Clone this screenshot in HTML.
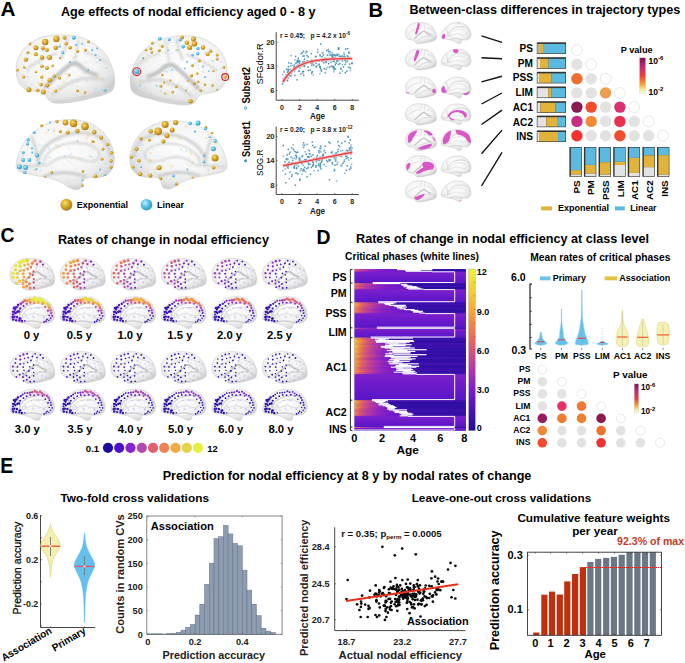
<!DOCTYPE html><html><head><meta charset="utf-8"><style>html,body{margin:0;padding:0;background:#fff;overflow:hidden}svg{display:block}text{font-family:"Liberation Sans",sans-serif}</style></head><body><svg width="685" height="663" viewBox="0 0 685 663" font-family="Liberation Sans, sans-serif"><defs><radialGradient id="bg" cx="0.45" cy="0.4" r="0.62"><stop offset="0" stop-color="#fefefe"/><stop offset="0.6" stop-color="#f4f4f4"/><stop offset="0.86" stop-color="#e4e4e4"/><stop offset="1" stop-color="#cdcdcd"/></radialGradient><radialGradient id="gold" cx="0.38" cy="0.35" r="0.65"><stop offset="0" stop-color="#f7de7a"/><stop offset="0.45" stop-color="#deae2c"/><stop offset="1" stop-color="#a87c12"/></radialGradient><radialGradient id="blue" cx="0.38" cy="0.35" r="0.65"><stop offset="0" stop-color="#c4f0fb"/><stop offset="0.45" stop-color="#62c6ea"/><stop offset="1" stop-color="#2f98c4"/></radialGradient><filter id="sb" x="-10%" y="-10%" width="120%" height="120%"><feGaussianBlur stdDeviation="0.9"/></filter><clipPath id="clat"><path d="M0.1,36.1 C0,32.5 0.4,28.8 1.5,25.3 C2.6,21.9 4.6,18.2 6.8,15.4 C9,12.6 11.9,10.3 14.8,8.2 C17.8,6.1 20.8,4.1 24.5,2.7 C28.2,1.3 33.1,0.5 36.9,0 C40.7,-0.5 44,-0.1 47.5,0 C51,0.1 54.7,0.3 58.2,0.9 C61.8,1.5 65.6,2.4 68.8,3.6 C72,4.8 74.8,6.4 77.6,8.2 C80.4,10 83.2,12.2 85.6,14.5 C88,16.8 90,19 91.8,21.7 C93.6,24.4 95,27.7 96.2,30.7 C97.4,33.7 98.3,36.7 98.9,39.7 C99.5,42.7 99.9,46 99.7,48.7 C99.5,51.4 99,54.1 98,55.9 C97,57.7 95.5,58.5 93.6,59.6 C91.7,60.7 89.5,61.4 86.5,62.3 C83.5,63.2 79.5,64.1 75.9,65 C72.4,65.9 68.8,67 65.2,67.7 C61.7,68.5 58.1,69 54.6,69.5 C51.1,70 47,70.4 44,70.4 C41,70.4 38.8,70.1 36.9,69.5 C35,68.9 33.6,68 32.5,66.8 C31.4,65.6 31.2,63.5 30.2,62.3 C29.2,61.1 28.1,60.3 26.3,59.6 C24.5,58.9 21.6,58.6 19.2,58.1 C16.8,57.6 14.4,57.6 12.2,56.8 C10,56 7.7,54.9 6,53.2 C4.3,51.6 2.9,49.8 1.9,46.9 C0.9,44 0.2,39.7 0.1,36.1Z"/></clipPath><clipPath id="cmed"><path d="M0.1,46.1 C0.2,43.9 0.9,40.1 2,36.7 C3.1,33.3 4.7,28.9 6.8,25.5 C8.9,22.1 11.6,18.9 14.5,16.1 C17.4,13.3 20.6,10.8 24.1,8.6 C27.6,6.4 31.5,4.3 35.6,3 C39.8,1.7 44.9,1.2 49,0.8 C53.1,0.4 56.7,0.4 60.5,0.8 C64.3,1.2 68.5,1.8 72,3 C75.5,4.2 78.7,5.8 81.6,7.7 C84.5,9.6 87.1,11.8 89.3,14.3 C91.5,16.8 93.5,19.8 95,22.7 C96.5,25.6 97.8,29 98.5,32 C99.2,35 99.5,37.9 99.4,40.5 C99.3,43.1 98.8,45.7 97.9,47.9 C97,50.1 95.6,52 94,53.5 C92.4,55 90.7,56.1 88.3,56.9 C85.9,57.7 82.4,58 79.7,58.2 C77,58.4 73.9,57.9 72,58.2 C70.1,58.5 69,59 68.2,60.1 C67.4,61.2 67.7,63.4 67.2,64.8 C66.7,66.2 66.4,67.6 65.3,68.5 C64.2,69.4 62.2,70 60.5,70 C58.8,70 56.7,69.4 54.8,68.5 C52.9,67.6 51.2,66 49,64.8 C46.8,63.5 44.2,62.1 41.3,61 C38.4,59.9 35,59 31.8,58.2 C28.6,57.4 25.4,57 22.2,56.4 C19,55.8 15.5,55.1 12.6,54.5 C9.7,53.9 6.8,53.4 4.9,52.6 C3,51.8 1.9,50.9 1.1,49.8 C0.3,48.7 -0,48.3 0.1,46.1Z"/></clipPath><linearGradient id="pv" x1="0" y1="0" x2="0" y2="1"><stop offset="0" stop-color="#7a1050"/><stop offset="0.25" stop-color="#c42a78"/><stop offset="0.5" stop-color="#f03a3a"/><stop offset="0.72" stop-color="#f59a30"/><stop offset="0.88" stop-color="#f6e79a"/><stop offset="1" stop-color="#fdfbe8"/></linearGradient><linearGradient id="gPS0"><stop offset="0" stop-color="#e36462"/><stop offset="0.03" stop-color="#d5537b"/><stop offset="0.06" stop-color="#c64590"/><stop offset="0.1" stop-color="#b539a4"/><stop offset="0.14" stop-color="#a52fb2"/><stop offset="0.19" stop-color="#9427be"/><stop offset="0.25" stop-color="#8420c6"/><stop offset="0.33" stop-color="#781bcb"/><stop offset="0.38" stop-color="#721ac9"/><stop offset="0.38" stop-color="#390fa9"/><stop offset="1" stop-color="#360fa7"/></linearGradient><linearGradient id="gPS1"><stop offset="0" stop-color="#e46462"/><stop offset="0.03" stop-color="#d3527e"/><stop offset="0.06" stop-color="#c34295"/><stop offset="0.1" stop-color="#af35a9"/><stop offset="0.14" stop-color="#9f2bb8"/><stop offset="0.19" stop-color="#8d24c1"/><stop offset="0.25" stop-color="#7e1dc9"/><stop offset="0.33" stop-color="#741ac9"/><stop offset="0.41" stop-color="#6d18c7"/><stop offset="0.45" stop-color="#6c18c6"/><stop offset="0.45" stop-color="#350ea6"/><stop offset="1" stop-color="#330ea5"/></linearGradient><linearGradient id="gPS2"><stop offset="0" stop-color="#da5873"/><stop offset="0.03" stop-color="#c8478e"/><stop offset="0.06" stop-color="#b73aa2"/><stop offset="0.1" stop-color="#a42eb3"/><stop offset="0.14" stop-color="#9527bd"/><stop offset="0.19" stop-color="#8520c6"/><stop offset="0.25" stop-color="#781bcb"/><stop offset="0.33" stop-color="#7019c8"/><stop offset="0.41" stop-color="#6b18c6"/><stop offset="0.46" stop-color="#6a18c6"/><stop offset="0.46" stop-color="#2d0ca0"/><stop offset="1" stop-color="#2c0c9f"/></linearGradient><linearGradient id="rPS" x1="0" y1="0" x2="0" y2="1"><stop offset="0" stop-color="#7e20cc"/><stop offset="0.5" stop-color="#6a1acb"/><stop offset="1" stop-color="#5816c6"/></linearGradient><linearGradient id="gPM0"><stop offset="0" stop-color="#ee7b4d"/><stop offset="0.03" stop-color="#e06069"/><stop offset="0.06" stop-color="#ce4d85"/><stop offset="0.1" stop-color="#ba3c9f"/><stop offset="0.14" stop-color="#a730b1"/><stop offset="0.16" stop-color="#9c2ab9"/><stop offset="0.16" stop-color="#4611b2"/><stop offset="1" stop-color="#4211af"/></linearGradient><linearGradient id="gPM1"><stop offset="0" stop-color="#f08646"/><stop offset="0.03" stop-color="#e86a5a"/><stop offset="0.06" stop-color="#da5873"/><stop offset="0.1" stop-color="#c8488d"/><stop offset="0.14" stop-color="#b83ba1"/><stop offset="0.19" stop-color="#a42eb3"/><stop offset="0.25" stop-color="#9025c0"/><stop offset="0.33" stop-color="#7f1ec8"/><stop offset="0.41" stop-color="#741aca"/><stop offset="0.42" stop-color="#741ac9"/><stop offset="0.42" stop-color="#350ea6"/><stop offset="1" stop-color="#330ea4"/></linearGradient><linearGradient id="gPM2"><stop offset="0" stop-color="#ea6e56"/><stop offset="0.03" stop-color="#dc5c6f"/><stop offset="0.06" stop-color="#ce4d85"/><stop offset="0.1" stop-color="#be3f9a"/><stop offset="0.14" stop-color="#ae35aa"/><stop offset="0.19" stop-color="#9c2ab9"/><stop offset="0.25" stop-color="#8a23c3"/><stop offset="0.33" stop-color="#7c1dca"/><stop offset="0.41" stop-color="#731ac9"/><stop offset="0.42" stop-color="#721ac9"/><stop offset="0.42" stop-color="#2a0c9e"/><stop offset="1" stop-color="#290b9d"/></linearGradient><linearGradient id="gPM3"><stop offset="0" stop-color="#ef8149"/><stop offset="0.03" stop-color="#e46561"/><stop offset="0.06" stop-color="#d5537b"/><stop offset="0.1" stop-color="#c24296"/><stop offset="0.14" stop-color="#b036a8"/><stop offset="0.19" stop-color="#9c2aba"/><stop offset="0.25" stop-color="#8822c4"/><stop offset="0.33" stop-color="#791bcb"/><stop offset="0.41" stop-color="#7119c8"/><stop offset="0.44" stop-color="#6f19c8"/><stop offset="0.44" stop-color="#2c0c9f"/><stop offset="1" stop-color="#2b0c9e"/></linearGradient><linearGradient id="gPM4"><stop offset="0" stop-color="#e36463"/><stop offset="0.03" stop-color="#d5547a"/><stop offset="0.06" stop-color="#c7468f"/><stop offset="0.1" stop-color="#b63aa2"/><stop offset="0.14" stop-color="#a730b0"/><stop offset="0.19" stop-color="#9628bc"/><stop offset="0.25" stop-color="#8621c5"/><stop offset="0.33" stop-color="#791bcb"/><stop offset="0.41" stop-color="#7119c8"/><stop offset="0.44" stop-color="#7019c8"/><stop offset="0.44" stop-color="#4511b1"/><stop offset="1" stop-color="#4110ae"/></linearGradient><linearGradient id="gPM5"><stop offset="0" stop-color="#ec7651"/><stop offset="0.03" stop-color="#e06069"/><stop offset="0.06" stop-color="#d15080"/><stop offset="0.1" stop-color="#c04098"/><stop offset="0.14" stop-color="#af35a9"/><stop offset="0.19" stop-color="#9d2ab9"/><stop offset="0.25" stop-color="#8a22c3"/><stop offset="0.33" stop-color="#7b1ccb"/><stop offset="0.41" stop-color="#721ac9"/><stop offset="0.47" stop-color="#6e19c7"/><stop offset="0.47" stop-color="#2a0c9e"/><stop offset="1" stop-color="#290b9d"/></linearGradient><linearGradient id="gPM6"><stop offset="0" stop-color="#e56660"/><stop offset="0.03" stop-color="#d75578"/><stop offset="0.06" stop-color="#c8478d"/><stop offset="0.1" stop-color="#b73aa1"/><stop offset="0.14" stop-color="#a831b0"/><stop offset="0.19" stop-color="#9728bc"/><stop offset="0.25" stop-color="#8621c5"/><stop offset="0.33" stop-color="#791bcb"/><stop offset="0.41" stop-color="#7119c8"/><stop offset="0.46" stop-color="#6e19c7"/><stop offset="0.46" stop-color="#320ea4"/><stop offset="1" stop-color="#300da3"/></linearGradient><linearGradient id="gPM7"><stop offset="0" stop-color="#e06069"/><stop offset="0.03" stop-color="#d04f82"/><stop offset="0.06" stop-color="#c14197"/><stop offset="0.1" stop-color="#af35a9"/><stop offset="0.14" stop-color="#a02cb7"/><stop offset="0.19" stop-color="#8e24c1"/><stop offset="0.25" stop-color="#7f1ec8"/><stop offset="0.33" stop-color="#751aca"/><stop offset="0.41" stop-color="#6e19c7"/><stop offset="0.48" stop-color="#6b18c6"/><stop offset="0.48" stop-color="#270b9c"/><stop offset="1" stop-color="#270b9b"/></linearGradient><linearGradient id="rPM" x1="0" y1="0" x2="0" y2="1"><stop offset="0" stop-color="#7e20cc"/><stop offset="0.5" stop-color="#6a1acb"/><stop offset="1" stop-color="#5816c6"/></linearGradient><linearGradient id="gPSS0"><stop offset="0" stop-color="#f5b336"/><stop offset="0.03" stop-color="#f28e42"/><stop offset="0.06" stop-color="#ea6f55"/><stop offset="0.1" stop-color="#da5874"/><stop offset="0.14" stop-color="#c7478e"/><stop offset="0.19" stop-color="#b136a7"/><stop offset="0.21" stop-color="#a730b1"/><stop offset="0.21" stop-color="#4611b2"/><stop offset="1" stop-color="#4211af"/></linearGradient><linearGradient id="gPSS1"><stop offset="0" stop-color="#f4b934"/><stop offset="0.03" stop-color="#f39241"/><stop offset="0.06" stop-color="#eb7054"/><stop offset="0.1" stop-color="#d95874"/><stop offset="0.14" stop-color="#c64690"/><stop offset="0.19" stop-color="#ae35aa"/><stop offset="0.25" stop-color="#9628bc"/><stop offset="0.27" stop-color="#9125bf"/><stop offset="0.27" stop-color="#380fa8"/><stop offset="1" stop-color="#360fa7"/></linearGradient><linearGradient id="gPSS2"><stop offset="0" stop-color="#f4b635"/><stop offset="0.03" stop-color="#f29041"/><stop offset="0.06" stop-color="#eb7054"/><stop offset="0.1" stop-color="#da5873"/><stop offset="0.14" stop-color="#c7478e"/><stop offset="0.19" stop-color="#b036a8"/><stop offset="0.25" stop-color="#9829bb"/><stop offset="0.28" stop-color="#9025c0"/><stop offset="0.28" stop-color="#4311b0"/><stop offset="1" stop-color="#3f10ad"/></linearGradient><linearGradient id="gPSS3"><stop offset="0" stop-color="#f5ac38"/><stop offset="0.03" stop-color="#f18745"/><stop offset="0.06" stop-color="#e8695b"/><stop offset="0.1" stop-color="#d6547a"/><stop offset="0.14" stop-color="#c34394"/><stop offset="0.19" stop-color="#ac33ac"/><stop offset="0.25" stop-color="#9527bd"/><stop offset="0.31" stop-color="#8520c5"/><stop offset="0.31" stop-color="#3e10ac"/><stop offset="1" stop-color="#3a10aa"/></linearGradient><linearGradient id="gPSS4"><stop offset="0" stop-color="#f5a839"/><stop offset="0.03" stop-color="#f08447"/><stop offset="0.06" stop-color="#e7685d"/><stop offset="0.1" stop-color="#d5537b"/><stop offset="0.14" stop-color="#c34394"/><stop offset="0.19" stop-color="#ac33ac"/><stop offset="0.25" stop-color="#9627bd"/><stop offset="0.33" stop-color="#821fc7"/><stop offset="0.35" stop-color="#7d1dca"/><stop offset="0.35" stop-color="#320ea4"/><stop offset="1" stop-color="#300da3"/></linearGradient><linearGradient id="gPSS5"><stop offset="0" stop-color="#f5b436"/><stop offset="0.03" stop-color="#f39141"/><stop offset="0.06" stop-color="#ec7352"/><stop offset="0.1" stop-color="#dd5c6f"/><stop offset="0.14" stop-color="#cc4b88"/><stop offset="0.19" stop-color="#b63aa2"/><stop offset="0.25" stop-color="#9f2bb8"/><stop offset="0.33" stop-color="#8922c3"/><stop offset="0.38" stop-color="#7f1ec9"/><stop offset="0.38" stop-color="#310da3"/><stop offset="1" stop-color="#300da2"/></linearGradient><linearGradient id="gPSS6"><stop offset="0" stop-color="#f49a3e"/><stop offset="0.03" stop-color="#ed7a4e"/><stop offset="0.06" stop-color="#e26364"/><stop offset="0.1" stop-color="#d15080"/><stop offset="0.14" stop-color="#c14197"/><stop offset="0.19" stop-color="#ab33ad"/><stop offset="0.25" stop-color="#9627bd"/><stop offset="0.33" stop-color="#831fc7"/><stop offset="0.38" stop-color="#791bcb"/><stop offset="0.38" stop-color="#3e10ac"/><stop offset="1" stop-color="#3a10aa"/></linearGradient><linearGradient id="gPSS7"><stop offset="0" stop-color="#f49c3d"/><stop offset="0.03" stop-color="#ee7b4d"/><stop offset="0.06" stop-color="#e36363"/><stop offset="0.1" stop-color="#d25080"/><stop offset="0.14" stop-color="#c14197"/><stop offset="0.19" stop-color="#ab33ad"/><stop offset="0.25" stop-color="#9527bd"/><stop offset="0.33" stop-color="#831fc7"/><stop offset="0.4" stop-color="#771bca"/><stop offset="0.4" stop-color="#320ea4"/><stop offset="1" stop-color="#310da3"/></linearGradient><linearGradient id="gPSS8"><stop offset="0" stop-color="#f28e42"/><stop offset="0.03" stop-color="#e86a59"/><stop offset="0.06" stop-color="#d75578"/><stop offset="0.1" stop-color="#c24295"/><stop offset="0.14" stop-color="#ae35aa"/><stop offset="0.19" stop-color="#9829bb"/><stop offset="0.25" stop-color="#8420c6"/><stop offset="0.33" stop-color="#761bca"/><stop offset="0.41" stop-color="#6f19c7"/><stop offset="0.45" stop-color="#6d18c7"/><stop offset="0.45" stop-color="#3d10ac"/><stop offset="1" stop-color="#390fa9"/></linearGradient><linearGradient id="gPSS9"><stop offset="0" stop-color="#f39241"/><stop offset="0.03" stop-color="#ea6f55"/><stop offset="0.06" stop-color="#db5972"/><stop offset="0.1" stop-color="#c64690"/><stop offset="0.14" stop-color="#b338a5"/><stop offset="0.19" stop-color="#9e2bb8"/><stop offset="0.25" stop-color="#8822c4"/><stop offset="0.33" stop-color="#791bcb"/><stop offset="0.41" stop-color="#7019c8"/><stop offset="0.5" stop-color="#6c18c6"/><stop offset="0.5" stop-color="#270b9c"/><stop offset="1" stop-color="#270b9b"/></linearGradient><linearGradient id="gPSS10"><stop offset="0" stop-color="#f08547"/><stop offset="0.03" stop-color="#e8695b"/><stop offset="0.06" stop-color="#d95874"/><stop offset="0.1" stop-color="#c8478e"/><stop offset="0.14" stop-color="#b73aa1"/><stop offset="0.19" stop-color="#a32eb4"/><stop offset="0.25" stop-color="#8f25c0"/><stop offset="0.33" stop-color="#7f1ec9"/><stop offset="0.41" stop-color="#741ac9"/><stop offset="0.52" stop-color="#6d18c7"/><stop offset="0.52" stop-color="#330ea4"/><stop offset="1" stop-color="#310da3"/></linearGradient><linearGradient id="gPSS11"><stop offset="0" stop-color="#f28b43"/><stop offset="0.03" stop-color="#ea6d56"/><stop offset="0.06" stop-color="#dc5b70"/><stop offset="0.1" stop-color="#cb4a8a"/><stop offset="0.14" stop-color="#ba3c9f"/><stop offset="0.19" stop-color="#a62fb2"/><stop offset="0.25" stop-color="#9125bf"/><stop offset="0.33" stop-color="#801ec8"/><stop offset="0.41" stop-color="#751aca"/><stop offset="0.53" stop-color="#6e19c7"/><stop offset="0.53" stop-color="#6d18c7"/><stop offset="0.53" stop-color="#3d10ac"/><stop offset="1" stop-color="#3a10aa"/></linearGradient><linearGradient id="gPSS12"><stop offset="0" stop-color="#ec7551"/><stop offset="0.03" stop-color="#df5f6a"/><stop offset="0.06" stop-color="#d04f82"/><stop offset="0.1" stop-color="#bf3f9a"/><stop offset="0.14" stop-color="#ae34aa"/><stop offset="0.19" stop-color="#9b2aba"/><stop offset="0.25" stop-color="#8922c4"/><stop offset="0.33" stop-color="#7a1ccb"/><stop offset="0.41" stop-color="#721ac9"/><stop offset="0.53" stop-color="#6c18c6"/><stop offset="0.59" stop-color="#6a18c6"/><stop offset="0.59" stop-color="#390fa9"/><stop offset="1" stop-color="#370fa7"/></linearGradient><linearGradient id="rPSS" x1="0" y1="0" x2="0" y2="1"><stop offset="0" stop-color="#7e20cc"/><stop offset="0.5" stop-color="#6a1acb"/><stop offset="1" stop-color="#5816c6"/></linearGradient><linearGradient id="gLIM0"><stop offset="0" stop-color="#e7685c"/><stop offset="0.03" stop-color="#d85677"/><stop offset="0.06" stop-color="#c8478d"/><stop offset="0.1" stop-color="#b63aa2"/><stop offset="0.14" stop-color="#a630b1"/><stop offset="0.19" stop-color="#9427bd"/><stop offset="0.2" stop-color="#9125bf"/><stop offset="0.2" stop-color="#2e0da1"/><stop offset="1" stop-color="#2c0ca0"/></linearGradient><linearGradient id="rLIM" x1="0" y1="0" x2="0" y2="1"><stop offset="0" stop-color="#7e20cc"/><stop offset="0.5" stop-color="#6a1acb"/><stop offset="1" stop-color="#5816c6"/></linearGradient><linearGradient id="gAC10"><stop offset="0" stop-color="#f0d930"/><stop offset="0.03" stop-color="#f5b436"/><stop offset="0.06" stop-color="#f39141"/><stop offset="0.1" stop-color="#ea6e56"/><stop offset="0.14" stop-color="#da5973"/><stop offset="0.14" stop-color="#d85677"/><stop offset="0.14" stop-color="#4311b0"/><stop offset="1" stop-color="#3f10ad"/></linearGradient><linearGradient id="gAC11"><stop offset="0" stop-color="#f1d130"/><stop offset="0.03" stop-color="#f5a43b"/><stop offset="0.06" stop-color="#ee7c4d"/><stop offset="0.1" stop-color="#dd5c6e"/><stop offset="0.14" stop-color="#c8478e"/><stop offset="0.18" stop-color="#af35a9"/><stop offset="0.18" stop-color="#390fa9"/><stop offset="1" stop-color="#370fa7"/></linearGradient><linearGradient id="gAC12"><stop offset="0" stop-color="#f1d030"/><stop offset="0.03" stop-color="#f5a73a"/><stop offset="0.06" stop-color="#f08348"/><stop offset="0.1" stop-color="#e26265"/><stop offset="0.14" stop-color="#d04e83"/><stop offset="0.19" stop-color="#b83ba1"/><stop offset="0.21" stop-color="#ac33ac"/><stop offset="0.21" stop-color="#310da3"/><stop offset="1" stop-color="#300da2"/></linearGradient><linearGradient id="gAC13"><stop offset="0" stop-color="#efdc30"/><stop offset="0.03" stop-color="#f5b436"/><stop offset="0.06" stop-color="#f28d42"/><stop offset="0.1" stop-color="#e7695c"/><stop offset="0.14" stop-color="#d5537b"/><stop offset="0.19" stop-color="#be3e9b"/><stop offset="0.19" stop-color="#3e10ad"/><stop offset="1" stop-color="#3b10aa"/></linearGradient><linearGradient id="gAC14"><stop offset="0" stop-color="#f2ca31"/><stop offset="0.03" stop-color="#f5a13c"/><stop offset="0.06" stop-color="#ee7d4c"/><stop offset="0.1" stop-color="#df5f6a"/><stop offset="0.14" stop-color="#cc4b88"/><stop offset="0.19" stop-color="#b438a5"/><stop offset="0.19" stop-color="#b237a6"/><stop offset="0.19" stop-color="#2e0da1"/><stop offset="1" stop-color="#2c0ca0"/></linearGradient><linearGradient id="gAC15"><stop offset="0" stop-color="#f0d930"/><stop offset="0.03" stop-color="#f5ae38"/><stop offset="0.06" stop-color="#f18646"/><stop offset="0.1" stop-color="#e36363"/><stop offset="0.14" stop-color="#cf4e83"/><stop offset="0.19" stop-color="#b639a3"/><stop offset="0.19" stop-color="#b338a5"/><stop offset="0.19" stop-color="#2f0da1"/><stop offset="1" stop-color="#2d0ca0"/></linearGradient><linearGradient id="gAC16"><stop offset="0" stop-color="#f1d330"/><stop offset="0.03" stop-color="#f5ab39"/><stop offset="0.06" stop-color="#f08646"/><stop offset="0.1" stop-color="#e46462"/><stop offset="0.14" stop-color="#d15080"/><stop offset="0.19" stop-color="#b93c9f"/><stop offset="0.25" stop-color="#9f2bb8"/><stop offset="0.3" stop-color="#8e24c0"/><stop offset="0.3" stop-color="#3c10ab"/><stop offset="1" stop-color="#390fa9"/></linearGradient><linearGradient id="gAC17"><stop offset="0" stop-color="#efdd30"/><stop offset="0.03" stop-color="#f5b237"/><stop offset="0.06" stop-color="#f18944"/><stop offset="0.1" stop-color="#e46561"/><stop offset="0.14" stop-color="#d04f81"/><stop offset="0.19" stop-color="#b73aa2"/><stop offset="0.25" stop-color="#9c2ab9"/><stop offset="0.27" stop-color="#9326be"/><stop offset="0.27" stop-color="#4511b2"/><stop offset="1" stop-color="#4110af"/></linearGradient><linearGradient id="gAC18"><stop offset="0" stop-color="#f2cd31"/><stop offset="0.03" stop-color="#f5a23b"/><stop offset="0.06" stop-color="#ee7c4c"/><stop offset="0.1" stop-color="#de5e6c"/><stop offset="0.14" stop-color="#ca4a8a"/><stop offset="0.19" stop-color="#b137a7"/><stop offset="0.25" stop-color="#9828bc"/><stop offset="0.31" stop-color="#8520c5"/><stop offset="0.31" stop-color="#3f10ad"/><stop offset="1" stop-color="#3b10ab"/></linearGradient><linearGradient id="gAC19"><stop offset="0" stop-color="#f1d530"/><stop offset="0.03" stop-color="#f5ac38"/><stop offset="0.06" stop-color="#f08546"/><stop offset="0.1" stop-color="#e36463"/><stop offset="0.14" stop-color="#d04f82"/><stop offset="0.19" stop-color="#b73aa1"/><stop offset="0.25" stop-color="#9d2bb9"/><stop offset="0.27" stop-color="#9427bd"/><stop offset="0.27" stop-color="#350ea6"/><stop offset="1" stop-color="#330ea5"/></linearGradient><linearGradient id="gAC110"><stop offset="0" stop-color="#f2cb31"/><stop offset="0.03" stop-color="#f5a13c"/><stop offset="0.06" stop-color="#ee7c4c"/><stop offset="0.1" stop-color="#df5e6b"/><stop offset="0.14" stop-color="#cb4a89"/><stop offset="0.19" stop-color="#b337a6"/><stop offset="0.23" stop-color="#a02cb7"/><stop offset="0.23" stop-color="#3f10ad"/><stop offset="1" stop-color="#3c10ab"/></linearGradient><linearGradient id="gAC111"><stop offset="0" stop-color="#f1d230"/><stop offset="0.03" stop-color="#f5a839"/><stop offset="0.06" stop-color="#f08348"/><stop offset="0.1" stop-color="#e26265"/><stop offset="0.14" stop-color="#cf4e84"/><stop offset="0.19" stop-color="#b63aa2"/><stop offset="0.24" stop-color="#a12cb6"/><stop offset="0.24" stop-color="#4511b1"/><stop offset="1" stop-color="#4110ae"/></linearGradient><linearGradient id="gAC112"><stop offset="0" stop-color="#f4c032"/><stop offset="0.03" stop-color="#f3983f"/><stop offset="0.06" stop-color="#ec7551"/><stop offset="0.1" stop-color="#dc5b70"/><stop offset="0.14" stop-color="#c9488d"/><stop offset="0.19" stop-color="#b136a8"/><stop offset="0.25" stop-color="#9828bb"/><stop offset="0.27" stop-color="#9125bf"/><stop offset="0.27" stop-color="#380fa9"/><stop offset="1" stop-color="#360fa7"/></linearGradient><linearGradient id="gAC113"><stop offset="0" stop-color="#f1d030"/><stop offset="0.03" stop-color="#f5a839"/><stop offset="0.06" stop-color="#f08447"/><stop offset="0.1" stop-color="#e46462"/><stop offset="0.14" stop-color="#d25080"/><stop offset="0.19" stop-color="#ba3c9e"/><stop offset="0.25" stop-color="#a12cb6"/><stop offset="0.32" stop-color="#8b23c2"/><stop offset="0.32" stop-color="#310da3"/><stop offset="1" stop-color="#300da2"/></linearGradient><linearGradient id="gAC114"><stop offset="0" stop-color="#f2cb31"/><stop offset="0.03" stop-color="#f5a53a"/><stop offset="0.06" stop-color="#f08348"/><stop offset="0.1" stop-color="#e36462"/><stop offset="0.14" stop-color="#d2517f"/><stop offset="0.19" stop-color="#bc3d9d"/><stop offset="0.25" stop-color="#a22db5"/><stop offset="0.33" stop-color="#8b23c2"/><stop offset="0.33" stop-color="#8922c3"/><stop offset="0.33" stop-color="#2f0da2"/><stop offset="1" stop-color="#2e0da1"/></linearGradient><linearGradient id="gAC115"><stop offset="0" stop-color="#f3c431"/><stop offset="0.03" stop-color="#f3973f"/><stop offset="0.06" stop-color="#eb7253"/><stop offset="0.1" stop-color="#d95775"/><stop offset="0.14" stop-color="#c44493"/><stop offset="0.19" stop-color="#aa32ae"/><stop offset="0.25" stop-color="#9125bf"/><stop offset="0.29" stop-color="#8521c5"/><stop offset="0.29" stop-color="#3c10ab"/><stop offset="1" stop-color="#390fa9"/></linearGradient><linearGradient id="gAC116"><stop offset="0" stop-color="#f3c431"/><stop offset="0.03" stop-color="#f3973f"/><stop offset="0.06" stop-color="#eb7253"/><stop offset="0.1" stop-color="#d85676"/><stop offset="0.14" stop-color="#c34394"/><stop offset="0.19" stop-color="#a932ae"/><stop offset="0.25" stop-color="#9025bf"/><stop offset="0.33" stop-color="#7d1dca"/><stop offset="0.34" stop-color="#7a1ccb"/><stop offset="0.34" stop-color="#390fa9"/><stop offset="1" stop-color="#360fa7"/></linearGradient><linearGradient id="gAC117"><stop offset="0" stop-color="#f3c831"/><stop offset="0.03" stop-color="#f49d3d"/><stop offset="0.06" stop-color="#ed784f"/><stop offset="0.1" stop-color="#dc5b70"/><stop offset="0.14" stop-color="#c8478e"/><stop offset="0.19" stop-color="#ae35aa"/><stop offset="0.25" stop-color="#9527bd"/><stop offset="0.33" stop-color="#801ec8"/><stop offset="0.34" stop-color="#7d1dca"/><stop offset="0.34" stop-color="#2b0c9e"/><stop offset="1" stop-color="#2a0c9e"/></linearGradient><linearGradient id="gAC118"><stop offset="0" stop-color="#f3c731"/><stop offset="0.03" stop-color="#f49b3e"/><stop offset="0.06" stop-color="#ec7551"/><stop offset="0.1" stop-color="#da5972"/><stop offset="0.14" stop-color="#c64590"/><stop offset="0.19" stop-color="#ac34ab"/><stop offset="0.25" stop-color="#9326be"/><stop offset="0.31" stop-color="#831fc7"/><stop offset="0.31" stop-color="#340ea5"/><stop offset="1" stop-color="#320ea4"/></linearGradient><linearGradient id="gAC119"><stop offset="0" stop-color="#f4bf33"/><stop offset="0.03" stop-color="#f3983f"/><stop offset="0.06" stop-color="#ec7650"/><stop offset="0.1" stop-color="#dd5c6e"/><stop offset="0.14" stop-color="#ca498a"/><stop offset="0.19" stop-color="#b338a5"/><stop offset="0.25" stop-color="#9b29ba"/><stop offset="0.27" stop-color="#9226be"/><stop offset="0.27" stop-color="#4511b1"/><stop offset="1" stop-color="#4010ae"/></linearGradient><linearGradient id="gAC120"><stop offset="0" stop-color="#f5b237"/><stop offset="0.03" stop-color="#f28e42"/><stop offset="0.06" stop-color="#eb7055"/><stop offset="0.1" stop-color="#da5973"/><stop offset="0.14" stop-color="#c9488d"/><stop offset="0.19" stop-color="#b237a6"/><stop offset="0.25" stop-color="#9b2aba"/><stop offset="0.33" stop-color="#8621c5"/><stop offset="0.35" stop-color="#811fc8"/><stop offset="0.35" stop-color="#270b9c"/><stop offset="1" stop-color="#270b9c"/></linearGradient><linearGradient id="gAC121"><stop offset="0" stop-color="#f4c032"/><stop offset="0.03" stop-color="#f49a3e"/><stop offset="0.06" stop-color="#ed794f"/><stop offset="0.1" stop-color="#de5e6c"/><stop offset="0.14" stop-color="#cc4b88"/><stop offset="0.19" stop-color="#b539a3"/><stop offset="0.25" stop-color="#9d2ab9"/><stop offset="0.28" stop-color="#9326be"/><stop offset="0.28" stop-color="#330ea5"/><stop offset="1" stop-color="#320ea4"/></linearGradient><linearGradient id="gAC122"><stop offset="0" stop-color="#f3c631"/><stop offset="0.03" stop-color="#f49c3d"/><stop offset="0.06" stop-color="#ed784f"/><stop offset="0.1" stop-color="#dc5c6f"/><stop offset="0.14" stop-color="#c9488c"/><stop offset="0.19" stop-color="#b036a8"/><stop offset="0.25" stop-color="#9728bc"/><stop offset="0.27" stop-color="#9025c0"/><stop offset="0.27" stop-color="#280b9c"/><stop offset="1" stop-color="#270b9c"/></linearGradient><linearGradient id="gAC123"><stop offset="0" stop-color="#f5b137"/><stop offset="0.03" stop-color="#f28a43"/><stop offset="0.06" stop-color="#e86a5a"/><stop offset="0.1" stop-color="#d5547b"/><stop offset="0.14" stop-color="#c24296"/><stop offset="0.19" stop-color="#aa32ae"/><stop offset="0.25" stop-color="#9326be"/><stop offset="0.32" stop-color="#801ec8"/><stop offset="0.32" stop-color="#4311b0"/><stop offset="1" stop-color="#3f10ad"/></linearGradient><linearGradient id="gAC124"><stop offset="0" stop-color="#f4c332"/><stop offset="0.03" stop-color="#f39540"/><stop offset="0.06" stop-color="#ea6f55"/><stop offset="0.1" stop-color="#d65579"/><stop offset="0.14" stop-color="#c14197"/><stop offset="0.19" stop-color="#a730b1"/><stop offset="0.25" stop-color="#8e24c1"/><stop offset="0.33" stop-color="#7b1ccb"/><stop offset="0.33" stop-color="#7b1ccb"/><stop offset="0.33" stop-color="#3d10ac"/><stop offset="1" stop-color="#3a10aa"/></linearGradient><linearGradient id="gAC125"><stop offset="0" stop-color="#f5ae38"/><stop offset="0.03" stop-color="#f08447"/><stop offset="0.06" stop-color="#e46462"/><stop offset="0.1" stop-color="#cf4d84"/><stop offset="0.14" stop-color="#ba3c9e"/><stop offset="0.19" stop-color="#a22db5"/><stop offset="0.25" stop-color="#8b23c2"/><stop offset="0.33" stop-color="#791bcb"/><stop offset="0.36" stop-color="#751aca"/><stop offset="0.36" stop-color="#3f10ad"/><stop offset="1" stop-color="#3b10aa"/></linearGradient><linearGradient id="gAC126"><stop offset="0" stop-color="#f5b137"/><stop offset="0.03" stop-color="#f18844"/><stop offset="0.06" stop-color="#e7685c"/><stop offset="0.1" stop-color="#d3517e"/><stop offset="0.14" stop-color="#c04099"/><stop offset="0.19" stop-color="#a730b0"/><stop offset="0.25" stop-color="#9025c0"/><stop offset="0.31" stop-color="#801ec8"/><stop offset="0.31" stop-color="#280b9d"/><stop offset="1" stop-color="#280b9c"/></linearGradient><linearGradient id="gAC127"><stop offset="0" stop-color="#f5a73a"/><stop offset="0.03" stop-color="#f08248"/><stop offset="0.06" stop-color="#e5665f"/><stop offset="0.1" stop-color="#d3517f"/><stop offset="0.14" stop-color="#c14098"/><stop offset="0.19" stop-color="#a931af"/><stop offset="0.25" stop-color="#9226be"/><stop offset="0.33" stop-color="#801ec8"/><stop offset="0.35" stop-color="#7b1ccb"/><stop offset="0.35" stop-color="#350ea6"/><stop offset="1" stop-color="#330ea4"/></linearGradient><linearGradient id="gAC128"><stop offset="0" stop-color="#f4b735"/><stop offset="0.03" stop-color="#f39141"/><stop offset="0.06" stop-color="#eb7154"/><stop offset="0.1" stop-color="#da5972"/><stop offset="0.14" stop-color="#c8478d"/><stop offset="0.19" stop-color="#b136a7"/><stop offset="0.25" stop-color="#9929bb"/><stop offset="0.3" stop-color="#8b23c2"/><stop offset="0.3" stop-color="#320ea4"/><stop offset="1" stop-color="#300da3"/></linearGradient><linearGradient id="gAC129"><stop offset="0" stop-color="#f4b635"/><stop offset="0.03" stop-color="#f29141"/><stop offset="0.06" stop-color="#eb7154"/><stop offset="0.1" stop-color="#db5972"/><stop offset="0.14" stop-color="#c9488c"/><stop offset="0.19" stop-color="#b237a6"/><stop offset="0.25" stop-color="#9a29ba"/><stop offset="0.33" stop-color="#8521c5"/><stop offset="0.34" stop-color="#821fc7"/><stop offset="0.34" stop-color="#300da3"/><stop offset="1" stop-color="#2f0da2"/></linearGradient><linearGradient id="gAC130"><stop offset="0" stop-color="#f5b037"/><stop offset="0.03" stop-color="#f28a43"/><stop offset="0.06" stop-color="#ea6c57"/><stop offset="0.1" stop-color="#d85677"/><stop offset="0.14" stop-color="#c54592"/><stop offset="0.19" stop-color="#ae35aa"/><stop offset="0.25" stop-color="#9728bc"/><stop offset="0.31" stop-color="#8721c4"/><stop offset="0.31" stop-color="#3f10ad"/><stop offset="1" stop-color="#3b10ab"/></linearGradient><linearGradient id="gAC131"><stop offset="0" stop-color="#f4b835"/><stop offset="0.03" stop-color="#f39340"/><stop offset="0.06" stop-color="#eb7353"/><stop offset="0.1" stop-color="#db5a71"/><stop offset="0.14" stop-color="#c9488c"/><stop offset="0.19" stop-color="#b237a6"/><stop offset="0.25" stop-color="#9a29ba"/><stop offset="0.31" stop-color="#8721c4"/><stop offset="0.31" stop-color="#4311b0"/><stop offset="1" stop-color="#3f10ad"/></linearGradient><linearGradient id="gAC132"><stop offset="0" stop-color="#f4b935"/><stop offset="0.03" stop-color="#f29041"/><stop offset="0.06" stop-color="#ea6e56"/><stop offset="0.1" stop-color="#d85676"/><stop offset="0.14" stop-color="#c54492"/><stop offset="0.19" stop-color="#ac33ac"/><stop offset="0.25" stop-color="#9427be"/><stop offset="0.33" stop-color="#801ec8"/><stop offset="0.4" stop-color="#751aca"/><stop offset="0.4" stop-color="#380fa8"/><stop offset="1" stop-color="#360fa7"/></linearGradient><linearGradient id="gAC133"><stop offset="0" stop-color="#f5ad38"/><stop offset="0.03" stop-color="#f18944"/><stop offset="0.06" stop-color="#e96b58"/><stop offset="0.1" stop-color="#d85677"/><stop offset="0.14" stop-color="#c64590"/><stop offset="0.19" stop-color="#af35a9"/><stop offset="0.25" stop-color="#9929bb"/><stop offset="0.33" stop-color="#8420c6"/><stop offset="0.37" stop-color="#7c1dca"/><stop offset="0.37" stop-color="#4211af"/><stop offset="1" stop-color="#3e10ac"/></linearGradient><linearGradient id="gAC134"><stop offset="0" stop-color="#f49f3c"/><stop offset="0.03" stop-color="#ef7f4a"/><stop offset="0.06" stop-color="#e5665f"/><stop offset="0.1" stop-color="#d5537b"/><stop offset="0.14" stop-color="#c44493"/><stop offset="0.19" stop-color="#af35a9"/><stop offset="0.25" stop-color="#9929bb"/><stop offset="0.33" stop-color="#8621c5"/><stop offset="0.36" stop-color="#7e1ec9"/><stop offset="0.36" stop-color="#310da3"/><stop offset="1" stop-color="#2f0da2"/></linearGradient><linearGradient id="gAC135"><stop offset="0" stop-color="#f49a3e"/><stop offset="0.03" stop-color="#ec7650"/><stop offset="0.06" stop-color="#df5f6a"/><stop offset="0.1" stop-color="#cc4b88"/><stop offset="0.14" stop-color="#b93c9f"/><stop offset="0.19" stop-color="#a32eb4"/><stop offset="0.25" stop-color="#8d24c1"/><stop offset="0.33" stop-color="#7c1dca"/><stop offset="0.33" stop-color="#7c1dca"/><stop offset="0.33" stop-color="#2a0c9e"/><stop offset="1" stop-color="#290b9d"/></linearGradient><linearGradient id="gAC136"><stop offset="0" stop-color="#f3973f"/><stop offset="0.03" stop-color="#ec7452"/><stop offset="0.06" stop-color="#de5d6c"/><stop offset="0.1" stop-color="#ca4a8a"/><stop offset="0.14" stop-color="#b83ba0"/><stop offset="0.19" stop-color="#a22db5"/><stop offset="0.25" stop-color="#8d24c1"/><stop offset="0.33" stop-color="#7c1cca"/><stop offset="0.38" stop-color="#751aca"/><stop offset="0.38" stop-color="#4411b0"/><stop offset="1" stop-color="#3f10ae"/></linearGradient><linearGradient id="gAC137"><stop offset="0" stop-color="#f5a43b"/><stop offset="0.03" stop-color="#f08248"/><stop offset="0.06" stop-color="#e6685d"/><stop offset="0.1" stop-color="#d6547a"/><stop offset="0.14" stop-color="#c54492"/><stop offset="0.19" stop-color="#af35a9"/><stop offset="0.25" stop-color="#9929bb"/><stop offset="0.33" stop-color="#8520c5"/><stop offset="0.37" stop-color="#7c1dca"/><stop offset="0.37" stop-color="#390fa9"/><stop offset="1" stop-color="#360fa7"/></linearGradient><linearGradient id="gAC138"><stop offset="0" stop-color="#f5a939"/><stop offset="0.03" stop-color="#f18646"/><stop offset="0.06" stop-color="#e8695b"/><stop offset="0.1" stop-color="#d65579"/><stop offset="0.14" stop-color="#c54492"/><stop offset="0.19" stop-color="#ae35aa"/><stop offset="0.25" stop-color="#9728bc"/><stop offset="0.33" stop-color="#8420c6"/><stop offset="0.39" stop-color="#791bcb"/><stop offset="0.39" stop-color="#340ea6"/><stop offset="1" stop-color="#330ea4"/></linearGradient><linearGradient id="gAC139"><stop offset="0" stop-color="#f3983f"/><stop offset="0.03" stop-color="#ec7650"/><stop offset="0.06" stop-color="#df5f6a"/><stop offset="0.1" stop-color="#cd4c87"/><stop offset="0.14" stop-color="#bb3d9e"/><stop offset="0.19" stop-color="#a52fb2"/><stop offset="0.25" stop-color="#8f25c0"/><stop offset="0.33" stop-color="#7e1dc9"/><stop offset="0.37" stop-color="#771bcb"/><stop offset="0.37" stop-color="#3f10ad"/><stop offset="1" stop-color="#3b10ab"/></linearGradient><linearGradient id="gAC140"><stop offset="0" stop-color="#f5a53a"/><stop offset="0.03" stop-color="#ef8249"/><stop offset="0.06" stop-color="#e6675e"/><stop offset="0.1" stop-color="#d4537c"/><stop offset="0.14" stop-color="#c34395"/><stop offset="0.19" stop-color="#ac33ac"/><stop offset="0.25" stop-color="#9627bd"/><stop offset="0.33" stop-color="#831fc7"/><stop offset="0.41" stop-color="#761bca"/><stop offset="0.44" stop-color="#741ac9"/><stop offset="0.44" stop-color="#370fa8"/><stop offset="1" stop-color="#350ea6"/></linearGradient><linearGradient id="gAC141"><stop offset="0" stop-color="#f49e3d"/><stop offset="0.03" stop-color="#ef7e4b"/><stop offset="0.06" stop-color="#e56660"/><stop offset="0.1" stop-color="#d5537c"/><stop offset="0.14" stop-color="#c44493"/><stop offset="0.19" stop-color="#af35a9"/><stop offset="0.25" stop-color="#9929bb"/><stop offset="0.33" stop-color="#8621c5"/><stop offset="0.35" stop-color="#801ec8"/><stop offset="0.35" stop-color="#340ea6"/><stop offset="1" stop-color="#320ea4"/></linearGradient><linearGradient id="gAC142"><stop offset="0" stop-color="#f28d42"/><stop offset="0.03" stop-color="#ea6c57"/><stop offset="0.06" stop-color="#da5874"/><stop offset="0.1" stop-color="#c64590"/><stop offset="0.14" stop-color="#b338a5"/><stop offset="0.19" stop-color="#9e2bb8"/><stop offset="0.25" stop-color="#8922c3"/><stop offset="0.33" stop-color="#7a1ccb"/><stop offset="0.41" stop-color="#7119c8"/><stop offset="0.43" stop-color="#7019c8"/><stop offset="0.43" stop-color="#380fa9"/><stop offset="1" stop-color="#360fa7"/></linearGradient><linearGradient id="gAC143"><stop offset="0" stop-color="#f49b3e"/><stop offset="0.03" stop-color="#ed7a4e"/><stop offset="0.06" stop-color="#e26265"/><stop offset="0.1" stop-color="#d04e82"/><stop offset="0.14" stop-color="#bf3f9a"/><stop offset="0.19" stop-color="#a831af"/><stop offset="0.25" stop-color="#9326be"/><stop offset="0.33" stop-color="#811ec8"/><stop offset="0.41" stop-color="#751aca"/><stop offset="0.43" stop-color="#731ac9"/><stop offset="0.43" stop-color="#3e10ad"/><stop offset="1" stop-color="#3b10aa"/></linearGradient><linearGradient id="rAC1" x1="0" y1="0" x2="0" y2="1"><stop offset="0" stop-color="#7e20cc"/><stop offset="0.5" stop-color="#6a1acb"/><stop offset="1" stop-color="#5816c6"/></linearGradient><linearGradient id="gAC20"><stop offset="0" stop-color="#f4c132"/><stop offset="0.03" stop-color="#f3963f"/><stop offset="0.06" stop-color="#eb7154"/><stop offset="0.1" stop-color="#d95776"/><stop offset="0.14" stop-color="#c44493"/><stop offset="0.16" stop-color="#ba3c9e"/><stop offset="0.16" stop-color="#4010ae"/><stop offset="1" stop-color="#3d10ac"/></linearGradient><linearGradient id="gAC21"><stop offset="0" stop-color="#f4be33"/><stop offset="0.03" stop-color="#f39141"/><stop offset="0.06" stop-color="#ea6d57"/><stop offset="0.1" stop-color="#d5547b"/><stop offset="0.14" stop-color="#c14198"/><stop offset="0.18" stop-color="#aa32ad"/><stop offset="0.18" stop-color="#4010ae"/><stop offset="1" stop-color="#3c10ab"/></linearGradient><linearGradient id="gAC22"><stop offset="0" stop-color="#f5aa39"/><stop offset="0.03" stop-color="#f08646"/><stop offset="0.06" stop-color="#e7695b"/><stop offset="0.1" stop-color="#d6547a"/><stop offset="0.14" stop-color="#c44393"/><stop offset="0.19" stop-color="#ad34ab"/><stop offset="0.19" stop-color="#ab33ad"/><stop offset="0.19" stop-color="#350ea6"/><stop offset="1" stop-color="#330ea4"/></linearGradient><linearGradient id="gAC23"><stop offset="0" stop-color="#f5b436"/><stop offset="0.03" stop-color="#f28a43"/><stop offset="0.06" stop-color="#e8695b"/><stop offset="0.1" stop-color="#d3527d"/><stop offset="0.14" stop-color="#c04099"/><stop offset="0.19" stop-color="#a730b1"/><stop offset="0.23" stop-color="#9828bc"/><stop offset="0.23" stop-color="#310da3"/><stop offset="1" stop-color="#2f0da2"/></linearGradient><linearGradient id="gAC24"><stop offset="0" stop-color="#f5a23b"/><stop offset="0.03" stop-color="#ee7b4d"/><stop offset="0.06" stop-color="#e06069"/><stop offset="0.1" stop-color="#cb4a89"/><stop offset="0.14" stop-color="#b73aa1"/><stop offset="0.19" stop-color="#a02cb7"/><stop offset="0.21" stop-color="#9828bc"/><stop offset="0.21" stop-color="#2a0c9e"/><stop offset="1" stop-color="#290b9d"/></linearGradient><linearGradient id="gAC25"><stop offset="0" stop-color="#f5b336"/><stop offset="0.03" stop-color="#f28e42"/><stop offset="0.06" stop-color="#ea6e56"/><stop offset="0.1" stop-color="#d95775"/><stop offset="0.14" stop-color="#c7468f"/><stop offset="0.19" stop-color="#b036a8"/><stop offset="0.22" stop-color="#a32eb4"/><stop offset="0.22" stop-color="#330ea5"/><stop offset="1" stop-color="#310da3"/></linearGradient><linearGradient id="gAC26"><stop offset="0" stop-color="#f5a63a"/><stop offset="0.03" stop-color="#f08447"/><stop offset="0.06" stop-color="#e8695b"/><stop offset="0.1" stop-color="#d75578"/><stop offset="0.14" stop-color="#c64690"/><stop offset="0.19" stop-color="#b036a8"/><stop offset="0.25" stop-color="#9a29ba"/><stop offset="0.25" stop-color="#9a29bb"/><stop offset="0.25" stop-color="#310da3"/><stop offset="1" stop-color="#2f0da2"/></linearGradient><linearGradient id="gAC27"><stop offset="0" stop-color="#f49e3d"/><stop offset="0.03" stop-color="#ee7d4c"/><stop offset="0.06" stop-color="#e36463"/><stop offset="0.1" stop-color="#d25080"/><stop offset="0.14" stop-color="#c14198"/><stop offset="0.19" stop-color="#aa32ad"/><stop offset="0.25" stop-color="#9527bd"/><stop offset="0.28" stop-color="#8c23c2"/><stop offset="0.28" stop-color="#2d0ca0"/><stop offset="1" stop-color="#2c0c9f"/></linearGradient><linearGradient id="gAC28"><stop offset="0" stop-color="#f5a839"/><stop offset="0.03" stop-color="#ef7f4b"/><stop offset="0.06" stop-color="#e16166"/><stop offset="0.1" stop-color="#cc4b88"/><stop offset="0.14" stop-color="#b73aa1"/><stop offset="0.19" stop-color="#a02cb7"/><stop offset="0.25" stop-color="#8922c4"/><stop offset="0.29" stop-color="#7e1dc9"/><stop offset="0.29" stop-color="#370fa8"/><stop offset="1" stop-color="#350ea6"/></linearGradient><linearGradient id="gAC29"><stop offset="0" stop-color="#f49f3c"/><stop offset="0.03" stop-color="#ed784f"/><stop offset="0.06" stop-color="#de5e6b"/><stop offset="0.1" stop-color="#c9498c"/><stop offset="0.14" stop-color="#b539a3"/><stop offset="0.19" stop-color="#9e2bb8"/><stop offset="0.25" stop-color="#8822c4"/><stop offset="0.3" stop-color="#7d1dca"/><stop offset="0.3" stop-color="#300da2"/><stop offset="1" stop-color="#2e0da1"/></linearGradient><linearGradient id="gAC210"><stop offset="0" stop-color="#f39540"/><stop offset="0.03" stop-color="#eb7154"/><stop offset="0.06" stop-color="#db5a70"/><stop offset="0.1" stop-color="#c7478f"/><stop offset="0.14" stop-color="#b438a5"/><stop offset="0.19" stop-color="#9e2bb8"/><stop offset="0.25" stop-color="#8922c4"/><stop offset="0.29" stop-color="#7f1ec9"/><stop offset="0.29" stop-color="#380fa9"/><stop offset="1" stop-color="#360fa7"/></linearGradient><linearGradient id="gAC211"><stop offset="0" stop-color="#f5a23b"/><stop offset="0.03" stop-color="#ee7b4d"/><stop offset="0.06" stop-color="#e06068"/><stop offset="0.1" stop-color="#cc4b87"/><stop offset="0.14" stop-color="#b93ba0"/><stop offset="0.19" stop-color="#a22db5"/><stop offset="0.25" stop-color="#8b23c2"/><stop offset="0.31" stop-color="#7d1dc9"/><stop offset="0.31" stop-color="#3d10ac"/><stop offset="1" stop-color="#3a10aa"/></linearGradient><linearGradient id="gAC212"><stop offset="0" stop-color="#f28c43"/><stop offset="0.03" stop-color="#ea6d57"/><stop offset="0.06" stop-color="#db5a71"/><stop offset="0.1" stop-color="#c9488c"/><stop offset="0.14" stop-color="#b83ba0"/><stop offset="0.19" stop-color="#a32eb4"/><stop offset="0.25" stop-color="#8f24c0"/><stop offset="0.33" stop-color="#7e1dc9"/><stop offset="0.34" stop-color="#7b1ccb"/><stop offset="0.34" stop-color="#380fa8"/><stop offset="1" stop-color="#350ea6"/></linearGradient><linearGradient id="gAC213"><stop offset="0" stop-color="#f08646"/><stop offset="0.03" stop-color="#e5665f"/><stop offset="0.06" stop-color="#d5537b"/><stop offset="0.1" stop-color="#c14197"/><stop offset="0.14" stop-color="#ad34ab"/><stop offset="0.19" stop-color="#9929bb"/><stop offset="0.25" stop-color="#8520c5"/><stop offset="0.33" stop-color="#771bcb"/><stop offset="0.36" stop-color="#731ac9"/><stop offset="0.36" stop-color="#390fa9"/><stop offset="1" stop-color="#370fa8"/></linearGradient><linearGradient id="gAC214"><stop offset="0" stop-color="#ef804a"/><stop offset="0.03" stop-color="#e36463"/><stop offset="0.06" stop-color="#d3517e"/><stop offset="0.1" stop-color="#c04099"/><stop offset="0.14" stop-color="#ad34ab"/><stop offset="0.19" stop-color="#9929bb"/><stop offset="0.25" stop-color="#8621c5"/><stop offset="0.33" stop-color="#781bcb"/><stop offset="0.36" stop-color="#741ac9"/><stop offset="0.36" stop-color="#3e10ad"/><stop offset="1" stop-color="#3a10aa"/></linearGradient><linearGradient id="gAC215"><stop offset="0" stop-color="#ee7e4b"/><stop offset="0.03" stop-color="#e36363"/><stop offset="0.06" stop-color="#d4527d"/><stop offset="0.1" stop-color="#c14197"/><stop offset="0.14" stop-color="#af35a9"/><stop offset="0.19" stop-color="#9b2aba"/><stop offset="0.25" stop-color="#8822c4"/><stop offset="0.33" stop-color="#791bcb"/><stop offset="0.4" stop-color="#721ac9"/><stop offset="0.4" stop-color="#2c0c9f"/><stop offset="1" stop-color="#2b0c9e"/></linearGradient><linearGradient id="gAC216"><stop offset="0" stop-color="#f3963f"/><stop offset="0.03" stop-color="#eb7054"/><stop offset="0.06" stop-color="#db5972"/><stop offset="0.1" stop-color="#c64591"/><stop offset="0.14" stop-color="#b137a7"/><stop offset="0.19" stop-color="#9b2aba"/><stop offset="0.25" stop-color="#8621c5"/><stop offset="0.33" stop-color="#771bcb"/><stop offset="0.41" stop-color="#6f19c8"/><stop offset="0.42" stop-color="#6f19c7"/><stop offset="0.42" stop-color="#360fa7"/><stop offset="1" stop-color="#340ea5"/></linearGradient><linearGradient id="gAC217"><stop offset="0" stop-color="#ee7c4c"/><stop offset="0.03" stop-color="#e16266"/><stop offset="0.06" stop-color="#d15080"/><stop offset="0.1" stop-color="#bf3f9a"/><stop offset="0.14" stop-color="#ac33ac"/><stop offset="0.19" stop-color="#9828bb"/><stop offset="0.25" stop-color="#8520c5"/><stop offset="0.33" stop-color="#781bcb"/><stop offset="0.41" stop-color="#7019c8"/><stop offset="0.42" stop-color="#6f19c8"/><stop offset="0.42" stop-color="#3f10ad"/><stop offset="1" stop-color="#3b10aa"/></linearGradient><linearGradient id="gAC218"><stop offset="0" stop-color="#ec7650"/><stop offset="0.03" stop-color="#de5e6b"/><stop offset="0.06" stop-color="#ce4c85"/><stop offset="0.1" stop-color="#bb3c9e"/><stop offset="0.14" stop-color="#a831af"/><stop offset="0.19" stop-color="#9527bd"/><stop offset="0.25" stop-color="#8320c6"/><stop offset="0.33" stop-color="#761bca"/><stop offset="0.4" stop-color="#6f19c8"/><stop offset="0.4" stop-color="#3d10ac"/><stop offset="1" stop-color="#390fa9"/></linearGradient><linearGradient id="rAC2" x1="0" y1="0" x2="0" y2="1"><stop offset="0" stop-color="#7e20cc"/><stop offset="0.5" stop-color="#6a1acb"/><stop offset="1" stop-color="#5816c6"/></linearGradient><linearGradient id="gINS0"><stop offset="0" stop-color="#ef7f4b"/><stop offset="0.03" stop-color="#e36364"/><stop offset="0.06" stop-color="#d2517f"/><stop offset="0.1" stop-color="#c04099"/><stop offset="0.14" stop-color="#ac34ab"/><stop offset="0.19" stop-color="#9828bb"/><stop offset="0.25" stop-color="#8520c5"/><stop offset="0.26" stop-color="#821fc7"/><stop offset="0.26" stop-color="#2a0c9e"/><stop offset="1" stop-color="#290b9d"/></linearGradient><linearGradient id="rINS" x1="0" y1="0" x2="0" y2="1"><stop offset="0" stop-color="#7e20cc"/><stop offset="0.5" stop-color="#6a1acb"/><stop offset="1" stop-color="#5816c6"/></linearGradient><linearGradient id="plas" x1="0" y1="1" x2="0" y2="0"><stop offset="0" stop-color="#0d0887"/><stop offset="0.1" stop-color="#41049d"/><stop offset="0.2" stop-color="#6a00a8"/><stop offset="0.3" stop-color="#8f0da4"/><stop offset="0.4" stop-color="#b12a90"/><stop offset="0.5" stop-color="#cc4778"/><stop offset="0.6" stop-color="#e16462"/><stop offset="0.7" stop-color="#f2844b"/><stop offset="0.8" stop-color="#fca636"/><stop offset="0.9" stop-color="#fcce25"/><stop offset="1" stop-color="#f0f921"/></linearGradient><linearGradient id="cbd" x1="0" y1="1" x2="0" y2="0"><stop offset="0" stop-color="#220a98"/><stop offset="0.08" stop-color="#3a10aa"/><stop offset="0.17" stop-color="#5a14c0"/><stop offset="0.25" stop-color="#7a1ccc"/><stop offset="0.33" stop-color="#a02cb8"/><stop offset="0.42" stop-color="#c0409a"/><stop offset="0.5" stop-color="#d85678"/><stop offset="0.58" stop-color="#ea6c58"/><stop offset="0.67" stop-color="#f28a44"/><stop offset="0.75" stop-color="#f6a83a"/><stop offset="0.83" stop-color="#f4c432"/><stop offset="0.92" stop-color="#f0dc30"/><stop offset="1" stop-color="#eef434"/></linearGradient></defs><rect width="685" height="663" fill="#fff"/><text x="0.5" y="15.6" font-size="20.5" font-weight="bold" textLength="15" lengthAdjust="spacingAndGlyphs">A</text><text x="61" y="15.8" font-size="12.6" font-weight="bold" textLength="254.6" lengthAdjust="spacingAndGlyphs">Age effects of nodal efficiency aged 0 - 8 y</text><g transform="translate(16,35) scale(0.99,0.97)"><path d="M0.1,36.1 C0,32.5 0.4,28.8 1.5,25.3 C2.6,21.9 4.6,18.2 6.8,15.4 C9,12.6 11.9,10.3 14.8,8.2 C17.8,6.1 20.8,4.1 24.5,2.7 C28.2,1.3 33.1,0.5 36.9,0 C40.7,-0.5 44,-0.1 47.5,0 C51,0.1 54.7,0.3 58.2,0.9 C61.8,1.5 65.6,2.4 68.8,3.6 C72,4.8 74.8,6.4 77.6,8.2 C80.4,10 83.2,12.2 85.6,14.5 C88,16.8 90,19 91.8,21.7 C93.6,24.4 95,27.7 96.2,30.7 C97.4,33.7 98.3,36.7 98.9,39.7 C99.5,42.7 99.9,46 99.7,48.7 C99.5,51.4 99,54.1 98,55.9 C97,57.7 95.5,58.5 93.6,59.6 C91.7,60.7 89.5,61.4 86.5,62.3 C83.5,63.2 79.5,64.1 75.9,65 C72.4,65.9 68.8,67 65.2,67.7 C61.7,68.5 58.1,69 54.6,69.5 C51.1,70 47,70.4 44,70.4 C41,70.4 38.8,70.1 36.9,69.5 C35,68.9 33.6,68 32.5,66.8 C31.4,65.6 31.2,63.5 30.2,62.3 C29.2,61.1 28.1,60.3 26.3,59.6 C24.5,58.9 21.6,58.6 19.2,58.1 C16.8,57.6 14.4,57.6 12.2,56.8 C10,56 7.7,54.9 6,53.2 C4.3,51.6 2.9,49.8 1.9,46.9 C0.9,44 0.2,39.7 0.1,36.1Z" fill="url(#bg)" stroke="#cfcfcf" stroke-width="0.6" vector-effect="non-scaling-stroke"/><g clip-path="url(#clat)"><g filter="url(#sb)"><path d="M30,53 C38,45 46,37 54,31 C58,28 62,29 66,33 C70,37 74,39 81,41" fill="none" stroke="#d2d2d2" stroke-width="5" stroke-linecap="round"/><path d="M30,53 C38,45 46,37 54,31 C58,28 62,29 66,33 C70,37 74,39 81,41" fill="none" stroke="#b8b8b8" stroke-width="1.6" stroke-linecap="round"/><path d="M37,61 C47,53 57,47 67,45 C75,44 83,45 91,47" fill="none" stroke="#d6d6d6" stroke-width="3" stroke-linecap="round"/><path d="M11,35 C19,29 29,23 41,19" fill="none" stroke="#d8d8d8" stroke-width="2.6" stroke-linecap="round"/><path d="M52,3 C51,10 49,17 46,24" fill="none" stroke="#d6d6d6" stroke-width="2.4" stroke-linecap="round"/><path d="M63,5 C62,12 61,18 60,25" fill="none" stroke="#dadada" stroke-width="2.2" stroke-linecap="round"/><path d="M70,18 C78,20 86,24 93,30" fill="none" stroke="#dadada" stroke-width="2.2" stroke-linecap="round"/><path d="M38,69 C55,68 75,64 94,57" fill="none" stroke="#d2d2d2" stroke-width="3" stroke-linecap="round"/></g></g></g><g transform="translate(227,36) scale(-0.97,0.98)"><path d="M0.1,36.1 C0,32.5 0.4,28.8 1.5,25.3 C2.6,21.9 4.6,18.2 6.8,15.4 C9,12.6 11.9,10.3 14.8,8.2 C17.8,6.1 20.8,4.1 24.5,2.7 C28.2,1.3 33.1,0.5 36.9,0 C40.7,-0.5 44,-0.1 47.5,0 C51,0.1 54.7,0.3 58.2,0.9 C61.8,1.5 65.6,2.4 68.8,3.6 C72,4.8 74.8,6.4 77.6,8.2 C80.4,10 83.2,12.2 85.6,14.5 C88,16.8 90,19 91.8,21.7 C93.6,24.4 95,27.7 96.2,30.7 C97.4,33.7 98.3,36.7 98.9,39.7 C99.5,42.7 99.9,46 99.7,48.7 C99.5,51.4 99,54.1 98,55.9 C97,57.7 95.5,58.5 93.6,59.6 C91.7,60.7 89.5,61.4 86.5,62.3 C83.5,63.2 79.5,64.1 75.9,65 C72.4,65.9 68.8,67 65.2,67.7 C61.7,68.5 58.1,69 54.6,69.5 C51.1,70 47,70.4 44,70.4 C41,70.4 38.8,70.1 36.9,69.5 C35,68.9 33.6,68 32.5,66.8 C31.4,65.6 31.2,63.5 30.2,62.3 C29.2,61.1 28.1,60.3 26.3,59.6 C24.5,58.9 21.6,58.6 19.2,58.1 C16.8,57.6 14.4,57.6 12.2,56.8 C10,56 7.7,54.9 6,53.2 C4.3,51.6 2.9,49.8 1.9,46.9 C0.9,44 0.2,39.7 0.1,36.1Z" fill="url(#bg)" stroke="#cfcfcf" stroke-width="0.6" vector-effect="non-scaling-stroke"/><g clip-path="url(#clat)"><g filter="url(#sb)"><path d="M30,53 C38,45 46,37 54,31 C58,28 62,29 66,33 C70,37 74,39 81,41" fill="none" stroke="#d2d2d2" stroke-width="5" stroke-linecap="round"/><path d="M30,53 C38,45 46,37 54,31 C58,28 62,29 66,33 C70,37 74,39 81,41" fill="none" stroke="#b8b8b8" stroke-width="1.6" stroke-linecap="round"/><path d="M37,61 C47,53 57,47 67,45 C75,44 83,45 91,47" fill="none" stroke="#d6d6d6" stroke-width="3" stroke-linecap="round"/><path d="M11,35 C19,29 29,23 41,19" fill="none" stroke="#d8d8d8" stroke-width="2.6" stroke-linecap="round"/><path d="M52,3 C51,10 49,17 46,24" fill="none" stroke="#d6d6d6" stroke-width="2.4" stroke-linecap="round"/><path d="M63,5 C62,12 61,18 60,25" fill="none" stroke="#dadada" stroke-width="2.2" stroke-linecap="round"/><path d="M70,18 C78,20 86,24 93,30" fill="none" stroke="#dadada" stroke-width="2.2" stroke-linecap="round"/><path d="M38,69 C55,68 75,64 94,57" fill="none" stroke="#d2d2d2" stroke-width="3" stroke-linecap="round"/></g></g></g><g transform="translate(16,119) scale(0.99,1.01)"><path d="M0.1,46.1 C0.2,43.9 0.9,40.1 2,36.7 C3.1,33.3 4.7,28.9 6.8,25.5 C8.9,22.1 11.6,18.9 14.5,16.1 C17.4,13.3 20.6,10.8 24.1,8.6 C27.6,6.4 31.5,4.3 35.6,3 C39.8,1.7 44.9,1.2 49,0.8 C53.1,0.4 56.7,0.4 60.5,0.8 C64.3,1.2 68.5,1.8 72,3 C75.5,4.2 78.7,5.8 81.6,7.7 C84.5,9.6 87.1,11.8 89.3,14.3 C91.5,16.8 93.5,19.8 95,22.7 C96.5,25.6 97.8,29 98.5,32 C99.2,35 99.5,37.9 99.4,40.5 C99.3,43.1 98.8,45.7 97.9,47.9 C97,50.1 95.6,52 94,53.5 C92.4,55 90.7,56.1 88.3,56.9 C85.9,57.7 82.4,58 79.7,58.2 C77,58.4 73.9,57.9 72,58.2 C70.1,58.5 69,59 68.2,60.1 C67.4,61.2 67.7,63.4 67.2,64.8 C66.7,66.2 66.4,67.6 65.3,68.5 C64.2,69.4 62.2,70 60.5,70 C58.8,70 56.7,69.4 54.8,68.5 C52.9,67.6 51.2,66 49,64.8 C46.8,63.5 44.2,62.1 41.3,61 C38.4,59.9 35,59 31.8,58.2 C28.6,57.4 25.4,57 22.2,56.4 C19,55.8 15.5,55.1 12.6,54.5 C9.7,53.9 6.8,53.4 4.9,52.6 C3,51.8 1.9,50.9 1.1,49.8 C0.3,48.7 -0,48.3 0.1,46.1Z" fill="url(#bg)" stroke="#cfcfcf" stroke-width="0.6" vector-effect="non-scaling-stroke"/><g clip-path="url(#cmed)"><g filter="url(#sb)"><path d="M22,42 C26,22 50,12 72,14 C87,16 95,26 95,37" fill="none" stroke="#d4d4d4" stroke-width="3.2" stroke-linecap="round"/><path d="M28,42 C32,28 50,22 68,24 C80,26 86,32 84,38 C80,44 70,42 62,39 C50,35 40,39 33,45 C29,47 27,46 28,42Z" fill="none" stroke="#cacaca" stroke-width="1.4" stroke-linecap="round"/><path d="M16,18 C20,27 22,36 22,46" fill="none" stroke="#d0d0d0" stroke-width="2.4" stroke-linecap="round"/><path d="M3,48 C11,46 19,46 26,46" fill="none" stroke="#d2d2d2" stroke-width="2.2" stroke-linecap="round"/><path d="M28,57 C40,52 56,52 70,57" fill="none" stroke="#cccccc" stroke-width="3" stroke-linecap="round"/></g></g></g><g transform="translate(227.2,120.4) scale(-0.98,0.98)"><path d="M0.1,46.1 C0.2,43.9 0.9,40.1 2,36.7 C3.1,33.3 4.7,28.9 6.8,25.5 C8.9,22.1 11.6,18.9 14.5,16.1 C17.4,13.3 20.6,10.8 24.1,8.6 C27.6,6.4 31.5,4.3 35.6,3 C39.8,1.7 44.9,1.2 49,0.8 C53.1,0.4 56.7,0.4 60.5,0.8 C64.3,1.2 68.5,1.8 72,3 C75.5,4.2 78.7,5.8 81.6,7.7 C84.5,9.6 87.1,11.8 89.3,14.3 C91.5,16.8 93.5,19.8 95,22.7 C96.5,25.6 97.8,29 98.5,32 C99.2,35 99.5,37.9 99.4,40.5 C99.3,43.1 98.8,45.7 97.9,47.9 C97,50.1 95.6,52 94,53.5 C92.4,55 90.7,56.1 88.3,56.9 C85.9,57.7 82.4,58 79.7,58.2 C77,58.4 73.9,57.9 72,58.2 C70.1,58.5 69,59 68.2,60.1 C67.4,61.2 67.7,63.4 67.2,64.8 C66.7,66.2 66.4,67.6 65.3,68.5 C64.2,69.4 62.2,70 60.5,70 C58.8,70 56.7,69.4 54.8,68.5 C52.9,67.6 51.2,66 49,64.8 C46.8,63.5 44.2,62.1 41.3,61 C38.4,59.9 35,59 31.8,58.2 C28.6,57.4 25.4,57 22.2,56.4 C19,55.8 15.5,55.1 12.6,54.5 C9.7,53.9 6.8,53.4 4.9,52.6 C3,51.8 1.9,50.9 1.1,49.8 C0.3,48.7 -0,48.3 0.1,46.1Z" fill="url(#bg)" stroke="#cfcfcf" stroke-width="0.6" vector-effect="non-scaling-stroke"/><g clip-path="url(#cmed)"><g filter="url(#sb)"><path d="M22,42 C26,22 50,12 72,14 C87,16 95,26 95,37" fill="none" stroke="#d4d4d4" stroke-width="3.2" stroke-linecap="round"/><path d="M28,42 C32,28 50,22 68,24 C80,26 86,32 84,38 C80,44 70,42 62,39 C50,35 40,39 33,45 C29,47 27,46 28,42Z" fill="none" stroke="#cacaca" stroke-width="1.4" stroke-linecap="round"/><path d="M16,18 C20,27 22,36 22,46" fill="none" stroke="#d0d0d0" stroke-width="2.4" stroke-linecap="round"/><path d="M3,48 C11,46 19,46 26,46" fill="none" stroke="#d2d2d2" stroke-width="2.2" stroke-linecap="round"/><path d="M28,57 C40,52 56,52 70,57" fill="none" stroke="#cccccc" stroke-width="3" stroke-linecap="round"/></g></g></g><circle cx="61.3" cy="72.5" r="1.07" fill="#8fd6f0" opacity="0.28"/><circle cx="66.2" cy="74.1" r="1.11" fill="#e8c75a" opacity="0.28"/><circle cx="77.1" cy="86.1" r="0.9" fill="#e8c75a" opacity="0.28"/><circle cx="29" cy="87" r="0.64" fill="#8fd6f0" opacity="0.28"/><circle cx="79.2" cy="75.7" r="0.62" fill="#e8c75a" opacity="0.28"/><circle cx="68" cy="43.3" r="0.84" fill="#e8c75a" opacity="0.28"/><circle cx="23.6" cy="66.9" r="1.44" fill="#e8c75a" opacity="0.28"/><circle cx="67.2" cy="77.2" r="1.26" fill="#e8c75a" opacity="0.28"/><circle cx="61.7" cy="56.1" r="1.6" fill="#8fd6f0" opacity="0.28"/><circle cx="95.8" cy="81.1" r="0.83" fill="#e8c75a" opacity="0.28"/><circle cx="46.7" cy="44" r="1" fill="#8fd6f0" opacity="0.28"/><circle cx="96.4" cy="62.4" r="1.45" fill="#8fd6f0" opacity="0.28"/><circle cx="102.1" cy="67.3" r="1" fill="#8fd6f0" opacity="0.28"/><circle cx="27.5" cy="76.5" r="0.87" fill="#8fd6f0" opacity="0.28"/><circle cx="28.7" cy="59.2" r="1.36" fill="#8fd6f0" opacity="0.28"/><circle cx="31.5" cy="54.2" r="0.66" fill="#e8c75a" opacity="0.28"/><circle cx="92" cy="50.2" r="1.05" fill="#8fd6f0" opacity="0.28"/><circle cx="37.9" cy="82.5" r="1.24" fill="#e8c75a" opacity="0.28"/><circle cx="31.3" cy="64.4" r="0.87" fill="#e8c75a" opacity="0.28"/><circle cx="48" cy="91.4" r="0.99" fill="#e8c75a" opacity="0.28"/><circle cx="97.1" cy="77.3" r="1.59" fill="#e8c75a" opacity="0.28"/><circle cx="39.9" cy="54.9" r="0.93" fill="#8fd6f0" opacity="0.28"/><circle cx="47.4" cy="44.1" r="1.18" fill="#e8c75a" opacity="0.28"/><circle cx="42.6" cy="74.9" r="1.05" fill="#e8c75a" opacity="0.28"/><circle cx="106.4" cy="68.1" r="1.47" fill="#8fd6f0" opacity="0.28"/><circle cx="37.2" cy="48.8" r="1.42" fill="#8fd6f0" opacity="0.28"/><circle cx="43.2" cy="50.9" r="1.54" fill="#8fd6f0" opacity="0.28"/><circle cx="99.6" cy="75" r="0.7" fill="#e8c75a" opacity="0.28"/><circle cx="42.2" cy="80.9" r="1.42" fill="#e8c75a" opacity="0.28"/><circle cx="74.1" cy="57" r="1.32" fill="#e8c75a" opacity="0.28"/><circle cx="27.1" cy="53.2" r="1.45" fill="#8fd6f0" opacity="0.28"/><circle cx="75.7" cy="56.2" r="0.8" fill="#8fd6f0" opacity="0.28"/><circle cx="60.7" cy="43.4" r="0.97" fill="#e8c75a" opacity="0.28"/><circle cx="71.9" cy="47.5" r="1.49" fill="#e8c75a" opacity="0.28"/><circle cx="108.3" cy="78.1" r="1.18" fill="#8fd6f0" opacity="0.28"/><circle cx="83.4" cy="96" r="1.24" fill="#e8c75a" opacity="0.28"/><circle cx="63.9" cy="82.4" r="1.6" fill="#e8c75a" opacity="0.28"/><circle cx="27.7" cy="71.7" r="1.5" fill="#8fd6f0" opacity="0.28"/><circle cx="86.6" cy="80.9" r="1.52" fill="#8fd6f0" opacity="0.28"/><circle cx="52.3" cy="79.8" r="1.47" fill="#8fd6f0" opacity="0.28"/><circle cx="58.1" cy="85.9" r="1.17" fill="#8fd6f0" opacity="0.28"/><circle cx="76.6" cy="62.1" r="1.21" fill="#8fd6f0" opacity="0.28"/><circle cx="28.1" cy="77.1" r="1.48" fill="#8fd6f0" opacity="0.28"/><circle cx="85.8" cy="62.5" r="1.18" fill="#8fd6f0" opacity="0.28"/><circle cx="60.2" cy="88.7" r="1.35" fill="#e8c75a" opacity="0.28"/><circle cx="23.6" cy="74.9" r="0.83" fill="#e8c75a" opacity="0.28"/><circle cx="83.2" cy="68.8" r="1.52" fill="#8fd6f0" opacity="0.28"/><circle cx="47.8" cy="79.4" r="0.77" fill="#e8c75a" opacity="0.28"/><circle cx="101.6" cy="78.3" r="1.49" fill="#e8c75a" opacity="0.28"/><circle cx="50.1" cy="78.7" r="1.03" fill="#e8c75a" opacity="0.28"/><circle cx="92.8" cy="93.1" r="0.98" fill="#8fd6f0" opacity="0.28"/><circle cx="72.9" cy="58.3" r="1.1" fill="#e8c75a" opacity="0.28"/><circle cx="95.5" cy="89.3" r="1.55" fill="#8fd6f0" opacity="0.28"/><circle cx="45.6" cy="49.7" r="0.88" fill="#e8c75a" opacity="0.28"/><circle cx="40" cy="64" r="1.09" fill="#8fd6f0" opacity="0.28"/><circle cx="49" cy="88.8" r="1.05" fill="#8fd6f0" opacity="0.28"/><circle cx="84.1" cy="73.1" r="1.39" fill="#e8c75a" opacity="0.28"/><circle cx="61.5" cy="41.3" r="0.84" fill="#8fd6f0" opacity="0.28"/><circle cx="167.2" cy="67.1" r="1.26" fill="#8fd6f0" opacity="0.28"/><circle cx="162.4" cy="52.6" r="0.78" fill="#e8c75a" opacity="0.28"/><circle cx="221.2" cy="68.6" r="0.78" fill="#8fd6f0" opacity="0.28"/><circle cx="198.4" cy="61.2" r="1.12" fill="#8fd6f0" opacity="0.28"/><circle cx="168.5" cy="85.3" r="1.39" fill="#e8c75a" opacity="0.28"/><circle cx="140.7" cy="83.3" r="1.05" fill="#e8c75a" opacity="0.28"/><circle cx="167.5" cy="94.3" r="1.17" fill="#e8c75a" opacity="0.28"/><circle cx="145.4" cy="87.7" r="1.06" fill="#8fd6f0" opacity="0.28"/><circle cx="165.3" cy="52.9" r="1.42" fill="#8fd6f0" opacity="0.28"/><circle cx="166.1" cy="83" r="1.5" fill="#e8c75a" opacity="0.28"/><circle cx="175.3" cy="87.3" r="1.51" fill="#e8c75a" opacity="0.28"/><circle cx="147.4" cy="61.4" r="1.04" fill="#e8c75a" opacity="0.28"/><circle cx="174.1" cy="86" r="0.63" fill="#e8c75a" opacity="0.28"/><circle cx="152.3" cy="51" r="1.39" fill="#e8c75a" opacity="0.28"/><circle cx="209.9" cy="49.6" r="1.32" fill="#8fd6f0" opacity="0.28"/><circle cx="148.8" cy="81.4" r="1.09" fill="#8fd6f0" opacity="0.28"/><circle cx="202.8" cy="71.8" r="1.33" fill="#e8c75a" opacity="0.28"/><circle cx="166.4" cy="71.6" r="1.16" fill="#8fd6f0" opacity="0.28"/><circle cx="194.9" cy="63.3" r="1.5" fill="#8fd6f0" opacity="0.28"/><circle cx="204" cy="90.8" r="1.12" fill="#8fd6f0" opacity="0.28"/><circle cx="172.1" cy="52.7" r="1.1" fill="#8fd6f0" opacity="0.28"/><circle cx="169.3" cy="42.5" r="1.12" fill="#8fd6f0" opacity="0.28"/><circle cx="187.2" cy="87.9" r="1.09" fill="#8fd6f0" opacity="0.28"/><circle cx="161.8" cy="44.8" r="1.01" fill="#8fd6f0" opacity="0.28"/><circle cx="198.6" cy="68.7" r="1.03" fill="#e8c75a" opacity="0.28"/><circle cx="150.9" cy="93.8" r="0.92" fill="#e8c75a" opacity="0.28"/><circle cx="205.4" cy="77.2" r="0.73" fill="#8fd6f0" opacity="0.28"/><circle cx="205.2" cy="54.2" r="0.92" fill="#8fd6f0" opacity="0.28"/><circle cx="191.1" cy="77.3" r="1.33" fill="#e8c75a" opacity="0.28"/><circle cx="211.4" cy="70.9" r="0.8" fill="#e8c75a" opacity="0.28"/><circle cx="175.9" cy="66.5" r="1.01" fill="#e8c75a" opacity="0.28"/><circle cx="175.9" cy="50.3" r="1.23" fill="#e8c75a" opacity="0.28"/><circle cx="166.4" cy="72" r="1.21" fill="#8fd6f0" opacity="0.28"/><circle cx="147.4" cy="54.6" r="1.41" fill="#8fd6f0" opacity="0.28"/><circle cx="143.3" cy="59.4" r="1.52" fill="#e8c75a" opacity="0.28"/><circle cx="201.3" cy="83.6" r="0.7" fill="#e8c75a" opacity="0.28"/><circle cx="149.5" cy="65.6" r="0.73" fill="#8fd6f0" opacity="0.28"/><circle cx="187" cy="81.1" r="0.8" fill="#e8c75a" opacity="0.28"/><circle cx="162.6" cy="94.4" r="0.72" fill="#8fd6f0" opacity="0.28"/><circle cx="178" cy="85.4" r="1.29" fill="#8fd6f0" opacity="0.28"/><circle cx="174" cy="71.1" r="0.75" fill="#8fd6f0" opacity="0.28"/><circle cx="206" cy="52.9" r="1.59" fill="#8fd6f0" opacity="0.28"/><circle cx="181.8" cy="85.8" r="1.07" fill="#e8c75a" opacity="0.28"/><circle cx="177.2" cy="66.1" r="0.61" fill="#8fd6f0" opacity="0.28"/><circle cx="161" cy="90.5" r="1.05" fill="#e8c75a" opacity="0.28"/><circle cx="157.6" cy="64.7" r="0.77" fill="#e8c75a" opacity="0.28"/><circle cx="177.4" cy="41.8" r="1.4" fill="#8fd6f0" opacity="0.28"/><circle cx="160.6" cy="91.4" r="1" fill="#8fd6f0" opacity="0.28"/><circle cx="169.8" cy="70.5" r="1.4" fill="#8fd6f0" opacity="0.28"/><circle cx="157.2" cy="86.6" r="1.01" fill="#8fd6f0" opacity="0.28"/><circle cx="161.5" cy="85.9" r="1.01" fill="#8fd6f0" opacity="0.28"/><circle cx="159.1" cy="45" r="1.07" fill="#e8c75a" opacity="0.28"/><circle cx="221.2" cy="61.8" r="1.22" fill="#8fd6f0" opacity="0.28"/><circle cx="80.3" cy="144.6" r="1.17" fill="#8fd6f0" opacity="0.28"/><circle cx="68.4" cy="147.8" r="1.24" fill="#8fd6f0" opacity="0.28"/><circle cx="83.4" cy="170.4" r="0.62" fill="#8fd6f0" opacity="0.28"/><circle cx="75.8" cy="169" r="1" fill="#e8c75a" opacity="0.28"/><circle cx="54.4" cy="130.1" r="1.51" fill="#e8c75a" opacity="0.28"/><circle cx="70" cy="155" r="1.17" fill="#8fd6f0" opacity="0.28"/><circle cx="93.1" cy="128.7" r="1.36" fill="#8fd6f0" opacity="0.28"/><circle cx="35.2" cy="152.8" r="1.1" fill="#e8c75a" opacity="0.28"/><circle cx="75.4" cy="127.6" r="1.02" fill="#8fd6f0" opacity="0.28"/><circle cx="67.9" cy="160.5" r="0.89" fill="#e8c75a" opacity="0.28"/><circle cx="79.3" cy="158.2" r="1.32" fill="#e8c75a" opacity="0.28"/><circle cx="47.3" cy="124.9" r="0.64" fill="#e8c75a" opacity="0.28"/><circle cx="34.9" cy="170" r="1.5" fill="#e8c75a" opacity="0.28"/><circle cx="87.6" cy="127.1" r="1.54" fill="#8fd6f0" opacity="0.28"/><circle cx="59.2" cy="153.1" r="0.84" fill="#8fd6f0" opacity="0.28"/><circle cx="67.6" cy="181.1" r="1.07" fill="#8fd6f0" opacity="0.28"/><circle cx="74.7" cy="131.1" r="1.06" fill="#8fd6f0" opacity="0.28"/><circle cx="68" cy="131.6" r="1.27" fill="#e8c75a" opacity="0.28"/><circle cx="61.5" cy="140" r="1.02" fill="#8fd6f0" opacity="0.28"/><circle cx="90.3" cy="156.4" r="1.55" fill="#8fd6f0" opacity="0.28"/><circle cx="86.4" cy="138.6" r="1.49" fill="#e8c75a" opacity="0.28"/><circle cx="90.8" cy="162.1" r="0.87" fill="#e8c75a" opacity="0.28"/><circle cx="82" cy="158.4" r="1.23" fill="#8fd6f0" opacity="0.28"/><circle cx="88.1" cy="135.6" r="1.58" fill="#e8c75a" opacity="0.28"/><circle cx="45.1" cy="149.9" r="0.7" fill="#8fd6f0" opacity="0.28"/><circle cx="69.2" cy="128.5" r="1.28" fill="#e8c75a" opacity="0.28"/><circle cx="70" cy="162.5" r="1.08" fill="#e8c75a" opacity="0.28"/><circle cx="39.7" cy="145" r="1.44" fill="#8fd6f0" opacity="0.28"/><circle cx="93" cy="162" r="0.81" fill="#8fd6f0" opacity="0.28"/><circle cx="58.8" cy="139.8" r="0.97" fill="#8fd6f0" opacity="0.28"/><circle cx="49.9" cy="157.5" r="1.52" fill="#8fd6f0" opacity="0.28"/><circle cx="59.1" cy="146.5" r="1.48" fill="#e8c75a" opacity="0.28"/><circle cx="71.2" cy="153.6" r="0.9" fill="#8fd6f0" opacity="0.28"/><circle cx="90" cy="128.7" r="1.26" fill="#e8c75a" opacity="0.28"/><circle cx="28.2" cy="142.6" r="1.29" fill="#8fd6f0" opacity="0.28"/><circle cx="46.2" cy="132.8" r="1.33" fill="#e8c75a" opacity="0.28"/><circle cx="53.6" cy="131.2" r="1.17" fill="#8fd6f0" opacity="0.28"/><circle cx="102.3" cy="150.7" r="0.9" fill="#8fd6f0" opacity="0.28"/><circle cx="49.2" cy="148.4" r="1.49" fill="#8fd6f0" opacity="0.28"/><circle cx="43.1" cy="146.1" r="0.96" fill="#e8c75a" opacity="0.28"/><circle cx="56.2" cy="147.7" r="1.16" fill="#e8c75a" opacity="0.28"/><circle cx="92" cy="157" r="1.16" fill="#8fd6f0" opacity="0.28"/><circle cx="36.7" cy="170.3" r="0.88" fill="#8fd6f0" opacity="0.28"/><circle cx="22.9" cy="155.5" r="1.17" fill="#8fd6f0" opacity="0.28"/><circle cx="107.1" cy="163.7" r="0.66" fill="#8fd6f0" opacity="0.28"/><circle cx="69.7" cy="172" r="0.68" fill="#e8c75a" opacity="0.28"/><circle cx="86.6" cy="178.8" r="1.23" fill="#e8c75a" opacity="0.28"/><circle cx="33.8" cy="169.5" r="0.85" fill="#8fd6f0" opacity="0.28"/><circle cx="40.6" cy="170.6" r="1.36" fill="#8fd6f0" opacity="0.28"/><circle cx="56.1" cy="144.6" r="1.27" fill="#8fd6f0" opacity="0.28"/><circle cx="64.9" cy="156.8" r="1.31" fill="#8fd6f0" opacity="0.28"/><circle cx="102.5" cy="149.1" r="1.27" fill="#8fd6f0" opacity="0.28"/><circle cx="97" cy="173.1" r="1.49" fill="#8fd6f0" opacity="0.28"/><circle cx="106.3" cy="163" r="1.31" fill="#8fd6f0" opacity="0.28"/><circle cx="92.4" cy="149.7" r="0.75" fill="#e8c75a" opacity="0.28"/><circle cx="54.4" cy="134.3" r="1.02" fill="#e8c75a" opacity="0.28"/><circle cx="217.1" cy="143.3" r="1.25" fill="#e8c75a" opacity="0.28"/><circle cx="154.2" cy="135.8" r="1.06" fill="#e8c75a" opacity="0.28"/><circle cx="171" cy="178.5" r="0.71" fill="#e8c75a" opacity="0.28"/><circle cx="206.1" cy="138" r="1.32" fill="#e8c75a" opacity="0.28"/><circle cx="170.1" cy="138.4" r="0.88" fill="#e8c75a" opacity="0.28"/><circle cx="207.2" cy="169.6" r="1.15" fill="#e8c75a" opacity="0.28"/><circle cx="150.5" cy="153.3" r="1.49" fill="#e8c75a" opacity="0.28"/><circle cx="142" cy="145.3" r="1.56" fill="#8fd6f0" opacity="0.28"/><circle cx="179.9" cy="138.2" r="1.55" fill="#e8c75a" opacity="0.28"/><circle cx="151.9" cy="147.8" r="1.12" fill="#8fd6f0" opacity="0.28"/><circle cx="164.6" cy="139.2" r="1.07" fill="#e8c75a" opacity="0.28"/><circle cx="189.7" cy="171.9" r="1.21" fill="#8fd6f0" opacity="0.28"/><circle cx="208.5" cy="134.5" r="0.86" fill="#e8c75a" opacity="0.28"/><circle cx="146" cy="155.5" r="1.59" fill="#8fd6f0" opacity="0.28"/><circle cx="198.9" cy="156.6" r="1.37" fill="#e8c75a" opacity="0.28"/><circle cx="148" cy="173.4" r="0.87" fill="#e8c75a" opacity="0.28"/><circle cx="159.4" cy="131" r="1.07" fill="#e8c75a" opacity="0.28"/><circle cx="138.4" cy="159.6" r="0.9" fill="#8fd6f0" opacity="0.28"/><circle cx="153" cy="149.7" r="0.69" fill="#8fd6f0" opacity="0.28"/><circle cx="149.7" cy="137.5" r="1.13" fill="#8fd6f0" opacity="0.28"/><circle cx="208.5" cy="174" r="0.91" fill="#e8c75a" opacity="0.28"/><circle cx="215.6" cy="143.2" r="1.32" fill="#e8c75a" opacity="0.28"/><circle cx="190.7" cy="165.5" r="0.99" fill="#e8c75a" opacity="0.28"/><circle cx="149.4" cy="163.6" r="0.98" fill="#e8c75a" opacity="0.28"/><circle cx="160" cy="139.2" r="1.06" fill="#8fd6f0" opacity="0.28"/><circle cx="152.1" cy="137.4" r="0.89" fill="#8fd6f0" opacity="0.28"/><circle cx="189.3" cy="156.9" r="0.94" fill="#e8c75a" opacity="0.28"/><circle cx="187.9" cy="164.3" r="0.8" fill="#e8c75a" opacity="0.28"/><circle cx="158.1" cy="144.6" r="1.16" fill="#8fd6f0" opacity="0.28"/><circle cx="158.7" cy="144.7" r="0.69" fill="#8fd6f0" opacity="0.28"/><circle cx="162.8" cy="166.7" r="1" fill="#e8c75a" opacity="0.28"/><circle cx="148.8" cy="160" r="0.83" fill="#e8c75a" opacity="0.28"/><circle cx="208.5" cy="132.5" r="0.67" fill="#e8c75a" opacity="0.28"/><circle cx="141.5" cy="150.3" r="1.25" fill="#8fd6f0" opacity="0.28"/><circle cx="155" cy="173.3" r="0.93" fill="#e8c75a" opacity="0.28"/><circle cx="186.1" cy="126.2" r="1.3" fill="#e8c75a" opacity="0.28"/><circle cx="164.3" cy="160.9" r="0.93" fill="#e8c75a" opacity="0.28"/><circle cx="192.3" cy="163.4" r="0.98" fill="#e8c75a" opacity="0.28"/><circle cx="177.6" cy="171.4" r="1.21" fill="#8fd6f0" opacity="0.28"/><circle cx="208.4" cy="170.2" r="1.15" fill="#8fd6f0" opacity="0.28"/><circle cx="191.4" cy="154.6" r="1.31" fill="#e8c75a" opacity="0.28"/><circle cx="135.6" cy="155.5" r="1.44" fill="#8fd6f0" opacity="0.28"/><circle cx="167.2" cy="136.9" r="0.84" fill="#e8c75a" opacity="0.28"/><circle cx="171.7" cy="166.1" r="1.53" fill="#e8c75a" opacity="0.28"/><circle cx="190.6" cy="152.4" r="1.57" fill="#e8c75a" opacity="0.28"/><circle cx="174.6" cy="158.1" r="0.86" fill="#8fd6f0" opacity="0.28"/><circle cx="150.5" cy="160.5" r="1.42" fill="#e8c75a" opacity="0.28"/><circle cx="201.2" cy="158.9" r="0.79" fill="#8fd6f0" opacity="0.28"/><circle cx="174.2" cy="129.7" r="0.78" fill="#e8c75a" opacity="0.28"/><circle cx="164.5" cy="143.3" r="1.34" fill="#8fd6f0" opacity="0.28"/><circle cx="188.8" cy="159.9" r="0.62" fill="#8fd6f0" opacity="0.28"/><circle cx="204.8" cy="152.7" r="0.99" fill="#e8c75a" opacity="0.28"/><circle cx="172.3" cy="135.4" r="0.86" fill="#8fd6f0" opacity="0.28"/><circle cx="172.4" cy="144.7" r="0.64" fill="#8fd6f0" opacity="0.28"/><circle cx="163.4" cy="133.8" r="1.2" fill="#8fd6f0" opacity="0.28"/><circle cx="181" cy="149.4" r="1.29" fill="#8fd6f0" opacity="0.28"/><circle cx="155.7" cy="169.3" r="1.59" fill="#e8c75a" opacity="0.28"/><circle cx="186.4" cy="150.7" r="1.51" fill="#8fd6f0" opacity="0.28"/><circle cx="45.2" cy="42" r="3.2" fill="url(#gold)"/><circle cx="56.4" cy="38.9" r="3.2" fill="url(#gold)"/><circle cx="64.5" cy="37.7" r="2" fill="url(#gold)"/><circle cx="35.9" cy="47.7" r="2.5" fill="url(#gold)"/><circle cx="42.9" cy="48.2" r="2" fill="url(#gold)"/><circle cx="47" cy="50" r="2" fill="url(#gold)"/><circle cx="55.7" cy="47.7" r="2.3" fill="url(#gold)"/><circle cx="66.2" cy="43.8" r="1.8" fill="url(#gold)"/><circle cx="70.1" cy="47.7" r="1.8" fill="url(#gold)"/><circle cx="77.6" cy="51.3" r="1.5" fill="url(#gold)"/><circle cx="85.5" cy="49.9" r="1.5" fill="url(#gold)"/><circle cx="88.5" cy="41.7" r="1.5" fill="url(#gold)"/><circle cx="28" cy="52.6" r="1.5" fill="url(#gold)"/><circle cx="25.9" cy="59.6" r="2.2" fill="url(#gold)"/><circle cx="35.9" cy="54.3" r="2" fill="url(#gold)"/><circle cx="42" cy="57.5" r="2.2" fill="url(#gold)"/><circle cx="49.6" cy="57.5" r="2.5" fill="url(#gold)"/><circle cx="42" cy="66.2" r="1.8" fill="url(#gold)"/><circle cx="47" cy="68" r="2" fill="url(#gold)"/><circle cx="17.5" cy="70.1" r="1.5" fill="url(#gold)"/><circle cx="23.7" cy="77.1" r="1.5" fill="url(#gold)"/><circle cx="41.7" cy="77.1" r="1.7" fill="url(#gold)"/><circle cx="49.9" cy="80.2" r="2.3" fill="url(#gold)"/><circle cx="54.3" cy="76.2" r="1.6" fill="url(#gold)"/><circle cx="59.6" cy="78" r="1.6" fill="url(#gold)"/><circle cx="47.3" cy="85.5" r="2" fill="url(#gold)"/><circle cx="41.2" cy="84.6" r="1.8" fill="url(#gold)"/><circle cx="28.9" cy="89.7" r="2.5" fill="url(#gold)"/><circle cx="37.7" cy="90.2" r="1.8" fill="url(#gold)"/><circle cx="43.4" cy="92" r="2.5" fill="url(#gold)"/><circle cx="55.7" cy="91.1" r="1.5" fill="url(#gold)"/><circle cx="69.2" cy="75" r="1.3" fill="url(#gold)"/><circle cx="77.6" cy="90.7" r="1.5" fill="url(#gold)"/><circle cx="85" cy="92.5" r="1.3" fill="url(#gold)"/><circle cx="52.6" cy="65.7" r="1.3" fill="url(#gold)"/><circle cx="24.2" cy="67.5" r="1.2" fill="url(#gold)"/><circle cx="30" cy="44" r="1.4" fill="url(#gold)"/><circle cx="60" cy="58" r="1.2" fill="url(#gold)"/><circle cx="36" cy="72" r="1.2" fill="url(#gold)"/><circle cx="193.5" cy="39" r="2.5" fill="url(#gold)"/><circle cx="194.4" cy="43.7" r="2.8" fill="url(#gold)"/><circle cx="186.9" cy="42.8" r="2.3" fill="url(#gold)"/><circle cx="189.7" cy="47.5" r="2.5" fill="url(#gold)"/><circle cx="203" cy="47.5" r="2.3" fill="url(#gold)"/><circle cx="207.7" cy="54.2" r="1.9" fill="url(#gold)"/><circle cx="210.6" cy="51.3" r="1.7" fill="url(#gold)"/><circle cx="182.1" cy="37.5" r="1.9" fill="url(#gold)"/><circle cx="152.3" cy="43.1" r="1.5" fill="url(#gold)"/><circle cx="150.8" cy="48.5" r="1.5" fill="url(#gold)"/><circle cx="146" cy="50" r="1.3" fill="url(#gold)"/><circle cx="159.3" cy="50.4" r="1.5" fill="url(#gold)"/><circle cx="162.2" cy="46.2" r="1.5" fill="url(#gold)"/><circle cx="151.7" cy="52.6" r="1.3" fill="url(#gold)"/><circle cx="217.2" cy="55.1" r="1.5" fill="url(#gold)"/><circle cx="217.2" cy="58.9" r="1.5" fill="url(#gold)"/><circle cx="199.2" cy="60.8" r="1.5" fill="url(#gold)"/><circle cx="192.5" cy="65.5" r="1.5" fill="url(#gold)"/><circle cx="197.3" cy="73.5" r="1.3" fill="url(#gold)"/><circle cx="191.6" cy="75.4" r="1.5" fill="url(#gold)"/><circle cx="198.2" cy="81.7" r="1.3" fill="url(#gold)"/><circle cx="194.4" cy="83.2" r="1.5" fill="url(#gold)"/><circle cx="204.9" cy="84.5" r="1.3" fill="url(#gold)"/><circle cx="212.5" cy="85.5" r="1.3" fill="url(#gold)"/><circle cx="200.7" cy="90.6" r="1.5" fill="url(#gold)"/><circle cx="190.6" cy="101.2" r="2.3" fill="url(#gold)"/><circle cx="176.4" cy="86.8" r="1.3" fill="url(#gold)"/><circle cx="172.6" cy="92.1" r="1.3" fill="url(#gold)"/><circle cx="160.9" cy="86" r="1.5" fill="url(#gold)"/><circle cx="164.1" cy="82.6" r="1.1" fill="url(#gold)"/><circle cx="162.2" cy="75" r="1.3" fill="url(#gold)"/><circle cx="170.3" cy="80.3" r="1.1" fill="url(#gold)"/><circle cx="185.9" cy="90.6" r="1" fill="url(#gold)"/><circle cx="187.8" cy="80.7" r="1" fill="url(#gold)"/><circle cx="223.9" cy="67.4" r="1.3" fill="url(#gold)"/><circle cx="213.4" cy="71.2" r="1.1" fill="url(#gold)"/><circle cx="165" cy="93.6" r="1" fill="url(#gold)"/><circle cx="217.2" cy="89.8" r="1" fill="url(#gold)"/><circle cx="73.6" cy="123.4" r="3.8" fill="url(#gold)"/><circle cx="85" cy="126.4" r="3.8" fill="url(#gold)"/><circle cx="65.5" cy="122.6" r="2.9" fill="url(#gold)"/><circle cx="56.9" cy="121.5" r="1.7" fill="url(#gold)"/><circle cx="77.4" cy="131" r="2.3" fill="url(#gold)"/><circle cx="67.7" cy="132.5" r="2.1" fill="url(#gold)"/><circle cx="60.3" cy="131.6" r="1.7" fill="url(#gold)"/><circle cx="94.3" cy="132.1" r="2.3" fill="url(#gold)"/><circle cx="101.1" cy="137.6" r="2.1" fill="url(#gold)"/><circle cx="93" cy="141.6" r="1.7" fill="url(#gold)"/><circle cx="107.8" cy="144.5" r="1.7" fill="url(#gold)"/><circle cx="103" cy="149" r="1.5" fill="url(#gold)"/><circle cx="111.6" cy="152.8" r="1.7" fill="url(#gold)"/><circle cx="102.1" cy="159.1" r="1.5" fill="url(#gold)"/><circle cx="111" cy="161" r="1.7" fill="url(#gold)"/><circle cx="111" cy="167.2" r="1.5" fill="url(#gold)"/><circle cx="95.4" cy="176.2" r="1.9" fill="url(#gold)"/><circle cx="82.9" cy="171.4" r="1.3" fill="url(#gold)"/><circle cx="82.5" cy="185.6" r="1.3" fill="url(#gold)"/><circle cx="51.8" cy="172.4" r="1.3" fill="url(#gold)"/><circle cx="45.2" cy="176.7" r="1" fill="url(#gold)"/><circle cx="41.7" cy="125.5" r="1.5" fill="url(#gold)"/><circle cx="165.2" cy="124.6" r="3.5" fill="url(#gold)"/><circle cx="158.2" cy="131.3" r="3.9" fill="url(#gold)"/><circle cx="175.7" cy="122.5" r="2.6" fill="url(#gold)"/><circle cx="172.2" cy="129.9" r="2.5" fill="url(#gold)"/><circle cx="167" cy="135.7" r="2.5" fill="url(#gold)"/><circle cx="150.7" cy="131.3" r="2.3" fill="url(#gold)"/><circle cx="163.4" cy="141.4" r="2.1" fill="url(#gold)"/><circle cx="149.4" cy="140" r="1.6" fill="url(#gold)"/><circle cx="141" cy="138.6" r="1.8" fill="url(#gold)"/><circle cx="136.6" cy="149.1" r="2.1" fill="url(#gold)"/><circle cx="131.4" cy="157" r="1.8" fill="url(#gold)"/><circle cx="138.9" cy="160.7" r="1.8" fill="url(#gold)"/><circle cx="133.1" cy="167.2" r="1.4" fill="url(#gold)"/><circle cx="140.1" cy="174.2" r="2.1" fill="url(#gold)"/><circle cx="150.3" cy="175.6" r="2.1" fill="url(#gold)"/><circle cx="159.1" cy="167.7" r="2.5" fill="url(#gold)"/><circle cx="215.1" cy="157.9" r="3.5" fill="url(#gold)"/><circle cx="213.7" cy="167.7" r="1.8" fill="url(#gold)"/><circle cx="205.8" cy="127.4" r="1.6" fill="url(#gold)"/><circle cx="212" cy="133" r="1.3" fill="url(#gold)"/><circle cx="160.8" cy="178.6" r="1.6" fill="url(#gold)"/><circle cx="176.4" cy="184.2" r="1.6" fill="url(#gold)"/><circle cx="192.7" cy="177.7" r="1.1" fill="url(#gold)"/><circle cx="73.9" cy="37.7" r="2" fill="url(#blue)"/><circle cx="62.7" cy="52.6" r="1.5" fill="url(#blue)"/><circle cx="59.6" cy="46.4" r="1.2" fill="url(#blue)"/><circle cx="76.2" cy="44.7" r="1" fill="url(#blue)"/><circle cx="92" cy="49.9" r="1" fill="url(#blue)"/><circle cx="95.5" cy="54.7" r="1" fill="url(#blue)"/><circle cx="97.2" cy="48.2" r="1" fill="url(#blue)"/><circle cx="105.1" cy="90.2" r="1.3" fill="url(#blue)"/><circle cx="82.3" cy="43.8" r="1" fill="url(#blue)"/><circle cx="100" cy="60" r="0.9" fill="url(#blue)"/><circle cx="70" cy="62" r="0.9" fill="url(#blue)"/><circle cx="88" cy="70" r="0.9" fill="url(#blue)"/><circle cx="159.7" cy="38.6" r="1.9" fill="url(#blue)"/><circle cx="169.4" cy="39.4" r="1.5" fill="url(#blue)"/><circle cx="180.2" cy="39.7" r="1.7" fill="url(#blue)"/><circle cx="183.1" cy="46.6" r="1.9" fill="url(#blue)"/><circle cx="197.9" cy="48.5" r="1.7" fill="url(#blue)"/><circle cx="197.7" cy="53.8" r="1.7" fill="url(#blue)"/><circle cx="192.5" cy="55.1" r="1.3" fill="url(#blue)"/><circle cx="143.2" cy="58" r="1" fill="url(#blue)"/><circle cx="186.9" cy="61.7" r="1" fill="url(#blue)"/><circle cx="203" cy="66.5" r="1" fill="url(#blue)"/><circle cx="204.9" cy="76.9" r="1" fill="url(#blue)"/><circle cx="208.7" cy="70.9" r="0.8" fill="url(#blue)"/><circle cx="172" cy="69.7" r="0.8" fill="url(#blue)"/><circle cx="185" cy="68.4" r="0.8" fill="url(#blue)"/><circle cx="167.9" cy="50.4" r="0.8" fill="url(#blue)"/><circle cx="177.4" cy="50.4" r="0.8" fill="url(#blue)"/><circle cx="212.5" cy="60.8" r="0.8" fill="url(#blue)"/><circle cx="156.5" cy="85.5" r="0.8" fill="url(#blue)"/><circle cx="140.4" cy="85.5" r="0.8" fill="url(#blue)"/><circle cx="49.9" cy="122.5" r="1.1" fill="url(#blue)"/><circle cx="34.2" cy="132.5" r="1.5" fill="url(#blue)"/><circle cx="28.1" cy="139.7" r="1.7" fill="url(#blue)"/><circle cx="27.5" cy="143.9" r="1.7" fill="url(#blue)"/><circle cx="23.3" cy="152.4" r="1.5" fill="url(#blue)"/><circle cx="37" cy="155.3" r="2.1" fill="url(#blue)"/><circle cx="29.4" cy="160" r="1.9" fill="url(#blue)"/><circle cx="23.1" cy="160" r="1.9" fill="url(#blue)"/><circle cx="19.5" cy="166.7" r="2.5" fill="url(#blue)"/><circle cx="25.6" cy="167.6" r="2.5" fill="url(#blue)"/><circle cx="24.7" cy="172.4" r="1.7" fill="url(#blue)"/><circle cx="39.3" cy="162.9" r="1.3" fill="url(#blue)"/><circle cx="36.4" cy="169" r="1.1" fill="url(#blue)"/><circle cx="31.9" cy="148.3" r="1.1" fill="url(#blue)"/><circle cx="32.3" cy="152.4" r="1" fill="url(#blue)"/><circle cx="100" cy="169.5" r="1.1" fill="url(#blue)"/><circle cx="105.3" cy="174.8" r="1.1" fill="url(#blue)"/><circle cx="82.5" cy="180" r="1" fill="url(#blue)"/><circle cx="77.4" cy="141" r="0.8" fill="url(#blue)"/><circle cx="48.4" cy="129.7" r="0.8" fill="url(#blue)"/><circle cx="198" cy="123" r="2.5" fill="url(#blue)"/><circle cx="190.1" cy="123.4" r="1.8" fill="url(#blue)"/><circle cx="205.5" cy="128.7" r="1.6" fill="url(#blue)"/><circle cx="215.1" cy="140.9" r="1.8" fill="url(#blue)"/><circle cx="213.4" cy="148.8" r="2.5" fill="url(#blue)"/><circle cx="204.1" cy="155.5" r="1.3" fill="url(#blue)"/><circle cx="203.7" cy="161.9" r="1.3" fill="url(#blue)"/><circle cx="209.7" cy="136.9" r="1.1" fill="url(#blue)"/><circle cx="195" cy="131.6" r="1.1" fill="url(#blue)"/><circle cx="173.4" cy="176" r="1.4" fill="url(#blue)"/><circle cx="187.4" cy="169.5" r="0.9" fill="url(#blue)"/><circle cx="141" cy="167.2" r="0.9" fill="url(#blue)"/><circle cx="136.8" cy="71.6" r="2.6" fill="url(#blue)"/><circle cx="136.8" cy="71.6" r="3.9" fill="none" stroke="#c8202a" stroke-width="1.1"/><circle cx="225.2" cy="77" r="1.8" fill="url(#gold)"/><circle cx="225.2" cy="77" r="3.4" fill="none" stroke="#c8202a" stroke-width="1.1"/><circle cx="66.4" cy="204.7" r="6" fill="url(#gold)"/><text x="76.8" y="208.4" font-size="9.8" font-weight="bold" textLength="51.2" lengthAdjust="spacingAndGlyphs">Exponential</text><circle cx="146.5" cy="204.7" r="5.8" fill="url(#blue)"/><text x="156.9" y="208.4" font-size="9.8" font-weight="bold" textLength="27.1" lengthAdjust="spacingAndGlyphs">Linear</text><text x="249.6" y="103.5" font-size="10" font-weight="bold" textLength="36.5" lengthAdjust="spacingAndGlyphs" transform="rotate(-90 249.6 103.5)">Subset2</text><circle cx="245.6" cy="108.1" r="1.3" fill="#cfe6f2" stroke="#4a90b8" stroke-width="0.7"/><text x="249.6" y="157" font-size="10" font-weight="bold" textLength="36" lengthAdjust="spacingAndGlyphs" transform="rotate(-90 249.6 157)">Subset1</text><circle cx="245.6" cy="160.7" r="1.5" fill="#4a90b8"/><rect x="298.32" y="70.43" width="1.5" height="1.5" fill="#4b93b6"/><rect x="325.42" y="60.95" width="1.5" height="1.5" fill="#4b93b6"/><rect x="282.61" y="77.79" width="1.5" height="1.5" fill="#4b93b6"/><rect x="351.27" y="62.83" width="1.5" height="1.5" fill="#4b93b6"/><rect x="340.14" y="67.62" width="1.5" height="1.5" fill="#4b93b6"/><rect x="326.05" y="57.96" width="1.5" height="1.5" fill="#7fb6d0"/><rect x="318.25" y="60.34" width="1.5" height="1.5" fill="#4b93b6"/><rect x="334.68" y="68.22" width="1.5" height="1.5" fill="#4b93b6"/><rect x="302.74" y="50.63" width="1.5" height="1.5" fill="#4b93b6"/><rect x="331.92" y="56.62" width="1.5" height="1.5" fill="#7fb6d0"/><rect x="331.59" y="53.55" width="1.5" height="1.5" fill="#7fb6d0"/><rect x="312.76" y="63.47" width="1.5" height="1.5" fill="#7fb6d0"/><rect x="343.11" y="56.04" width="1.5" height="1.5" fill="#4b93b6"/><rect x="349.16" y="56.8" width="1.5" height="1.5" fill="#4b93b6"/><rect x="325.48" y="61.64" width="1.5" height="1.5" fill="#4b93b6"/><rect x="306.21" y="54.79" width="1.5" height="1.5" fill="#4b93b6"/><rect x="322.52" y="51.72" width="1.5" height="1.5" fill="#7fb6d0"/><rect x="341.54" y="64.15" width="1.5" height="1.5" fill="#7fb6d0"/><rect x="328.6" y="52.74" width="1.5" height="1.5" fill="#7fb6d0"/><rect x="344.91" y="48.22" width="1.5" height="1.5" fill="#4b93b6"/><rect x="331.57" y="56.2" width="1.5" height="1.5" fill="#4b93b6"/><rect x="301.6" y="51.87" width="1.5" height="1.5" fill="#4b93b6"/><rect x="341.36" y="56.15" width="1.5" height="1.5" fill="#7fb6d0"/><rect x="310.37" y="61.08" width="1.5" height="1.5" fill="#4b93b6"/><rect x="302.23" y="61.55" width="1.5" height="1.5" fill="#4b93b6"/><rect x="324.63" y="71.9" width="1.5" height="1.5" fill="#4b93b6"/><rect x="331.89" y="65.28" width="1.5" height="1.5" fill="#7fb6d0"/><rect x="317.01" y="48.75" width="1.5" height="1.5" fill="#7fb6d0"/><rect x="303.33" y="55.21" width="1.5" height="1.5" fill="#4b93b6"/><rect x="295.48" y="62.33" width="1.5" height="1.5" fill="#4b93b6"/><rect x="324.35" y="58.35" width="1.5" height="1.5" fill="#7fb6d0"/><rect x="303.62" y="61.04" width="1.5" height="1.5" fill="#7fb6d0"/><rect x="344.35" y="63.75" width="1.5" height="1.5" fill="#4b93b6"/><rect x="326.68" y="54.44" width="1.5" height="1.5" fill="#4b93b6"/><rect x="320.77" y="70.38" width="1.5" height="1.5" fill="#4b93b6"/><rect x="311.82" y="70.79" width="1.5" height="1.5" fill="#7fb6d0"/><rect x="298.3" y="70.11" width="1.5" height="1.5" fill="#4b93b6"/><rect x="320.01" y="43.38" width="1.5" height="1.5" fill="#4b93b6"/><rect x="310.7" y="61.94" width="1.5" height="1.5" fill="#4b93b6"/><rect x="325.87" y="59.88" width="1.5" height="1.5" fill="#4b93b6"/><rect x="325.53" y="68.47" width="1.5" height="1.5" fill="#4b93b6"/><rect x="331.09" y="57.08" width="1.5" height="1.5" fill="#7fb6d0"/><rect x="283.24" y="70.55" width="1.5" height="1.5" fill="#7fb6d0"/><rect x="299.24" y="60.78" width="1.5" height="1.5" fill="#4b93b6"/><rect x="323.11" y="61.96" width="1.5" height="1.5" fill="#4b93b6"/><rect x="307.49" y="56.15" width="1.5" height="1.5" fill="#4b93b6"/><rect x="302.68" y="70.55" width="1.5" height="1.5" fill="#4b93b6"/><rect x="321.47" y="52.09" width="1.5" height="1.5" fill="#7fb6d0"/><rect x="303.35" y="60.72" width="1.5" height="1.5" fill="#4b93b6"/><rect x="294.78" y="55.63" width="1.5" height="1.5" fill="#4b93b6"/><rect x="330.47" y="54.68" width="1.5" height="1.5" fill="#4b93b6"/><rect x="339.94" y="55.57" width="1.5" height="1.5" fill="#4b93b6"/><rect x="341.47" y="56.08" width="1.5" height="1.5" fill="#4b93b6"/><rect x="343.53" y="53.86" width="1.5" height="1.5" fill="#4b93b6"/><rect x="297.41" y="59.6" width="1.5" height="1.5" fill="#4b93b6"/><rect x="338.07" y="53.61" width="1.5" height="1.5" fill="#7fb6d0"/><rect x="294.52" y="68.89" width="1.5" height="1.5" fill="#4b93b6"/><rect x="338.03" y="47.77" width="1.5" height="1.5" fill="#4b93b6"/><rect x="290.75" y="72.7" width="1.5" height="1.5" fill="#4b93b6"/><rect x="305.89" y="51.23" width="1.5" height="1.5" fill="#4b93b6"/><rect x="311.02" y="72.59" width="1.5" height="1.5" fill="#4b93b6"/><rect x="282.02" y="73.84" width="1.5" height="1.5" fill="#7fb6d0"/><rect x="343.18" y="52.17" width="1.5" height="1.5" fill="#7fb6d0"/><rect x="346.5" y="59.3" width="1.5" height="1.5" fill="#4b93b6"/><rect x="333.79" y="54.22" width="1.5" height="1.5" fill="#4b93b6"/><rect x="301.89" y="71.01" width="1.5" height="1.5" fill="#4b93b6"/><rect x="297.58" y="57.51" width="1.5" height="1.5" fill="#4b93b6"/><rect x="338.31" y="55.43" width="1.5" height="1.5" fill="#4b93b6"/><rect x="344.83" y="63.67" width="1.5" height="1.5" fill="#7fb6d0"/><rect x="344.56" y="72.03" width="1.5" height="1.5" fill="#4b93b6"/><rect x="282.61" y="80.42" width="1.5" height="1.5" fill="#4b93b6"/><rect x="328.01" y="63" width="1.5" height="1.5" fill="#4b93b6"/><rect x="310.6" y="52.92" width="1.5" height="1.5" fill="#4b93b6"/><rect x="299.33" y="67.4" width="1.5" height="1.5" fill="#7fb6d0"/><rect x="315.04" y="59.02" width="1.5" height="1.5" fill="#4b93b6"/><rect x="319.05" y="65.43" width="1.5" height="1.5" fill="#7fb6d0"/><rect x="293.66" y="63.83" width="1.5" height="1.5" fill="#7fb6d0"/><rect x="339.24" y="72.42" width="1.5" height="1.5" fill="#4b93b6"/><rect x="325.62" y="58" width="1.5" height="1.5" fill="#4b93b6"/><rect x="300.46" y="65.23" width="1.5" height="1.5" fill="#4b93b6"/><rect x="311.25" y="71.37" width="1.5" height="1.5" fill="#4b93b6"/><rect x="285.52" y="73.91" width="1.5" height="1.5" fill="#4b93b6"/><rect x="290.4" y="54.8" width="1.5" height="1.5" fill="#7fb6d0"/><rect x="287.71" y="65.92" width="1.5" height="1.5" fill="#4b93b6"/><rect x="303.76" y="64.81" width="1.5" height="1.5" fill="#4b93b6"/><rect x="322.68" y="54.15" width="1.5" height="1.5" fill="#4b93b6"/><rect x="295.04" y="68.05" width="1.5" height="1.5" fill="#4b93b6"/><rect x="331.73" y="56.22" width="1.5" height="1.5" fill="#4b93b6"/><rect x="287.27" y="70.86" width="1.5" height="1.5" fill="#4b93b6"/><rect x="336.38" y="53.49" width="1.5" height="1.5" fill="#4b93b6"/><rect x="337.68" y="63.62" width="1.5" height="1.5" fill="#4b93b6"/><rect x="316.36" y="64.65" width="1.5" height="1.5" fill="#7fb6d0"/><rect x="311.08" y="63.16" width="1.5" height="1.5" fill="#4b93b6"/><rect x="319.13" y="66.25" width="1.5" height="1.5" fill="#4b93b6"/><rect x="286.69" y="80.03" width="1.5" height="1.5" fill="#7fb6d0"/><rect x="347.13" y="55.77" width="1.5" height="1.5" fill="#4b93b6"/><rect x="344.43" y="57.55" width="1.5" height="1.5" fill="#4b93b6"/><rect x="290.3" y="74.93" width="1.5" height="1.5" fill="#7fb6d0"/><rect x="327.97" y="50.8" width="1.5" height="1.5" fill="#4b93b6"/><rect x="332.96" y="66.17" width="1.5" height="1.5" fill="#4b93b6"/><rect x="288.9" y="72.16" width="1.5" height="1.5" fill="#4b93b6"/><rect x="335.8" y="59.25" width="1.5" height="1.5" fill="#4b93b6"/><rect x="288.1" y="62.09" width="1.5" height="1.5" fill="#4b93b6"/><rect x="283.33" y="71.58" width="1.5" height="1.5" fill="#7fb6d0"/><rect x="290.16" y="65.18" width="1.5" height="1.5" fill="#7fb6d0"/><rect x="348.24" y="66.48" width="1.5" height="1.5" fill="#4b93b6"/><rect x="337.51" y="48.53" width="1.5" height="1.5" fill="#4b93b6"/><rect x="331.67" y="56.64" width="1.5" height="1.5" fill="#4b93b6"/><rect x="334.03" y="56.94" width="1.5" height="1.5" fill="#4b93b6"/><rect x="321.1" y="60.47" width="1.5" height="1.5" fill="#7fb6d0"/><rect x="298.61" y="62.53" width="1.5" height="1.5" fill="#4b93b6"/><rect x="334.35" y="54.69" width="1.5" height="1.5" fill="#4b93b6"/><rect x="307.37" y="66.14" width="1.5" height="1.5" fill="#4b93b6"/><rect x="287.51" y="69.7" width="1.5" height="1.5" fill="#4b93b6"/><rect x="349.69" y="67.54" width="1.5" height="1.5" fill="#4b93b6"/><rect x="329.97" y="53.72" width="1.5" height="1.5" fill="#7fb6d0"/><rect x="328.78" y="66.26" width="1.5" height="1.5" fill="#4b93b6"/><rect x="344.4" y="59.55" width="1.5" height="1.5" fill="#4b93b6"/><rect x="288.39" y="72.35" width="1.5" height="1.5" fill="#4b93b6"/><rect x="312.65" y="74.39" width="1.5" height="1.5" fill="#7fb6d0"/><rect x="294.7" y="67.2" width="1.5" height="1.5" fill="#4b93b6"/><rect x="303.69" y="58.42" width="1.5" height="1.5" fill="#4b93b6"/><rect x="329.99" y="54.11" width="1.5" height="1.5" fill="#7fb6d0"/><rect x="310.56" y="62.38" width="1.5" height="1.5" fill="#7fb6d0"/><rect x="322.55" y="59.95" width="1.5" height="1.5" fill="#4b93b6"/><rect x="315.2" y="55.84" width="1.5" height="1.5" fill="#4b93b6"/><rect x="293.73" y="70.93" width="1.5" height="1.5" fill="#7fb6d0"/><rect x="291.73" y="64.75" width="1.5" height="1.5" fill="#7fb6d0"/><rect x="315.2" y="65.85" width="1.5" height="1.5" fill="#7fb6d0"/><rect x="339.1" y="62.93" width="1.5" height="1.5" fill="#4b93b6"/><rect x="315.32" y="62.4" width="1.5" height="1.5" fill="#4b93b6"/><rect x="332.95" y="71.06" width="1.5" height="1.5" fill="#7fb6d0"/><rect x="314.35" y="59.7" width="1.5" height="1.5" fill="#7fb6d0"/><rect x="328.88" y="54.63" width="1.5" height="1.5" fill="#7fb6d0"/><rect x="341.36" y="58.62" width="1.5" height="1.5" fill="#4b93b6"/><rect x="294.77" y="62.67" width="1.5" height="1.5" fill="#7fb6d0"/><rect x="341.69" y="54.96" width="1.5" height="1.5" fill="#7fb6d0"/><rect x="303.59" y="65.39" width="1.5" height="1.5" fill="#4b93b6"/><rect x="332.63" y="56.66" width="1.5" height="1.5" fill="#7fb6d0"/><rect x="302.08" y="61.68" width="1.5" height="1.5" fill="#4b93b6"/><rect x="322.24" y="59.83" width="1.5" height="1.5" fill="#4b93b6"/><rect x="312.17" y="61.25" width="1.5" height="1.5" fill="#4b93b6"/><rect x="296.37" y="79.07" width="1.5" height="1.5" fill="#4b93b6"/><rect x="319.73" y="67.61" width="1.5" height="1.5" fill="#4b93b6"/><rect x="300.89" y="65.08" width="1.5" height="1.5" fill="#7fb6d0"/><rect x="345.19" y="61.39" width="1.5" height="1.5" fill="#4b93b6"/><rect x="347.47" y="66.28" width="1.5" height="1.5" fill="#7fb6d0"/><rect x="302.34" y="55.39" width="1.5" height="1.5" fill="#4b93b6"/><rect x="327.4" y="57.52" width="1.5" height="1.5" fill="#7fb6d0"/><rect x="348.87" y="63.33" width="1.5" height="1.5" fill="#4b93b6"/><rect x="319.16" y="54.25" width="1.5" height="1.5" fill="#4b93b6"/><rect x="331.87" y="54.29" width="1.5" height="1.5" fill="#4b93b6"/><rect x="321.27" y="55.86" width="1.5" height="1.5" fill="#4b93b6"/><rect x="294.21" y="58.92" width="1.5" height="1.5" fill="#7fb6d0"/><rect x="327.49" y="48.88" width="1.5" height="1.5" fill="#4b93b6"/><rect x="304.86" y="52.11" width="1.5" height="1.5" fill="#7fb6d0"/><rect x="323.44" y="67.88" width="1.5" height="1.5" fill="#4b93b6"/><rect x="303.52" y="65.64" width="1.5" height="1.5" fill="#4b93b6"/><rect x="286.48" y="76.68" width="1.5" height="1.5" fill="#4b93b6"/><rect x="333.38" y="69.18" width="1.5" height="1.5" fill="#4b93b6"/><rect x="300.27" y="73.19" width="1.5" height="1.5" fill="#4b93b6"/><rect x="316.96" y="51.52" width="1.5" height="1.5" fill="#4b93b6"/><rect x="335.42" y="62.34" width="1.5" height="1.5" fill="#4b93b6"/><rect x="319.53" y="55.27" width="1.5" height="1.5" fill="#7fb6d0"/><rect x="306.35" y="60.05" width="1.5" height="1.5" fill="#4b93b6"/><rect x="288.65" y="74.39" width="1.5" height="1.5" fill="#4b93b6"/><rect x="336.13" y="59.48" width="1.5" height="1.5" fill="#4b93b6"/><rect x="310.81" y="64.77" width="1.5" height="1.5" fill="#7fb6d0"/><rect x="338.69" y="58.93" width="1.5" height="1.5" fill="#4b93b6"/><rect x="309.53" y="69.4" width="1.5" height="1.5" fill="#4b93b6"/><rect x="318.56" y="63.61" width="1.5" height="1.5" fill="#4b93b6"/><rect x="336.31" y="60.65" width="1.5" height="1.5" fill="#4b93b6"/><rect x="337.81" y="47.1" width="1.5" height="1.5" fill="#4b93b6"/><rect x="320.31" y="69.25" width="1.5" height="1.5" fill="#4b93b6"/><rect x="325.97" y="49.9" width="1.5" height="1.5" fill="#4b93b6"/><rect x="341.79" y="60.18" width="1.5" height="1.5" fill="#4b93b6"/><rect x="323.71" y="59.47" width="1.5" height="1.5" fill="#7fb6d0"/><rect x="327.95" y="59.61" width="1.5" height="1.5" fill="#4b93b6"/><rect x="318.28" y="63.79" width="1.5" height="1.5" fill="#4b93b6"/><rect x="284.28" y="76.55" width="1.5" height="1.5" fill="#4b93b6"/><rect x="326.83" y="66.78" width="1.5" height="1.5" fill="#7fb6d0"/><rect x="344.03" y="56.02" width="1.5" height="1.5" fill="#4b93b6"/><rect x="337.06" y="60.33" width="1.5" height="1.5" fill="#4b93b6"/><rect x="298" y="66.24" width="1.5" height="1.5" fill="#4b93b6"/><rect x="319.35" y="54.76" width="1.5" height="1.5" fill="#7fb6d0"/><rect x="330.23" y="61.44" width="1.5" height="1.5" fill="#4b93b6"/><rect x="341.67" y="70.27" width="1.5" height="1.5" fill="#7fb6d0"/><rect x="333.38" y="67.44" width="1.5" height="1.5" fill="#4b93b6"/><rect x="338.06" y="47.62" width="1.5" height="1.5" fill="#4b93b6"/><rect x="334.58" y="64.1" width="1.5" height="1.5" fill="#4b93b6"/><rect x="289.32" y="68.79" width="1.5" height="1.5" fill="#4b93b6"/><rect x="292.93" y="67.34" width="1.5" height="1.5" fill="#4b93b6"/><rect x="330.56" y="65.41" width="1.5" height="1.5" fill="#4b93b6"/><rect x="302.98" y="64.3" width="1.5" height="1.5" fill="#4b93b6"/><rect x="334.6" y="62.15" width="1.5" height="1.5" fill="#7fb6d0"/><rect x="331.98" y="56.75" width="1.5" height="1.5" fill="#4b93b6"/><rect x="307.61" y="69.72" width="1.5" height="1.5" fill="#4b93b6"/><rect x="281.88" y="83.17" width="1.5" height="1.5" fill="#4b93b6"/><rect x="336.42" y="54.62" width="1.5" height="1.5" fill="#4b93b6"/><rect x="296.31" y="60.33" width="1.5" height="1.5" fill="#4b93b6"/><rect x="309.9" y="60.27" width="1.5" height="1.5" fill="#4b93b6"/><rect x="293.45" y="66.34" width="1.5" height="1.5" fill="#4b93b6"/><rect x="285.86" y="68.56" width="1.5" height="1.5" fill="#4b93b6"/><rect x="330.85" y="58.11" width="1.5" height="1.5" fill="#4b93b6"/><rect x="309.87" y="62.15" width="1.5" height="1.5" fill="#7fb6d0"/><rect x="296.99" y="64.5" width="1.5" height="1.5" fill="#4b93b6"/><rect x="314.85" y="55.78" width="1.5" height="1.5" fill="#4b93b6"/><rect x="290.35" y="62.72" width="1.5" height="1.5" fill="#4b93b6"/><rect x="332.54" y="60.73" width="1.5" height="1.5" fill="#4b93b6"/><rect x="346.88" y="47.93" width="1.5" height="1.5" fill="#4b93b6"/><rect x="299.16" y="65.42" width="1.5" height="1.5" fill="#4b93b6"/><rect x="305.78" y="50.56" width="1.5" height="1.5" fill="#4b93b6"/><rect x="329.38" y="50.94" width="1.5" height="1.5" fill="#4b93b6"/><rect x="283.81" y="79.9" width="1.5" height="1.5" fill="#4b93b6"/><rect x="293.59" y="65.5" width="1.5" height="1.5" fill="#4b93b6"/><rect x="344.6" y="58.31" width="1.5" height="1.5" fill="#4b93b6"/><rect x="349.74" y="69.84" width="1.5" height="1.5" fill="#7fb6d0"/><rect x="347.38" y="57.12" width="1.5" height="1.5" fill="#4b93b6"/><rect x="302.98" y="74.56" width="1.5" height="1.5" fill="#4b93b6"/><rect x="302.19" y="72.42" width="1.5" height="1.5" fill="#7fb6d0"/><rect x="289.7" y="75.13" width="1.5" height="1.5" fill="#4b93b6"/><rect x="346.57" y="55.18" width="1.5" height="1.5" fill="#4b93b6"/><rect x="333.39" y="60.18" width="1.5" height="1.5" fill="#4b93b6"/><rect x="346.22" y="70.53" width="1.5" height="1.5" fill="#4b93b6"/><rect x="310.67" y="59.46" width="1.5" height="1.5" fill="#4b93b6"/><rect x="300.52" y="52.96" width="1.5" height="1.5" fill="#4b93b6"/><rect x="332.05" y="66.74" width="1.5" height="1.5" fill="#4b93b6"/><rect x="315.73" y="66.15" width="1.5" height="1.5" fill="#4b93b6"/><rect x="331.35" y="52.14" width="1.5" height="1.5" fill="#7fb6d0"/><rect x="329.02" y="58.13" width="1.5" height="1.5" fill="#4b93b6"/><rect x="298.26" y="59.76" width="1.5" height="1.5" fill="#7fb6d0"/><rect x="342.64" y="66.22" width="1.5" height="1.5" fill="#4b93b6"/><rect x="344.36" y="59.38" width="1.5" height="1.5" fill="#4b93b6"/><rect x="286.72" y="79.72" width="1.5" height="1.5" fill="#4b93b6"/><rect x="348.47" y="52.36" width="1.5" height="1.5" fill="#4b93b6"/><rect x="287.34" y="68.44" width="1.5" height="1.5" fill="#4b93b6"/><rect x="298.51" y="61.18" width="1.5" height="1.5" fill="#4b93b6"/><rect x="322.61" y="58.4" width="1.5" height="1.5" fill="#4b93b6"/><rect x="297.76" y="60.67" width="1.5" height="1.5" fill="#4b93b6"/><rect x="311.01" y="61.69" width="1.5" height="1.5" fill="#7fb6d0"/><rect x="323.92" y="57.54" width="1.5" height="1.5" fill="#4b93b6"/><rect x="294.1" y="74.63" width="1.5" height="1.5" fill="#4b93b6"/><rect x="339.38" y="57.81" width="1.5" height="1.5" fill="#7fb6d0"/><rect x="295.61" y="65.28" width="1.5" height="1.5" fill="#7fb6d0"/><rect x="287.68" y="77.3" width="1.5" height="1.5" fill="#7fb6d0"/><rect x="324.7" y="58.39" width="1.5" height="1.5" fill="#4b93b6"/><rect x="334.9" y="54.98" width="1.5" height="1.5" fill="#4b93b6"/><rect x="312.83" y="64.63" width="1.5" height="1.5" fill="#4b93b6"/><rect x="340.07" y="68.32" width="1.5" height="1.5" fill="#4b93b6"/><rect x="319.37" y="66.12" width="1.5" height="1.5" fill="#4b93b6"/><rect x="332.56" y="53.94" width="1.5" height="1.5" fill="#4b93b6"/><rect x="286.69" y="71.52" width="1.5" height="1.5" fill="#4b93b6"/><rect x="333.07" y="66.96" width="1.5" height="1.5" fill="#4b93b6"/><rect x="296.66" y="61.36" width="1.5" height="1.5" fill="#4b93b6"/><rect x="351.27" y="62.09" width="1.5" height="1.5" fill="#4b93b6"/><rect x="296.92" y="59.73" width="1.5" height="1.5" fill="#4b93b6"/><rect x="346.74" y="60.63" width="1.5" height="1.5" fill="#7fb6d0"/><rect x="324.47" y="71.9" width="1.5" height="1.5" fill="#7fb6d0"/><rect x="319.13" y="72.96" width="1.5" height="1.5" fill="#7fb6d0"/><rect x="348.05" y="51.35" width="1.5" height="1.5" fill="#4b93b6"/><path d="M282.88,82.06 L284.62,79.3 L286.35,76.87 L288.09,74.72 L289.82,72.82 L291.56,71.14 L293.3,69.65 L295.03,68.34 L296.77,67.18 L298.5,66.16 L300.24,65.25 L301.98,64.45 L303.71,63.74 L305.45,63.11 L307.18,62.56 L308.92,62.07 L310.66,61.64 L312.39,61.26 L314.13,60.92 L315.86,60.62 L317.6,60.36 L319.34,60.12 L321.07,59.92 L322.81,59.74 L324.54,59.58 L326.28,59.43 L328.02,59.31 L329.75,59.2 L331.49,59.1 L333.22,59.01 L334.96,58.93 L336.7,58.87 L338.43,58.81 L340.17,58.75 L341.9,58.71 L343.64,58.67 L345.38,58.63 L347.11,58.6 L348.85,58.57 L350.58,58.54 L352.32,58.52" fill="none" stroke="#f4b6b6" stroke-width="3.2" opacity="0.8"/><path d="M282.88,82.06 L284.62,79.3 L286.35,76.87 L288.09,74.72 L289.82,72.82 L291.56,71.14 L293.3,69.65 L295.03,68.34 L296.77,67.18 L298.5,66.16 L300.24,65.25 L301.98,64.45 L303.71,63.74 L305.45,63.11 L307.18,62.56 L308.92,62.07 L310.66,61.64 L312.39,61.26 L314.13,60.92 L315.86,60.62 L317.6,60.36 L319.34,60.12 L321.07,59.92 L322.81,59.74 L324.54,59.58 L326.28,59.43 L328.02,59.31 L329.75,59.2 L331.49,59.1 L333.22,59.01 L334.96,58.93 L336.7,58.87 L338.43,58.81 L340.17,58.75 L341.9,58.71 L343.64,58.67 L345.38,58.63 L347.11,58.6 L348.85,58.57 L350.58,58.54 L352.32,58.52" fill="none" stroke="#ee3a3a" stroke-width="1.3"/><path d="M276.2,32.2 V100.2 H358.8" fill="none" stroke="#333" stroke-width="0.9"/><line x1="276.2" y1="42.3" x2="277.6" y2="42.3" stroke="#333" stroke-width="0.6"/><text x="274.6" y="44.9" font-size="7.6" font-weight="bold" text-anchor="end" fill="#222">20</text><line x1="276.2" y1="66" x2="277.6" y2="66" stroke="#333" stroke-width="0.6"/><text x="274.6" y="68.6" font-size="7.6" font-weight="bold" text-anchor="end" fill="#222">13</text><line x1="276.2" y1="90.5" x2="277.6" y2="90.5" stroke="#333" stroke-width="0.6"/><text x="274.6" y="93.1" font-size="7.6" font-weight="bold" text-anchor="end" fill="#222">6</text><line x1="282" y1="100.2" x2="282" y2="98.8" stroke="#333" stroke-width="0.6"/><text x="282" y="109.9" font-size="7" font-weight="bold" text-anchor="middle" fill="#222">0</text><line x1="299.58" y1="100.2" x2="299.58" y2="98.8" stroke="#333" stroke-width="0.6"/><text x="299.58" y="109.9" font-size="7" font-weight="bold" text-anchor="middle" fill="#222">2</text><line x1="317.16" y1="100.2" x2="317.16" y2="98.8" stroke="#333" stroke-width="0.6"/><text x="317.16" y="109.9" font-size="7" font-weight="bold" text-anchor="middle" fill="#222">4</text><line x1="334.74" y1="100.2" x2="334.74" y2="98.8" stroke="#333" stroke-width="0.6"/><text x="334.74" y="109.9" font-size="7" font-weight="bold" text-anchor="middle" fill="#222">6</text><line x1="352.32" y1="100.2" x2="352.32" y2="98.8" stroke="#333" stroke-width="0.6"/><text x="352.32" y="109.9" font-size="7" font-weight="bold" text-anchor="middle" fill="#222">8</text><text x="317.5" y="119" font-size="8.2" font-weight="bold" text-anchor="middle" fill="#1a1a1a" textLength="15.2" lengthAdjust="spacingAndGlyphs">Age</text><text x="263.4" y="84.4" font-size="9.2" textLength="41" lengthAdjust="spacingAndGlyphs" transform="rotate(-90 263.4 84.4)">SFGdor.R</text><text x="279.9" y="37.6" font-size="6.6" font-weight="bold" fill="#222" xml:space="preserve">r = 0.45;   p = 4.2 x 10<tspan dy="-2.6" font-size="4.6">-6</tspan></text><rect x="335.74" y="180.41" width="1.5" height="1.5" fill="#7fb6d0"/><rect x="302.1" y="144.3" width="1.5" height="1.5" fill="#7fb6d0"/><rect x="294.59" y="150.94" width="1.5" height="1.5" fill="#4b93b6"/><rect x="317.99" y="150.08" width="1.5" height="1.5" fill="#4b93b6"/><rect x="284.52" y="164.92" width="1.5" height="1.5" fill="#4b93b6"/><rect x="305.78" y="167.76" width="1.5" height="1.5" fill="#7fb6d0"/><rect x="333.88" y="156.08" width="1.5" height="1.5" fill="#4b93b6"/><rect x="310.42" y="155.6" width="1.5" height="1.5" fill="#4b93b6"/><rect x="292.4" y="162.06" width="1.5" height="1.5" fill="#7fb6d0"/><rect x="350.15" y="165.79" width="1.5" height="1.5" fill="#7fb6d0"/><rect x="307.73" y="156.1" width="1.5" height="1.5" fill="#4b93b6"/><rect x="318.44" y="151.54" width="1.5" height="1.5" fill="#4b93b6"/><rect x="306.83" y="155.96" width="1.5" height="1.5" fill="#4b93b6"/><rect x="343.66" y="159.06" width="1.5" height="1.5" fill="#7fb6d0"/><rect x="302.47" y="160.46" width="1.5" height="1.5" fill="#4b93b6"/><rect x="290.88" y="147.26" width="1.5" height="1.5" fill="#4b93b6"/><rect x="319.13" y="156.52" width="1.5" height="1.5" fill="#4b93b6"/><rect x="335.5" y="152.31" width="1.5" height="1.5" fill="#4b93b6"/><rect x="350.12" y="146.44" width="1.5" height="1.5" fill="#4b93b6"/><rect x="294.62" y="184.45" width="1.5" height="1.5" fill="#4b93b6"/><rect x="311.9" y="160.91" width="1.5" height="1.5" fill="#4b93b6"/><rect x="288.25" y="161.51" width="1.5" height="1.5" fill="#4b93b6"/><rect x="298.97" y="158.9" width="1.5" height="1.5" fill="#4b93b6"/><rect x="284.76" y="173.47" width="1.5" height="1.5" fill="#4b93b6"/><rect x="325.54" y="165.67" width="1.5" height="1.5" fill="#7fb6d0"/><rect x="298.98" y="179.5" width="1.5" height="1.5" fill="#4b93b6"/><rect x="334.68" y="152.33" width="1.5" height="1.5" fill="#7fb6d0"/><rect x="320.25" y="168.1" width="1.5" height="1.5" fill="#4b93b6"/><rect x="293.48" y="150.19" width="1.5" height="1.5" fill="#7fb6d0"/><rect x="345.01" y="151.57" width="1.5" height="1.5" fill="#4b93b6"/><rect x="328.19" y="141.42" width="1.5" height="1.5" fill="#4b93b6"/><rect x="310.65" y="166.74" width="1.5" height="1.5" fill="#4b93b6"/><rect x="293.62" y="157.38" width="1.5" height="1.5" fill="#7fb6d0"/><rect x="319.92" y="145.43" width="1.5" height="1.5" fill="#4b93b6"/><rect x="306.28" y="175.95" width="1.5" height="1.5" fill="#4b93b6"/><rect x="348.72" y="147.71" width="1.5" height="1.5" fill="#4b93b6"/><rect x="303.7" y="170.1" width="1.5" height="1.5" fill="#7fb6d0"/><rect x="339.52" y="155.28" width="1.5" height="1.5" fill="#7fb6d0"/><rect x="324.49" y="145.45" width="1.5" height="1.5" fill="#4b93b6"/><rect x="315.76" y="156.39" width="1.5" height="1.5" fill="#4b93b6"/><rect x="331.26" y="152.08" width="1.5" height="1.5" fill="#4b93b6"/><rect x="307.64" y="162.4" width="1.5" height="1.5" fill="#4b93b6"/><rect x="344.28" y="140.63" width="1.5" height="1.5" fill="#4b93b6"/><rect x="346.03" y="155.92" width="1.5" height="1.5" fill="#4b93b6"/><rect x="308.47" y="156.36" width="1.5" height="1.5" fill="#4b93b6"/><rect x="348.07" y="159.23" width="1.5" height="1.5" fill="#7fb6d0"/><rect x="303.87" y="166.62" width="1.5" height="1.5" fill="#4b93b6"/><rect x="299.18" y="157.3" width="1.5" height="1.5" fill="#7fb6d0"/><rect x="287.23" y="163.41" width="1.5" height="1.5" fill="#4b93b6"/><rect x="318.46" y="152.17" width="1.5" height="1.5" fill="#7fb6d0"/><rect x="340.27" y="165.08" width="1.5" height="1.5" fill="#4b93b6"/><rect x="301.41" y="173.53" width="1.5" height="1.5" fill="#7fb6d0"/><rect x="286.54" y="165.44" width="1.5" height="1.5" fill="#4b93b6"/><rect x="319.85" y="147.62" width="1.5" height="1.5" fill="#4b93b6"/><rect x="298.18" y="157.23" width="1.5" height="1.5" fill="#7fb6d0"/><rect x="294.12" y="164.15" width="1.5" height="1.5" fill="#7fb6d0"/><rect x="328.83" y="159.08" width="1.5" height="1.5" fill="#4b93b6"/><rect x="334.76" y="158.89" width="1.5" height="1.5" fill="#4b93b6"/><rect x="294.94" y="154.63" width="1.5" height="1.5" fill="#4b93b6"/><rect x="348.83" y="168.57" width="1.5" height="1.5" fill="#4b93b6"/><rect x="308.41" y="153.1" width="1.5" height="1.5" fill="#7fb6d0"/><rect x="301.31" y="155.9" width="1.5" height="1.5" fill="#4b93b6"/><rect x="291.84" y="157.45" width="1.5" height="1.5" fill="#7fb6d0"/><rect x="287.07" y="158.24" width="1.5" height="1.5" fill="#4b93b6"/><rect x="347.33" y="135.65" width="1.5" height="1.5" fill="#4b93b6"/><rect x="306.45" y="160.92" width="1.5" height="1.5" fill="#7fb6d0"/><rect x="315.59" y="160.9" width="1.5" height="1.5" fill="#4b93b6"/><rect x="305.82" y="167.99" width="1.5" height="1.5" fill="#7fb6d0"/><rect x="336.33" y="163.7" width="1.5" height="1.5" fill="#4b93b6"/><rect x="312.6" y="163.43" width="1.5" height="1.5" fill="#4b93b6"/><rect x="339.9" y="150.26" width="1.5" height="1.5" fill="#7fb6d0"/><rect x="340.97" y="142.29" width="1.5" height="1.5" fill="#4b93b6"/><rect x="349.02" y="149.26" width="1.5" height="1.5" fill="#4b93b6"/><rect x="295.83" y="167.08" width="1.5" height="1.5" fill="#4b93b6"/><rect x="350.06" y="167.26" width="1.5" height="1.5" fill="#4b93b6"/><rect x="282.66" y="155.26" width="1.5" height="1.5" fill="#7fb6d0"/><rect x="337.18" y="140.88" width="1.5" height="1.5" fill="#4b93b6"/><rect x="335.22" y="155.57" width="1.5" height="1.5" fill="#4b93b6"/><rect x="319.45" y="162.6" width="1.5" height="1.5" fill="#4b93b6"/><rect x="304.27" y="159.04" width="1.5" height="1.5" fill="#4b93b6"/><rect x="307.79" y="163.68" width="1.5" height="1.5" fill="#4b93b6"/><rect x="350.21" y="144.27" width="1.5" height="1.5" fill="#7fb6d0"/><rect x="341.94" y="149.79" width="1.5" height="1.5" fill="#7fb6d0"/><rect x="300.54" y="167.91" width="1.5" height="1.5" fill="#4b93b6"/><rect x="316.69" y="159.36" width="1.5" height="1.5" fill="#4b93b6"/><rect x="301.42" y="169.54" width="1.5" height="1.5" fill="#7fb6d0"/><rect x="313.34" y="170.01" width="1.5" height="1.5" fill="#7fb6d0"/><rect x="350.63" y="150.33" width="1.5" height="1.5" fill="#4b93b6"/><rect x="312.55" y="161.76" width="1.5" height="1.5" fill="#4b93b6"/><rect x="340.91" y="156.03" width="1.5" height="1.5" fill="#7fb6d0"/><rect x="285.84" y="159.07" width="1.5" height="1.5" fill="#7fb6d0"/><rect x="307.31" y="167.25" width="1.5" height="1.5" fill="#4b93b6"/><rect x="320.03" y="150.72" width="1.5" height="1.5" fill="#7fb6d0"/><rect x="331.4" y="161.93" width="1.5" height="1.5" fill="#4b93b6"/><rect x="302.7" y="170.19" width="1.5" height="1.5" fill="#4b93b6"/><rect x="327.23" y="156.7" width="1.5" height="1.5" fill="#7fb6d0"/><rect x="322.53" y="153.49" width="1.5" height="1.5" fill="#4b93b6"/><rect x="324.64" y="151.89" width="1.5" height="1.5" fill="#4b93b6"/><rect x="287.39" y="167.28" width="1.5" height="1.5" fill="#4b93b6"/><rect x="319.34" y="151.34" width="1.5" height="1.5" fill="#7fb6d0"/><rect x="319.03" y="159.32" width="1.5" height="1.5" fill="#7fb6d0"/><rect x="345.49" y="169.6" width="1.5" height="1.5" fill="#4b93b6"/><rect x="329.38" y="142.61" width="1.5" height="1.5" fill="#4b93b6"/><rect x="314.91" y="146.12" width="1.5" height="1.5" fill="#7fb6d0"/><rect x="301.73" y="155.21" width="1.5" height="1.5" fill="#4b93b6"/><rect x="287.62" y="148.6" width="1.5" height="1.5" fill="#4b93b6"/><rect x="306.24" y="143.59" width="1.5" height="1.5" fill="#4b93b6"/><rect x="300.85" y="160.73" width="1.5" height="1.5" fill="#4b93b6"/><rect x="317.45" y="169.77" width="1.5" height="1.5" fill="#4b93b6"/><rect x="312.17" y="154.13" width="1.5" height="1.5" fill="#4b93b6"/><rect x="350.11" y="153.3" width="1.5" height="1.5" fill="#4b93b6"/><rect x="334.35" y="158.5" width="1.5" height="1.5" fill="#7fb6d0"/><rect x="286.3" y="154.14" width="1.5" height="1.5" fill="#4b93b6"/><rect x="344.19" y="152.49" width="1.5" height="1.5" fill="#7fb6d0"/><rect x="304.86" y="171.07" width="1.5" height="1.5" fill="#7fb6d0"/><rect x="295.8" y="156.73" width="1.5" height="1.5" fill="#4b93b6"/><rect x="287.87" y="165.36" width="1.5" height="1.5" fill="#7fb6d0"/><rect x="318.29" y="159.75" width="1.5" height="1.5" fill="#4b93b6"/><rect x="287.65" y="162.97" width="1.5" height="1.5" fill="#7fb6d0"/><rect x="319.36" y="147.93" width="1.5" height="1.5" fill="#4b93b6"/><rect x="350.32" y="157.71" width="1.5" height="1.5" fill="#4b93b6"/><rect x="302.55" y="170.51" width="1.5" height="1.5" fill="#7fb6d0"/><rect x="290.98" y="175.65" width="1.5" height="1.5" fill="#4b93b6"/><rect x="335.41" y="157.26" width="1.5" height="1.5" fill="#7fb6d0"/><rect x="341.61" y="154.06" width="1.5" height="1.5" fill="#4b93b6"/><rect x="311.94" y="165.39" width="1.5" height="1.5" fill="#4b93b6"/><rect x="295.24" y="158.3" width="1.5" height="1.5" fill="#7fb6d0"/><rect x="347.21" y="157.03" width="1.5" height="1.5" fill="#4b93b6"/><rect x="345.53" y="157.77" width="1.5" height="1.5" fill="#4b93b6"/><rect x="284.32" y="161.02" width="1.5" height="1.5" fill="#4b93b6"/><rect x="308.55" y="149.96" width="1.5" height="1.5" fill="#4b93b6"/><rect x="309.73" y="173.4" width="1.5" height="1.5" fill="#4b93b6"/><rect x="294.1" y="162.87" width="1.5" height="1.5" fill="#4b93b6"/><rect x="305.46" y="153.63" width="1.5" height="1.5" fill="#4b93b6"/><rect x="297.09" y="173.05" width="1.5" height="1.5" fill="#4b93b6"/><rect x="330.58" y="151.65" width="1.5" height="1.5" fill="#4b93b6"/><rect x="328.57" y="160.44" width="1.5" height="1.5" fill="#7fb6d0"/><rect x="309.24" y="163.42" width="1.5" height="1.5" fill="#4b93b6"/><rect x="323.46" y="163.83" width="1.5" height="1.5" fill="#4b93b6"/><rect x="336.66" y="161.54" width="1.5" height="1.5" fill="#7fb6d0"/><rect x="315.94" y="164.81" width="1.5" height="1.5" fill="#7fb6d0"/><rect x="329.6" y="159.31" width="1.5" height="1.5" fill="#4b93b6"/><rect x="338.81" y="145.94" width="1.5" height="1.5" fill="#7fb6d0"/><rect x="315.45" y="159.41" width="1.5" height="1.5" fill="#4b93b6"/><rect x="331.79" y="163.21" width="1.5" height="1.5" fill="#4b93b6"/><rect x="289.21" y="151.47" width="1.5" height="1.5" fill="#4b93b6"/><rect x="341.15" y="164.73" width="1.5" height="1.5" fill="#7fb6d0"/><rect x="312.9" y="157.64" width="1.5" height="1.5" fill="#4b93b6"/><rect x="322.42" y="154.64" width="1.5" height="1.5" fill="#4b93b6"/><rect x="334.88" y="160.3" width="1.5" height="1.5" fill="#4b93b6"/><rect x="302.85" y="146.65" width="1.5" height="1.5" fill="#4b93b6"/><rect x="350.76" y="163.48" width="1.5" height="1.5" fill="#7fb6d0"/><rect x="333.96" y="155.43" width="1.5" height="1.5" fill="#4b93b6"/><rect x="333.06" y="153.99" width="1.5" height="1.5" fill="#4b93b6"/><rect x="315.15" y="164.94" width="1.5" height="1.5" fill="#4b93b6"/><rect x="321" y="160.39" width="1.5" height="1.5" fill="#4b93b6"/><rect x="289.35" y="171.17" width="1.5" height="1.5" fill="#7fb6d0"/><rect x="293.75" y="165.52" width="1.5" height="1.5" fill="#4b93b6"/><rect x="295.4" y="172.42" width="1.5" height="1.5" fill="#4b93b6"/><rect x="285.52" y="158.11" width="1.5" height="1.5" fill="#4b93b6"/><rect x="295.77" y="167.92" width="1.5" height="1.5" fill="#4b93b6"/><rect x="319.25" y="158.12" width="1.5" height="1.5" fill="#7fb6d0"/><rect x="342.38" y="162.42" width="1.5" height="1.5" fill="#4b93b6"/><rect x="301" y="162.37" width="1.5" height="1.5" fill="#4b93b6"/><rect x="347.48" y="136.35" width="1.5" height="1.5" fill="#4b93b6"/><rect x="312.02" y="144.74" width="1.5" height="1.5" fill="#4b93b6"/><rect x="348.95" y="147.63" width="1.5" height="1.5" fill="#4b93b6"/><rect x="295.63" y="151.82" width="1.5" height="1.5" fill="#4b93b6"/><rect x="350.55" y="148.18" width="1.5" height="1.5" fill="#7fb6d0"/><rect x="288.58" y="177.99" width="1.5" height="1.5" fill="#7fb6d0"/><rect x="334.14" y="153.53" width="1.5" height="1.5" fill="#7fb6d0"/><rect x="304.52" y="151.04" width="1.5" height="1.5" fill="#7fb6d0"/><rect x="293.24" y="166.53" width="1.5" height="1.5" fill="#4b93b6"/><rect x="307.71" y="166.34" width="1.5" height="1.5" fill="#7fb6d0"/><rect x="333.74" y="168.77" width="1.5" height="1.5" fill="#4b93b6"/><rect x="337.89" y="154.68" width="1.5" height="1.5" fill="#4b93b6"/><rect x="319.71" y="165.47" width="1.5" height="1.5" fill="#4b93b6"/><rect x="293.57" y="167.49" width="1.5" height="1.5" fill="#4b93b6"/><rect x="296.46" y="161.84" width="1.5" height="1.5" fill="#7fb6d0"/><rect x="340.94" y="164.33" width="1.5" height="1.5" fill="#7fb6d0"/><rect x="307.72" y="149.2" width="1.5" height="1.5" fill="#7fb6d0"/><rect x="346.05" y="149.66" width="1.5" height="1.5" fill="#4b93b6"/><rect x="292.76" y="148.53" width="1.5" height="1.5" fill="#4b93b6"/><rect x="333.3" y="157.02" width="1.5" height="1.5" fill="#4b93b6"/><rect x="319.71" y="163.82" width="1.5" height="1.5" fill="#4b93b6"/><rect x="291.25" y="174.01" width="1.5" height="1.5" fill="#4b93b6"/><rect x="343.49" y="152.55" width="1.5" height="1.5" fill="#4b93b6"/><rect x="336.56" y="153.77" width="1.5" height="1.5" fill="#4b93b6"/><rect x="313.54" y="146.77" width="1.5" height="1.5" fill="#4b93b6"/><rect x="330.67" y="156.19" width="1.5" height="1.5" fill="#4b93b6"/><rect x="301.36" y="163.16" width="1.5" height="1.5" fill="#4b93b6"/><rect x="317.9" y="163.41" width="1.5" height="1.5" fill="#4b93b6"/><rect x="349.56" y="139.13" width="1.5" height="1.5" fill="#4b93b6"/><rect x="337.97" y="144.71" width="1.5" height="1.5" fill="#4b93b6"/><rect x="328.33" y="159.14" width="1.5" height="1.5" fill="#4b93b6"/><rect x="337.61" y="148.73" width="1.5" height="1.5" fill="#4b93b6"/><rect x="297.76" y="165.6" width="1.5" height="1.5" fill="#4b93b6"/><rect x="321.72" y="155.44" width="1.5" height="1.5" fill="#4b93b6"/><rect x="323.44" y="157.64" width="1.5" height="1.5" fill="#4b93b6"/><rect x="305.38" y="158.7" width="1.5" height="1.5" fill="#4b93b6"/><rect x="321.45" y="158.98" width="1.5" height="1.5" fill="#4b93b6"/><rect x="327.97" y="141.17" width="1.5" height="1.5" fill="#7fb6d0"/><rect x="318.14" y="165.05" width="1.5" height="1.5" fill="#4b93b6"/><rect x="337.2" y="151.04" width="1.5" height="1.5" fill="#4b93b6"/><rect x="288.66" y="153.31" width="1.5" height="1.5" fill="#4b93b6"/><rect x="312.34" y="164.55" width="1.5" height="1.5" fill="#4b93b6"/><rect x="351.54" y="147.47" width="1.5" height="1.5" fill="#7fb6d0"/><rect x="290.22" y="156.15" width="1.5" height="1.5" fill="#4b93b6"/><rect x="315.21" y="158.43" width="1.5" height="1.5" fill="#4b93b6"/><rect x="282.5" y="144.75" width="1.5" height="1.5" fill="#4b93b6"/><rect x="282.02" y="169.84" width="1.5" height="1.5" fill="#7fb6d0"/><rect x="285.04" y="182.03" width="1.5" height="1.5" fill="#4b93b6"/><rect x="302.98" y="168.56" width="1.5" height="1.5" fill="#4b93b6"/><rect x="290.97" y="162.15" width="1.5" height="1.5" fill="#4b93b6"/><rect x="287.88" y="161.44" width="1.5" height="1.5" fill="#7fb6d0"/><rect x="295.08" y="163.25" width="1.5" height="1.5" fill="#4b93b6"/><rect x="333.74" y="170.16" width="1.5" height="1.5" fill="#4b93b6"/><rect x="325.75" y="159.64" width="1.5" height="1.5" fill="#4b93b6"/><rect x="328.78" y="178.93" width="1.5" height="1.5" fill="#4b93b6"/><rect x="286.46" y="166.11" width="1.5" height="1.5" fill="#4b93b6"/><rect x="346.41" y="165.1" width="1.5" height="1.5" fill="#4b93b6"/><rect x="309.01" y="153.28" width="1.5" height="1.5" fill="#4b93b6"/><rect x="323.73" y="149.56" width="1.5" height="1.5" fill="#7fb6d0"/><rect x="299.73" y="160.37" width="1.5" height="1.5" fill="#4b93b6"/><rect x="299.63" y="169.88" width="1.5" height="1.5" fill="#7fb6d0"/><rect x="348.55" y="142.14" width="1.5" height="1.5" fill="#4b93b6"/><rect x="295.86" y="164.11" width="1.5" height="1.5" fill="#4b93b6"/><rect x="322.54" y="154.66" width="1.5" height="1.5" fill="#4b93b6"/><rect x="298.56" y="160.28" width="1.5" height="1.5" fill="#4b93b6"/><rect x="316.73" y="154.75" width="1.5" height="1.5" fill="#4b93b6"/><rect x="343.44" y="160.74" width="1.5" height="1.5" fill="#4b93b6"/><rect x="284.48" y="167.94" width="1.5" height="1.5" fill="#7fb6d0"/><rect x="334.18" y="164.47" width="1.5" height="1.5" fill="#4b93b6"/><rect x="297.03" y="151.4" width="1.5" height="1.5" fill="#4b93b6"/><rect x="295.43" y="172.67" width="1.5" height="1.5" fill="#7fb6d0"/><rect x="288.94" y="171.76" width="1.5" height="1.5" fill="#7fb6d0"/><rect x="315.11" y="166.4" width="1.5" height="1.5" fill="#4b93b6"/><rect x="295.67" y="155.22" width="1.5" height="1.5" fill="#4b93b6"/><rect x="326.84" y="160.78" width="1.5" height="1.5" fill="#4b93b6"/><rect x="343.95" y="172.55" width="1.5" height="1.5" fill="#7fb6d0"/><rect x="331.51" y="150.73" width="1.5" height="1.5" fill="#7fb6d0"/><rect x="344.54" y="153.66" width="1.5" height="1.5" fill="#4b93b6"/><rect x="323.25" y="150.13" width="1.5" height="1.5" fill="#7fb6d0"/><rect x="345.02" y="155.38" width="1.5" height="1.5" fill="#4b93b6"/><rect x="291.84" y="159.66" width="1.5" height="1.5" fill="#4b93b6"/><rect x="303.75" y="144.52" width="1.5" height="1.5" fill="#4b93b6"/><rect x="346.55" y="152.69" width="1.5" height="1.5" fill="#7fb6d0"/><rect x="303.84" y="159.23" width="1.5" height="1.5" fill="#4b93b6"/><rect x="349.88" y="152.75" width="1.5" height="1.5" fill="#7fb6d0"/><rect x="298.73" y="158.23" width="1.5" height="1.5" fill="#4b93b6"/><rect x="347.21" y="150.03" width="1.5" height="1.5" fill="#4b93b6"/><rect x="302.88" y="142.05" width="1.5" height="1.5" fill="#4b93b6"/><rect x="319.59" y="166.27" width="1.5" height="1.5" fill="#4b93b6"/><rect x="302.52" y="164.53" width="1.5" height="1.5" fill="#7fb6d0"/><rect x="346.95" y="152.25" width="1.5" height="1.5" fill="#4b93b6"/><rect x="299.18" y="178.41" width="1.5" height="1.5" fill="#4b93b6"/><rect x="292.51" y="144.1" width="1.5" height="1.5" fill="#7fb6d0"/><rect x="320.67" y="161.5" width="1.5" height="1.5" fill="#4b93b6"/><rect x="311.53" y="141.25" width="1.5" height="1.5" fill="#4b93b6"/><rect x="301.82" y="154.63" width="1.5" height="1.5" fill="#7fb6d0"/><path d="M282.88,165.75 L284.62,165.41 L286.35,165.08 L288.09,164.74 L289.82,164.4 L291.56,164.06 L293.3,163.73 L295.03,163.39 L296.77,163.05 L298.5,162.72 L300.24,162.38 L301.98,162.04 L303.71,161.7 L305.45,161.37 L307.18,161.03 L308.92,160.69 L310.66,160.35 L312.39,160.02 L314.13,159.68 L315.86,159.34 L317.6,159 L319.34,158.67 L321.07,158.33 L322.81,157.99 L324.54,157.66 L326.28,157.32 L328.02,156.98 L329.75,156.64 L331.49,156.31 L333.22,155.97 L334.96,155.63 L336.7,155.29 L338.43,154.96 L340.17,154.62 L341.9,154.28 L343.64,153.94 L345.38,153.61 L347.11,153.27 L348.85,152.93 L350.58,152.59 L352.32,152.26" fill="none" stroke="#f4b6b6" stroke-width="3.2" opacity="0.8"/><path d="M282.88,165.75 L284.62,165.41 L286.35,165.08 L288.09,164.74 L289.82,164.4 L291.56,164.06 L293.3,163.73 L295.03,163.39 L296.77,163.05 L298.5,162.72 L300.24,162.38 L301.98,162.04 L303.71,161.7 L305.45,161.37 L307.18,161.03 L308.92,160.69 L310.66,160.35 L312.39,160.02 L314.13,159.68 L315.86,159.34 L317.6,159 L319.34,158.67 L321.07,158.33 L322.81,157.99 L324.54,157.66 L326.28,157.32 L328.02,156.98 L329.75,156.64 L331.49,156.31 L333.22,155.97 L334.96,155.63 L336.7,155.29 L338.43,154.96 L340.17,154.62 L341.9,154.28 L343.64,153.94 L345.38,153.61 L347.11,153.27 L348.85,152.93 L350.58,152.59 L352.32,152.26" fill="none" stroke="#ee3a3a" stroke-width="1.3"/><path d="M276.2,126.6 V194.5 H358.8" fill="none" stroke="#333" stroke-width="0.9"/><line x1="276.2" y1="136.4" x2="277.6" y2="136.4" stroke="#333" stroke-width="0.6"/><text x="274.6" y="139" font-size="7.6" font-weight="bold" text-anchor="end" fill="#222">20</text><line x1="276.2" y1="160.4" x2="277.6" y2="160.4" stroke="#333" stroke-width="0.6"/><text x="274.6" y="163" font-size="7.6" font-weight="bold" text-anchor="end" fill="#222">14</text><line x1="276.2" y1="185.2" x2="277.6" y2="185.2" stroke="#333" stroke-width="0.6"/><text x="274.6" y="187.8" font-size="7.6" font-weight="bold" text-anchor="end" fill="#222">8</text><line x1="282" y1="194.5" x2="282" y2="193.1" stroke="#333" stroke-width="0.6"/><text x="282" y="204.1" font-size="7" font-weight="bold" text-anchor="middle" fill="#222">0</text><line x1="299.58" y1="194.5" x2="299.58" y2="193.1" stroke="#333" stroke-width="0.6"/><text x="299.58" y="204.1" font-size="7" font-weight="bold" text-anchor="middle" fill="#222">2</text><line x1="317.16" y1="194.5" x2="317.16" y2="193.1" stroke="#333" stroke-width="0.6"/><text x="317.16" y="204.1" font-size="7" font-weight="bold" text-anchor="middle" fill="#222">4</text><line x1="334.74" y1="194.5" x2="334.74" y2="193.1" stroke="#333" stroke-width="0.6"/><text x="334.74" y="204.1" font-size="7" font-weight="bold" text-anchor="middle" fill="#222">6</text><line x1="352.32" y1="194.5" x2="352.32" y2="193.1" stroke="#333" stroke-width="0.6"/><text x="352.32" y="204.1" font-size="7" font-weight="bold" text-anchor="middle" fill="#222">8</text><text x="317.5" y="213.5" font-size="8.2" font-weight="bold" text-anchor="middle" fill="#1a1a1a" textLength="15.2" lengthAdjust="spacingAndGlyphs">Age</text><text x="263.4" y="176" font-size="9.2" textLength="26.5" lengthAdjust="spacingAndGlyphs" transform="rotate(-90 263.4 176)">SOG.R</text><text x="279.9" y="131.8" font-size="6.6" font-weight="bold" fill="#222" xml:space="preserve">r = 0.20;   p = 3.8 x 10<tspan dy="-2.6" font-size="4.6">-12</tspan></text><text x="368.5" y="16.9" font-size="20.5" font-weight="bold" textLength="14.5" lengthAdjust="spacingAndGlyphs">B</text><text x="409.4" y="14.2" font-size="12.6" font-weight="bold" textLength="270.8" lengthAdjust="spacingAndGlyphs">Between-class differences in trajectory types</text><g transform="translate(405.5,22.5) scale(0.31,0.3)"><path d="M0.1,36.1 C0,32.5 0.4,28.8 1.5,25.3 C2.6,21.9 4.6,18.2 6.8,15.4 C9,12.6 11.9,10.3 14.8,8.2 C17.8,6.1 20.8,4.1 24.5,2.7 C28.2,1.3 33.1,0.5 36.9,0 C40.7,-0.5 44,-0.1 47.5,0 C51,0.1 54.7,0.3 58.2,0.9 C61.8,1.5 65.6,2.4 68.8,3.6 C72,4.8 74.8,6.4 77.6,8.2 C80.4,10 83.2,12.2 85.6,14.5 C88,16.8 90,19 91.8,21.7 C93.6,24.4 95,27.7 96.2,30.7 C97.4,33.7 98.3,36.7 98.9,39.7 C99.5,42.7 99.9,46 99.7,48.7 C99.5,51.4 99,54.1 98,55.9 C97,57.7 95.5,58.5 93.6,59.6 C91.7,60.7 89.5,61.4 86.5,62.3 C83.5,63.2 79.5,64.1 75.9,65 C72.4,65.9 68.8,67 65.2,67.7 C61.7,68.5 58.1,69 54.6,69.5 C51.1,70 47,70.4 44,70.4 C41,70.4 38.8,70.1 36.9,69.5 C35,68.9 33.6,68 32.5,66.8 C31.4,65.6 31.2,63.5 30.2,62.3 C29.2,61.1 28.1,60.3 26.3,59.6 C24.5,58.9 21.6,58.6 19.2,58.1 C16.8,57.6 14.4,57.6 12.2,56.8 C10,56 7.7,54.9 6,53.2 C4.3,51.6 2.9,49.8 1.9,46.9 C0.9,44 0.2,39.7 0.1,36.1Z" fill="url(#bg)" stroke="#cfcfcf" stroke-width="0.6" vector-effect="non-scaling-stroke"/><g clip-path="url(#clat)"><g filter="url(#sb)"><path d="M30,53 C38,45 46,37 54,31 C58,28 62,29 66,33 C70,37 74,39 81,41" fill="none" stroke="#d2d2d2" stroke-width="5" stroke-linecap="round"/><path d="M30,53 C38,45 46,37 54,31 C58,28 62,29 66,33 C70,37 74,39 81,41" fill="none" stroke="#b8b8b8" stroke-width="1.6" stroke-linecap="round"/><path d="M37,61 C47,53 57,47 67,45 C75,44 83,45 91,47" fill="none" stroke="#d6d6d6" stroke-width="3" stroke-linecap="round"/><path d="M11,35 C19,29 29,23 41,19" fill="none" stroke="#d8d8d8" stroke-width="2.6" stroke-linecap="round"/><path d="M52,3 C51,10 49,17 46,24" fill="none" stroke="#d6d6d6" stroke-width="2.4" stroke-linecap="round"/><path d="M63,5 C62,12 61,18 60,25" fill="none" stroke="#dadada" stroke-width="2.2" stroke-linecap="round"/><path d="M70,18 C78,20 86,24 93,30" fill="none" stroke="#dadada" stroke-width="2.2" stroke-linecap="round"/><path d="M38,69 C55,68 75,64 94,57" fill="none" stroke="#d2d2d2" stroke-width="3" stroke-linecap="round"/></g></g></g><path d="M40,2 C44,1 47,2 46,8 C43,20 40,32 36,40 C32,42 30,38 32,32 C35,22 38,12 40,2Z" fill="#d957c8" transform="translate(405.5,22.5) scale(0.31,0.3)"/><g transform="translate(441.2,22.5) scale(0.3,0.3)"><path d="M0.1,46.1 C0.2,43.9 0.9,40.1 2,36.7 C3.1,33.3 4.7,28.9 6.8,25.5 C8.9,22.1 11.6,18.9 14.5,16.1 C17.4,13.3 20.6,10.8 24.1,8.6 C27.6,6.4 31.5,4.3 35.6,3 C39.8,1.7 44.9,1.2 49,0.8 C53.1,0.4 56.7,0.4 60.5,0.8 C64.3,1.2 68.5,1.8 72,3 C75.5,4.2 78.7,5.8 81.6,7.7 C84.5,9.6 87.1,11.8 89.3,14.3 C91.5,16.8 93.5,19.8 95,22.7 C96.5,25.6 97.8,29 98.5,32 C99.2,35 99.5,37.9 99.4,40.5 C99.3,43.1 98.8,45.7 97.9,47.9 C97,50.1 95.6,52 94,53.5 C92.4,55 90.7,56.1 88.3,56.9 C85.9,57.7 82.4,58 79.7,58.2 C77,58.4 73.9,57.9 72,58.2 C70.1,58.5 69,59 68.2,60.1 C67.4,61.2 67.7,63.4 67.2,64.8 C66.7,66.2 66.4,67.6 65.3,68.5 C64.2,69.4 62.2,70 60.5,70 C58.8,70 56.7,69.4 54.8,68.5 C52.9,67.6 51.2,66 49,64.8 C46.8,63.5 44.2,62.1 41.3,61 C38.4,59.9 35,59 31.8,58.2 C28.6,57.4 25.4,57 22.2,56.4 C19,55.8 15.5,55.1 12.6,54.5 C9.7,53.9 6.8,53.4 4.9,52.6 C3,51.8 1.9,50.9 1.1,49.8 C0.3,48.7 -0,48.3 0.1,46.1Z" fill="url(#bg)" stroke="#cfcfcf" stroke-width="0.6" vector-effect="non-scaling-stroke"/><g clip-path="url(#cmed)"><g filter="url(#sb)"><path d="M22,42 C26,22 50,12 72,14 C87,16 95,26 95,37" fill="none" stroke="#d4d4d4" stroke-width="3.2" stroke-linecap="round"/><path d="M28,42 C32,28 50,22 68,24 C80,26 86,32 84,38 C80,44 70,42 62,39 C50,35 40,39 33,45 C29,47 27,46 28,42Z" fill="none" stroke="#cacaca" stroke-width="1.4" stroke-linecap="round"/><path d="M16,18 C20,27 22,36 22,46" fill="none" stroke="#d0d0d0" stroke-width="2.4" stroke-linecap="round"/><path d="M3,48 C11,46 19,46 26,46" fill="none" stroke="#d2d2d2" stroke-width="2.2" stroke-linecap="round"/><path d="M28,57 C40,52 56,52 70,57" fill="none" stroke="#cccccc" stroke-width="3" stroke-linecap="round"/></g></g></g><path d="M2,50 C4,40 8,36 12,38 C14,44 14,50 10,54 C6,56 2,54 2,50Z" fill="#d957c8" transform="translate(441.2,22.5) scale(0.3,0.3)"/><path d="M56,0 C60,0 62,2 60,4Z" fill="#d957c8" transform="translate(441.2,22.5) scale(0.3,0.3)"/><g transform="translate(405.5,49) scale(0.31,0.3)"><path d="M0.1,36.1 C0,32.5 0.4,28.8 1.5,25.3 C2.6,21.9 4.6,18.2 6.8,15.4 C9,12.6 11.9,10.3 14.8,8.2 C17.8,6.1 20.8,4.1 24.5,2.7 C28.2,1.3 33.1,0.5 36.9,0 C40.7,-0.5 44,-0.1 47.5,0 C51,0.1 54.7,0.3 58.2,0.9 C61.8,1.5 65.6,2.4 68.8,3.6 C72,4.8 74.8,6.4 77.6,8.2 C80.4,10 83.2,12.2 85.6,14.5 C88,16.8 90,19 91.8,21.7 C93.6,24.4 95,27.7 96.2,30.7 C97.4,33.7 98.3,36.7 98.9,39.7 C99.5,42.7 99.9,46 99.7,48.7 C99.5,51.4 99,54.1 98,55.9 C97,57.7 95.5,58.5 93.6,59.6 C91.7,60.7 89.5,61.4 86.5,62.3 C83.5,63.2 79.5,64.1 75.9,65 C72.4,65.9 68.8,67 65.2,67.7 C61.7,68.5 58.1,69 54.6,69.5 C51.1,70 47,70.4 44,70.4 C41,70.4 38.8,70.1 36.9,69.5 C35,68.9 33.6,68 32.5,66.8 C31.4,65.6 31.2,63.5 30.2,62.3 C29.2,61.1 28.1,60.3 26.3,59.6 C24.5,58.9 21.6,58.6 19.2,58.1 C16.8,57.6 14.4,57.6 12.2,56.8 C10,56 7.7,54.9 6,53.2 C4.3,51.6 2.9,49.8 1.9,46.9 C0.9,44 0.2,39.7 0.1,36.1Z" fill="url(#bg)" stroke="#cfcfcf" stroke-width="0.6" vector-effect="non-scaling-stroke"/><g clip-path="url(#clat)"><g filter="url(#sb)"><path d="M30,53 C38,45 46,37 54,31 C58,28 62,29 66,33 C70,37 74,39 81,41" fill="none" stroke="#d2d2d2" stroke-width="5" stroke-linecap="round"/><path d="M30,53 C38,45 46,37 54,31 C58,28 62,29 66,33 C70,37 74,39 81,41" fill="none" stroke="#b8b8b8" stroke-width="1.6" stroke-linecap="round"/><path d="M37,61 C47,53 57,47 67,45 C75,44 83,45 91,47" fill="none" stroke="#d6d6d6" stroke-width="3" stroke-linecap="round"/><path d="M11,35 C19,29 29,23 41,19" fill="none" stroke="#d8d8d8" stroke-width="2.6" stroke-linecap="round"/><path d="M52,3 C51,10 49,17 46,24" fill="none" stroke="#d6d6d6" stroke-width="2.4" stroke-linecap="round"/><path d="M63,5 C62,12 61,18 60,25" fill="none" stroke="#dadada" stroke-width="2.2" stroke-linecap="round"/><path d="M70,18 C78,20 86,24 93,30" fill="none" stroke="#dadada" stroke-width="2.2" stroke-linecap="round"/><path d="M38,69 C55,68 75,64 94,57" fill="none" stroke="#d2d2d2" stroke-width="3" stroke-linecap="round"/></g></g></g><path d="M36,4 C42,2 46,4 44,12 C40,24 36,36 30,42 C26,42 26,36 28,30 C31,20 33,10 36,4Z" fill="#d957c8" transform="translate(405.5,49) scale(0.31,0.3)"/><g transform="translate(441.2,49) scale(0.3,0.3)"><path d="M0.1,46.1 C0.2,43.9 0.9,40.1 2,36.7 C3.1,33.3 4.7,28.9 6.8,25.5 C8.9,22.1 11.6,18.9 14.5,16.1 C17.4,13.3 20.6,10.8 24.1,8.6 C27.6,6.4 31.5,4.3 35.6,3 C39.8,1.7 44.9,1.2 49,0.8 C53.1,0.4 56.7,0.4 60.5,0.8 C64.3,1.2 68.5,1.8 72,3 C75.5,4.2 78.7,5.8 81.6,7.7 C84.5,9.6 87.1,11.8 89.3,14.3 C91.5,16.8 93.5,19.8 95,22.7 C96.5,25.6 97.8,29 98.5,32 C99.2,35 99.5,37.9 99.4,40.5 C99.3,43.1 98.8,45.7 97.9,47.9 C97,50.1 95.6,52 94,53.5 C92.4,55 90.7,56.1 88.3,56.9 C85.9,57.7 82.4,58 79.7,58.2 C77,58.4 73.9,57.9 72,58.2 C70.1,58.5 69,59 68.2,60.1 C67.4,61.2 67.7,63.4 67.2,64.8 C66.7,66.2 66.4,67.6 65.3,68.5 C64.2,69.4 62.2,70 60.5,70 C58.8,70 56.7,69.4 54.8,68.5 C52.9,67.6 51.2,66 49,64.8 C46.8,63.5 44.2,62.1 41.3,61 C38.4,59.9 35,59 31.8,58.2 C28.6,57.4 25.4,57 22.2,56.4 C19,55.8 15.5,55.1 12.6,54.5 C9.7,53.9 6.8,53.4 4.9,52.6 C3,51.8 1.9,50.9 1.1,49.8 C0.3,48.7 -0,48.3 0.1,46.1Z" fill="url(#bg)" stroke="#cfcfcf" stroke-width="0.6" vector-effect="non-scaling-stroke"/><g clip-path="url(#cmed)"><g filter="url(#sb)"><path d="M22,42 C26,22 50,12 72,14 C87,16 95,26 95,37" fill="none" stroke="#d4d4d4" stroke-width="3.2" stroke-linecap="round"/><path d="M28,42 C32,28 50,22 68,24 C80,26 86,32 84,38 C80,44 70,42 62,39 C50,35 40,39 33,45 C29,47 27,46 28,42Z" fill="none" stroke="#cacaca" stroke-width="1.4" stroke-linecap="round"/><path d="M16,18 C20,27 22,36 22,46" fill="none" stroke="#d0d0d0" stroke-width="2.4" stroke-linecap="round"/><path d="M3,48 C11,46 19,46 26,46" fill="none" stroke="#d2d2d2" stroke-width="2.2" stroke-linecap="round"/><path d="M28,57 C40,52 56,52 70,57" fill="none" stroke="#cccccc" stroke-width="3" stroke-linecap="round"/></g></g></g><path d="M40,2 C46,0 56,0 58,4 C58,10 54,14 48,14 C42,14 38,8 40,2Z" fill="#d957c8" transform="translate(441.2,49) scale(0.3,0.3)"/><g transform="translate(405.5,76.9) scale(0.31,0.3)"><path d="M0.1,36.1 C0,32.5 0.4,28.8 1.5,25.3 C2.6,21.9 4.6,18.2 6.8,15.4 C9,12.6 11.9,10.3 14.8,8.2 C17.8,6.1 20.8,4.1 24.5,2.7 C28.2,1.3 33.1,0.5 36.9,0 C40.7,-0.5 44,-0.1 47.5,0 C51,0.1 54.7,0.3 58.2,0.9 C61.8,1.5 65.6,2.4 68.8,3.6 C72,4.8 74.8,6.4 77.6,8.2 C80.4,10 83.2,12.2 85.6,14.5 C88,16.8 90,19 91.8,21.7 C93.6,24.4 95,27.7 96.2,30.7 C97.4,33.7 98.3,36.7 98.9,39.7 C99.5,42.7 99.9,46 99.7,48.7 C99.5,51.4 99,54.1 98,55.9 C97,57.7 95.5,58.5 93.6,59.6 C91.7,60.7 89.5,61.4 86.5,62.3 C83.5,63.2 79.5,64.1 75.9,65 C72.4,65.9 68.8,67 65.2,67.7 C61.7,68.5 58.1,69 54.6,69.5 C51.1,70 47,70.4 44,70.4 C41,70.4 38.8,70.1 36.9,69.5 C35,68.9 33.6,68 32.5,66.8 C31.4,65.6 31.2,63.5 30.2,62.3 C29.2,61.1 28.1,60.3 26.3,59.6 C24.5,58.9 21.6,58.6 19.2,58.1 C16.8,57.6 14.4,57.6 12.2,56.8 C10,56 7.7,54.9 6,53.2 C4.3,51.6 2.9,49.8 1.9,46.9 C0.9,44 0.2,39.7 0.1,36.1Z" fill="url(#bg)" stroke="#cfcfcf" stroke-width="0.6" vector-effect="non-scaling-stroke"/><g clip-path="url(#clat)"><g filter="url(#sb)"><path d="M30,53 C38,45 46,37 54,31 C58,28 62,29 66,33 C70,37 74,39 81,41" fill="none" stroke="#d2d2d2" stroke-width="5" stroke-linecap="round"/><path d="M30,53 C38,45 46,37 54,31 C58,28 62,29 66,33 C70,37 74,39 81,41" fill="none" stroke="#b8b8b8" stroke-width="1.6" stroke-linecap="round"/><path d="M37,61 C47,53 57,47 67,45 C75,44 83,45 91,47" fill="none" stroke="#d6d6d6" stroke-width="3" stroke-linecap="round"/><path d="M11,35 C19,29 29,23 41,19" fill="none" stroke="#d8d8d8" stroke-width="2.6" stroke-linecap="round"/><path d="M52,3 C51,10 49,17 46,24" fill="none" stroke="#d6d6d6" stroke-width="2.4" stroke-linecap="round"/><path d="M63,5 C62,12 61,18 60,25" fill="none" stroke="#dadada" stroke-width="2.2" stroke-linecap="round"/><path d="M70,18 C78,20 86,24 93,30" fill="none" stroke="#dadada" stroke-width="2.2" stroke-linecap="round"/><path d="M38,69 C55,68 75,64 94,57" fill="none" stroke="#d2d2d2" stroke-width="3" stroke-linecap="round"/></g></g></g><path d="M2,50 C6,52 10,54 14,52 C12,56 6,56 2,54Z" fill="#d957c8" transform="translate(405.5,76.9) scale(0.31,0.3)"/><path d="M88,40 C94,38 99,42 98,50 C95,56 90,56 88,52 C86,48 86,44 88,40Z" fill="#d957c8" transform="translate(405.5,76.9) scale(0.31,0.3)"/><g transform="translate(441.2,76.9) scale(0.3,0.3)"><path d="M0.1,46.1 C0.2,43.9 0.9,40.1 2,36.7 C3.1,33.3 4.7,28.9 6.8,25.5 C8.9,22.1 11.6,18.9 14.5,16.1 C17.4,13.3 20.6,10.8 24.1,8.6 C27.6,6.4 31.5,4.3 35.6,3 C39.8,1.7 44.9,1.2 49,0.8 C53.1,0.4 56.7,0.4 60.5,0.8 C64.3,1.2 68.5,1.8 72,3 C75.5,4.2 78.7,5.8 81.6,7.7 C84.5,9.6 87.1,11.8 89.3,14.3 C91.5,16.8 93.5,19.8 95,22.7 C96.5,25.6 97.8,29 98.5,32 C99.2,35 99.5,37.9 99.4,40.5 C99.3,43.1 98.8,45.7 97.9,47.9 C97,50.1 95.6,52 94,53.5 C92.4,55 90.7,56.1 88.3,56.9 C85.9,57.7 82.4,58 79.7,58.2 C77,58.4 73.9,57.9 72,58.2 C70.1,58.5 69,59 68.2,60.1 C67.4,61.2 67.7,63.4 67.2,64.8 C66.7,66.2 66.4,67.6 65.3,68.5 C64.2,69.4 62.2,70 60.5,70 C58.8,70 56.7,69.4 54.8,68.5 C52.9,67.6 51.2,66 49,64.8 C46.8,63.5 44.2,62.1 41.3,61 C38.4,59.9 35,59 31.8,58.2 C28.6,57.4 25.4,57 22.2,56.4 C19,55.8 15.5,55.1 12.6,54.5 C9.7,53.9 6.8,53.4 4.9,52.6 C3,51.8 1.9,50.9 1.1,49.8 C0.3,48.7 -0,48.3 0.1,46.1Z" fill="url(#bg)" stroke="#cfcfcf" stroke-width="0.6" vector-effect="non-scaling-stroke"/><g clip-path="url(#cmed)"><g filter="url(#sb)"><path d="M22,42 C26,22 50,12 72,14 C87,16 95,26 95,37" fill="none" stroke="#d4d4d4" stroke-width="3.2" stroke-linecap="round"/><path d="M28,42 C32,28 50,22 68,24 C80,26 86,32 84,38 C80,44 70,42 62,39 C50,35 40,39 33,45 C29,47 27,46 28,42Z" fill="none" stroke="#cacaca" stroke-width="1.4" stroke-linecap="round"/><path d="M16,18 C20,27 22,36 22,46" fill="none" stroke="#d0d0d0" stroke-width="2.4" stroke-linecap="round"/><path d="M3,48 C11,46 19,46 26,46" fill="none" stroke="#d2d2d2" stroke-width="2.2" stroke-linecap="round"/><path d="M28,57 C40,52 56,52 70,57" fill="none" stroke="#cccccc" stroke-width="3" stroke-linecap="round"/></g></g></g><path d="M0,40 C2,34 6,30 10,30 C12,38 16,46 20,50 C14,54 6,54 2,50 C0,46 0,42 0,40Z" fill="#d957c8" transform="translate(441.2,76.9) scale(0.3,0.3)"/><path d="M72,56 C80,54 90,52 96,48 C96,54 92,58 86,60 C80,62 74,60 72,56Z" fill="#d957c8" transform="translate(441.2,76.9) scale(0.3,0.3)"/><g transform="translate(405.5,103.8) scale(0.31,0.3)"><path d="M0.1,36.1 C0,32.5 0.4,28.8 1.5,25.3 C2.6,21.9 4.6,18.2 6.8,15.4 C9,12.6 11.9,10.3 14.8,8.2 C17.8,6.1 20.8,4.1 24.5,2.7 C28.2,1.3 33.1,0.5 36.9,0 C40.7,-0.5 44,-0.1 47.5,0 C51,0.1 54.7,0.3 58.2,0.9 C61.8,1.5 65.6,2.4 68.8,3.6 C72,4.8 74.8,6.4 77.6,8.2 C80.4,10 83.2,12.2 85.6,14.5 C88,16.8 90,19 91.8,21.7 C93.6,24.4 95,27.7 96.2,30.7 C97.4,33.7 98.3,36.7 98.9,39.7 C99.5,42.7 99.9,46 99.7,48.7 C99.5,51.4 99,54.1 98,55.9 C97,57.7 95.5,58.5 93.6,59.6 C91.7,60.7 89.5,61.4 86.5,62.3 C83.5,63.2 79.5,64.1 75.9,65 C72.4,65.9 68.8,67 65.2,67.7 C61.7,68.5 58.1,69 54.6,69.5 C51.1,70 47,70.4 44,70.4 C41,70.4 38.8,70.1 36.9,69.5 C35,68.9 33.6,68 32.5,66.8 C31.4,65.6 31.2,63.5 30.2,62.3 C29.2,61.1 28.1,60.3 26.3,59.6 C24.5,58.9 21.6,58.6 19.2,58.1 C16.8,57.6 14.4,57.6 12.2,56.8 C10,56 7.7,54.9 6,53.2 C4.3,51.6 2.9,49.8 1.9,46.9 C0.9,44 0.2,39.7 0.1,36.1Z" fill="url(#bg)" stroke="#cfcfcf" stroke-width="0.6" vector-effect="non-scaling-stroke"/><g clip-path="url(#clat)"><g filter="url(#sb)"><path d="M30,53 C38,45 46,37 54,31 C58,28 62,29 66,33 C70,37 74,39 81,41" fill="none" stroke="#d2d2d2" stroke-width="5" stroke-linecap="round"/><path d="M30,53 C38,45 46,37 54,31 C58,28 62,29 66,33 C70,37 74,39 81,41" fill="none" stroke="#b8b8b8" stroke-width="1.6" stroke-linecap="round"/><path d="M37,61 C47,53 57,47 67,45 C75,44 83,45 91,47" fill="none" stroke="#d6d6d6" stroke-width="3" stroke-linecap="round"/><path d="M11,35 C19,29 29,23 41,19" fill="none" stroke="#d8d8d8" stroke-width="2.6" stroke-linecap="round"/><path d="M52,3 C51,10 49,17 46,24" fill="none" stroke="#d6d6d6" stroke-width="2.4" stroke-linecap="round"/><path d="M63,5 C62,12 61,18 60,25" fill="none" stroke="#dadada" stroke-width="2.2" stroke-linecap="round"/><path d="M70,18 C78,20 86,24 93,30" fill="none" stroke="#dadada" stroke-width="2.2" stroke-linecap="round"/><path d="M38,69 C55,68 75,64 94,57" fill="none" stroke="#d2d2d2" stroke-width="3" stroke-linecap="round"/></g></g></g><g transform="translate(441.2,103.8) scale(0.3,0.3)"><path d="M0.1,46.1 C0.2,43.9 0.9,40.1 2,36.7 C3.1,33.3 4.7,28.9 6.8,25.5 C8.9,22.1 11.6,18.9 14.5,16.1 C17.4,13.3 20.6,10.8 24.1,8.6 C27.6,6.4 31.5,4.3 35.6,3 C39.8,1.7 44.9,1.2 49,0.8 C53.1,0.4 56.7,0.4 60.5,0.8 C64.3,1.2 68.5,1.8 72,3 C75.5,4.2 78.7,5.8 81.6,7.7 C84.5,9.6 87.1,11.8 89.3,14.3 C91.5,16.8 93.5,19.8 95,22.7 C96.5,25.6 97.8,29 98.5,32 C99.2,35 99.5,37.9 99.4,40.5 C99.3,43.1 98.8,45.7 97.9,47.9 C97,50.1 95.6,52 94,53.5 C92.4,55 90.7,56.1 88.3,56.9 C85.9,57.7 82.4,58 79.7,58.2 C77,58.4 73.9,57.9 72,58.2 C70.1,58.5 69,59 68.2,60.1 C67.4,61.2 67.7,63.4 67.2,64.8 C66.7,66.2 66.4,67.6 65.3,68.5 C64.2,69.4 62.2,70 60.5,70 C58.8,70 56.7,69.4 54.8,68.5 C52.9,67.6 51.2,66 49,64.8 C46.8,63.5 44.2,62.1 41.3,61 C38.4,59.9 35,59 31.8,58.2 C28.6,57.4 25.4,57 22.2,56.4 C19,55.8 15.5,55.1 12.6,54.5 C9.7,53.9 6.8,53.4 4.9,52.6 C3,51.8 1.9,50.9 1.1,49.8 C0.3,48.7 -0,48.3 0.1,46.1Z" fill="url(#bg)" stroke="#cfcfcf" stroke-width="0.6" vector-effect="non-scaling-stroke"/><g clip-path="url(#cmed)"><g filter="url(#sb)"><path d="M22,42 C26,22 50,12 72,14 C87,16 95,26 95,37" fill="none" stroke="#d4d4d4" stroke-width="3.2" stroke-linecap="round"/><path d="M28,42 C32,28 50,22 68,24 C80,26 86,32 84,38 C80,44 70,42 62,39 C50,35 40,39 33,45 C29,47 27,46 28,42Z" fill="none" stroke="#cacaca" stroke-width="1.4" stroke-linecap="round"/><path d="M16,18 C20,27 22,36 22,46" fill="none" stroke="#d0d0d0" stroke-width="2.4" stroke-linecap="round"/><path d="M3,48 C11,46 19,46 26,46" fill="none" stroke="#d2d2d2" stroke-width="2.2" stroke-linecap="round"/><path d="M28,57 C40,52 56,52 70,57" fill="none" stroke="#cccccc" stroke-width="3" stroke-linecap="round"/></g></g></g><path d="M22,40 C30,18 70,14 84,32 C88,40 84,46 78,46 C76,36 66,28 52,28 C38,28 30,34 28,44 C24,46 22,44 22,40Z" fill="#d957c8" transform="translate(441.2,103.8) scale(0.3,0.3)"/><path d="M28,44 C34,48 40,52 46,54 C40,56 32,54 28,50Z" fill="#d957c8" transform="translate(441.2,103.8) scale(0.3,0.3)"/><g transform="translate(405.5,129.4) scale(0.31,0.3)"><path d="M0.1,36.1 C0,32.5 0.4,28.8 1.5,25.3 C2.6,21.9 4.6,18.2 6.8,15.4 C9,12.6 11.9,10.3 14.8,8.2 C17.8,6.1 20.8,4.1 24.5,2.7 C28.2,1.3 33.1,0.5 36.9,0 C40.7,-0.5 44,-0.1 47.5,0 C51,0.1 54.7,0.3 58.2,0.9 C61.8,1.5 65.6,2.4 68.8,3.6 C72,4.8 74.8,6.4 77.6,8.2 C80.4,10 83.2,12.2 85.6,14.5 C88,16.8 90,19 91.8,21.7 C93.6,24.4 95,27.7 96.2,30.7 C97.4,33.7 98.3,36.7 98.9,39.7 C99.5,42.7 99.9,46 99.7,48.7 C99.5,51.4 99,54.1 98,55.9 C97,57.7 95.5,58.5 93.6,59.6 C91.7,60.7 89.5,61.4 86.5,62.3 C83.5,63.2 79.5,64.1 75.9,65 C72.4,65.9 68.8,67 65.2,67.7 C61.7,68.5 58.1,69 54.6,69.5 C51.1,70 47,70.4 44,70.4 C41,70.4 38.8,70.1 36.9,69.5 C35,68.9 33.6,68 32.5,66.8 C31.4,65.6 31.2,63.5 30.2,62.3 C29.2,61.1 28.1,60.3 26.3,59.6 C24.5,58.9 21.6,58.6 19.2,58.1 C16.8,57.6 14.4,57.6 12.2,56.8 C10,56 7.7,54.9 6,53.2 C4.3,51.6 2.9,49.8 1.9,46.9 C0.9,44 0.2,39.7 0.1,36.1Z" fill="url(#bg)" stroke="#cfcfcf" stroke-width="0.6" vector-effect="non-scaling-stroke"/><g clip-path="url(#clat)"><g filter="url(#sb)"><path d="M30,53 C38,45 46,37 54,31 C58,28 62,29 66,33 C70,37 74,39 81,41" fill="none" stroke="#d2d2d2" stroke-width="5" stroke-linecap="round"/><path d="M30,53 C38,45 46,37 54,31 C58,28 62,29 66,33 C70,37 74,39 81,41" fill="none" stroke="#b8b8b8" stroke-width="1.6" stroke-linecap="round"/><path d="M37,61 C47,53 57,47 67,45 C75,44 83,45 91,47" fill="none" stroke="#d6d6d6" stroke-width="3" stroke-linecap="round"/><path d="M11,35 C19,29 29,23 41,19" fill="none" stroke="#d8d8d8" stroke-width="2.6" stroke-linecap="round"/><path d="M52,3 C51,10 49,17 46,24" fill="none" stroke="#d6d6d6" stroke-width="2.4" stroke-linecap="round"/><path d="M63,5 C62,12 61,18 60,25" fill="none" stroke="#dadada" stroke-width="2.2" stroke-linecap="round"/><path d="M70,18 C78,20 86,24 93,30" fill="none" stroke="#dadada" stroke-width="2.2" stroke-linecap="round"/><path d="M38,69 C55,68 75,64 94,57" fill="none" stroke="#d2d2d2" stroke-width="3" stroke-linecap="round"/></g></g></g><path d="M10,18 C18,8 30,4 38,4 C34,14 30,22 24,28 C22,36 18,42 12,46 C6,42 6,28 10,18Z" fill="#d957c8" transform="translate(405.5,129.4) scale(0.31,0.3)"/><path d="M58,4 C70,2 80,8 88,16 C84,22 78,22 74,18 C70,12 62,10 58,4Z" fill="#d957c8" transform="translate(405.5,129.4) scale(0.31,0.3)"/><path d="M40,64 C50,56 66,50 84,48 C88,54 80,60 70,64 C58,68 48,70 40,64Z" fill="#d957c8" transform="translate(405.5,129.4) scale(0.31,0.3)"/><path d="M86,24 C92,28 96,34 96,40 C92,38 88,32 86,24Z" fill="#d957c8" transform="translate(405.5,129.4) scale(0.31,0.3)"/><g transform="translate(441.2,129.4) scale(0.3,0.3)"><path d="M0.1,46.1 C0.2,43.9 0.9,40.1 2,36.7 C3.1,33.3 4.7,28.9 6.8,25.5 C8.9,22.1 11.6,18.9 14.5,16.1 C17.4,13.3 20.6,10.8 24.1,8.6 C27.6,6.4 31.5,4.3 35.6,3 C39.8,1.7 44.9,1.2 49,0.8 C53.1,0.4 56.7,0.4 60.5,0.8 C64.3,1.2 68.5,1.8 72,3 C75.5,4.2 78.7,5.8 81.6,7.7 C84.5,9.6 87.1,11.8 89.3,14.3 C91.5,16.8 93.5,19.8 95,22.7 C96.5,25.6 97.8,29 98.5,32 C99.2,35 99.5,37.9 99.4,40.5 C99.3,43.1 98.8,45.7 97.9,47.9 C97,50.1 95.6,52 94,53.5 C92.4,55 90.7,56.1 88.3,56.9 C85.9,57.7 82.4,58 79.7,58.2 C77,58.4 73.9,57.9 72,58.2 C70.1,58.5 69,59 68.2,60.1 C67.4,61.2 67.7,63.4 67.2,64.8 C66.7,66.2 66.4,67.6 65.3,68.5 C64.2,69.4 62.2,70 60.5,70 C58.8,70 56.7,69.4 54.8,68.5 C52.9,67.6 51.2,66 49,64.8 C46.8,63.5 44.2,62.1 41.3,61 C38.4,59.9 35,59 31.8,58.2 C28.6,57.4 25.4,57 22.2,56.4 C19,55.8 15.5,55.1 12.6,54.5 C9.7,53.9 6.8,53.4 4.9,52.6 C3,51.8 1.9,50.9 1.1,49.8 C0.3,48.7 -0,48.3 0.1,46.1Z" fill="url(#bg)" stroke="#cfcfcf" stroke-width="0.6" vector-effect="non-scaling-stroke"/><g clip-path="url(#cmed)"><g filter="url(#sb)"><path d="M22,42 C26,22 50,12 72,14 C87,16 95,26 95,37" fill="none" stroke="#d4d4d4" stroke-width="3.2" stroke-linecap="round"/><path d="M28,42 C32,28 50,22 68,24 C80,26 86,32 84,38 C80,44 70,42 62,39 C50,35 40,39 33,45 C29,47 27,46 28,42Z" fill="none" stroke="#cacaca" stroke-width="1.4" stroke-linecap="round"/><path d="M16,18 C20,27 22,36 22,46" fill="none" stroke="#d0d0d0" stroke-width="2.4" stroke-linecap="round"/><path d="M3,48 C11,46 19,46 26,46" fill="none" stroke="#d2d2d2" stroke-width="2.2" stroke-linecap="round"/><path d="M28,57 C40,52 56,52 70,57" fill="none" stroke="#cccccc" stroke-width="3" stroke-linecap="round"/></g></g></g><path d="M8,26 C14,12 24,6 32,4 C34,12 30,26 26,38 C22,44 16,48 10,50 C4,46 4,36 8,26Z" fill="#d957c8" transform="translate(441.2,129.4) scale(0.3,0.3)"/><path d="M48,2 C62,0 80,6 92,18 C98,28 100,38 98,46 C92,46 88,40 84,32 C78,24 68,20 58,18 C52,16 48,10 48,2Z" fill="#d957c8" transform="translate(441.2,129.4) scale(0.3,0.3)"/><g transform="translate(405.5,155.8) scale(0.31,0.3)"><path d="M0.1,36.1 C0,32.5 0.4,28.8 1.5,25.3 C2.6,21.9 4.6,18.2 6.8,15.4 C9,12.6 11.9,10.3 14.8,8.2 C17.8,6.1 20.8,4.1 24.5,2.7 C28.2,1.3 33.1,0.5 36.9,0 C40.7,-0.5 44,-0.1 47.5,0 C51,0.1 54.7,0.3 58.2,0.9 C61.8,1.5 65.6,2.4 68.8,3.6 C72,4.8 74.8,6.4 77.6,8.2 C80.4,10 83.2,12.2 85.6,14.5 C88,16.8 90,19 91.8,21.7 C93.6,24.4 95,27.7 96.2,30.7 C97.4,33.7 98.3,36.7 98.9,39.7 C99.5,42.7 99.9,46 99.7,48.7 C99.5,51.4 99,54.1 98,55.9 C97,57.7 95.5,58.5 93.6,59.6 C91.7,60.7 89.5,61.4 86.5,62.3 C83.5,63.2 79.5,64.1 75.9,65 C72.4,65.9 68.8,67 65.2,67.7 C61.7,68.5 58.1,69 54.6,69.5 C51.1,70 47,70.4 44,70.4 C41,70.4 38.8,70.1 36.9,69.5 C35,68.9 33.6,68 32.5,66.8 C31.4,65.6 31.2,63.5 30.2,62.3 C29.2,61.1 28.1,60.3 26.3,59.6 C24.5,58.9 21.6,58.6 19.2,58.1 C16.8,57.6 14.4,57.6 12.2,56.8 C10,56 7.7,54.9 6,53.2 C4.3,51.6 2.9,49.8 1.9,46.9 C0.9,44 0.2,39.7 0.1,36.1Z" fill="url(#bg)" stroke="#cfcfcf" stroke-width="0.6" vector-effect="non-scaling-stroke"/><g clip-path="url(#clat)"><g filter="url(#sb)"><path d="M30,53 C38,45 46,37 54,31 C58,28 62,29 66,33 C70,37 74,39 81,41" fill="none" stroke="#d2d2d2" stroke-width="5" stroke-linecap="round"/><path d="M30,53 C38,45 46,37 54,31 C58,28 62,29 66,33 C70,37 74,39 81,41" fill="none" stroke="#b8b8b8" stroke-width="1.6" stroke-linecap="round"/><path d="M37,61 C47,53 57,47 67,45 C75,44 83,45 91,47" fill="none" stroke="#d6d6d6" stroke-width="3" stroke-linecap="round"/><path d="M11,35 C19,29 29,23 41,19" fill="none" stroke="#d8d8d8" stroke-width="2.6" stroke-linecap="round"/><path d="M52,3 C51,10 49,17 46,24" fill="none" stroke="#d6d6d6" stroke-width="2.4" stroke-linecap="round"/><path d="M63,5 C62,12 61,18 60,25" fill="none" stroke="#dadada" stroke-width="2.2" stroke-linecap="round"/><path d="M70,18 C78,20 86,24 93,30" fill="none" stroke="#dadada" stroke-width="2.2" stroke-linecap="round"/><path d="M38,69 C55,68 75,64 94,57" fill="none" stroke="#d2d2d2" stroke-width="3" stroke-linecap="round"/></g></g></g><path d="M4,30 C8,24 14,22 16,26 C16,36 12,44 6,48 C2,44 2,36 4,30Z" fill="#d957c8" transform="translate(405.5,155.8) scale(0.31,0.3)"/><path d="M56,22 C66,18 80,20 90,28 C94,36 92,44 84,46 C72,48 60,50 48,58 C40,62 34,62 34,56 C40,48 52,42 58,38 C54,32 52,26 56,22Z" fill="#d957c8" transform="translate(405.5,155.8) scale(0.31,0.3)"/><g transform="translate(441.2,155.8) scale(0.3,0.3)"><path d="M0.1,46.1 C0.2,43.9 0.9,40.1 2,36.7 C3.1,33.3 4.7,28.9 6.8,25.5 C8.9,22.1 11.6,18.9 14.5,16.1 C17.4,13.3 20.6,10.8 24.1,8.6 C27.6,6.4 31.5,4.3 35.6,3 C39.8,1.7 44.9,1.2 49,0.8 C53.1,0.4 56.7,0.4 60.5,0.8 C64.3,1.2 68.5,1.8 72,3 C75.5,4.2 78.7,5.8 81.6,7.7 C84.5,9.6 87.1,11.8 89.3,14.3 C91.5,16.8 93.5,19.8 95,22.7 C96.5,25.6 97.8,29 98.5,32 C99.2,35 99.5,37.9 99.4,40.5 C99.3,43.1 98.8,45.7 97.9,47.9 C97,50.1 95.6,52 94,53.5 C92.4,55 90.7,56.1 88.3,56.9 C85.9,57.7 82.4,58 79.7,58.2 C77,58.4 73.9,57.9 72,58.2 C70.1,58.5 69,59 68.2,60.1 C67.4,61.2 67.7,63.4 67.2,64.8 C66.7,66.2 66.4,67.6 65.3,68.5 C64.2,69.4 62.2,70 60.5,70 C58.8,70 56.7,69.4 54.8,68.5 C52.9,67.6 51.2,66 49,64.8 C46.8,63.5 44.2,62.1 41.3,61 C38.4,59.9 35,59 31.8,58.2 C28.6,57.4 25.4,57 22.2,56.4 C19,55.8 15.5,55.1 12.6,54.5 C9.7,53.9 6.8,53.4 4.9,52.6 C3,51.8 1.9,50.9 1.1,49.8 C0.3,48.7 -0,48.3 0.1,46.1Z" fill="url(#bg)" stroke="#cfcfcf" stroke-width="0.6" vector-effect="non-scaling-stroke"/><g clip-path="url(#cmed)"><g filter="url(#sb)"><path d="M22,42 C26,22 50,12 72,14 C87,16 95,26 95,37" fill="none" stroke="#d4d4d4" stroke-width="3.2" stroke-linecap="round"/><path d="M28,42 C32,28 50,22 68,24 C80,26 86,32 84,38 C80,44 70,42 62,39 C50,35 40,39 33,45 C29,47 27,46 28,42Z" fill="none" stroke="#cacaca" stroke-width="1.4" stroke-linecap="round"/><path d="M16,18 C20,27 22,36 22,46" fill="none" stroke="#d0d0d0" stroke-width="2.4" stroke-linecap="round"/><path d="M3,48 C11,46 19,46 26,46" fill="none" stroke="#d2d2d2" stroke-width="2.2" stroke-linecap="round"/><path d="M28,57 C40,52 56,52 70,57" fill="none" stroke="#cccccc" stroke-width="3" stroke-linecap="round"/></g></g></g><path d="M94,46 C96,48 96,52 94,54Z" fill="#d957c8" transform="translate(441.2,155.8) scale(0.3,0.3)"/><g transform="translate(405.5,180.8) scale(0.31,0.3)"><path d="M0.1,36.1 C0,32.5 0.4,28.8 1.5,25.3 C2.6,21.9 4.6,18.2 6.8,15.4 C9,12.6 11.9,10.3 14.8,8.2 C17.8,6.1 20.8,4.1 24.5,2.7 C28.2,1.3 33.1,0.5 36.9,0 C40.7,-0.5 44,-0.1 47.5,0 C51,0.1 54.7,0.3 58.2,0.9 C61.8,1.5 65.6,2.4 68.8,3.6 C72,4.8 74.8,6.4 77.6,8.2 C80.4,10 83.2,12.2 85.6,14.5 C88,16.8 90,19 91.8,21.7 C93.6,24.4 95,27.7 96.2,30.7 C97.4,33.7 98.3,36.7 98.9,39.7 C99.5,42.7 99.9,46 99.7,48.7 C99.5,51.4 99,54.1 98,55.9 C97,57.7 95.5,58.5 93.6,59.6 C91.7,60.7 89.5,61.4 86.5,62.3 C83.5,63.2 79.5,64.1 75.9,65 C72.4,65.9 68.8,67 65.2,67.7 C61.7,68.5 58.1,69 54.6,69.5 C51.1,70 47,70.4 44,70.4 C41,70.4 38.8,70.1 36.9,69.5 C35,68.9 33.6,68 32.5,66.8 C31.4,65.6 31.2,63.5 30.2,62.3 C29.2,61.1 28.1,60.3 26.3,59.6 C24.5,58.9 21.6,58.6 19.2,58.1 C16.8,57.6 14.4,57.6 12.2,56.8 C10,56 7.7,54.9 6,53.2 C4.3,51.6 2.9,49.8 1.9,46.9 C0.9,44 0.2,39.7 0.1,36.1Z" fill="url(#bg)" stroke="#cfcfcf" stroke-width="0.6" vector-effect="non-scaling-stroke"/><g clip-path="url(#clat)"><g filter="url(#sb)"><path d="M30,53 C38,45 46,37 54,31 C58,28 62,29 66,33 C70,37 74,39 81,41" fill="none" stroke="#d2d2d2" stroke-width="5" stroke-linecap="round"/><path d="M30,53 C38,45 46,37 54,31 C58,28 62,29 66,33 C70,37 74,39 81,41" fill="none" stroke="#b8b8b8" stroke-width="1.6" stroke-linecap="round"/><path d="M37,61 C47,53 57,47 67,45 C75,44 83,45 91,47" fill="none" stroke="#d6d6d6" stroke-width="3" stroke-linecap="round"/><path d="M11,35 C19,29 29,23 41,19" fill="none" stroke="#d8d8d8" stroke-width="2.6" stroke-linecap="round"/><path d="M52,3 C51,10 49,17 46,24" fill="none" stroke="#d6d6d6" stroke-width="2.4" stroke-linecap="round"/><path d="M63,5 C62,12 61,18 60,25" fill="none" stroke="#dadada" stroke-width="2.2" stroke-linecap="round"/><path d="M70,18 C78,20 86,24 93,30" fill="none" stroke="#dadada" stroke-width="2.2" stroke-linecap="round"/><path d="M38,69 C55,68 75,64 94,57" fill="none" stroke="#d2d2d2" stroke-width="3" stroke-linecap="round"/></g></g></g><path d="M28,56 C38,50 50,46 62,42 C60,50 52,58 44,62 C36,66 30,64 28,56Z" fill="#d957c8" transform="translate(405.5,180.8) scale(0.31,0.3)"/><g transform="translate(441.2,180.8) scale(0.3,0.3)"><path d="M0.1,46.1 C0.2,43.9 0.9,40.1 2,36.7 C3.1,33.3 4.7,28.9 6.8,25.5 C8.9,22.1 11.6,18.9 14.5,16.1 C17.4,13.3 20.6,10.8 24.1,8.6 C27.6,6.4 31.5,4.3 35.6,3 C39.8,1.7 44.9,1.2 49,0.8 C53.1,0.4 56.7,0.4 60.5,0.8 C64.3,1.2 68.5,1.8 72,3 C75.5,4.2 78.7,5.8 81.6,7.7 C84.5,9.6 87.1,11.8 89.3,14.3 C91.5,16.8 93.5,19.8 95,22.7 C96.5,25.6 97.8,29 98.5,32 C99.2,35 99.5,37.9 99.4,40.5 C99.3,43.1 98.8,45.7 97.9,47.9 C97,50.1 95.6,52 94,53.5 C92.4,55 90.7,56.1 88.3,56.9 C85.9,57.7 82.4,58 79.7,58.2 C77,58.4 73.9,57.9 72,58.2 C70.1,58.5 69,59 68.2,60.1 C67.4,61.2 67.7,63.4 67.2,64.8 C66.7,66.2 66.4,67.6 65.3,68.5 C64.2,69.4 62.2,70 60.5,70 C58.8,70 56.7,69.4 54.8,68.5 C52.9,67.6 51.2,66 49,64.8 C46.8,63.5 44.2,62.1 41.3,61 C38.4,59.9 35,59 31.8,58.2 C28.6,57.4 25.4,57 22.2,56.4 C19,55.8 15.5,55.1 12.6,54.5 C9.7,53.9 6.8,53.4 4.9,52.6 C3,51.8 1.9,50.9 1.1,49.8 C0.3,48.7 -0,48.3 0.1,46.1Z" fill="url(#bg)" stroke="#cfcfcf" stroke-width="0.6" vector-effect="non-scaling-stroke"/><g clip-path="url(#cmed)"><g filter="url(#sb)"><path d="M22,42 C26,22 50,12 72,14 C87,16 95,26 95,37" fill="none" stroke="#d4d4d4" stroke-width="3.2" stroke-linecap="round"/><path d="M28,42 C32,28 50,22 68,24 C80,26 86,32 84,38 C80,44 70,42 62,39 C50,35 40,39 33,45 C29,47 27,46 28,42Z" fill="none" stroke="#cacaca" stroke-width="1.4" stroke-linecap="round"/><path d="M16,18 C20,27 22,36 22,46" fill="none" stroke="#d0d0d0" stroke-width="2.4" stroke-linecap="round"/><path d="M3,48 C11,46 19,46 26,46" fill="none" stroke="#d2d2d2" stroke-width="2.2" stroke-linecap="round"/><path d="M28,57 C40,52 56,52 70,57" fill="none" stroke="#cccccc" stroke-width="3" stroke-linecap="round"/></g></g></g><path d="M62,66 C64,64 66,66 64,70Z" fill="#d957c8" transform="translate(441.2,180.8) scale(0.3,0.3)"/><line x1="481.5" y1="35.8" x2="502" y2="42.4" stroke="#111" stroke-width="1.4"/><line x1="481.5" y1="57.8" x2="502" y2="58.8" stroke="#111" stroke-width="1.4"/><line x1="481.5" y1="81.9" x2="502" y2="76.3" stroke="#111" stroke-width="1.4"/><line x1="481.5" y1="104" x2="502" y2="93" stroke="#111" stroke-width="1.4"/><line x1="481.5" y1="124.5" x2="502" y2="110.1" stroke="#111" stroke-width="1.4"/><line x1="481.5" y1="153.7" x2="502" y2="130.1" stroke="#111" stroke-width="1.4"/><line x1="481.5" y1="186" x2="502" y2="152.4" stroke="#111" stroke-width="1.4"/><circle cx="500.2" cy="47.4" r="0.4" fill="#555"/><text x="533" y="51.9" font-size="10.1" font-weight="bold" text-anchor="end">PS</text><text x="533" y="66.5" font-size="10.1" font-weight="bold" text-anchor="end">PM</text><text x="533" y="80.9" font-size="10.1" font-weight="bold" text-anchor="end">PSS</text><text x="533" y="95.5" font-size="10.1" font-weight="bold" text-anchor="end">LIM</text><text x="533" y="110.9" font-size="10.1" font-weight="bold" text-anchor="end">AC1</text><text x="533" y="125.5" font-size="10.1" font-weight="bold" text-anchor="end">AC2</text><text x="533" y="140.4" font-size="10.1" font-weight="bold" text-anchor="end">INS</text><rect x="536.8" y="42.3" width="29.2" height="11.6" fill="#333"/><rect x="537.4" y="43.9" width="1.3" height="9.4" fill="#e3e3e3"/><rect x="538.7" y="43.9" width="4.3" height="9.4" fill="#e2b33a"/><rect x="543" y="43.9" width="22.4" height="9.4" fill="#5cb9e0"/><rect x="536.8" y="57.2" width="29.2" height="11.6" fill="#333"/><rect x="537.4" y="58.8" width="2.6" height="9.4" fill="#e3e3e3"/><rect x="540" y="58.8" width="8.6" height="9.4" fill="#e2b33a"/><rect x="548.6" y="58.8" width="16.8" height="9.4" fill="#5cb9e0"/><rect x="536.8" y="71.8" width="29.2" height="11.6" fill="#333"/><rect x="537.4" y="73.4" width="1.6" height="9.4" fill="#e3e3e3"/><rect x="539" y="73.4" width="12.2" height="9.4" fill="#e2b33a"/><rect x="551.2" y="73.4" width="14.2" height="9.4" fill="#5cb9e0"/><rect x="536.8" y="86.5" width="29.2" height="11.6" fill="#333"/><rect x="537.4" y="88.1" width="10.9" height="9.4" fill="#e3e3e3"/><rect x="548.3" y="88.1" width="2.9" height="9.4" fill="#e2b33a"/><rect x="551.2" y="88.1" width="14.2" height="9.4" fill="#5cb9e0"/><rect x="536.8" y="101.2" width="29.2" height="11.6" fill="#333"/><rect x="537.4" y="102.8" width="2.9" height="9.4" fill="#e3e3e3"/><rect x="540.3" y="102.8" width="15.2" height="9.4" fill="#e2b33a"/><rect x="555.5" y="102.8" width="9.9" height="9.4" fill="#5cb9e0"/><rect x="536.8" y="115.6" width="29.2" height="11.6" fill="#333"/><rect x="537.4" y="117.2" width="9" height="9.4" fill="#e3e3e3"/><rect x="546.4" y="117.2" width="11.4" height="9.4" fill="#e2b33a"/><rect x="557.8" y="117.2" width="7.6" height="9.4" fill="#5cb9e0"/><rect x="536.8" y="130.4" width="29.2" height="11.6" fill="#333"/><rect x="537.4" y="132" width="1.6" height="9.4" fill="#e3e3e3"/><rect x="539" y="132" width="19.1" height="9.4" fill="#e2b33a"/><rect x="558.1" y="132" width="7.3" height="9.4" fill="#5cb9e0"/><circle cx="576.9" cy="50.2" r="5.4" fill="#fff" stroke="#d8d8d8" stroke-width="0.6"/><circle cx="576.9" cy="64.4" r="5.7" fill="#e2e2e2"/><circle cx="591.2" cy="64.4" r="5.4" fill="#fff" stroke="#d8d8d8" stroke-width="0.6"/><circle cx="576.9" cy="78.7" r="5.7" fill="#ee6e30"/><circle cx="591.2" cy="78.7" r="5.7" fill="#e2e2e2"/><circle cx="605.6" cy="78.7" r="5.4" fill="#fff" stroke="#d8d8d8" stroke-width="0.6"/><circle cx="576.9" cy="92.9" r="5.7" fill="#e2e2e2"/><circle cx="591.2" cy="92.9" r="5.7" fill="#e2e2e2"/><circle cx="605.6" cy="92.9" r="5.7" fill="#eba050"/><circle cx="619.9" cy="92.9" r="5.4" fill="#fff" stroke="#d8d8d8" stroke-width="0.6"/><circle cx="576.9" cy="107.1" r="5.7" fill="#8a1a52"/><circle cx="591.2" cy="107.1" r="5.7" fill="#f24e2e"/><circle cx="605.6" cy="107.1" r="5.7" fill="#e2e2e2"/><circle cx="619.9" cy="107.1" r="5.7" fill="#d9306e"/><circle cx="634.2" cy="107.1" r="5.4" fill="#fff" stroke="#d8d8d8" stroke-width="0.6"/><circle cx="576.9" cy="121.4" r="5.7" fill="#c82e80"/><circle cx="591.2" cy="121.4" r="5.7" fill="#f08a38"/><circle cx="605.6" cy="121.4" r="5.7" fill="#e2e2e2"/><circle cx="619.9" cy="121.4" r="5.7" fill="#ea3050"/><circle cx="634.2" cy="121.4" r="5.7" fill="#e2e2e2"/><circle cx="648.6" cy="121.4" r="5.4" fill="#fff" stroke="#d8d8d8" stroke-width="0.6"/><circle cx="576.9" cy="135.7" r="5.7" fill="#f23230"/><circle cx="591.2" cy="135.7" r="5.7" fill="#e2e2e2"/><circle cx="605.6" cy="135.7" r="5.7" fill="#e2e2e2"/><circle cx="619.9" cy="135.7" r="5.7" fill="#f24e2e"/><circle cx="634.2" cy="135.7" r="5.7" fill="#e2e2e2"/><circle cx="648.6" cy="135.7" r="5.7" fill="#e2e2e2"/><circle cx="663" cy="135.7" r="5.4" fill="#fff" stroke="#d8d8d8" stroke-width="0.6"/><text x="620.7" y="52.5" font-size="9" font-weight="bold" textLength="31.9" lengthAdjust="spacingAndGlyphs">P value</text><rect x="639.5" y="57.8" width="6.1" height="35.9" fill="url(#pv)" stroke="#cfcfcf" stroke-width="0.4"/><text x="648.5" y="63.6" font-size="8.6" font-weight="bold">10<tspan dy="-3.6" font-size="6">-6</tspan></text><text x="648.5" y="94.6" font-size="8.6" font-weight="bold">10<tspan dy="-3.6" font-size="6">-2</tspan></text><rect x="569.4" y="147" width="12.4" height="29.8" fill="#333"/><rect x="570.8" y="147.6" width="10.4" height="22.5" fill="#5cb9e0"/><rect x="570.8" y="170.1" width="10.4" height="4.6" fill="#e2b33a"/><rect x="570.8" y="174.7" width="10.4" height="1.5" fill="#e3e3e3"/><rect x="583.9" y="147" width="12.4" height="29.8" fill="#333"/><rect x="585.3" y="147.6" width="10.4" height="17.3" fill="#5cb9e0"/><rect x="585.3" y="164.9" width="10.4" height="8.7" fill="#e2b33a"/><rect x="585.3" y="173.6" width="10.4" height="2.6" fill="#e3e3e3"/><rect x="598.6" y="147" width="12.4" height="29.8" fill="#333"/><rect x="600" y="147.6" width="10.4" height="14.6" fill="#5cb9e0"/><rect x="600" y="162.2" width="10.4" height="12.5" fill="#e2b33a"/><rect x="600" y="174.7" width="10.4" height="1.5" fill="#e3e3e3"/><rect x="613.2" y="147" width="12.4" height="29.8" fill="#333"/><rect x="614.6" y="147.6" width="10.4" height="14.3" fill="#5cb9e0"/><rect x="614.6" y="161.9" width="10.4" height="3.1" fill="#e2b33a"/><rect x="614.6" y="165" width="10.4" height="11.2" fill="#e3e3e3"/><rect x="627.7" y="147" width="12.4" height="29.8" fill="#333"/><rect x="629.1" y="147.6" width="10.4" height="10.3" fill="#5cb9e0"/><rect x="629.1" y="157.9" width="10.4" height="15" fill="#e2b33a"/><rect x="629.1" y="172.9" width="10.4" height="3.3" fill="#e3e3e3"/><rect x="642.4" y="147" width="12.4" height="29.8" fill="#333"/><rect x="643.8" y="147.6" width="10.4" height="7.8" fill="#5cb9e0"/><rect x="643.8" y="155.4" width="10.4" height="11.8" fill="#e2b33a"/><rect x="643.8" y="167.2" width="10.4" height="9" fill="#e3e3e3"/><rect x="657" y="147" width="12.4" height="29.8" fill="#333"/><rect x="658.4" y="147.6" width="10.4" height="7.6" fill="#5cb9e0"/><rect x="658.4" y="155.2" width="10.4" height="19.5" fill="#e2b33a"/><rect x="658.4" y="174.7" width="10.4" height="1.5" fill="#e3e3e3"/><text x="580" y="180.3" font-size="9.9" font-weight="bold" text-anchor="end" transform="rotate(-90 580 180.3)">PS</text><text x="594.5" y="180.3" font-size="9.9" font-weight="bold" text-anchor="end" transform="rotate(-90 594.5 180.3)">PM</text><text x="609.2" y="180.3" font-size="9.9" font-weight="bold" text-anchor="end" transform="rotate(-90 609.2 180.3)">PSS</text><text x="623.8" y="180.3" font-size="9.9" font-weight="bold" text-anchor="end" transform="rotate(-90 623.8 180.3)">LIM</text><text x="638.3" y="180.3" font-size="9.9" font-weight="bold" text-anchor="end" transform="rotate(-90 638.3 180.3)">AC1</text><text x="653" y="180.3" font-size="9.9" font-weight="bold" text-anchor="end" transform="rotate(-90 653 180.3)">AC2</text><text x="667.6" y="180.3" font-size="9.9" font-weight="bold" text-anchor="end" transform="rotate(-90 667.6 180.3)">INS</text><rect x="541.1" y="206.4" width="11" height="4" fill="#e2b33a"/><text x="558" y="211" font-size="9.5" font-weight="bold" textLength="51" lengthAdjust="spacingAndGlyphs">Exponential</text><rect x="614.9" y="206.4" width="9.9" height="4" fill="#5cb9e0"/><text x="630.2" y="211" font-size="9.5" font-weight="bold" textLength="26.3" lengthAdjust="spacingAndGlyphs">Linear</text><text x="0.5" y="242.4" font-size="20.5" font-weight="bold" textLength="14" lengthAdjust="spacingAndGlyphs">C</text><text x="58" y="243.7" font-size="12.6" font-weight="bold" textLength="210.9" lengthAdjust="spacingAndGlyphs">Rates of change in nodal efficiency</text><g transform="translate(9.9,258.5) scale(0.45,0.45)"><path d="M0.1,36.1 C0,32.5 0.4,28.8 1.5,25.3 C2.6,21.9 4.6,18.2 6.8,15.4 C9,12.6 11.9,10.3 14.8,8.2 C17.8,6.1 20.8,4.1 24.5,2.7 C28.2,1.3 33.1,0.5 36.9,0 C40.7,-0.5 44,-0.1 47.5,0 C51,0.1 54.7,0.3 58.2,0.9 C61.8,1.5 65.6,2.4 68.8,3.6 C72,4.8 74.8,6.4 77.6,8.2 C80.4,10 83.2,12.2 85.6,14.5 C88,16.8 90,19 91.8,21.7 C93.6,24.4 95,27.7 96.2,30.7 C97.4,33.7 98.3,36.7 98.9,39.7 C99.5,42.7 99.9,46 99.7,48.7 C99.5,51.4 99,54.1 98,55.9 C97,57.7 95.5,58.5 93.6,59.6 C91.7,60.7 89.5,61.4 86.5,62.3 C83.5,63.2 79.5,64.1 75.9,65 C72.4,65.9 68.8,67 65.2,67.7 C61.7,68.5 58.1,69 54.6,69.5 C51.1,70 47,70.4 44,70.4 C41,70.4 38.8,70.1 36.9,69.5 C35,68.9 33.6,68 32.5,66.8 C31.4,65.6 31.2,63.5 30.2,62.3 C29.2,61.1 28.1,60.3 26.3,59.6 C24.5,58.9 21.6,58.6 19.2,58.1 C16.8,57.6 14.4,57.6 12.2,56.8 C10,56 7.7,54.9 6,53.2 C4.3,51.6 2.9,49.8 1.9,46.9 C0.9,44 0.2,39.7 0.1,36.1Z" fill="url(#bg)" stroke="#cfcfcf" stroke-width="0.6" vector-effect="non-scaling-stroke"/><g clip-path="url(#clat)"><g filter="url(#sb)"><path d="M30,53 C38,45 46,37 54,31 C58,28 62,29 66,33 C70,37 74,39 81,41" fill="none" stroke="#d2d2d2" stroke-width="5" stroke-linecap="round"/><path d="M30,53 C38,45 46,37 54,31 C58,28 62,29 66,33 C70,37 74,39 81,41" fill="none" stroke="#b8b8b8" stroke-width="1.6" stroke-linecap="round"/><path d="M37,61 C47,53 57,47 67,45 C75,44 83,45 91,47" fill="none" stroke="#d6d6d6" stroke-width="3" stroke-linecap="round"/><path d="M11,35 C19,29 29,23 41,19" fill="none" stroke="#d8d8d8" stroke-width="2.6" stroke-linecap="round"/><path d="M52,3 C51,10 49,17 46,24" fill="none" stroke="#d6d6d6" stroke-width="2.4" stroke-linecap="round"/><path d="M63,5 C62,12 61,18 60,25" fill="none" stroke="#dadada" stroke-width="2.2" stroke-linecap="round"/><path d="M70,18 C78,20 86,24 93,30" fill="none" stroke="#dadada" stroke-width="2.2" stroke-linecap="round"/><path d="M38,69 C55,68 75,64 94,57" fill="none" stroke="#d2d2d2" stroke-width="3" stroke-linecap="round"/></g></g></g><circle cx="37.2" cy="280.9" r="0.84" fill="#a89ae8" opacity="0.45"/><circle cx="50.3" cy="280.8" r="0.88" fill="#a89ae8" opacity="0.45"/><circle cx="12.9" cy="273.2" r="1.79" fill="#e6e742"/><circle cx="38.2" cy="285.3" r="0.63" fill="#a89ae8" opacity="0.45"/><circle cx="30.9" cy="267.1" r="1.35" fill="#ec7a58"/><circle cx="35.2" cy="260.7" r="1.54" fill="#ed7d54"/><circle cx="43" cy="264.7" r="1.11" fill="#942bc8"/><circle cx="17.4" cy="277.4" r="1.52" fill="#e9ce49"/><circle cx="20.3" cy="266.3" r="1.73" fill="#e7d748"/><circle cx="47.4" cy="268.3" r="0.89" fill="#a89ae8" opacity="0.45"/><circle cx="33.8" cy="279.1" r="1.16" fill="#d25985"/><circle cx="23.9" cy="270.3" r="1.4" fill="#f3a243"/><circle cx="24" cy="277" r="1.36" fill="#f3a043"/><circle cx="39.4" cy="269.7" r="0.69" fill="#a89ae8" opacity="0.45"/><circle cx="45.2" cy="273.6" r="0.69" fill="#a89ae8" opacity="0.45"/><circle cx="43.9" cy="270.4" r="0.77" fill="#a89ae8" opacity="0.45"/><circle cx="19.7" cy="281.2" r="1.66" fill="#ecc446"/><circle cx="42.3" cy="282.4" r="0.86" fill="#a89ae8" opacity="0.45"/><circle cx="15.4" cy="269.7" r="1.67" fill="#e7da47"/><circle cx="49.5" cy="275.4" r="0.69" fill="#a89ae8" opacity="0.45"/><circle cx="24.6" cy="265.2" r="1.47" fill="#eebd44"/><circle cx="33.5" cy="271.5" r="1.17" fill="#d55b81"/><circle cx="41.6" cy="286.6" r="0.79" fill="#a89ae8" opacity="0.45"/><circle cx="30.2" cy="288" r="1.4" fill="#ea765b"/><circle cx="28.2" cy="264.4" r="1.47" fill="#f3a940"/><circle cx="37.3" cy="274.1" r="0.7" fill="#a89ae8" opacity="0.45"/><circle cx="26.5" cy="282.1" r="1.48" fill="#f19349"/><circle cx="40.1" cy="278.7" r="0.83" fill="#a89ae8" opacity="0.45"/><circle cx="23.2" cy="273.8" r="1.55" fill="#f3ab40"/><circle cx="45.1" cy="278.2" r="0.84" fill="#a89ae8" opacity="0.45"/><circle cx="32.9" cy="275" r="1.18" fill="#db5f78"/><circle cx="28.9" cy="277.6" r="1.42" fill="#ee7f52"/><circle cx="16.4" cy="283.3" r="1.6" fill="#e7d449"/><circle cx="13.2" cy="277.3" r="1.59" fill="#e6e244"/><circle cx="36.9" cy="264.2" r="1.25" fill="#d35a83"/><circle cx="23.6" cy="287.2" r="1.46" fill="#f3a541"/><circle cx="36.1" cy="267.5" r="0.89" fill="#a89ae8" opacity="0.45"/><circle cx="17.5" cy="273.6" r="1.61" fill="#e8cf49"/><circle cx="40.4" cy="261.6" r="1.37" fill="#b94aa9"/><circle cx="29.4" cy="283.9" r="1.35" fill="#ec7a57"/><circle cx="26.8" cy="286.3" r="1.45" fill="#f18f4a"/><circle cx="51.5" cy="270.4" r="0.69" fill="#a89ae8" opacity="0.45"/><circle cx="34.1" cy="287.7" r="1.21" fill="#cf5889"/><circle cx="46.1" cy="283.8" r="0.79" fill="#a89ae8" opacity="0.45"/><circle cx="27.1" cy="260.6" r="1.98" fill="#e7d548"/><circle cx="27.6" cy="269.1" r="1.29" fill="#f0844e"/><circle cx="33.7" cy="282.4" r="1.2" fill="#d45b82"/><circle cx="22.9" cy="280.1" r="1.4" fill="#f3a840"/><circle cx="15.8" cy="265.7" r="1.66" fill="#e6ef40"/><circle cx="20.1" cy="270.7" r="1.54" fill="#edbe45"/><circle cx="29.8" cy="273.4" r="1.25" fill="#e9755c"/><circle cx="41.8" cy="274.9" r="0.72" fill="#a89ae8" opacity="0.45"/><circle cx="20.1" cy="262.7" r="2.1" fill="#e6f040"/><circle cx="32.4" cy="263.2" r="1.65" fill="#f08b4c"/><circle cx="39.9" cy="266.3" r="0.72" fill="#a89ae8" opacity="0.45"/><circle cx="23.4" cy="261.3" r="2.16" fill="#e6ea41"/><circle cx="48.3" cy="272.1" r="0.6" fill="#a89ae8" opacity="0.45"/><circle cx="23" cy="283.5" r="1.51" fill="#f3ab40"/><g transform="translate(9.9,296.5) scale(0.45,0.46)"><path d="M0.1,46.1 C0.2,43.9 0.9,40.1 2,36.7 C3.1,33.3 4.7,28.9 6.8,25.5 C8.9,22.1 11.6,18.9 14.5,16.1 C17.4,13.3 20.6,10.8 24.1,8.6 C27.6,6.4 31.5,4.3 35.6,3 C39.8,1.7 44.9,1.2 49,0.8 C53.1,0.4 56.7,0.4 60.5,0.8 C64.3,1.2 68.5,1.8 72,3 C75.5,4.2 78.7,5.8 81.6,7.7 C84.5,9.6 87.1,11.8 89.3,14.3 C91.5,16.8 93.5,19.8 95,22.7 C96.5,25.6 97.8,29 98.5,32 C99.2,35 99.5,37.9 99.4,40.5 C99.3,43.1 98.8,45.7 97.9,47.9 C97,50.1 95.6,52 94,53.5 C92.4,55 90.7,56.1 88.3,56.9 C85.9,57.7 82.4,58 79.7,58.2 C77,58.4 73.9,57.9 72,58.2 C70.1,58.5 69,59 68.2,60.1 C67.4,61.2 67.7,63.4 67.2,64.8 C66.7,66.2 66.4,67.6 65.3,68.5 C64.2,69.4 62.2,70 60.5,70 C58.8,70 56.7,69.4 54.8,68.5 C52.9,67.6 51.2,66 49,64.8 C46.8,63.5 44.2,62.1 41.3,61 C38.4,59.9 35,59 31.8,58.2 C28.6,57.4 25.4,57 22.2,56.4 C19,55.8 15.5,55.1 12.6,54.5 C9.7,53.9 6.8,53.4 4.9,52.6 C3,51.8 1.9,50.9 1.1,49.8 C0.3,48.7 -0,48.3 0.1,46.1Z" fill="url(#bg)" stroke="#cfcfcf" stroke-width="0.6" vector-effect="non-scaling-stroke"/><g clip-path="url(#cmed)"><g filter="url(#sb)"><path d="M22,42 C26,22 50,12 72,14 C87,16 95,26 95,37" fill="none" stroke="#d4d4d4" stroke-width="3.2" stroke-linecap="round"/><path d="M28,42 C32,28 50,22 68,24 C80,26 86,32 84,38 C80,44 70,42 62,39 C50,35 40,39 33,45 C29,47 27,46 28,42Z" fill="none" stroke="#cacaca" stroke-width="1.4" stroke-linecap="round"/><path d="M16,18 C20,27 22,36 22,46" fill="none" stroke="#d0d0d0" stroke-width="2.4" stroke-linecap="round"/><path d="M3,48 C11,46 19,46 26,46" fill="none" stroke="#d2d2d2" stroke-width="2.2" stroke-linecap="round"/><path d="M28,57 C40,52 56,52 70,57" fill="none" stroke="#cccccc" stroke-width="3" stroke-linecap="round"/></g></g></g><circle cx="12.7" cy="317.1" r="1.3" fill="#5c16ca"/><circle cx="13" cy="314.5" r="1.17" fill="#5614c9"/><circle cx="13.2" cy="311.8" r="1.26" fill="#5a15c9"/><circle cx="15" cy="309.4" r="1.28" fill="#5b16ca"/><circle cx="16.5" cy="307.2" r="1.28" fill="#5b16ca"/><circle cx="18.1" cy="305.1" r="1.29" fill="#5b16ca"/><circle cx="20.8" cy="303.8" r="1.31" fill="#8f26cc"/><circle cx="22.7" cy="302.2" r="1.18" fill="#b84aaa"/><circle cx="24.7" cy="300.7" r="1.49" fill="#e2676c"/><circle cx="27.4" cy="300.5" r="1.61" fill="#f0894c"/><circle cx="29.8" cy="300.2" r="1.87" fill="#f0b442"/><circle cx="32.2" cy="299.9" r="1.96" fill="#e7d748"/><circle cx="34.9" cy="298.8" r="2.19" fill="#e6f040"/><circle cx="37.1" cy="299.9" r="2.12" fill="#e6f040"/><circle cx="40.1" cy="299.4" r="2.07" fill="#e6f040"/><circle cx="42.1" cy="300.9" r="2.09" fill="#e6f040"/><circle cx="44.2" cy="302.3" r="1.68" fill="#e7de45"/><circle cx="47" cy="303.4" r="1.7" fill="#e7df45"/><circle cx="48.6" cy="305.5" r="1.67" fill="#eac847"/><circle cx="49.4" cy="308" r="1.41" fill="#f18d4b"/><circle cx="50.7" cy="310.4" r="1.27" fill="#d85d7c"/><circle cx="51.1" cy="313.1" r="1.22" fill="#b144b2"/><circle cx="52.1" cy="315.9" r="1.03" fill="#992fc4"/><circle cx="50.6" cy="318.3" r="0.93" fill="#6f1bcc"/><circle cx="48.9" cy="320.3" r="0.83" fill="#5414c9"/><circle cx="46" cy="321.2" r="0.93" fill="#5815c9"/><circle cx="44.1" cy="322" r="0.96" fill="#5a15c9"/><circle cx="24.8" cy="320.9" r="0.82" fill="#5314c9"/><circle cx="21.8" cy="321.1" r="1.31" fill="#5c16ca"/><circle cx="19.3" cy="320.5" r="1.18" fill="#5614c9"/><circle cx="16.2" cy="320.2" r="1.2" fill="#5715c9"/><circle cx="13.3" cy="319.5" r="1.33" fill="#5d16ca"/><circle cx="14.4" cy="316.7" r="1.21" fill="#5715c9"/><circle cx="17.2" cy="312" r="1.2" fill="#5715c9"/><circle cx="20.2" cy="308.5" r="1.2" fill="#6619cb"/><circle cx="23.5" cy="306" r="1.15" fill="#9d32c1"/><circle cx="26.7" cy="303.8" r="1.28" fill="#cd568c"/><circle cx="30.3" cy="302.6" r="1.41" fill="#ec7a57"/><circle cx="34.1" cy="302.8" r="1.44" fill="#f29747"/><circle cx="38.3" cy="302.4" r="1.57" fill="#f0b743"/><circle cx="42.5" cy="303.7" r="1.36" fill="#f29946"/><circle cx="45.3" cy="306.9" r="1.21" fill="#e06271"/><circle cx="48" cy="310.7" r="1.13" fill="#9f34c0"/><circle cx="49.2" cy="315.4" r="0.9" fill="#7d1ece"/><circle cx="47" cy="319.5" r="0.95" fill="#5a15c9"/><circle cx="19.6" cy="318.6" r="1.25" fill="#5915c9"/><circle cx="15.4" cy="313.2" r="1.22" fill="#5815c9"/><circle cx="14.5" cy="312.1" r="1.18" fill="#5614c9"/><circle cx="19.2" cy="311.4" r="1.26" fill="#5a15c9"/><circle cx="20.4" cy="318.6" r="1.2" fill="#5715c9"/><circle cx="17.8" cy="311.4" r="1.2" fill="#5715c9"/><circle cx="16.9" cy="317" r="1.32" fill="#5d16ca"/><circle cx="15.5" cy="307.6" r="1.21" fill="#5815c9"/><circle cx="13.9" cy="307.9" r="1.28" fill="#5b16ca"/><circle cx="25.7" cy="315.2" r="0.71" fill="#a89ae8" opacity="0.45"/><circle cx="44.1" cy="316.8" r="0.62" fill="#a89ae8" opacity="0.45"/><circle cx="27.5" cy="318" r="0.78" fill="#a89ae8" opacity="0.45"/><circle cx="32.6" cy="316" r="0.84" fill="#a89ae8" opacity="0.45"/><circle cx="34.2" cy="312.2" r="0.63" fill="#a89ae8" opacity="0.45"/><circle cx="31.3" cy="308.4" r="0.79" fill="#a89ae8" opacity="0.45"/><circle cx="36.7" cy="308.3" r="0.79" fill="#a89ae8" opacity="0.45"/><circle cx="25.4" cy="307.9" r="0.79" fill="#a89ae8" opacity="0.45"/><circle cx="33.5" cy="317.4" r="0.79" fill="#a89ae8" opacity="0.45"/><circle cx="38.9" cy="308.1" r="0.85" fill="#a89ae8" opacity="0.45"/><circle cx="25.1" cy="314" r="0.87" fill="#a89ae8" opacity="0.45"/><circle cx="43.4" cy="317.3" r="0.74" fill="#a89ae8" opacity="0.45"/><circle cx="38.7" cy="316.1" r="0.64" fill="#a89ae8" opacity="0.45"/><circle cx="44.2" cy="317.5" r="0.73" fill="#a89ae8" opacity="0.45"/><text x="31.5" y="339.2" font-size="11.3" font-weight="bold" text-anchor="middle">0 y</text><g transform="translate(60.4,258.5) scale(0.45,0.45)"><path d="M0.1,36.1 C0,32.5 0.4,28.8 1.5,25.3 C2.6,21.9 4.6,18.2 6.8,15.4 C9,12.6 11.9,10.3 14.8,8.2 C17.8,6.1 20.8,4.1 24.5,2.7 C28.2,1.3 33.1,0.5 36.9,0 C40.7,-0.5 44,-0.1 47.5,0 C51,0.1 54.7,0.3 58.2,0.9 C61.8,1.5 65.6,2.4 68.8,3.6 C72,4.8 74.8,6.4 77.6,8.2 C80.4,10 83.2,12.2 85.6,14.5 C88,16.8 90,19 91.8,21.7 C93.6,24.4 95,27.7 96.2,30.7 C97.4,33.7 98.3,36.7 98.9,39.7 C99.5,42.7 99.9,46 99.7,48.7 C99.5,51.4 99,54.1 98,55.9 C97,57.7 95.5,58.5 93.6,59.6 C91.7,60.7 89.5,61.4 86.5,62.3 C83.5,63.2 79.5,64.1 75.9,65 C72.4,65.9 68.8,67 65.2,67.7 C61.7,68.5 58.1,69 54.6,69.5 C51.1,70 47,70.4 44,70.4 C41,70.4 38.8,70.1 36.9,69.5 C35,68.9 33.6,68 32.5,66.8 C31.4,65.6 31.2,63.5 30.2,62.3 C29.2,61.1 28.1,60.3 26.3,59.6 C24.5,58.9 21.6,58.6 19.2,58.1 C16.8,57.6 14.4,57.6 12.2,56.8 C10,56 7.7,54.9 6,53.2 C4.3,51.6 2.9,49.8 1.9,46.9 C0.9,44 0.2,39.7 0.1,36.1Z" fill="url(#bg)" stroke="#cfcfcf" stroke-width="0.6" vector-effect="non-scaling-stroke"/><g clip-path="url(#clat)"><g filter="url(#sb)"><path d="M30,53 C38,45 46,37 54,31 C58,28 62,29 66,33 C70,37 74,39 81,41" fill="none" stroke="#d2d2d2" stroke-width="5" stroke-linecap="round"/><path d="M30,53 C38,45 46,37 54,31 C58,28 62,29 66,33 C70,37 74,39 81,41" fill="none" stroke="#b8b8b8" stroke-width="1.6" stroke-linecap="round"/><path d="M37,61 C47,53 57,47 67,45 C75,44 83,45 91,47" fill="none" stroke="#d6d6d6" stroke-width="3" stroke-linecap="round"/><path d="M11,35 C19,29 29,23 41,19" fill="none" stroke="#d8d8d8" stroke-width="2.6" stroke-linecap="round"/><path d="M52,3 C51,10 49,17 46,24" fill="none" stroke="#d6d6d6" stroke-width="2.4" stroke-linecap="round"/><path d="M63,5 C62,12 61,18 60,25" fill="none" stroke="#dadada" stroke-width="2.2" stroke-linecap="round"/><path d="M70,18 C78,20 86,24 93,30" fill="none" stroke="#dadada" stroke-width="2.2" stroke-linecap="round"/><path d="M38,69 C55,68 75,64 94,57" fill="none" stroke="#d2d2d2" stroke-width="3" stroke-linecap="round"/></g></g></g><circle cx="87.7" cy="280.9" r="0.84" fill="#a89ae8" opacity="0.45"/><circle cx="100.8" cy="280.8" r="0.88" fill="#a89ae8" opacity="0.45"/><circle cx="63.4" cy="273.2" r="1.57" fill="#f3a541"/><circle cx="88.7" cy="285.3" r="0.63" fill="#a89ae8" opacity="0.45"/><circle cx="81.4" cy="267.1" r="1.17" fill="#bf4ea0"/><circle cx="85.7" cy="260.7" r="1.29" fill="#c3509b"/><circle cx="93.5" cy="264.7" r="1.01" fill="#6719cb"/><circle cx="67.9" cy="277.4" r="1.31" fill="#f0864e"/><circle cx="70.8" cy="266.3" r="1.52" fill="#f19149"/><circle cx="97.9" cy="268.3" r="0.89" fill="#a89ae8" opacity="0.45"/><circle cx="84.3" cy="279.1" r="1.01" fill="#9b31c3"/><circle cx="74.4" cy="270.3" r="1.2" fill="#e2666d"/><circle cx="74.5" cy="277" r="1.17" fill="#e1646f"/><circle cx="89.9" cy="269.7" r="0.69" fill="#a89ae8" opacity="0.45"/><circle cx="95.7" cy="273.6" r="0.69" fill="#a89ae8" opacity="0.45"/><circle cx="94.4" cy="270.4" r="0.77" fill="#a89ae8" opacity="0.45"/><circle cx="70.2" cy="281.2" r="1.45" fill="#ee7e53"/><circle cx="92.8" cy="282.4" r="0.86" fill="#a89ae8" opacity="0.45"/><circle cx="65.9" cy="269.7" r="1.45" fill="#f19548"/><circle cx="100" cy="275.4" r="0.69" fill="#a89ae8" opacity="0.45"/><circle cx="75.1" cy="265.2" r="1.26" fill="#eb7958"/><circle cx="84" cy="271.5" r="1.02" fill="#9d33c1"/><circle cx="92.1" cy="286.6" r="0.79" fill="#a89ae8" opacity="0.45"/><circle cx="80.7" cy="288" r="1.23" fill="#bc4ca5"/><circle cx="78.7" cy="264.4" r="1.27" fill="#e46b67"/><circle cx="87.8" cy="274.1" r="0.7" fill="#a89ae8" opacity="0.45"/><circle cx="77" cy="282.1" r="1.29" fill="#d75d7d"/><circle cx="90.6" cy="278.7" r="0.83" fill="#a89ae8" opacity="0.45"/><circle cx="73.7" cy="273.8" r="1.35" fill="#e56c66"/><circle cx="95.6" cy="278.2" r="0.84" fill="#a89ae8" opacity="0.45"/><circle cx="83.4" cy="275" r="1.02" fill="#a237bd"/><circle cx="79.4" cy="277.6" r="1.24" fill="#c65297"/><circle cx="66.9" cy="283.3" r="1.38" fill="#f18d4b"/><circle cx="63.7" cy="277.3" r="1.38" fill="#f29e44"/><circle cx="87.4" cy="264.2" r="1.1" fill="#9d33c1"/><circle cx="74.1" cy="287.2" r="1.26" fill="#e3686a"/><circle cx="86.6" cy="267.5" r="0.89" fill="#a89ae8" opacity="0.45"/><circle cx="68" cy="273.6" r="1.4" fill="#f0884d"/><circle cx="90.9" cy="261.6" r="1.19" fill="#8b22cf"/><circle cx="79.9" cy="283.9" r="1.17" fill="#c04e9f"/><circle cx="77.3" cy="286.3" r="1.26" fill="#d55b81"/><circle cx="102" cy="270.4" r="0.69" fill="#a89ae8" opacity="0.45"/><circle cx="84.6" cy="287.7" r="1.07" fill="#9a30c3"/><circle cx="96.6" cy="283.8" r="0.79" fill="#a89ae8" opacity="0.45"/><circle cx="77.6" cy="260.6" r="1.68" fill="#f18e4a"/><circle cx="78.1" cy="269.1" r="1.1" fill="#ca5491"/><circle cx="84.2" cy="282.4" r="1.04" fill="#9d33c1"/><circle cx="73.4" cy="280.1" r="1.2" fill="#e46a68"/><circle cx="66.3" cy="265.7" r="1.44" fill="#f2af41"/><circle cx="70.6" cy="270.7" r="1.34" fill="#ec7a58"/><circle cx="80.3" cy="273.4" r="1.07" fill="#ba4ba8"/><circle cx="92.3" cy="274.9" r="0.72" fill="#a89ae8" opacity="0.45"/><circle cx="70.6" cy="262.7" r="1.8" fill="#f1b242"/><circle cx="82.9" cy="263.2" r="1.38" fill="#d05888"/><circle cx="90.4" cy="266.3" r="0.72" fill="#a89ae8" opacity="0.45"/><circle cx="73.9" cy="261.3" r="1.86" fill="#f3a940"/><circle cx="98.8" cy="272.1" r="0.6" fill="#a89ae8" opacity="0.45"/><circle cx="73.5" cy="283.5" r="1.31" fill="#e56c66"/><g transform="translate(60.4,296.5) scale(0.45,0.46)"><path d="M0.1,46.1 C0.2,43.9 0.9,40.1 2,36.7 C3.1,33.3 4.7,28.9 6.8,25.5 C8.9,22.1 11.6,18.9 14.5,16.1 C17.4,13.3 20.6,10.8 24.1,8.6 C27.6,6.4 31.5,4.3 35.6,3 C39.8,1.7 44.9,1.2 49,0.8 C53.1,0.4 56.7,0.4 60.5,0.8 C64.3,1.2 68.5,1.8 72,3 C75.5,4.2 78.7,5.8 81.6,7.7 C84.5,9.6 87.1,11.8 89.3,14.3 C91.5,16.8 93.5,19.8 95,22.7 C96.5,25.6 97.8,29 98.5,32 C99.2,35 99.5,37.9 99.4,40.5 C99.3,43.1 98.8,45.7 97.9,47.9 C97,50.1 95.6,52 94,53.5 C92.4,55 90.7,56.1 88.3,56.9 C85.9,57.7 82.4,58 79.7,58.2 C77,58.4 73.9,57.9 72,58.2 C70.1,58.5 69,59 68.2,60.1 C67.4,61.2 67.7,63.4 67.2,64.8 C66.7,66.2 66.4,67.6 65.3,68.5 C64.2,69.4 62.2,70 60.5,70 C58.8,70 56.7,69.4 54.8,68.5 C52.9,67.6 51.2,66 49,64.8 C46.8,63.5 44.2,62.1 41.3,61 C38.4,59.9 35,59 31.8,58.2 C28.6,57.4 25.4,57 22.2,56.4 C19,55.8 15.5,55.1 12.6,54.5 C9.7,53.9 6.8,53.4 4.9,52.6 C3,51.8 1.9,50.9 1.1,49.8 C0.3,48.7 -0,48.3 0.1,46.1Z" fill="url(#bg)" stroke="#cfcfcf" stroke-width="0.6" vector-effect="non-scaling-stroke"/><g clip-path="url(#cmed)"><g filter="url(#sb)"><path d="M22,42 C26,22 50,12 72,14 C87,16 95,26 95,37" fill="none" stroke="#d4d4d4" stroke-width="3.2" stroke-linecap="round"/><path d="M28,42 C32,28 50,22 68,24 C80,26 86,32 84,38 C80,44 70,42 62,39 C50,35 40,39 33,45 C29,47 27,46 28,42Z" fill="none" stroke="#cacaca" stroke-width="1.4" stroke-linecap="round"/><path d="M16,18 C20,27 22,36 22,46" fill="none" stroke="#d0d0d0" stroke-width="2.4" stroke-linecap="round"/><path d="M3,48 C11,46 19,46 26,46" fill="none" stroke="#d2d2d2" stroke-width="2.2" stroke-linecap="round"/><path d="M28,57 C40,52 56,52 70,57" fill="none" stroke="#cccccc" stroke-width="3" stroke-linecap="round"/></g></g></g><circle cx="63.2" cy="317.1" r="1.25" fill="#4611c3"/><circle cx="63.5" cy="314.5" r="1.13" fill="#4210c0"/><circle cx="63.7" cy="311.8" r="1.22" fill="#4511c2"/><circle cx="65.5" cy="309.4" r="1.24" fill="#4611c3"/><circle cx="67" cy="307.2" r="1.24" fill="#4611c3"/><circle cx="68.6" cy="305.1" r="1.25" fill="#4611c3"/><circle cx="71.3" cy="303.8" r="1.24" fill="#6919cb"/><circle cx="73.2" cy="302.2" r="1.09" fill="#962dc6"/><circle cx="75.2" cy="300.7" r="1.34" fill="#bf4ea0"/><circle cx="77.9" cy="300.5" r="1.45" fill="#e3696a"/><circle cx="80.3" cy="300.2" r="1.7" fill="#f18c4b"/><circle cx="82.7" cy="299.9" r="1.79" fill="#f2b041"/><circle cx="85.4" cy="298.8" r="2.07" fill="#e7da47"/><circle cx="87.6" cy="299.9" r="1.99" fill="#e7d947"/><circle cx="90.6" cy="299.4" r="1.93" fill="#e7d748"/><circle cx="92.6" cy="300.9" r="1.94" fill="#e7d548"/><circle cx="94.7" cy="302.3" r="1.56" fill="#efb943"/><circle cx="97.5" cy="303.4" r="1.57" fill="#eebb44"/><circle cx="99.1" cy="305.5" r="1.55" fill="#f3a043"/><circle cx="99.9" cy="308" r="1.3" fill="#e56c67"/><circle cx="101.2" cy="310.4" r="1.17" fill="#b245b1"/><circle cx="101.6" cy="313.1" r="1.13" fill="#9027cb"/><circle cx="102.6" cy="315.9" r="0.95" fill="#751ccd"/><circle cx="101.1" cy="318.3" r="0.87" fill="#4f13c8"/><circle cx="99.4" cy="320.3" r="0.79" fill="#4110be"/><circle cx="96.5" cy="321.2" r="0.89" fill="#4411c1"/><circle cx="94.6" cy="322" r="0.92" fill="#4511c2"/><circle cx="75.3" cy="320.9" r="0.77" fill="#4010be"/><circle cx="72.3" cy="321.1" r="1.27" fill="#4711c4"/><circle cx="69.8" cy="320.5" r="1.14" fill="#4210c0"/><circle cx="66.7" cy="320.2" r="1.16" fill="#4310c0"/><circle cx="63.8" cy="319.5" r="1.29" fill="#4811c5"/><circle cx="64.9" cy="316.7" r="1.16" fill="#4311c1"/><circle cx="67.7" cy="312" r="1.16" fill="#4310c0"/><circle cx="70.7" cy="308.5" r="1.15" fill="#4a11c7"/><circle cx="74" cy="306" r="1.07" fill="#7a1ece"/><circle cx="77.2" cy="303.8" r="1.18" fill="#a83db8"/><circle cx="80.8" cy="302.6" r="1.3" fill="#d85d7c"/><circle cx="84.6" cy="302.8" r="1.32" fill="#e8735f"/><circle cx="88.8" cy="302.4" r="1.45" fill="#f18e4a"/><circle cx="93" cy="303.7" r="1.24" fill="#e9755d"/><circle cx="95.8" cy="306.9" r="1.1" fill="#b94aa8"/><circle cx="98.5" cy="310.7" r="1.05" fill="#7d1ece"/><circle cx="99.7" cy="315.4" r="0.83" fill="#5915c9"/><circle cx="97.5" cy="319.5" r="0.9" fill="#4511c2"/><circle cx="70.1" cy="318.6" r="1.21" fill="#4511c2"/><circle cx="65.9" cy="313.2" r="1.18" fill="#4411c1"/><circle cx="65" cy="312.1" r="1.14" fill="#4210c0"/><circle cx="69.7" cy="311.4" r="1.22" fill="#4511c2"/><circle cx="70.9" cy="318.6" r="1.15" fill="#4310c0"/><circle cx="68.3" cy="311.4" r="1.16" fill="#4310c0"/><circle cx="67.4" cy="317" r="1.28" fill="#4711c4"/><circle cx="66" cy="307.6" r="1.17" fill="#4411c1"/><circle cx="64.4" cy="307.9" r="1.24" fill="#4611c3"/><circle cx="76.2" cy="315.2" r="0.71" fill="#a89ae8" opacity="0.45"/><circle cx="94.6" cy="316.8" r="0.62" fill="#a89ae8" opacity="0.45"/><circle cx="78" cy="318" r="0.78" fill="#a89ae8" opacity="0.45"/><circle cx="83.1" cy="316" r="0.84" fill="#a89ae8" opacity="0.45"/><circle cx="84.7" cy="312.2" r="0.63" fill="#a89ae8" opacity="0.45"/><circle cx="81.8" cy="308.4" r="0.79" fill="#a89ae8" opacity="0.45"/><circle cx="87.2" cy="308.3" r="0.79" fill="#a89ae8" opacity="0.45"/><circle cx="75.9" cy="307.9" r="0.79" fill="#a89ae8" opacity="0.45"/><circle cx="84" cy="317.4" r="0.79" fill="#a89ae8" opacity="0.45"/><circle cx="89.4" cy="308.1" r="0.85" fill="#a89ae8" opacity="0.45"/><circle cx="75.6" cy="314" r="0.87" fill="#a89ae8" opacity="0.45"/><circle cx="93.9" cy="317.3" r="0.74" fill="#a89ae8" opacity="0.45"/><circle cx="89.2" cy="316.1" r="0.64" fill="#a89ae8" opacity="0.45"/><circle cx="94.7" cy="317.5" r="0.73" fill="#a89ae8" opacity="0.45"/><text x="79.4" y="339.2" font-size="11.3" font-weight="bold" text-anchor="middle">0.5 y</text><g transform="translate(110.9,258.5) scale(0.45,0.45)"><path d="M0.1,36.1 C0,32.5 0.4,28.8 1.5,25.3 C2.6,21.9 4.6,18.2 6.8,15.4 C9,12.6 11.9,10.3 14.8,8.2 C17.8,6.1 20.8,4.1 24.5,2.7 C28.2,1.3 33.1,0.5 36.9,0 C40.7,-0.5 44,-0.1 47.5,0 C51,0.1 54.7,0.3 58.2,0.9 C61.8,1.5 65.6,2.4 68.8,3.6 C72,4.8 74.8,6.4 77.6,8.2 C80.4,10 83.2,12.2 85.6,14.5 C88,16.8 90,19 91.8,21.7 C93.6,24.4 95,27.7 96.2,30.7 C97.4,33.7 98.3,36.7 98.9,39.7 C99.5,42.7 99.9,46 99.7,48.7 C99.5,51.4 99,54.1 98,55.9 C97,57.7 95.5,58.5 93.6,59.6 C91.7,60.7 89.5,61.4 86.5,62.3 C83.5,63.2 79.5,64.1 75.9,65 C72.4,65.9 68.8,67 65.2,67.7 C61.7,68.5 58.1,69 54.6,69.5 C51.1,70 47,70.4 44,70.4 C41,70.4 38.8,70.1 36.9,69.5 C35,68.9 33.6,68 32.5,66.8 C31.4,65.6 31.2,63.5 30.2,62.3 C29.2,61.1 28.1,60.3 26.3,59.6 C24.5,58.9 21.6,58.6 19.2,58.1 C16.8,57.6 14.4,57.6 12.2,56.8 C10,56 7.7,54.9 6,53.2 C4.3,51.6 2.9,49.8 1.9,46.9 C0.9,44 0.2,39.7 0.1,36.1Z" fill="url(#bg)" stroke="#cfcfcf" stroke-width="0.6" vector-effect="non-scaling-stroke"/><g clip-path="url(#clat)"><g filter="url(#sb)"><path d="M30,53 C38,45 46,37 54,31 C58,28 62,29 66,33 C70,37 74,39 81,41" fill="none" stroke="#d2d2d2" stroke-width="5" stroke-linecap="round"/><path d="M30,53 C38,45 46,37 54,31 C58,28 62,29 66,33 C70,37 74,39 81,41" fill="none" stroke="#b8b8b8" stroke-width="1.6" stroke-linecap="round"/><path d="M37,61 C47,53 57,47 67,45 C75,44 83,45 91,47" fill="none" stroke="#d6d6d6" stroke-width="3" stroke-linecap="round"/><path d="M11,35 C19,29 29,23 41,19" fill="none" stroke="#d8d8d8" stroke-width="2.6" stroke-linecap="round"/><path d="M52,3 C51,10 49,17 46,24" fill="none" stroke="#d6d6d6" stroke-width="2.4" stroke-linecap="round"/><path d="M63,5 C62,12 61,18 60,25" fill="none" stroke="#dadada" stroke-width="2.2" stroke-linecap="round"/><path d="M70,18 C78,20 86,24 93,30" fill="none" stroke="#dadada" stroke-width="2.2" stroke-linecap="round"/><path d="M38,69 C55,68 75,64 94,57" fill="none" stroke="#d2d2d2" stroke-width="3" stroke-linecap="round"/></g></g></g><circle cx="138.2" cy="280.9" r="0.84" fill="#a89ae8" opacity="0.45"/><circle cx="151.3" cy="280.8" r="0.88" fill="#a89ae8" opacity="0.45"/><circle cx="113.9" cy="273.2" r="1.41" fill="#e87260"/><circle cx="139.2" cy="285.3" r="0.63" fill="#a89ae8" opacity="0.45"/><circle cx="131.9" cy="267.1" r="1.06" fill="#942bc7"/><circle cx="136.2" cy="260.7" r="1.11" fill="#972dc6"/><circle cx="144" cy="264.7" r="0.96" fill="#4a11c7"/><circle cx="118.4" cy="277.4" r="1.16" fill="#d75d7d"/><circle cx="121.3" cy="266.3" r="1.36" fill="#e1646f"/><circle cx="148.4" cy="268.3" r="0.89" fill="#a89ae8" opacity="0.45"/><circle cx="134.8" cy="279.1" r="0.91" fill="#701bcc"/><circle cx="124.9" cy="270.3" r="1.06" fill="#b346b1"/><circle cx="125" cy="277" r="1.03" fill="#b144b2"/><circle cx="140.4" cy="269.7" r="0.69" fill="#a89ae8" opacity="0.45"/><circle cx="146.2" cy="273.6" r="0.69" fill="#a89ae8" opacity="0.45"/><circle cx="144.9" cy="270.4" r="0.77" fill="#a89ae8" opacity="0.45"/><circle cx="120.7" cy="281.2" r="1.3" fill="#d05888"/><circle cx="143.3" cy="282.4" r="0.86" fill="#a89ae8" opacity="0.45"/><circle cx="116.4" cy="269.7" r="1.29" fill="#e2666d"/><circle cx="150.5" cy="275.4" r="0.69" fill="#a89ae8" opacity="0.45"/><circle cx="125.6" cy="265.2" r="1.11" fill="#c95492"/><circle cx="134.5" cy="271.5" r="0.92" fill="#731ccd"/><circle cx="142.6" cy="286.6" r="0.79" fill="#a89ae8" opacity="0.45"/><circle cx="131.2" cy="288" r="1.11" fill="#9229c9"/><circle cx="129.2" cy="264.4" r="1.12" fill="#b94aa9"/><circle cx="138.3" cy="274.1" r="0.7" fill="#a89ae8" opacity="0.45"/><circle cx="127.5" cy="282.1" r="1.16" fill="#a83cb9"/><circle cx="141.1" cy="278.7" r="0.83" fill="#a89ae8" opacity="0.45"/><circle cx="124.2" cy="273.8" r="1.21" fill="#bb4ba6"/><circle cx="146.1" cy="278.2" r="0.84" fill="#a89ae8" opacity="0.45"/><circle cx="133.9" cy="275" r="0.92" fill="#781dcd"/><circle cx="129.9" cy="277.6" r="1.12" fill="#9a30c3"/><circle cx="117.4" cy="283.3" r="1.23" fill="#de6173"/><circle cx="114.2" cy="277.3" r="1.21" fill="#e56c66"/><circle cx="137.9" cy="264.2" r="1" fill="#741ccd"/><circle cx="124.6" cy="287.2" r="1.12" fill="#b648ae"/><circle cx="137.1" cy="267.5" r="0.89" fill="#a89ae8" opacity="0.45"/><circle cx="118.5" cy="273.6" r="1.25" fill="#d95e7a"/><circle cx="141.4" cy="261.6" r="1.08" fill="#6117ca"/><circle cx="130.4" cy="283.9" r="1.05" fill="#952bc7"/><circle cx="127.8" cy="286.3" r="1.13" fill="#a63abb"/><circle cx="152.5" cy="270.4" r="0.69" fill="#a89ae8" opacity="0.45"/><circle cx="135.1" cy="287.7" r="0.97" fill="#701bcc"/><circle cx="147.1" cy="283.8" r="0.79" fill="#a89ae8" opacity="0.45"/><circle cx="128.1" cy="260.6" r="1.46" fill="#df6172"/><circle cx="128.6" cy="269.1" r="0.97" fill="#9c32c2"/><circle cx="134.7" cy="282.4" r="0.95" fill="#731ccd"/><circle cx="123.9" cy="280.1" r="1.06" fill="#b849ab"/><circle cx="116.8" cy="265.7" r="1.27" fill="#eb7959"/><circle cx="121.1" cy="270.7" r="1.19" fill="#ca5590"/><circle cx="130.8" cy="273.4" r="0.95" fill="#8f27cb"/><circle cx="142.8" cy="274.9" r="0.72" fill="#a89ae8" opacity="0.45"/><circle cx="121.1" cy="262.7" r="1.56" fill="#ec7b56"/><circle cx="133.4" cy="263.2" r="1.19" fill="#a137be"/><circle cx="140.9" cy="266.3" r="0.72" fill="#a89ae8" opacity="0.45"/><circle cx="124.4" cy="261.3" r="1.62" fill="#e9755d"/><circle cx="149.3" cy="272.1" r="0.6" fill="#a89ae8" opacity="0.45"/><circle cx="124" cy="283.5" r="1.17" fill="#bb4ba6"/><g transform="translate(110.9,296.5) scale(0.45,0.46)"><path d="M0.1,46.1 C0.2,43.9 0.9,40.1 2,36.7 C3.1,33.3 4.7,28.9 6.8,25.5 C8.9,22.1 11.6,18.9 14.5,16.1 C17.4,13.3 20.6,10.8 24.1,8.6 C27.6,6.4 31.5,4.3 35.6,3 C39.8,1.7 44.9,1.2 49,0.8 C53.1,0.4 56.7,0.4 60.5,0.8 C64.3,1.2 68.5,1.8 72,3 C75.5,4.2 78.7,5.8 81.6,7.7 C84.5,9.6 87.1,11.8 89.3,14.3 C91.5,16.8 93.5,19.8 95,22.7 C96.5,25.6 97.8,29 98.5,32 C99.2,35 99.5,37.9 99.4,40.5 C99.3,43.1 98.8,45.7 97.9,47.9 C97,50.1 95.6,52 94,53.5 C92.4,55 90.7,56.1 88.3,56.9 C85.9,57.7 82.4,58 79.7,58.2 C77,58.4 73.9,57.9 72,58.2 C70.1,58.5 69,59 68.2,60.1 C67.4,61.2 67.7,63.4 67.2,64.8 C66.7,66.2 66.4,67.6 65.3,68.5 C64.2,69.4 62.2,70 60.5,70 C58.8,70 56.7,69.4 54.8,68.5 C52.9,67.6 51.2,66 49,64.8 C46.8,63.5 44.2,62.1 41.3,61 C38.4,59.9 35,59 31.8,58.2 C28.6,57.4 25.4,57 22.2,56.4 C19,55.8 15.5,55.1 12.6,54.5 C9.7,53.9 6.8,53.4 4.9,52.6 C3,51.8 1.9,50.9 1.1,49.8 C0.3,48.7 -0,48.3 0.1,46.1Z" fill="url(#bg)" stroke="#cfcfcf" stroke-width="0.6" vector-effect="non-scaling-stroke"/><g clip-path="url(#cmed)"><g filter="url(#sb)"><path d="M22,42 C26,22 50,12 72,14 C87,16 95,26 95,37" fill="none" stroke="#d4d4d4" stroke-width="3.2" stroke-linecap="round"/><path d="M28,42 C32,28 50,22 68,24 C80,26 86,32 84,38 C80,44 70,42 62,39 C50,35 40,39 33,45 C29,47 27,46 28,42Z" fill="none" stroke="#cacaca" stroke-width="1.4" stroke-linecap="round"/><path d="M16,18 C20,27 22,36 22,46" fill="none" stroke="#d0d0d0" stroke-width="2.4" stroke-linecap="round"/><path d="M3,48 C11,46 19,46 26,46" fill="none" stroke="#d2d2d2" stroke-width="2.2" stroke-linecap="round"/><path d="M28,57 C40,52 56,52 70,57" fill="none" stroke="#cccccc" stroke-width="3" stroke-linecap="round"/></g></g></g><circle cx="113.7" cy="317.1" r="1.23" fill="#3c10ba"/><circle cx="114" cy="314.5" r="1.1" fill="#380fb6"/><circle cx="114.2" cy="311.8" r="1.19" fill="#3b0fb9"/><circle cx="116" cy="309.4" r="1.21" fill="#3c10ba"/><circle cx="117.5" cy="307.2" r="1.21" fill="#3c10ba"/><circle cx="119.1" cy="305.1" r="1.22" fill="#3c10ba"/><circle cx="121.8" cy="303.8" r="1.19" fill="#4f13c8"/><circle cx="123.7" cy="302.2" r="1.02" fill="#791dcd"/><circle cx="125.7" cy="300.7" r="1.22" fill="#a137be"/><circle cx="128.4" cy="300.5" r="1.31" fill="#c85394"/><circle cx="130.8" cy="300.2" r="1.56" fill="#e66f63"/><circle cx="133.2" cy="299.9" r="1.64" fill="#f18d4b"/><circle cx="135.9" cy="298.8" r="1.92" fill="#efb943"/><circle cx="138.1" cy="299.9" r="1.84" fill="#efb743"/><circle cx="141.1" cy="299.4" r="1.78" fill="#f0b542"/><circle cx="143.1" cy="300.9" r="1.79" fill="#f1b242"/><circle cx="145.2" cy="302.3" r="1.45" fill="#f29647"/><circle cx="148" cy="303.4" r="1.47" fill="#f29747"/><circle cx="149.6" cy="305.5" r="1.45" fill="#ee7e53"/><circle cx="150.4" cy="308" r="1.2" fill="#cb558f"/><circle cx="151.7" cy="310.4" r="1.09" fill="#962cc6"/><circle cx="152.1" cy="313.1" r="1.07" fill="#711bcc"/><circle cx="153.1" cy="315.9" r="0.9" fill="#5815c9"/><circle cx="151.6" cy="318.3" r="0.83" fill="#4010be"/><circle cx="149.9" cy="320.3" r="0.76" fill="#370fb5"/><circle cx="147" cy="321.2" r="0.86" fill="#3a0fb8"/><circle cx="145.1" cy="322" r="0.89" fill="#3b0fb9"/><circle cx="125.8" cy="320.9" r="0.75" fill="#370fb4"/><circle cx="122.8" cy="321.1" r="1.24" fill="#3d10bb"/><circle cx="120.3" cy="320.5" r="1.11" fill="#390fb6"/><circle cx="117.2" cy="320.2" r="1.13" fill="#390fb7"/><circle cx="114.3" cy="319.5" r="1.26" fill="#3e10bb"/><circle cx="115.4" cy="316.7" r="1.14" fill="#3a0fb7"/><circle cx="118.2" cy="312" r="1.13" fill="#390fb7"/><circle cx="121.2" cy="308.5" r="1.11" fill="#3d10bb"/><circle cx="124.5" cy="306" r="1.01" fill="#5e16ca"/><circle cx="127.7" cy="303.8" r="1.11" fill="#8e25cc"/><circle cx="131.3" cy="302.6" r="1.21" fill="#b84aaa"/><circle cx="135.1" cy="302.8" r="1.23" fill="#d55b81"/><circle cx="139.3" cy="302.4" r="1.35" fill="#e77161"/><circle cx="143.5" cy="303.7" r="1.15" fill="#d75c7e"/><circle cx="146.3" cy="306.9" r="1.02" fill="#9c32c2"/><circle cx="149" cy="310.7" r="0.99" fill="#5f17ca"/><circle cx="150.2" cy="315.4" r="0.79" fill="#4511c2"/><circle cx="148" cy="319.5" r="0.87" fill="#3b0fb9"/><circle cx="120.6" cy="318.6" r="1.18" fill="#3b0fb9"/><circle cx="116.4" cy="313.2" r="1.15" fill="#3a0fb8"/><circle cx="115.5" cy="312.1" r="1.11" fill="#390fb6"/><circle cx="120.2" cy="311.4" r="1.19" fill="#3b0fb9"/><circle cx="121.4" cy="318.6" r="1.13" fill="#390fb7"/><circle cx="118.8" cy="311.4" r="1.13" fill="#390fb7"/><circle cx="117.9" cy="317" r="1.25" fill="#3d10bb"/><circle cx="116.5" cy="307.6" r="1.14" fill="#3a0fb7"/><circle cx="114.9" cy="307.9" r="1.21" fill="#3c10ba"/><circle cx="126.7" cy="315.2" r="0.71" fill="#a89ae8" opacity="0.45"/><circle cx="145.1" cy="316.8" r="0.62" fill="#a89ae8" opacity="0.45"/><circle cx="128.5" cy="318" r="0.78" fill="#a89ae8" opacity="0.45"/><circle cx="133.6" cy="316" r="0.84" fill="#a89ae8" opacity="0.45"/><circle cx="135.2" cy="312.2" r="0.63" fill="#a89ae8" opacity="0.45"/><circle cx="132.3" cy="308.4" r="0.79" fill="#a89ae8" opacity="0.45"/><circle cx="137.7" cy="308.3" r="0.79" fill="#a89ae8" opacity="0.45"/><circle cx="126.4" cy="307.9" r="0.79" fill="#a89ae8" opacity="0.45"/><circle cx="134.5" cy="317.4" r="0.79" fill="#a89ae8" opacity="0.45"/><circle cx="139.9" cy="308.1" r="0.85" fill="#a89ae8" opacity="0.45"/><circle cx="126.1" cy="314" r="0.87" fill="#a89ae8" opacity="0.45"/><circle cx="144.4" cy="317.3" r="0.74" fill="#a89ae8" opacity="0.45"/><circle cx="139.7" cy="316.1" r="0.64" fill="#a89ae8" opacity="0.45"/><circle cx="145.2" cy="317.5" r="0.73" fill="#a89ae8" opacity="0.45"/><text x="130" y="339.2" font-size="11.3" font-weight="bold" text-anchor="middle">1.0 y</text><g transform="translate(161.4,258.5) scale(0.45,0.45)"><path d="M0.1,36.1 C0,32.5 0.4,28.8 1.5,25.3 C2.6,21.9 4.6,18.2 6.8,15.4 C9,12.6 11.9,10.3 14.8,8.2 C17.8,6.1 20.8,4.1 24.5,2.7 C28.2,1.3 33.1,0.5 36.9,0 C40.7,-0.5 44,-0.1 47.5,0 C51,0.1 54.7,0.3 58.2,0.9 C61.8,1.5 65.6,2.4 68.8,3.6 C72,4.8 74.8,6.4 77.6,8.2 C80.4,10 83.2,12.2 85.6,14.5 C88,16.8 90,19 91.8,21.7 C93.6,24.4 95,27.7 96.2,30.7 C97.4,33.7 98.3,36.7 98.9,39.7 C99.5,42.7 99.9,46 99.7,48.7 C99.5,51.4 99,54.1 98,55.9 C97,57.7 95.5,58.5 93.6,59.6 C91.7,60.7 89.5,61.4 86.5,62.3 C83.5,63.2 79.5,64.1 75.9,65 C72.4,65.9 68.8,67 65.2,67.7 C61.7,68.5 58.1,69 54.6,69.5 C51.1,70 47,70.4 44,70.4 C41,70.4 38.8,70.1 36.9,69.5 C35,68.9 33.6,68 32.5,66.8 C31.4,65.6 31.2,63.5 30.2,62.3 C29.2,61.1 28.1,60.3 26.3,59.6 C24.5,58.9 21.6,58.6 19.2,58.1 C16.8,57.6 14.4,57.6 12.2,56.8 C10,56 7.7,54.9 6,53.2 C4.3,51.6 2.9,49.8 1.9,46.9 C0.9,44 0.2,39.7 0.1,36.1Z" fill="url(#bg)" stroke="#cfcfcf" stroke-width="0.6" vector-effect="non-scaling-stroke"/><g clip-path="url(#clat)"><g filter="url(#sb)"><path d="M30,53 C38,45 46,37 54,31 C58,28 62,29 66,33 C70,37 74,39 81,41" fill="none" stroke="#d2d2d2" stroke-width="5" stroke-linecap="round"/><path d="M30,53 C38,45 46,37 54,31 C58,28 62,29 66,33 C70,37 74,39 81,41" fill="none" stroke="#b8b8b8" stroke-width="1.6" stroke-linecap="round"/><path d="M37,61 C47,53 57,47 67,45 C75,44 83,45 91,47" fill="none" stroke="#d6d6d6" stroke-width="3" stroke-linecap="round"/><path d="M11,35 C19,29 29,23 41,19" fill="none" stroke="#d8d8d8" stroke-width="2.6" stroke-linecap="round"/><path d="M52,3 C51,10 49,17 46,24" fill="none" stroke="#d6d6d6" stroke-width="2.4" stroke-linecap="round"/><path d="M63,5 C62,12 61,18 60,25" fill="none" stroke="#dadada" stroke-width="2.2" stroke-linecap="round"/><path d="M70,18 C78,20 86,24 93,30" fill="none" stroke="#dadada" stroke-width="2.2" stroke-linecap="round"/><path d="M38,69 C55,68 75,64 94,57" fill="none" stroke="#d2d2d2" stroke-width="3" stroke-linecap="round"/></g></g></g><circle cx="188.7" cy="280.9" r="0.84" fill="#a89ae8" opacity="0.45"/><circle cx="201.8" cy="280.8" r="0.88" fill="#a89ae8" opacity="0.45"/><circle cx="164.4" cy="273.2" r="1.28" fill="#c95491"/><circle cx="189.7" cy="285.3" r="0.63" fill="#a89ae8" opacity="0.45"/><circle cx="182.4" cy="267.1" r="0.98" fill="#701bcc"/><circle cx="186.7" cy="260.7" r="1" fill="#711bcc"/><circle cx="194.5" cy="264.7" r="0.92" fill="#3e10bc"/><circle cx="168.9" cy="277.4" r="1.04" fill="#ae42b4"/><circle cx="171.8" cy="266.3" r="1.24" fill="#b84aaa"/><circle cx="198.9" cy="268.3" r="0.89" fill="#a89ae8" opacity="0.45"/><circle cx="185.3" cy="279.1" r="0.85" fill="#5013c8"/><circle cx="175.4" cy="270.3" r="0.97" fill="#8f27cb"/><circle cx="175.5" cy="277" r="0.93" fill="#8e25cc"/><circle cx="190.9" cy="269.7" r="0.69" fill="#a89ae8" opacity="0.45"/><circle cx="196.7" cy="273.6" r="0.69" fill="#a89ae8" opacity="0.45"/><circle cx="195.4" cy="270.4" r="0.77" fill="#a89ae8" opacity="0.45"/><circle cx="171.2" cy="281.2" r="1.19" fill="#a93db8"/><circle cx="193.8" cy="282.4" r="0.86" fill="#a89ae8" opacity="0.45"/><circle cx="166.9" cy="269.7" r="1.18" fill="#bb4ba6"/><circle cx="201" cy="275.4" r="0.69" fill="#a89ae8" opacity="0.45"/><circle cx="176.1" cy="265.2" r="1" fill="#a237bd"/><circle cx="185" cy="271.5" r="0.86" fill="#5213c8"/><circle cx="193.1" cy="286.6" r="0.79" fill="#a89ae8" opacity="0.45"/><circle cx="181.7" cy="288" r="1.04" fill="#6e1bcc"/><circle cx="179.7" cy="264.4" r="1.02" fill="#952cc7"/><circle cx="188.8" cy="274.1" r="0.7" fill="#a89ae8" opacity="0.45"/><circle cx="178" cy="282.1" r="1.07" fill="#8721cf"/><circle cx="191.6" cy="278.7" r="0.83" fill="#a89ae8" opacity="0.45"/><circle cx="174.7" cy="273.8" r="1.11" fill="#972dc5"/><circle cx="196.6" cy="278.2" r="0.84" fill="#a89ae8" opacity="0.45"/><circle cx="184.4" cy="275" r="0.85" fill="#5614c9"/><circle cx="180.4" cy="277.6" r="1.04" fill="#761dcd"/><circle cx="167.9" cy="283.3" r="1.11" fill="#b447b0"/><circle cx="164.7" cy="277.3" r="1.09" fill="#c2509c"/><circle cx="188.4" cy="264.2" r="0.94" fill="#5414c9"/><circle cx="175.1" cy="287.2" r="1.02" fill="#9229c9"/><circle cx="187.6" cy="267.5" r="0.89" fill="#a89ae8" opacity="0.45"/><circle cx="169" cy="273.6" r="1.13" fill="#b044b3"/><circle cx="191.9" cy="261.6" r="1.01" fill="#4911c6"/><circle cx="180.9" cy="283.9" r="0.97" fill="#701bcc"/><circle cx="178.3" cy="286.3" r="1.04" fill="#8420cf"/><circle cx="203" cy="270.4" r="0.69" fill="#a89ae8" opacity="0.45"/><circle cx="185.6" cy="287.7" r="0.91" fill="#5113c8"/><circle cx="197.6" cy="283.8" r="0.79" fill="#a89ae8" opacity="0.45"/><circle cx="178.6" cy="260.6" r="1.29" fill="#b548ae"/><circle cx="179.1" cy="269.1" r="0.89" fill="#771dcd"/><circle cx="185.2" cy="282.4" r="0.89" fill="#5314c9"/><circle cx="174.4" cy="280.1" r="0.96" fill="#932ac8"/><circle cx="167.3" cy="265.7" r="1.15" fill="#d15986"/><circle cx="171.6" cy="270.7" r="1.08" fill="#a338bc"/><circle cx="181.3" cy="273.4" r="0.87" fill="#6919cb"/><circle cx="193.3" cy="274.9" r="0.72" fill="#a89ae8" opacity="0.45"/><circle cx="171.6" cy="262.7" r="1.38" fill="#d45b82"/><circle cx="183.9" cy="263.2" r="1.07" fill="#7e1fce"/><circle cx="191.4" cy="266.3" r="0.72" fill="#a89ae8" opacity="0.45"/><circle cx="174.9" cy="261.3" r="1.45" fill="#cd568c"/><circle cx="199.8" cy="272.1" r="0.6" fill="#a89ae8" opacity="0.45"/><circle cx="174.5" cy="283.5" r="1.07" fill="#972dc6"/><g transform="translate(161.4,296.5) scale(0.45,0.46)"><path d="M0.1,46.1 C0.2,43.9 0.9,40.1 2,36.7 C3.1,33.3 4.7,28.9 6.8,25.5 C8.9,22.1 11.6,18.9 14.5,16.1 C17.4,13.3 20.6,10.8 24.1,8.6 C27.6,6.4 31.5,4.3 35.6,3 C39.8,1.7 44.9,1.2 49,0.8 C53.1,0.4 56.7,0.4 60.5,0.8 C64.3,1.2 68.5,1.8 72,3 C75.5,4.2 78.7,5.8 81.6,7.7 C84.5,9.6 87.1,11.8 89.3,14.3 C91.5,16.8 93.5,19.8 95,22.7 C96.5,25.6 97.8,29 98.5,32 C99.2,35 99.5,37.9 99.4,40.5 C99.3,43.1 98.8,45.7 97.9,47.9 C97,50.1 95.6,52 94,53.5 C92.4,55 90.7,56.1 88.3,56.9 C85.9,57.7 82.4,58 79.7,58.2 C77,58.4 73.9,57.9 72,58.2 C70.1,58.5 69,59 68.2,60.1 C67.4,61.2 67.7,63.4 67.2,64.8 C66.7,66.2 66.4,67.6 65.3,68.5 C64.2,69.4 62.2,70 60.5,70 C58.8,70 56.7,69.4 54.8,68.5 C52.9,67.6 51.2,66 49,64.8 C46.8,63.5 44.2,62.1 41.3,61 C38.4,59.9 35,59 31.8,58.2 C28.6,57.4 25.4,57 22.2,56.4 C19,55.8 15.5,55.1 12.6,54.5 C9.7,53.9 6.8,53.4 4.9,52.6 C3,51.8 1.9,50.9 1.1,49.8 C0.3,48.7 -0,48.3 0.1,46.1Z" fill="url(#bg)" stroke="#cfcfcf" stroke-width="0.6" vector-effect="non-scaling-stroke"/><g clip-path="url(#cmed)"><g filter="url(#sb)"><path d="M22,42 C26,22 50,12 72,14 C87,16 95,26 95,37" fill="none" stroke="#d4d4d4" stroke-width="3.2" stroke-linecap="round"/><path d="M28,42 C32,28 50,22 68,24 C80,26 86,32 84,38 C80,44 70,42 62,39 C50,35 40,39 33,45 C29,47 27,46 28,42Z" fill="none" stroke="#cacaca" stroke-width="1.4" stroke-linecap="round"/><path d="M16,18 C20,27 22,36 22,46" fill="none" stroke="#d0d0d0" stroke-width="2.4" stroke-linecap="round"/><path d="M3,48 C11,46 19,46 26,46" fill="none" stroke="#d2d2d2" stroke-width="2.2" stroke-linecap="round"/><path d="M28,57 C40,52 56,52 70,57" fill="none" stroke="#cccccc" stroke-width="3" stroke-linecap="round"/></g></g></g><circle cx="164.2" cy="317.1" r="1.21" fill="#360fb4"/><circle cx="164.5" cy="314.5" r="1.09" fill="#320eb0"/><circle cx="164.7" cy="311.8" r="1.17" fill="#350fb3"/><circle cx="166.5" cy="309.4" r="1.2" fill="#360fb4"/><circle cx="168" cy="307.2" r="1.2" fill="#360fb4"/><circle cx="169.6" cy="305.1" r="1.2" fill="#360fb4"/><circle cx="172.3" cy="303.8" r="1.16" fill="#4210bf"/><circle cx="174.2" cy="302.2" r="0.97" fill="#5f17ca"/><circle cx="176.2" cy="300.7" r="1.13" fill="#8a22cf"/><circle cx="178.9" cy="300.5" r="1.21" fill="#ac40b5"/><circle cx="181.3" cy="300.2" r="1.45" fill="#d45a82"/><circle cx="183.7" cy="299.9" r="1.51" fill="#e8735f"/><circle cx="186.4" cy="298.8" r="1.79" fill="#f29a46"/><circle cx="188.6" cy="299.9" r="1.71" fill="#f29747"/><circle cx="191.6" cy="299.4" r="1.65" fill="#f29647"/><circle cx="193.6" cy="300.9" r="1.65" fill="#f19349"/><circle cx="195.7" cy="302.3" r="1.36" fill="#ec7a58"/><circle cx="198.5" cy="303.4" r="1.38" fill="#ec7b57"/><circle cx="200.1" cy="305.5" r="1.36" fill="#e2676b"/><circle cx="200.9" cy="308" r="1.13" fill="#b044b3"/><circle cx="202.2" cy="310.4" r="1.03" fill="#7d1ece"/><circle cx="202.6" cy="313.1" r="1.02" fill="#5a15c9"/><circle cx="203.6" cy="315.9" r="0.86" fill="#4611c4"/><circle cx="202.1" cy="318.3" r="0.81" fill="#380fb6"/><circle cx="200.4" cy="320.3" r="0.75" fill="#310eaf"/><circle cx="197.5" cy="321.2" r="0.84" fill="#340eb2"/><circle cx="195.6" cy="322" r="0.87" fill="#350fb3"/><circle cx="176.3" cy="320.9" r="0.73" fill="#310eaf"/><circle cx="173.3" cy="321.1" r="1.23" fill="#370fb5"/><circle cx="170.8" cy="320.5" r="1.1" fill="#330eb1"/><circle cx="167.7" cy="320.2" r="1.11" fill="#330eb1"/><circle cx="164.8" cy="319.5" r="1.25" fill="#380fb6"/><circle cx="165.9" cy="316.7" r="1.12" fill="#340eb2"/><circle cx="168.7" cy="312" r="1.12" fill="#330eb1"/><circle cx="171.7" cy="308.5" r="1.09" fill="#360fb4"/><circle cx="175" cy="306" r="0.98" fill="#4a11c7"/><circle cx="178.2" cy="303.8" r="1.05" fill="#731ccd"/><circle cx="181.8" cy="302.6" r="1.14" fill="#9f34c0"/><circle cx="185.6" cy="302.8" r="1.15" fill="#b94aaa"/><circle cx="189.8" cy="302.4" r="1.27" fill="#d65c7f"/><circle cx="194" cy="303.7" r="1.07" fill="#ba4ba7"/><circle cx="196.8" cy="306.9" r="0.96" fill="#8420cf"/><circle cx="199.5" cy="310.7" r="0.96" fill="#4b12c8"/><circle cx="200.7" cy="315.4" r="0.76" fill="#3a0fb8"/><circle cx="198.5" cy="319.5" r="0.86" fill="#350fb3"/><circle cx="171.1" cy="318.6" r="1.16" fill="#350fb3"/><circle cx="166.9" cy="313.2" r="1.13" fill="#340eb2"/><circle cx="166" cy="312.1" r="1.1" fill="#330eb1"/><circle cx="170.7" cy="311.4" r="1.17" fill="#350fb3"/><circle cx="171.9" cy="318.6" r="1.11" fill="#330eb1"/><circle cx="169.3" cy="311.4" r="1.12" fill="#330eb1"/><circle cx="168.4" cy="317" r="1.23" fill="#370fb5"/><circle cx="167" cy="307.6" r="1.13" fill="#340eb2"/><circle cx="165.4" cy="307.9" r="1.2" fill="#360fb4"/><circle cx="177.2" cy="315.2" r="0.71" fill="#a89ae8" opacity="0.45"/><circle cx="195.6" cy="316.8" r="0.62" fill="#a89ae8" opacity="0.45"/><circle cx="179" cy="318" r="0.78" fill="#a89ae8" opacity="0.45"/><circle cx="184.1" cy="316" r="0.84" fill="#a89ae8" opacity="0.45"/><circle cx="185.7" cy="312.2" r="0.63" fill="#a89ae8" opacity="0.45"/><circle cx="182.8" cy="308.4" r="0.79" fill="#a89ae8" opacity="0.45"/><circle cx="188.2" cy="308.3" r="0.79" fill="#a89ae8" opacity="0.45"/><circle cx="176.9" cy="307.9" r="0.79" fill="#a89ae8" opacity="0.45"/><circle cx="185" cy="317.4" r="0.79" fill="#a89ae8" opacity="0.45"/><circle cx="190.4" cy="308.1" r="0.85" fill="#a89ae8" opacity="0.45"/><circle cx="176.6" cy="314" r="0.87" fill="#a89ae8" opacity="0.45"/><circle cx="194.9" cy="317.3" r="0.74" fill="#a89ae8" opacity="0.45"/><circle cx="190.2" cy="316.1" r="0.64" fill="#a89ae8" opacity="0.45"/><circle cx="195.7" cy="317.5" r="0.73" fill="#a89ae8" opacity="0.45"/><text x="179.9" y="339.2" font-size="11.3" font-weight="bold" text-anchor="middle">1.5 y</text><g transform="translate(211.9,258.5) scale(0.45,0.45)"><path d="M0.1,36.1 C0,32.5 0.4,28.8 1.5,25.3 C2.6,21.9 4.6,18.2 6.8,15.4 C9,12.6 11.9,10.3 14.8,8.2 C17.8,6.1 20.8,4.1 24.5,2.7 C28.2,1.3 33.1,0.5 36.9,0 C40.7,-0.5 44,-0.1 47.5,0 C51,0.1 54.7,0.3 58.2,0.9 C61.8,1.5 65.6,2.4 68.8,3.6 C72,4.8 74.8,6.4 77.6,8.2 C80.4,10 83.2,12.2 85.6,14.5 C88,16.8 90,19 91.8,21.7 C93.6,24.4 95,27.7 96.2,30.7 C97.4,33.7 98.3,36.7 98.9,39.7 C99.5,42.7 99.9,46 99.7,48.7 C99.5,51.4 99,54.1 98,55.9 C97,57.7 95.5,58.5 93.6,59.6 C91.7,60.7 89.5,61.4 86.5,62.3 C83.5,63.2 79.5,64.1 75.9,65 C72.4,65.9 68.8,67 65.2,67.7 C61.7,68.5 58.1,69 54.6,69.5 C51.1,70 47,70.4 44,70.4 C41,70.4 38.8,70.1 36.9,69.5 C35,68.9 33.6,68 32.5,66.8 C31.4,65.6 31.2,63.5 30.2,62.3 C29.2,61.1 28.1,60.3 26.3,59.6 C24.5,58.9 21.6,58.6 19.2,58.1 C16.8,57.6 14.4,57.6 12.2,56.8 C10,56 7.7,54.9 6,53.2 C4.3,51.6 2.9,49.8 1.9,46.9 C0.9,44 0.2,39.7 0.1,36.1Z" fill="url(#bg)" stroke="#cfcfcf" stroke-width="0.6" vector-effect="non-scaling-stroke"/><g clip-path="url(#clat)"><g filter="url(#sb)"><path d="M30,53 C38,45 46,37 54,31 C58,28 62,29 66,33 C70,37 74,39 81,41" fill="none" stroke="#d2d2d2" stroke-width="5" stroke-linecap="round"/><path d="M30,53 C38,45 46,37 54,31 C58,28 62,29 66,33 C70,37 74,39 81,41" fill="none" stroke="#b8b8b8" stroke-width="1.6" stroke-linecap="round"/><path d="M37,61 C47,53 57,47 67,45 C75,44 83,45 91,47" fill="none" stroke="#d6d6d6" stroke-width="3" stroke-linecap="round"/><path d="M11,35 C19,29 29,23 41,19" fill="none" stroke="#d8d8d8" stroke-width="2.6" stroke-linecap="round"/><path d="M52,3 C51,10 49,17 46,24" fill="none" stroke="#d6d6d6" stroke-width="2.4" stroke-linecap="round"/><path d="M63,5 C62,12 61,18 60,25" fill="none" stroke="#dadada" stroke-width="2.2" stroke-linecap="round"/><path d="M70,18 C78,20 86,24 93,30" fill="none" stroke="#dadada" stroke-width="2.2" stroke-linecap="round"/><path d="M38,69 C55,68 75,64 94,57" fill="none" stroke="#d2d2d2" stroke-width="3" stroke-linecap="round"/></g></g></g><circle cx="239.2" cy="280.9" r="0.84" fill="#a89ae8" opacity="0.45"/><circle cx="252.3" cy="280.8" r="0.88" fill="#a89ae8" opacity="0.45"/><circle cx="214.9" cy="273.2" r="1.19" fill="#a83db9"/><circle cx="240.2" cy="285.3" r="0.63" fill="#a89ae8" opacity="0.45"/><circle cx="232.9" cy="267.1" r="0.93" fill="#5414c9"/><circle cx="237.2" cy="260.7" r="0.92" fill="#5414c9"/><circle cx="245" cy="264.7" r="0.91" fill="#370fb5"/><circle cx="219.4" cy="277.4" r="0.96" fill="#9027cb"/><circle cx="222.3" cy="266.3" r="1.16" fill="#9a30c4"/><circle cx="249.4" cy="268.3" r="0.89" fill="#a89ae8" opacity="0.45"/><circle cx="235.8" cy="279.1" r="0.81" fill="#4110be"/><circle cx="225.9" cy="270.3" r="0.9" fill="#6e1acc"/><circle cx="226" cy="277" r="0.86" fill="#6b1acc"/><circle cx="241.4" cy="269.7" r="0.69" fill="#a89ae8" opacity="0.45"/><circle cx="247.2" cy="273.6" r="0.69" fill="#a89ae8" opacity="0.45"/><circle cx="245.9" cy="270.4" r="0.77" fill="#a89ae8" opacity="0.45"/><circle cx="221.7" cy="281.2" r="1.11" fill="#8c24cd"/><circle cx="244.3" cy="282.4" r="0.86" fill="#a89ae8" opacity="0.45"/><circle cx="217.4" cy="269.7" r="1.09" fill="#9b31c2"/><circle cx="251.5" cy="275.4" r="0.69" fill="#a89ae8" opacity="0.45"/><circle cx="226.6" cy="265.2" r="0.92" fill="#8420cf"/><circle cx="235.5" cy="271.5" r="0.82" fill="#4210bf"/><circle cx="243.6" cy="286.6" r="0.79" fill="#a89ae8" opacity="0.45"/><circle cx="232.2" cy="288" r="0.99" fill="#5414c9"/><circle cx="230.2" cy="264.4" r="0.95" fill="#751ccd"/><circle cx="239.3" cy="274.1" r="0.7" fill="#a89ae8" opacity="0.45"/><circle cx="228.5" cy="282.1" r="1.01" fill="#6619cb"/><circle cx="242.1" cy="278.7" r="0.83" fill="#a89ae8" opacity="0.45"/><circle cx="225.2" cy="273.8" r="1.04" fill="#781dcd"/><circle cx="247.1" cy="278.2" r="0.84" fill="#a89ae8" opacity="0.45"/><circle cx="234.9" cy="275" r="0.81" fill="#4310c0"/><circle cx="230.9" cy="277.6" r="0.98" fill="#5a15c9"/><circle cx="218.4" cy="283.3" r="1.03" fill="#962cc7"/><circle cx="215.2" cy="277.3" r="1" fill="#a136be"/><circle cx="238.9" cy="264.2" r="0.91" fill="#4311c1"/><circle cx="225.6" cy="287.2" r="0.95" fill="#721bcc"/><circle cx="238.1" cy="267.5" r="0.89" fill="#a89ae8" opacity="0.45"/><circle cx="219.5" cy="273.6" r="1.05" fill="#9229c9"/><circle cx="242.4" cy="261.6" r="0.97" fill="#3e10bc"/><circle cx="231.4" cy="283.9" r="0.92" fill="#5414c9"/><circle cx="228.8" cy="286.3" r="0.98" fill="#6418cb"/><circle cx="253.5" cy="270.4" r="0.69" fill="#a89ae8" opacity="0.45"/><circle cx="236.1" cy="287.7" r="0.88" fill="#4210bf"/><circle cx="248.1" cy="283.8" r="0.79" fill="#a89ae8" opacity="0.45"/><circle cx="229.1" cy="260.6" r="1.17" fill="#962dc6"/><circle cx="229.6" cy="269.1" r="0.83" fill="#5815c9"/><circle cx="235.7" cy="282.4" r="0.85" fill="#4210bf"/><circle cx="224.9" cy="280.1" r="0.89" fill="#721ccd"/><circle cx="217.8" cy="265.7" r="1.05" fill="#ae42b4"/><circle cx="222.1" cy="270.7" r="1" fill="#8621cf"/><circle cx="231.8" cy="273.4" r="0.82" fill="#4e12c8"/><circle cx="243.8" cy="274.9" r="0.72" fill="#a89ae8" opacity="0.45"/><circle cx="222.1" cy="262.7" r="1.24" fill="#b144b2"/><circle cx="234.4" cy="263.2" r="0.99" fill="#5f17ca"/><circle cx="241.9" cy="266.3" r="0.72" fill="#a89ae8" opacity="0.45"/><circle cx="225.4" cy="261.3" r="1.31" fill="#ab3fb7"/><circle cx="250.3" cy="272.1" r="0.6" fill="#a89ae8" opacity="0.45"/><circle cx="225" cy="283.5" r="1" fill="#771dcd"/><g transform="translate(211.9,296.5) scale(0.45,0.46)"><path d="M0.1,46.1 C0.2,43.9 0.9,40.1 2,36.7 C3.1,33.3 4.7,28.9 6.8,25.5 C8.9,22.1 11.6,18.9 14.5,16.1 C17.4,13.3 20.6,10.8 24.1,8.6 C27.6,6.4 31.5,4.3 35.6,3 C39.8,1.7 44.9,1.2 49,0.8 C53.1,0.4 56.7,0.4 60.5,0.8 C64.3,1.2 68.5,1.8 72,3 C75.5,4.2 78.7,5.8 81.6,7.7 C84.5,9.6 87.1,11.8 89.3,14.3 C91.5,16.8 93.5,19.8 95,22.7 C96.5,25.6 97.8,29 98.5,32 C99.2,35 99.5,37.9 99.4,40.5 C99.3,43.1 98.8,45.7 97.9,47.9 C97,50.1 95.6,52 94,53.5 C92.4,55 90.7,56.1 88.3,56.9 C85.9,57.7 82.4,58 79.7,58.2 C77,58.4 73.9,57.9 72,58.2 C70.1,58.5 69,59 68.2,60.1 C67.4,61.2 67.7,63.4 67.2,64.8 C66.7,66.2 66.4,67.6 65.3,68.5 C64.2,69.4 62.2,70 60.5,70 C58.8,70 56.7,69.4 54.8,68.5 C52.9,67.6 51.2,66 49,64.8 C46.8,63.5 44.2,62.1 41.3,61 C38.4,59.9 35,59 31.8,58.2 C28.6,57.4 25.4,57 22.2,56.4 C19,55.8 15.5,55.1 12.6,54.5 C9.7,53.9 6.8,53.4 4.9,52.6 C3,51.8 1.9,50.9 1.1,49.8 C0.3,48.7 -0,48.3 0.1,46.1Z" fill="url(#bg)" stroke="#cfcfcf" stroke-width="0.6" vector-effect="non-scaling-stroke"/><g clip-path="url(#cmed)"><g filter="url(#sb)"><path d="M22,42 C26,22 50,12 72,14 C87,16 95,26 95,37" fill="none" stroke="#d4d4d4" stroke-width="3.2" stroke-linecap="round"/><path d="M28,42 C32,28 50,22 68,24 C80,26 86,32 84,38 C80,44 70,42 62,39 C50,35 40,39 33,45 C29,47 27,46 28,42Z" fill="none" stroke="#cacaca" stroke-width="1.4" stroke-linecap="round"/><path d="M16,18 C20,27 22,36 22,46" fill="none" stroke="#d0d0d0" stroke-width="2.4" stroke-linecap="round"/><path d="M3,48 C11,46 19,46 26,46" fill="none" stroke="#d2d2d2" stroke-width="2.2" stroke-linecap="round"/><path d="M28,57 C40,52 56,52 70,57" fill="none" stroke="#cccccc" stroke-width="3" stroke-linecap="round"/></g></g></g><circle cx="214.7" cy="317.1" r="1.2" fill="#330eb1"/><circle cx="215" cy="314.5" r="1.08" fill="#2f0ead"/><circle cx="215.2" cy="311.8" r="1.16" fill="#320eb0"/><circle cx="217" cy="309.4" r="1.19" fill="#320eb1"/><circle cx="218.5" cy="307.2" r="1.19" fill="#330eb1"/><circle cx="220.1" cy="305.1" r="1.2" fill="#330eb1"/><circle cx="222.8" cy="303.8" r="1.14" fill="#3a0fb8"/><circle cx="224.7" cy="302.2" r="0.94" fill="#4d12c8"/><circle cx="226.7" cy="300.7" r="1.06" fill="#711bcc"/><circle cx="229.4" cy="300.5" r="1.12" fill="#972dc6"/><circle cx="231.8" cy="300.2" r="1.35" fill="#bb4ba6"/><circle cx="234.2" cy="299.9" r="1.41" fill="#db5f77"/><circle cx="236.9" cy="298.8" r="1.67" fill="#ee7f52"/><circle cx="239.1" cy="299.9" r="1.59" fill="#ed7d54"/><circle cx="242.1" cy="299.4" r="1.53" fill="#ed7c56"/><circle cx="244.1" cy="300.9" r="1.54" fill="#eb7958"/><circle cx="246.2" cy="302.3" r="1.29" fill="#e1656e"/><circle cx="249" cy="303.4" r="1.3" fill="#e2666d"/><circle cx="250.6" cy="305.5" r="1.29" fill="#cd568c"/><circle cx="251.4" cy="308" r="1.07" fill="#9a30c3"/><circle cx="252.7" cy="310.4" r="0.99" fill="#6518cb"/><circle cx="253.1" cy="313.1" r="0.99" fill="#4a11c7"/><circle cx="254.1" cy="315.9" r="0.84" fill="#3d10bb"/><circle cx="252.6" cy="318.3" r="0.79" fill="#320eb1"/><circle cx="250.9" cy="320.3" r="0.74" fill="#2e0eac"/><circle cx="248" cy="321.2" r="0.83" fill="#310eaf"/><circle cx="246.1" cy="322" r="0.86" fill="#320eb0"/><circle cx="226.8" cy="320.9" r="0.72" fill="#2d0dab"/><circle cx="223.8" cy="321.1" r="1.22" fill="#330eb2"/><circle cx="221.3" cy="320.5" r="1.09" fill="#2f0ead"/><circle cx="218.2" cy="320.2" r="1.1" fill="#300eae"/><circle cx="215.3" cy="319.5" r="1.24" fill="#340eb2"/><circle cx="216.4" cy="316.7" r="1.11" fill="#300eae"/><circle cx="219.2" cy="312" r="1.11" fill="#300eae"/><circle cx="222.2" cy="308.5" r="1.08" fill="#310eaf"/><circle cx="225.5" cy="306" r="0.95" fill="#4110be"/><circle cx="228.7" cy="303.8" r="1.01" fill="#5d16ca"/><circle cx="232.3" cy="302.6" r="1.09" fill="#8b23ce"/><circle cx="236.1" cy="302.8" r="1.09" fill="#a237bd"/><circle cx="240.3" cy="302.4" r="1.2" fill="#bd4da3"/><circle cx="244.5" cy="303.7" r="1.01" fill="#a338bc"/><circle cx="247.3" cy="306.9" r="0.91" fill="#6b1acc"/><circle cx="250" cy="310.7" r="0.93" fill="#4110bf"/><circle cx="251.2" cy="315.4" r="0.74" fill="#340eb2"/><circle cx="249" cy="319.5" r="0.85" fill="#310eaf"/><circle cx="221.6" cy="318.6" r="1.15" fill="#310eaf"/><circle cx="217.4" cy="313.2" r="1.12" fill="#300eaf"/><circle cx="216.5" cy="312.1" r="1.09" fill="#2f0ead"/><circle cx="221.2" cy="311.4" r="1.16" fill="#320eb0"/><circle cx="222.4" cy="318.6" r="1.1" fill="#300eae"/><circle cx="219.8" cy="311.4" r="1.11" fill="#300eae"/><circle cx="218.9" cy="317" r="1.22" fill="#340eb2"/><circle cx="217.5" cy="307.6" r="1.12" fill="#300eae"/><circle cx="215.9" cy="307.9" r="1.19" fill="#330eb1"/><circle cx="227.7" cy="315.2" r="0.71" fill="#a89ae8" opacity="0.45"/><circle cx="246.1" cy="316.8" r="0.62" fill="#a89ae8" opacity="0.45"/><circle cx="229.5" cy="318" r="0.78" fill="#a89ae8" opacity="0.45"/><circle cx="234.6" cy="316" r="0.84" fill="#a89ae8" opacity="0.45"/><circle cx="236.2" cy="312.2" r="0.63" fill="#a89ae8" opacity="0.45"/><circle cx="233.3" cy="308.4" r="0.79" fill="#a89ae8" opacity="0.45"/><circle cx="238.7" cy="308.3" r="0.79" fill="#a89ae8" opacity="0.45"/><circle cx="227.4" cy="307.9" r="0.79" fill="#a89ae8" opacity="0.45"/><circle cx="235.5" cy="317.4" r="0.79" fill="#a89ae8" opacity="0.45"/><circle cx="240.9" cy="308.1" r="0.85" fill="#a89ae8" opacity="0.45"/><circle cx="227.1" cy="314" r="0.87" fill="#a89ae8" opacity="0.45"/><circle cx="245.4" cy="317.3" r="0.74" fill="#a89ae8" opacity="0.45"/><circle cx="240.7" cy="316.1" r="0.64" fill="#a89ae8" opacity="0.45"/><circle cx="246.2" cy="317.5" r="0.73" fill="#a89ae8" opacity="0.45"/><text x="229.6" y="339.2" font-size="11.3" font-weight="bold" text-anchor="middle">2.0 y</text><g transform="translate(262.4,258.5) scale(0.45,0.45)"><path d="M0.1,36.1 C0,32.5 0.4,28.8 1.5,25.3 C2.6,21.9 4.6,18.2 6.8,15.4 C9,12.6 11.9,10.3 14.8,8.2 C17.8,6.1 20.8,4.1 24.5,2.7 C28.2,1.3 33.1,0.5 36.9,0 C40.7,-0.5 44,-0.1 47.5,0 C51,0.1 54.7,0.3 58.2,0.9 C61.8,1.5 65.6,2.4 68.8,3.6 C72,4.8 74.8,6.4 77.6,8.2 C80.4,10 83.2,12.2 85.6,14.5 C88,16.8 90,19 91.8,21.7 C93.6,24.4 95,27.7 96.2,30.7 C97.4,33.7 98.3,36.7 98.9,39.7 C99.5,42.7 99.9,46 99.7,48.7 C99.5,51.4 99,54.1 98,55.9 C97,57.7 95.5,58.5 93.6,59.6 C91.7,60.7 89.5,61.4 86.5,62.3 C83.5,63.2 79.5,64.1 75.9,65 C72.4,65.9 68.8,67 65.2,67.7 C61.7,68.5 58.1,69 54.6,69.5 C51.1,70 47,70.4 44,70.4 C41,70.4 38.8,70.1 36.9,69.5 C35,68.9 33.6,68 32.5,66.8 C31.4,65.6 31.2,63.5 30.2,62.3 C29.2,61.1 28.1,60.3 26.3,59.6 C24.5,58.9 21.6,58.6 19.2,58.1 C16.8,57.6 14.4,57.6 12.2,56.8 C10,56 7.7,54.9 6,53.2 C4.3,51.6 2.9,49.8 1.9,46.9 C0.9,44 0.2,39.7 0.1,36.1Z" fill="url(#bg)" stroke="#cfcfcf" stroke-width="0.6" vector-effect="non-scaling-stroke"/><g clip-path="url(#clat)"><g filter="url(#sb)"><path d="M30,53 C38,45 46,37 54,31 C58,28 62,29 66,33 C70,37 74,39 81,41" fill="none" stroke="#d2d2d2" stroke-width="5" stroke-linecap="round"/><path d="M30,53 C38,45 46,37 54,31 C58,28 62,29 66,33 C70,37 74,39 81,41" fill="none" stroke="#b8b8b8" stroke-width="1.6" stroke-linecap="round"/><path d="M37,61 C47,53 57,47 67,45 C75,44 83,45 91,47" fill="none" stroke="#d6d6d6" stroke-width="3" stroke-linecap="round"/><path d="M11,35 C19,29 29,23 41,19" fill="none" stroke="#d8d8d8" stroke-width="2.6" stroke-linecap="round"/><path d="M52,3 C51,10 49,17 46,24" fill="none" stroke="#d6d6d6" stroke-width="2.4" stroke-linecap="round"/><path d="M63,5 C62,12 61,18 60,25" fill="none" stroke="#dadada" stroke-width="2.2" stroke-linecap="round"/><path d="M70,18 C78,20 86,24 93,30" fill="none" stroke="#dadada" stroke-width="2.2" stroke-linecap="round"/><path d="M38,69 C55,68 75,64 94,57" fill="none" stroke="#d2d2d2" stroke-width="3" stroke-linecap="round"/></g></g></g><circle cx="289.7" cy="280.9" r="0.84" fill="#a89ae8" opacity="0.45"/><circle cx="302.8" cy="280.8" r="0.88" fill="#a89ae8" opacity="0.45"/><circle cx="265.4" cy="273.2" r="1.12" fill="#8f26cb"/><circle cx="290.7" cy="285.3" r="0.63" fill="#a89ae8" opacity="0.45"/><circle cx="283.4" cy="267.1" r="0.89" fill="#4411c2"/><circle cx="287.7" cy="260.7" r="0.87" fill="#4411c1"/><circle cx="295.5" cy="264.7" r="0.89" fill="#330eb1"/><circle cx="269.9" cy="277.4" r="0.9" fill="#721ccd"/><circle cx="272.8" cy="266.3" r="1.1" fill="#801fce"/><circle cx="299.9" cy="268.3" r="0.89" fill="#a89ae8" opacity="0.45"/><circle cx="286.3" cy="279.1" r="0.79" fill="#380fb6"/><circle cx="276.4" cy="270.3" r="0.85" fill="#5514c9"/><circle cx="276.5" cy="277" r="0.81" fill="#5213c8"/><circle cx="291.9" cy="269.7" r="0.69" fill="#a89ae8" opacity="0.45"/><circle cx="297.7" cy="273.6" r="0.69" fill="#a89ae8" opacity="0.45"/><circle cx="296.4" cy="270.4" r="0.77" fill="#a89ae8" opacity="0.45"/><circle cx="272.2" cy="281.2" r="1.05" fill="#6f1bcc"/><circle cx="294.8" cy="282.4" r="0.86" fill="#a89ae8" opacity="0.45"/><circle cx="267.9" cy="269.7" r="1.02" fill="#811fce"/><circle cx="302" cy="275.4" r="0.69" fill="#a89ae8" opacity="0.45"/><circle cx="277.1" cy="265.2" r="0.87" fill="#6618cb"/><circle cx="286" cy="271.5" r="0.8" fill="#380fb6"/><circle cx="294.1" cy="286.6" r="0.79" fill="#a89ae8" opacity="0.45"/><circle cx="282.7" cy="288" r="0.95" fill="#4511c2"/><circle cx="280.7" cy="264.4" r="0.9" fill="#5b16ca"/><circle cx="289.8" cy="274.1" r="0.7" fill="#a89ae8" opacity="0.45"/><circle cx="279" cy="282.1" r="0.96" fill="#5013c8"/><circle cx="292.6" cy="278.7" r="0.83" fill="#a89ae8" opacity="0.45"/><circle cx="275.7" cy="273.8" r="0.99" fill="#5e16ca"/><circle cx="297.6" cy="278.2" r="0.84" fill="#a89ae8" opacity="0.45"/><circle cx="285.4" cy="275" r="0.79" fill="#390fb7"/><circle cx="281.4" cy="277.6" r="0.95" fill="#4811c5"/><circle cx="268.9" cy="283.3" r="0.96" fill="#7a1ece"/><circle cx="265.7" cy="277.3" r="0.93" fill="#8721cf"/><circle cx="289.4" cy="264.2" r="0.88" fill="#3b0fb8"/><circle cx="276.1" cy="287.2" r="0.9" fill="#5815c9"/><circle cx="288.6" cy="267.5" r="0.89" fill="#a89ae8" opacity="0.45"/><circle cx="270" cy="273.6" r="0.99" fill="#761dcd"/><circle cx="292.9" cy="261.6" r="0.94" fill="#380fb5"/><circle cx="281.9" cy="283.9" r="0.89" fill="#4411c2"/><circle cx="279.3" cy="286.3" r="0.94" fill="#4e12c8"/><circle cx="304" cy="270.4" r="0.69" fill="#a89ae8" opacity="0.45"/><circle cx="286.6" cy="287.7" r="0.86" fill="#390fb7"/><circle cx="298.6" cy="283.8" r="0.79" fill="#a89ae8" opacity="0.45"/><circle cx="279.6" cy="260.6" r="1.08" fill="#7b1ece"/><circle cx="280.1" cy="269.1" r="0.79" fill="#4611c3"/><circle cx="286.2" cy="282.4" r="0.82" fill="#390fb7"/><circle cx="275.4" cy="280.1" r="0.84" fill="#5815c9"/><circle cx="268.3" cy="265.7" r="0.98" fill="#932ac8"/><circle cx="272.6" cy="270.7" r="0.95" fill="#6919cb"/><circle cx="282.3" cy="273.4" r="0.79" fill="#4010be"/><circle cx="294.3" cy="274.9" r="0.72" fill="#a89ae8" opacity="0.45"/><circle cx="272.6" cy="262.7" r="1.14" fill="#962cc6"/><circle cx="284.9" cy="263.2" r="0.93" fill="#4a11c7"/><circle cx="292.4" cy="266.3" r="0.72" fill="#a89ae8" opacity="0.45"/><circle cx="275.9" cy="261.3" r="1.21" fill="#9128ca"/><circle cx="300.8" cy="272.1" r="0.6" fill="#a89ae8" opacity="0.45"/><circle cx="275.5" cy="283.5" r="0.95" fill="#5d16ca"/><g transform="translate(262.4,296.5) scale(0.45,0.46)"><path d="M0.1,46.1 C0.2,43.9 0.9,40.1 2,36.7 C3.1,33.3 4.7,28.9 6.8,25.5 C8.9,22.1 11.6,18.9 14.5,16.1 C17.4,13.3 20.6,10.8 24.1,8.6 C27.6,6.4 31.5,4.3 35.6,3 C39.8,1.7 44.9,1.2 49,0.8 C53.1,0.4 56.7,0.4 60.5,0.8 C64.3,1.2 68.5,1.8 72,3 C75.5,4.2 78.7,5.8 81.6,7.7 C84.5,9.6 87.1,11.8 89.3,14.3 C91.5,16.8 93.5,19.8 95,22.7 C96.5,25.6 97.8,29 98.5,32 C99.2,35 99.5,37.9 99.4,40.5 C99.3,43.1 98.8,45.7 97.9,47.9 C97,50.1 95.6,52 94,53.5 C92.4,55 90.7,56.1 88.3,56.9 C85.9,57.7 82.4,58 79.7,58.2 C77,58.4 73.9,57.9 72,58.2 C70.1,58.5 69,59 68.2,60.1 C67.4,61.2 67.7,63.4 67.2,64.8 C66.7,66.2 66.4,67.6 65.3,68.5 C64.2,69.4 62.2,70 60.5,70 C58.8,70 56.7,69.4 54.8,68.5 C52.9,67.6 51.2,66 49,64.8 C46.8,63.5 44.2,62.1 41.3,61 C38.4,59.9 35,59 31.8,58.2 C28.6,57.4 25.4,57 22.2,56.4 C19,55.8 15.5,55.1 12.6,54.5 C9.7,53.9 6.8,53.4 4.9,52.6 C3,51.8 1.9,50.9 1.1,49.8 C0.3,48.7 -0,48.3 0.1,46.1Z" fill="url(#bg)" stroke="#cfcfcf" stroke-width="0.6" vector-effect="non-scaling-stroke"/><g clip-path="url(#cmed)"><g filter="url(#sb)"><path d="M22,42 C26,22 50,12 72,14 C87,16 95,26 95,37" fill="none" stroke="#d4d4d4" stroke-width="3.2" stroke-linecap="round"/><path d="M28,42 C32,28 50,22 68,24 C80,26 86,32 84,38 C80,44 70,42 62,39 C50,35 40,39 33,45 C29,47 27,46 28,42Z" fill="none" stroke="#cacaca" stroke-width="1.4" stroke-linecap="round"/><path d="M16,18 C20,27 22,36 22,46" fill="none" stroke="#d0d0d0" stroke-width="2.4" stroke-linecap="round"/><path d="M3,48 C11,46 19,46 26,46" fill="none" stroke="#d2d2d2" stroke-width="2.2" stroke-linecap="round"/><path d="M28,57 C40,52 56,52 70,57" fill="none" stroke="#cccccc" stroke-width="3" stroke-linecap="round"/></g></g></g><circle cx="265.2" cy="317.1" r="1.19" fill="#310eaf"/><circle cx="265.5" cy="314.5" r="1.07" fill="#2d0dab"/><circle cx="265.7" cy="311.8" r="1.16" fill="#300eae"/><circle cx="267.5" cy="309.4" r="1.18" fill="#300eae"/><circle cx="269" cy="307.2" r="1.18" fill="#300eaf"/><circle cx="270.6" cy="305.1" r="1.19" fill="#310eaf"/><circle cx="273.3" cy="303.8" r="1.12" fill="#340eb2"/><circle cx="275.2" cy="302.2" r="0.91" fill="#4310c0"/><circle cx="277.2" cy="300.7" r="1.01" fill="#5e16ca"/><circle cx="279.9" cy="300.5" r="1.05" fill="#8320cf"/><circle cx="282.3" cy="300.2" r="1.27" fill="#a63bba"/><circle cx="284.7" cy="299.9" r="1.32" fill="#c45199"/><circle cx="287.4" cy="298.8" r="1.57" fill="#e56c66"/><circle cx="289.6" cy="299.9" r="1.49" fill="#e46a68"/><circle cx="292.6" cy="299.4" r="1.43" fill="#e3696a"/><circle cx="294.6" cy="300.9" r="1.44" fill="#e2666c"/><circle cx="296.7" cy="302.3" r="1.22" fill="#cd568d"/><circle cx="299.5" cy="303.4" r="1.24" fill="#ce578b"/><circle cx="301.1" cy="305.5" r="1.23" fill="#b749ac"/><circle cx="301.9" cy="308" r="1.02" fill="#8821cf"/><circle cx="303.2" cy="310.4" r="0.96" fill="#5414c9"/><circle cx="303.6" cy="313.1" r="0.97" fill="#4210bf"/><circle cx="304.6" cy="315.9" r="0.82" fill="#370fb5"/><circle cx="303.1" cy="318.3" r="0.79" fill="#2f0ead"/><circle cx="301.4" cy="320.3" r="0.73" fill="#2b0daa"/><circle cx="298.5" cy="321.2" r="0.83" fill="#2f0ead"/><circle cx="296.6" cy="322" r="0.86" fill="#300eae"/><circle cx="277.3" cy="320.9" r="0.72" fill="#2b0da9"/><circle cx="274.3" cy="321.1" r="1.21" fill="#310eaf"/><circle cx="271.8" cy="320.5" r="1.08" fill="#2d0dab"/><circle cx="268.7" cy="320.2" r="1.1" fill="#2e0eac"/><circle cx="265.8" cy="319.5" r="1.23" fill="#320eb0"/><circle cx="266.9" cy="316.7" r="1.11" fill="#2e0eac"/><circle cx="269.7" cy="312" r="1.1" fill="#2e0eac"/><circle cx="272.7" cy="308.5" r="1.07" fill="#2e0eac"/><circle cx="276" cy="306" r="0.93" fill="#3b0fb8"/><circle cx="279.2" cy="303.8" r="0.98" fill="#4d12c8"/><circle cx="282.8" cy="302.6" r="1.05" fill="#751ccd"/><circle cx="286.6" cy="302.8" r="1.04" fill="#8f27cb"/><circle cx="290.8" cy="302.4" r="1.14" fill="#a83db9"/><circle cx="295" cy="303.7" r="0.95" fill="#9028ca"/><circle cx="297.8" cy="306.9" r="0.88" fill="#5815c9"/><circle cx="300.5" cy="310.7" r="0.91" fill="#3b0fb8"/><circle cx="301.7" cy="315.4" r="0.73" fill="#2f0ead"/><circle cx="299.5" cy="319.5" r="0.84" fill="#2f0ead"/><circle cx="272.1" cy="318.6" r="1.15" fill="#2f0ead"/><circle cx="267.9" cy="313.2" r="1.12" fill="#2e0eac"/><circle cx="267" cy="312.1" r="1.08" fill="#2d0dab"/><circle cx="271.7" cy="311.4" r="1.16" fill="#300eae"/><circle cx="272.9" cy="318.6" r="1.1" fill="#2d0eac"/><circle cx="270.3" cy="311.4" r="1.1" fill="#2e0eac"/><circle cx="269.4" cy="317" r="1.22" fill="#320eb0"/><circle cx="268" cy="307.6" r="1.11" fill="#2e0eac"/><circle cx="266.4" cy="307.9" r="1.18" fill="#300eaf"/><circle cx="278.2" cy="315.2" r="0.71" fill="#a89ae8" opacity="0.45"/><circle cx="296.6" cy="316.8" r="0.62" fill="#a89ae8" opacity="0.45"/><circle cx="280" cy="318" r="0.78" fill="#a89ae8" opacity="0.45"/><circle cx="285.1" cy="316" r="0.84" fill="#a89ae8" opacity="0.45"/><circle cx="286.7" cy="312.2" r="0.63" fill="#a89ae8" opacity="0.45"/><circle cx="283.8" cy="308.4" r="0.79" fill="#a89ae8" opacity="0.45"/><circle cx="289.2" cy="308.3" r="0.79" fill="#a89ae8" opacity="0.45"/><circle cx="277.9" cy="307.9" r="0.79" fill="#a89ae8" opacity="0.45"/><circle cx="286" cy="317.4" r="0.79" fill="#a89ae8" opacity="0.45"/><circle cx="291.4" cy="308.1" r="0.85" fill="#a89ae8" opacity="0.45"/><circle cx="277.6" cy="314" r="0.87" fill="#a89ae8" opacity="0.45"/><circle cx="295.9" cy="317.3" r="0.74" fill="#a89ae8" opacity="0.45"/><circle cx="291.2" cy="316.1" r="0.64" fill="#a89ae8" opacity="0.45"/><circle cx="296.7" cy="317.5" r="0.73" fill="#a89ae8" opacity="0.45"/><text x="279.6" y="339.2" font-size="11.3" font-weight="bold" text-anchor="middle">2.5 y</text><g transform="translate(9.9,351.7) scale(0.45,0.45)"><path d="M0.1,36.1 C0,32.5 0.4,28.8 1.5,25.3 C2.6,21.9 4.6,18.2 6.8,15.4 C9,12.6 11.9,10.3 14.8,8.2 C17.8,6.1 20.8,4.1 24.5,2.7 C28.2,1.3 33.1,0.5 36.9,0 C40.7,-0.5 44,-0.1 47.5,0 C51,0.1 54.7,0.3 58.2,0.9 C61.8,1.5 65.6,2.4 68.8,3.6 C72,4.8 74.8,6.4 77.6,8.2 C80.4,10 83.2,12.2 85.6,14.5 C88,16.8 90,19 91.8,21.7 C93.6,24.4 95,27.7 96.2,30.7 C97.4,33.7 98.3,36.7 98.9,39.7 C99.5,42.7 99.9,46 99.7,48.7 C99.5,51.4 99,54.1 98,55.9 C97,57.7 95.5,58.5 93.6,59.6 C91.7,60.7 89.5,61.4 86.5,62.3 C83.5,63.2 79.5,64.1 75.9,65 C72.4,65.9 68.8,67 65.2,67.7 C61.7,68.5 58.1,69 54.6,69.5 C51.1,70 47,70.4 44,70.4 C41,70.4 38.8,70.1 36.9,69.5 C35,68.9 33.6,68 32.5,66.8 C31.4,65.6 31.2,63.5 30.2,62.3 C29.2,61.1 28.1,60.3 26.3,59.6 C24.5,58.9 21.6,58.6 19.2,58.1 C16.8,57.6 14.4,57.6 12.2,56.8 C10,56 7.7,54.9 6,53.2 C4.3,51.6 2.9,49.8 1.9,46.9 C0.9,44 0.2,39.7 0.1,36.1Z" fill="url(#bg)" stroke="#cfcfcf" stroke-width="0.6" vector-effect="non-scaling-stroke"/><g clip-path="url(#clat)"><g filter="url(#sb)"><path d="M30,53 C38,45 46,37 54,31 C58,28 62,29 66,33 C70,37 74,39 81,41" fill="none" stroke="#d2d2d2" stroke-width="5" stroke-linecap="round"/><path d="M30,53 C38,45 46,37 54,31 C58,28 62,29 66,33 C70,37 74,39 81,41" fill="none" stroke="#b8b8b8" stroke-width="1.6" stroke-linecap="round"/><path d="M37,61 C47,53 57,47 67,45 C75,44 83,45 91,47" fill="none" stroke="#d6d6d6" stroke-width="3" stroke-linecap="round"/><path d="M11,35 C19,29 29,23 41,19" fill="none" stroke="#d8d8d8" stroke-width="2.6" stroke-linecap="round"/><path d="M52,3 C51,10 49,17 46,24" fill="none" stroke="#d6d6d6" stroke-width="2.4" stroke-linecap="round"/><path d="M63,5 C62,12 61,18 60,25" fill="none" stroke="#dadada" stroke-width="2.2" stroke-linecap="round"/><path d="M70,18 C78,20 86,24 93,30" fill="none" stroke="#dadada" stroke-width="2.2" stroke-linecap="round"/><path d="M38,69 C55,68 75,64 94,57" fill="none" stroke="#d2d2d2" stroke-width="3" stroke-linecap="round"/></g></g></g><circle cx="37.2" cy="374.3" r="0.84" fill="#a89ae8" opacity="0.45"/><circle cx="50.3" cy="374.3" r="0.88" fill="#a89ae8" opacity="0.45"/><circle cx="12.9" cy="366.6" r="1.07" fill="#761dcd"/><circle cx="38.2" cy="378.8" r="0.63" fill="#a89ae8" opacity="0.45"/><circle cx="30.9" cy="360.4" r="0.87" fill="#3c10ba"/><circle cx="35.2" cy="353.9" r="0.83" fill="#3b0fb9"/><circle cx="43" cy="358" r="0.89" fill="#310eaf"/><circle cx="17.4" cy="370.8" r="0.85" fill="#5b16ca"/><circle cx="20.3" cy="359.6" r="1.05" fill="#6719cb"/><circle cx="47.4" cy="361.6" r="0.89" fill="#a89ae8" opacity="0.45"/><circle cx="33.8" cy="372.5" r="0.77" fill="#320eb0"/><circle cx="23.9" cy="363.7" r="0.82" fill="#4511c2"/><circle cx="24" cy="370.4" r="0.78" fill="#4411c1"/><circle cx="39.4" cy="363" r="0.69" fill="#a89ae8" opacity="0.45"/><circle cx="45.2" cy="367" r="0.69" fill="#a89ae8" opacity="0.45"/><circle cx="43.9" cy="363.8" r="0.77" fill="#a89ae8" opacity="0.45"/><circle cx="19.7" cy="374.7" r="1.01" fill="#5a15c9"/><circle cx="42.3" cy="375.9" r="0.86" fill="#a89ae8" opacity="0.45"/><circle cx="15.4" cy="363.1" r="0.98" fill="#6819cb"/><circle cx="49.5" cy="368.8" r="0.69" fill="#a89ae8" opacity="0.45"/><circle cx="24.6" cy="358.5" r="0.83" fill="#5013c8"/><circle cx="33.5" cy="364.9" r="0.78" fill="#330eb1"/><circle cx="41.6" cy="380.2" r="0.79" fill="#a89ae8" opacity="0.45"/><circle cx="30.2" cy="381.6" r="0.93" fill="#3d10ba"/><circle cx="28.2" cy="357.6" r="0.87" fill="#4911c6"/><circle cx="37.3" cy="367.5" r="0.7" fill="#a89ae8" opacity="0.45"/><circle cx="26.5" cy="375.6" r="0.94" fill="#4411c1"/><circle cx="40.1" cy="372.2" r="0.83" fill="#a89ae8" opacity="0.45"/><circle cx="23.2" cy="367.1" r="0.95" fill="#4c12c8"/><circle cx="45.1" cy="371.7" r="0.84" fill="#a89ae8" opacity="0.45"/><circle cx="32.9" cy="368.4" r="0.77" fill="#330eb1"/><circle cx="28.9" cy="371" r="0.92" fill="#3f10bc"/><circle cx="16.4" cy="376.9" r="0.92" fill="#6117ca"/><circle cx="13.2" cy="370.7" r="0.88" fill="#6c1acc"/><circle cx="36.9" cy="357.5" r="0.87" fill="#350fb3"/><circle cx="23.6" cy="380.8" r="0.87" fill="#4711c5"/><circle cx="36.1" cy="360.8" r="0.89" fill="#a89ae8" opacity="0.45"/><circle cx="17.5" cy="366.9" r="0.95" fill="#5e17ca"/><circle cx="40.4" cy="354.9" r="0.93" fill="#340eb2"/><circle cx="29.4" cy="377.4" r="0.86" fill="#3c10ba"/><circle cx="26.8" cy="379.8" r="0.91" fill="#4310c0"/><circle cx="51.5" cy="363.7" r="0.69" fill="#a89ae8" opacity="0.45"/><circle cx="34.1" cy="381.3" r="0.84" fill="#340eb2"/><circle cx="46.1" cy="377.4" r="0.79" fill="#a89ae8" opacity="0.45"/><circle cx="27.1" cy="353.8" r="1.02" fill="#6218cb"/><circle cx="27.6" cy="362.4" r="0.76" fill="#3c10ba"/><circle cx="33.7" cy="375.9" r="0.81" fill="#340eb2"/><circle cx="22.9" cy="373.6" r="0.8" fill="#4711c4"/><circle cx="15.8" cy="358.9" r="0.92" fill="#7a1dcd"/><circle cx="20.1" cy="364" r="0.91" fill="#5314c9"/><circle cx="29.8" cy="366.8" r="0.77" fill="#380fb6"/><circle cx="41.8" cy="368.4" r="0.72" fill="#a89ae8" opacity="0.45"/><circle cx="20.1" cy="356" r="1.06" fill="#7d1ece"/><circle cx="32.4" cy="356.4" r="0.89" fill="#4010bd"/><circle cx="39.9" cy="359.6" r="0.72" fill="#a89ae8" opacity="0.45"/><circle cx="23.4" cy="354.5" r="1.14" fill="#781dcd"/><circle cx="48.3" cy="365.4" r="0.6" fill="#a89ae8" opacity="0.45"/><circle cx="23" cy="377" r="0.92" fill="#4a11c7"/><g transform="translate(9.9,389) scale(0.45,0.45)"><path d="M0.1,46.1 C0.2,43.9 0.9,40.1 2,36.7 C3.1,33.3 4.7,28.9 6.8,25.5 C8.9,22.1 11.6,18.9 14.5,16.1 C17.4,13.3 20.6,10.8 24.1,8.6 C27.6,6.4 31.5,4.3 35.6,3 C39.8,1.7 44.9,1.2 49,0.8 C53.1,0.4 56.7,0.4 60.5,0.8 C64.3,1.2 68.5,1.8 72,3 C75.5,4.2 78.7,5.8 81.6,7.7 C84.5,9.6 87.1,11.8 89.3,14.3 C91.5,16.8 93.5,19.8 95,22.7 C96.5,25.6 97.8,29 98.5,32 C99.2,35 99.5,37.9 99.4,40.5 C99.3,43.1 98.8,45.7 97.9,47.9 C97,50.1 95.6,52 94,53.5 C92.4,55 90.7,56.1 88.3,56.9 C85.9,57.7 82.4,58 79.7,58.2 C77,58.4 73.9,57.9 72,58.2 C70.1,58.5 69,59 68.2,60.1 C67.4,61.2 67.7,63.4 67.2,64.8 C66.7,66.2 66.4,67.6 65.3,68.5 C64.2,69.4 62.2,70 60.5,70 C58.8,70 56.7,69.4 54.8,68.5 C52.9,67.6 51.2,66 49,64.8 C46.8,63.5 44.2,62.1 41.3,61 C38.4,59.9 35,59 31.8,58.2 C28.6,57.4 25.4,57 22.2,56.4 C19,55.8 15.5,55.1 12.6,54.5 C9.7,53.9 6.8,53.4 4.9,52.6 C3,51.8 1.9,50.9 1.1,49.8 C0.3,48.7 -0,48.3 0.1,46.1Z" fill="url(#bg)" stroke="#cfcfcf" stroke-width="0.6" vector-effect="non-scaling-stroke"/><g clip-path="url(#cmed)"><g filter="url(#sb)"><path d="M22,42 C26,22 50,12 72,14 C87,16 95,26 95,37" fill="none" stroke="#d4d4d4" stroke-width="3.2" stroke-linecap="round"/><path d="M28,42 C32,28 50,22 68,24 C80,26 86,32 84,38 C80,44 70,42 62,39 C50,35 40,39 33,45 C29,47 27,46 28,42Z" fill="none" stroke="#cacaca" stroke-width="1.4" stroke-linecap="round"/><path d="M16,18 C20,27 22,36 22,46" fill="none" stroke="#d0d0d0" stroke-width="2.4" stroke-linecap="round"/><path d="M3,48 C11,46 19,46 26,46" fill="none" stroke="#d2d2d2" stroke-width="2.2" stroke-linecap="round"/><path d="M28,57 C40,52 56,52 70,57" fill="none" stroke="#cccccc" stroke-width="3" stroke-linecap="round"/></g></g></g><circle cx="12.7" cy="409.1" r="1.19" fill="#2f0eae"/><circle cx="13" cy="406.5" r="1.07" fill="#2b0daa"/><circle cx="13.2" cy="404" r="1.15" fill="#2e0eac"/><circle cx="15" cy="401.6" r="1.18" fill="#2f0ead"/><circle cx="16.5" cy="399.4" r="1.18" fill="#2f0ead"/><circle cx="18.1" cy="397.4" r="1.19" fill="#2f0ead"/><circle cx="20.8" cy="396.1" r="1.11" fill="#310eaf"/><circle cx="22.7" cy="394.5" r="0.9" fill="#3d10ba"/><circle cx="24.7" cy="393.1" r="0.97" fill="#4f13c8"/><circle cx="27.4" cy="392.9" r="1" fill="#6f1bcc"/><circle cx="29.8" cy="392.6" r="1.2" fill="#952cc7"/><circle cx="32.2" cy="392.3" r="1.24" fill="#b044b3"/><circle cx="34.9" cy="391.2" r="1.48" fill="#d75d7d"/><circle cx="37.1" cy="392.3" r="1.4" fill="#d55b81"/><circle cx="40.1" cy="391.8" r="1.35" fill="#d35a84"/><circle cx="42.1" cy="393.3" r="1.35" fill="#d05888"/><circle cx="44.2" cy="394.7" r="1.16" fill="#b84aaa"/><circle cx="47" cy="395.7" r="1.18" fill="#ba4ba8"/><circle cx="48.6" cy="397.8" r="1.18" fill="#a53abb"/><circle cx="49.4" cy="400.2" r="0.98" fill="#731ccd"/><circle cx="50.7" cy="402.6" r="0.93" fill="#4811c5"/><circle cx="51.1" cy="405.1" r="0.95" fill="#3c0fb9"/><circle cx="52.1" cy="407.9" r="0.81" fill="#330eb1"/><circle cx="50.6" cy="410.3" r="0.78" fill="#2d0dab"/><circle cx="48.9" cy="412.2" r="0.73" fill="#2a0da8"/><circle cx="46" cy="413.1" r="0.82" fill="#2d0eac"/><circle cx="44.1" cy="413.9" r="0.85" fill="#2e0eac"/><circle cx="24.8" cy="412.8" r="0.71" fill="#290da8"/><circle cx="21.8" cy="413" r="1.21" fill="#300eae"/><circle cx="19.3" cy="412.4" r="1.08" fill="#2c0daa"/><circle cx="16.2" cy="412.1" r="1.09" fill="#2c0dab"/><circle cx="13.3" cy="411.4" r="1.23" fill="#310eaf"/><circle cx="14.4" cy="408.7" r="1.1" fill="#2c0dab"/><circle cx="17.2" cy="404.1" r="1.1" fill="#2c0dab"/><circle cx="20.2" cy="400.7" r="1.07" fill="#2c0daa"/><circle cx="23.5" cy="398.2" r="0.92" fill="#370fb4"/><circle cx="26.7" cy="396.2" r="0.96" fill="#4411c2"/><circle cx="30.3" cy="394.9" r="1.01" fill="#6318cb"/><circle cx="34.1" cy="395.2" r="1" fill="#7c1ece"/><circle cx="38.3" cy="394.7" r="1.1" fill="#972dc5"/><circle cx="42.5" cy="396" r="0.91" fill="#7d1ece"/><circle cx="45.3" cy="399.2" r="0.85" fill="#4a11c7"/><circle cx="48" cy="402.9" r="0.9" fill="#360fb4"/><circle cx="49.2" cy="407.4" r="0.72" fill="#2c0dab"/><circle cx="47" cy="411.4" r="0.84" fill="#2e0eac"/><circle cx="19.6" cy="410.6" r="1.14" fill="#2e0eac"/><circle cx="15.4" cy="405.3" r="1.11" fill="#2d0dab"/><circle cx="14.5" cy="404.2" r="1.08" fill="#2c0daa"/><circle cx="19.2" cy="403.5" r="1.15" fill="#2e0eac"/><circle cx="20.4" cy="410.5" r="1.09" fill="#2c0daa"/><circle cx="17.8" cy="403.5" r="1.1" fill="#2c0dab"/><circle cx="16.9" cy="409" r="1.22" fill="#300eae"/><circle cx="15.5" cy="399.8" r="1.11" fill="#2d0dab"/><circle cx="13.9" cy="400.1" r="1.18" fill="#2f0ead"/><circle cx="25.7" cy="407.2" r="0.71" fill="#a89ae8" opacity="0.45"/><circle cx="44.1" cy="408.8" r="0.62" fill="#a89ae8" opacity="0.45"/><circle cx="27.5" cy="409.9" r="0.78" fill="#a89ae8" opacity="0.45"/><circle cx="32.6" cy="408" r="0.84" fill="#a89ae8" opacity="0.45"/><circle cx="34.2" cy="404.3" r="0.63" fill="#a89ae8" opacity="0.45"/><circle cx="31.3" cy="400.6" r="0.79" fill="#a89ae8" opacity="0.45"/><circle cx="36.7" cy="400.6" r="0.79" fill="#a89ae8" opacity="0.45"/><circle cx="25.4" cy="400.1" r="0.79" fill="#a89ae8" opacity="0.45"/><circle cx="33.5" cy="409.4" r="0.79" fill="#a89ae8" opacity="0.45"/><circle cx="38.9" cy="400.3" r="0.85" fill="#a89ae8" opacity="0.45"/><circle cx="25.1" cy="406.1" r="0.87" fill="#a89ae8" opacity="0.45"/><circle cx="43.4" cy="409.3" r="0.74" fill="#a89ae8" opacity="0.45"/><circle cx="38.7" cy="408.1" r="0.64" fill="#a89ae8" opacity="0.45"/><circle cx="44.2" cy="409.5" r="0.73" fill="#a89ae8" opacity="0.45"/><text x="27.3" y="432.8" font-size="11.3" font-weight="bold" text-anchor="middle">3.0 y</text><g transform="translate(60.4,351.7) scale(0.45,0.45)"><path d="M0.1,36.1 C0,32.5 0.4,28.8 1.5,25.3 C2.6,21.9 4.6,18.2 6.8,15.4 C9,12.6 11.9,10.3 14.8,8.2 C17.8,6.1 20.8,4.1 24.5,2.7 C28.2,1.3 33.1,0.5 36.9,0 C40.7,-0.5 44,-0.1 47.5,0 C51,0.1 54.7,0.3 58.2,0.9 C61.8,1.5 65.6,2.4 68.8,3.6 C72,4.8 74.8,6.4 77.6,8.2 C80.4,10 83.2,12.2 85.6,14.5 C88,16.8 90,19 91.8,21.7 C93.6,24.4 95,27.7 96.2,30.7 C97.4,33.7 98.3,36.7 98.9,39.7 C99.5,42.7 99.9,46 99.7,48.7 C99.5,51.4 99,54.1 98,55.9 C97,57.7 95.5,58.5 93.6,59.6 C91.7,60.7 89.5,61.4 86.5,62.3 C83.5,63.2 79.5,64.1 75.9,65 C72.4,65.9 68.8,67 65.2,67.7 C61.7,68.5 58.1,69 54.6,69.5 C51.1,70 47,70.4 44,70.4 C41,70.4 38.8,70.1 36.9,69.5 C35,68.9 33.6,68 32.5,66.8 C31.4,65.6 31.2,63.5 30.2,62.3 C29.2,61.1 28.1,60.3 26.3,59.6 C24.5,58.9 21.6,58.6 19.2,58.1 C16.8,57.6 14.4,57.6 12.2,56.8 C10,56 7.7,54.9 6,53.2 C4.3,51.6 2.9,49.8 1.9,46.9 C0.9,44 0.2,39.7 0.1,36.1Z" fill="url(#bg)" stroke="#cfcfcf" stroke-width="0.6" vector-effect="non-scaling-stroke"/><g clip-path="url(#clat)"><g filter="url(#sb)"><path d="M30,53 C38,45 46,37 54,31 C58,28 62,29 66,33 C70,37 74,39 81,41" fill="none" stroke="#d2d2d2" stroke-width="5" stroke-linecap="round"/><path d="M30,53 C38,45 46,37 54,31 C58,28 62,29 66,33 C70,37 74,39 81,41" fill="none" stroke="#b8b8b8" stroke-width="1.6" stroke-linecap="round"/><path d="M37,61 C47,53 57,47 67,45 C75,44 83,45 91,47" fill="none" stroke="#d6d6d6" stroke-width="3" stroke-linecap="round"/><path d="M11,35 C19,29 29,23 41,19" fill="none" stroke="#d8d8d8" stroke-width="2.6" stroke-linecap="round"/><path d="M52,3 C51,10 49,17 46,24" fill="none" stroke="#d6d6d6" stroke-width="2.4" stroke-linecap="round"/><path d="M63,5 C62,12 61,18 60,25" fill="none" stroke="#dadada" stroke-width="2.2" stroke-linecap="round"/><path d="M70,18 C78,20 86,24 93,30" fill="none" stroke="#dadada" stroke-width="2.2" stroke-linecap="round"/><path d="M38,69 C55,68 75,64 94,57" fill="none" stroke="#d2d2d2" stroke-width="3" stroke-linecap="round"/></g></g></g><circle cx="87.7" cy="374.3" r="0.84" fill="#a89ae8" opacity="0.45"/><circle cx="100.8" cy="374.3" r="0.88" fill="#a89ae8" opacity="0.45"/><circle cx="63.4" cy="366.6" r="1.03" fill="#6117ca"/><circle cx="88.7" cy="378.8" r="0.63" fill="#a89ae8" opacity="0.45"/><circle cx="81.4" cy="360.4" r="0.85" fill="#360fb4"/><circle cx="85.7" cy="353.9" r="0.81" fill="#350fb3"/><circle cx="93.5" cy="358" r="0.88" fill="#2f0ead"/><circle cx="67.9" cy="370.8" r="0.82" fill="#4a11c7"/><circle cx="70.8" cy="359.6" r="1.02" fill="#5514c9"/><circle cx="97.9" cy="361.6" r="0.89" fill="#a89ae8" opacity="0.45"/><circle cx="84.3" cy="372.5" r="0.76" fill="#2f0ead"/><circle cx="74.4" cy="363.7" r="0.79" fill="#3d10ba"/><circle cx="74.5" cy="370.4" r="0.76" fill="#3b0fb9"/><circle cx="89.9" cy="363" r="0.69" fill="#a89ae8" opacity="0.45"/><circle cx="95.7" cy="367" r="0.69" fill="#a89ae8" opacity="0.45"/><circle cx="94.4" cy="363.8" r="0.77" fill="#a89ae8" opacity="0.45"/><circle cx="70.2" cy="374.7" r="0.98" fill="#4a11c7"/><circle cx="92.8" cy="375.9" r="0.86" fill="#a89ae8" opacity="0.45"/><circle cx="65.9" cy="363.1" r="0.94" fill="#5514c9"/><circle cx="100" cy="368.8" r="0.69" fill="#a89ae8" opacity="0.45"/><circle cx="75.1" cy="358.5" r="0.8" fill="#4411c1"/><circle cx="84" cy="364.9" r="0.77" fill="#2f0ead"/><circle cx="92.1" cy="380.2" r="0.79" fill="#a89ae8" opacity="0.45"/><circle cx="80.7" cy="381.6" r="0.92" fill="#380fb5"/><circle cx="78.7" cy="357.6" r="0.85" fill="#4010bd"/><circle cx="87.8" cy="367.5" r="0.7" fill="#a89ae8" opacity="0.45"/><circle cx="77" cy="375.6" r="0.92" fill="#3d10ba"/><circle cx="90.6" cy="372.2" r="0.83" fill="#a89ae8" opacity="0.45"/><circle cx="73.7" cy="367.1" r="0.93" fill="#4210c0"/><circle cx="95.6" cy="371.7" r="0.84" fill="#a89ae8" opacity="0.45"/><circle cx="83.4" cy="368.4" r="0.76" fill="#2f0eae"/><circle cx="79.4" cy="371" r="0.91" fill="#390fb7"/><circle cx="66.9" cy="376.9" r="0.88" fill="#4f13c8"/><circle cx="63.7" cy="370.7" r="0.84" fill="#5715c9"/><circle cx="87.4" cy="357.5" r="0.86" fill="#320eb0"/><circle cx="74.1" cy="380.8" r="0.84" fill="#3f10bc"/><circle cx="86.6" cy="360.8" r="0.89" fill="#a89ae8" opacity="0.45"/><circle cx="68" cy="366.9" r="0.91" fill="#4d12c8"/><circle cx="90.9" cy="354.9" r="0.92" fill="#310eaf"/><circle cx="79.9" cy="377.4" r="0.85" fill="#360fb4"/><circle cx="77.3" cy="379.8" r="0.9" fill="#3b0fb9"/><circle cx="102" cy="363.7" r="0.69" fill="#a89ae8" opacity="0.45"/><circle cx="84.6" cy="381.3" r="0.83" fill="#310eaf"/><circle cx="96.6" cy="377.4" r="0.79" fill="#a89ae8" opacity="0.45"/><circle cx="77.6" cy="353.8" r="0.97" fill="#5013c8"/><circle cx="78.1" cy="362.4" r="0.75" fill="#350fb3"/><circle cx="84.2" cy="375.9" r="0.8" fill="#300eae"/><circle cx="73.4" cy="373.6" r="0.78" fill="#3e10bb"/><circle cx="66.3" cy="358.9" r="0.88" fill="#6318cb"/><circle cx="70.6" cy="364" r="0.88" fill="#4611c3"/><circle cx="80.3" cy="366.8" r="0.75" fill="#330eb1"/><circle cx="92.3" cy="368.4" r="0.72" fill="#a89ae8" opacity="0.45"/><circle cx="70.6" cy="356" r="0.99" fill="#6619cb"/><circle cx="82.9" cy="356.4" r="0.86" fill="#390fb7"/><circle cx="90.4" cy="359.6" r="0.72" fill="#a89ae8" opacity="0.45"/><circle cx="73.9" cy="354.5" r="1.08" fill="#6318cb"/><circle cx="98.8" cy="365.4" r="0.6" fill="#a89ae8" opacity="0.45"/><circle cx="73.5" cy="377" r="0.89" fill="#4110bf"/><g transform="translate(60.4,389) scale(0.45,0.45)"><path d="M0.1,46.1 C0.2,43.9 0.9,40.1 2,36.7 C3.1,33.3 4.7,28.9 6.8,25.5 C8.9,22.1 11.6,18.9 14.5,16.1 C17.4,13.3 20.6,10.8 24.1,8.6 C27.6,6.4 31.5,4.3 35.6,3 C39.8,1.7 44.9,1.2 49,0.8 C53.1,0.4 56.7,0.4 60.5,0.8 C64.3,1.2 68.5,1.8 72,3 C75.5,4.2 78.7,5.8 81.6,7.7 C84.5,9.6 87.1,11.8 89.3,14.3 C91.5,16.8 93.5,19.8 95,22.7 C96.5,25.6 97.8,29 98.5,32 C99.2,35 99.5,37.9 99.4,40.5 C99.3,43.1 98.8,45.7 97.9,47.9 C97,50.1 95.6,52 94,53.5 C92.4,55 90.7,56.1 88.3,56.9 C85.9,57.7 82.4,58 79.7,58.2 C77,58.4 73.9,57.9 72,58.2 C70.1,58.5 69,59 68.2,60.1 C67.4,61.2 67.7,63.4 67.2,64.8 C66.7,66.2 66.4,67.6 65.3,68.5 C64.2,69.4 62.2,70 60.5,70 C58.8,70 56.7,69.4 54.8,68.5 C52.9,67.6 51.2,66 49,64.8 C46.8,63.5 44.2,62.1 41.3,61 C38.4,59.9 35,59 31.8,58.2 C28.6,57.4 25.4,57 22.2,56.4 C19,55.8 15.5,55.1 12.6,54.5 C9.7,53.9 6.8,53.4 4.9,52.6 C3,51.8 1.9,50.9 1.1,49.8 C0.3,48.7 -0,48.3 0.1,46.1Z" fill="url(#bg)" stroke="#cfcfcf" stroke-width="0.6" vector-effect="non-scaling-stroke"/><g clip-path="url(#cmed)"><g filter="url(#sb)"><path d="M22,42 C26,22 50,12 72,14 C87,16 95,26 95,37" fill="none" stroke="#d4d4d4" stroke-width="3.2" stroke-linecap="round"/><path d="M28,42 C32,28 50,22 68,24 C80,26 86,32 84,38 C80,44 70,42 62,39 C50,35 40,39 33,45 C29,47 27,46 28,42Z" fill="none" stroke="#cacaca" stroke-width="1.4" stroke-linecap="round"/><path d="M16,18 C20,27 22,36 22,46" fill="none" stroke="#d0d0d0" stroke-width="2.4" stroke-linecap="round"/><path d="M3,48 C11,46 19,46 26,46" fill="none" stroke="#d2d2d2" stroke-width="2.2" stroke-linecap="round"/><path d="M28,57 C40,52 56,52 70,57" fill="none" stroke="#cccccc" stroke-width="3" stroke-linecap="round"/></g></g></g><circle cx="63.2" cy="409.1" r="1.19" fill="#2f0ead"/><circle cx="63.5" cy="406.5" r="1.06" fill="#2a0da9"/><circle cx="63.7" cy="404" r="1.15" fill="#2d0eac"/><circle cx="65.5" cy="401.6" r="1.17" fill="#2e0eac"/><circle cx="67" cy="399.4" r="1.18" fill="#2e0eac"/><circle cx="68.6" cy="397.4" r="1.18" fill="#2e0ead"/><circle cx="71.3" cy="396.1" r="1.11" fill="#2f0ead"/><circle cx="73.2" cy="394.5" r="0.88" fill="#380fb6"/><circle cx="75.2" cy="393.1" r="0.94" fill="#4511c3"/><circle cx="77.9" cy="392.9" r="0.95" fill="#5e17ca"/><circle cx="80.3" cy="392.6" r="1.14" fill="#8621cf"/><circle cx="82.7" cy="392.3" r="1.17" fill="#a035bf"/><circle cx="85.4" cy="391.2" r="1.41" fill="#c45199"/><circle cx="87.6" cy="392.3" r="1.33" fill="#c14f9d"/><circle cx="90.6" cy="391.8" r="1.27" fill="#c04e9f"/><circle cx="92.6" cy="393.3" r="1.28" fill="#bd4da3"/><circle cx="94.7" cy="394.7" r="1.12" fill="#a73cba"/><circle cx="97.5" cy="395.7" r="1.13" fill="#a83db9"/><circle cx="99.1" cy="397.8" r="1.14" fill="#952cc7"/><circle cx="99.9" cy="400.2" r="0.95" fill="#6318cb"/><circle cx="101.2" cy="402.6" r="0.91" fill="#4110be"/><circle cx="101.6" cy="405.1" r="0.94" fill="#380fb6"/><circle cx="102.6" cy="407.9" r="0.8" fill="#300eae"/><circle cx="101.1" cy="410.3" r="0.78" fill="#2c0daa"/><circle cx="99.4" cy="412.2" r="0.73" fill="#290da8"/><circle cx="96.5" cy="413.1" r="0.82" fill="#2c0dab"/><circle cx="94.6" cy="413.9" r="0.85" fill="#2d0eac"/><circle cx="75.3" cy="412.8" r="0.71" fill="#290da7"/><circle cx="72.3" cy="413" r="1.21" fill="#2f0ead"/><circle cx="69.8" cy="412.4" r="1.07" fill="#2b0da9"/><circle cx="66.7" cy="412.1" r="1.09" fill="#2b0daa"/><circle cx="63.8" cy="411.4" r="1.23" fill="#300eae"/><circle cx="64.9" cy="408.7" r="1.1" fill="#2c0daa"/><circle cx="67.7" cy="404.1" r="1.09" fill="#2b0daa"/><circle cx="70.7" cy="400.7" r="1.06" fill="#2b0da9"/><circle cx="74" cy="398.2" r="0.92" fill="#340eb2"/><circle cx="77.2" cy="396.2" r="0.94" fill="#3e10bc"/><circle cx="80.8" cy="394.9" r="0.98" fill="#5514c9"/><circle cx="84.6" cy="395.2" r="0.96" fill="#6a1acc"/><circle cx="88.8" cy="394.7" r="1.06" fill="#8821cf"/><circle cx="93" cy="396" r="0.88" fill="#6b1acc"/><circle cx="95.8" cy="399.2" r="0.83" fill="#4210bf"/><circle cx="98.5" cy="402.9" r="0.89" fill="#330eb1"/><circle cx="99.7" cy="407.4" r="0.72" fill="#2b0da9"/><circle cx="97.5" cy="411.4" r="0.84" fill="#2d0dab"/><circle cx="70.1" cy="410.6" r="1.14" fill="#2d0dab"/><circle cx="65.9" cy="405.3" r="1.11" fill="#2c0daa"/><circle cx="65" cy="404.2" r="1.07" fill="#2b0da9"/><circle cx="69.7" cy="403.5" r="1.15" fill="#2d0eac"/><circle cx="70.9" cy="410.5" r="1.09" fill="#2b0daa"/><circle cx="68.3" cy="403.5" r="1.09" fill="#2b0daa"/><circle cx="67.4" cy="409" r="1.21" fill="#2f0eae"/><circle cx="66" cy="399.8" r="1.11" fill="#2c0daa"/><circle cx="64.4" cy="400.1" r="1.18" fill="#2e0eac"/><circle cx="76.2" cy="407.2" r="0.71" fill="#a89ae8" opacity="0.45"/><circle cx="94.6" cy="408.8" r="0.62" fill="#a89ae8" opacity="0.45"/><circle cx="78" cy="409.9" r="0.78" fill="#a89ae8" opacity="0.45"/><circle cx="83.1" cy="408" r="0.84" fill="#a89ae8" opacity="0.45"/><circle cx="84.7" cy="404.3" r="0.63" fill="#a89ae8" opacity="0.45"/><circle cx="81.8" cy="400.6" r="0.79" fill="#a89ae8" opacity="0.45"/><circle cx="87.2" cy="400.6" r="0.79" fill="#a89ae8" opacity="0.45"/><circle cx="75.9" cy="400.1" r="0.79" fill="#a89ae8" opacity="0.45"/><circle cx="84" cy="409.4" r="0.79" fill="#a89ae8" opacity="0.45"/><circle cx="89.4" cy="400.3" r="0.85" fill="#a89ae8" opacity="0.45"/><circle cx="75.6" cy="406.1" r="0.87" fill="#a89ae8" opacity="0.45"/><circle cx="93.9" cy="409.3" r="0.74" fill="#a89ae8" opacity="0.45"/><circle cx="89.2" cy="408.1" r="0.64" fill="#a89ae8" opacity="0.45"/><circle cx="94.7" cy="409.5" r="0.73" fill="#a89ae8" opacity="0.45"/><text x="80" y="432.8" font-size="11.3" font-weight="bold" text-anchor="middle">3.5 y</text><g transform="translate(110.9,351.7) scale(0.45,0.45)"><path d="M0.1,36.1 C0,32.5 0.4,28.8 1.5,25.3 C2.6,21.9 4.6,18.2 6.8,15.4 C9,12.6 11.9,10.3 14.8,8.2 C17.8,6.1 20.8,4.1 24.5,2.7 C28.2,1.3 33.1,0.5 36.9,0 C40.7,-0.5 44,-0.1 47.5,0 C51,0.1 54.7,0.3 58.2,0.9 C61.8,1.5 65.6,2.4 68.8,3.6 C72,4.8 74.8,6.4 77.6,8.2 C80.4,10 83.2,12.2 85.6,14.5 C88,16.8 90,19 91.8,21.7 C93.6,24.4 95,27.7 96.2,30.7 C97.4,33.7 98.3,36.7 98.9,39.7 C99.5,42.7 99.9,46 99.7,48.7 C99.5,51.4 99,54.1 98,55.9 C97,57.7 95.5,58.5 93.6,59.6 C91.7,60.7 89.5,61.4 86.5,62.3 C83.5,63.2 79.5,64.1 75.9,65 C72.4,65.9 68.8,67 65.2,67.7 C61.7,68.5 58.1,69 54.6,69.5 C51.1,70 47,70.4 44,70.4 C41,70.4 38.8,70.1 36.9,69.5 C35,68.9 33.6,68 32.5,66.8 C31.4,65.6 31.2,63.5 30.2,62.3 C29.2,61.1 28.1,60.3 26.3,59.6 C24.5,58.9 21.6,58.6 19.2,58.1 C16.8,57.6 14.4,57.6 12.2,56.8 C10,56 7.7,54.9 6,53.2 C4.3,51.6 2.9,49.8 1.9,46.9 C0.9,44 0.2,39.7 0.1,36.1Z" fill="url(#bg)" stroke="#cfcfcf" stroke-width="0.6" vector-effect="non-scaling-stroke"/><g clip-path="url(#clat)"><g filter="url(#sb)"><path d="M30,53 C38,45 46,37 54,31 C58,28 62,29 66,33 C70,37 74,39 81,41" fill="none" stroke="#d2d2d2" stroke-width="5" stroke-linecap="round"/><path d="M30,53 C38,45 46,37 54,31 C58,28 62,29 66,33 C70,37 74,39 81,41" fill="none" stroke="#b8b8b8" stroke-width="1.6" stroke-linecap="round"/><path d="M37,61 C47,53 57,47 67,45 C75,44 83,45 91,47" fill="none" stroke="#d6d6d6" stroke-width="3" stroke-linecap="round"/><path d="M11,35 C19,29 29,23 41,19" fill="none" stroke="#d8d8d8" stroke-width="2.6" stroke-linecap="round"/><path d="M52,3 C51,10 49,17 46,24" fill="none" stroke="#d6d6d6" stroke-width="2.4" stroke-linecap="round"/><path d="M63,5 C62,12 61,18 60,25" fill="none" stroke="#dadada" stroke-width="2.2" stroke-linecap="round"/><path d="M70,18 C78,20 86,24 93,30" fill="none" stroke="#dadada" stroke-width="2.2" stroke-linecap="round"/><path d="M38,69 C55,68 75,64 94,57" fill="none" stroke="#d2d2d2" stroke-width="3" stroke-linecap="round"/></g></g></g><circle cx="138.2" cy="374.3" r="0.84" fill="#a89ae8" opacity="0.45"/><circle cx="151.3" cy="374.3" r="0.88" fill="#a89ae8" opacity="0.45"/><circle cx="113.9" cy="366.6" r="1" fill="#5113c8"/><circle cx="139.2" cy="378.8" r="0.63" fill="#a89ae8" opacity="0.45"/><circle cx="131.9" cy="360.4" r="0.84" fill="#330eb1"/><circle cx="136.2" cy="353.9" r="0.79" fill="#310eaf"/><circle cx="144" cy="358" r="0.88" fill="#2e0ead"/><circle cx="118.4" cy="370.8" r="0.8" fill="#4110be"/><circle cx="121.3" cy="359.6" r="0.99" fill="#4911c6"/><circle cx="148.4" cy="361.6" r="0.89" fill="#a89ae8" opacity="0.45"/><circle cx="134.8" cy="372.5" r="0.76" fill="#2d0dab"/><circle cx="124.9" cy="363.7" r="0.78" fill="#370fb4"/><circle cx="125" cy="370.4" r="0.74" fill="#350fb3"/><circle cx="140.4" cy="363" r="0.69" fill="#a89ae8" opacity="0.45"/><circle cx="146.2" cy="367" r="0.69" fill="#a89ae8" opacity="0.45"/><circle cx="144.9" cy="363.8" r="0.77" fill="#a89ae8" opacity="0.45"/><circle cx="120.7" cy="374.7" r="0.96" fill="#4210c0"/><circle cx="143.3" cy="375.9" r="0.86" fill="#a89ae8" opacity="0.45"/><circle cx="116.4" cy="363.1" r="0.91" fill="#4811c5"/><circle cx="150.5" cy="368.8" r="0.69" fill="#a89ae8" opacity="0.45"/><circle cx="125.6" cy="358.5" r="0.78" fill="#3c10ba"/><circle cx="134.5" cy="364.9" r="0.77" fill="#2d0dab"/><circle cx="142.6" cy="380.2" r="0.79" fill="#a89ae8" opacity="0.45"/><circle cx="131.2" cy="381.6" r="0.91" fill="#340eb2"/><circle cx="129.2" cy="357.6" r="0.83" fill="#390fb7"/><circle cx="138.3" cy="367.5" r="0.7" fill="#a89ae8" opacity="0.45"/><circle cx="127.5" cy="375.6" r="0.9" fill="#380fb6"/><circle cx="141.1" cy="372.2" r="0.83" fill="#a89ae8" opacity="0.45"/><circle cx="124.2" cy="367.1" r="0.91" fill="#3c10ba"/><circle cx="146.1" cy="371.7" r="0.84" fill="#a89ae8" opacity="0.45"/><circle cx="133.9" cy="368.4" r="0.75" fill="#2d0dab"/><circle cx="129.9" cy="371" r="0.9" fill="#350fb3"/><circle cx="117.4" cy="376.9" r="0.86" fill="#4411c2"/><circle cx="114.2" cy="370.7" r="0.81" fill="#4911c6"/><circle cx="137.9" cy="357.5" r="0.85" fill="#300eae"/><circle cx="124.6" cy="380.8" r="0.83" fill="#390fb6"/><circle cx="137.1" cy="360.8" r="0.89" fill="#a89ae8" opacity="0.45"/><circle cx="118.5" cy="366.9" r="0.89" fill="#4311c1"/><circle cx="141.4" cy="354.9" r="0.91" fill="#300eae"/><circle cx="130.4" cy="377.4" r="0.84" fill="#330eb1"/><circle cx="127.8" cy="379.8" r="0.88" fill="#370fb5"/><circle cx="152.5" cy="363.7" r="0.69" fill="#a89ae8" opacity="0.45"/><circle cx="135.1" cy="381.3" r="0.83" fill="#2f0ead"/><circle cx="147.1" cy="377.4" r="0.79" fill="#a89ae8" opacity="0.45"/><circle cx="128.1" cy="353.8" r="0.93" fill="#4511c2"/><circle cx="128.6" cy="362.4" r="0.73" fill="#310eaf"/><circle cx="134.7" cy="375.9" r="0.79" fill="#2e0eac"/><circle cx="123.9" cy="373.6" r="0.76" fill="#370fb5"/><circle cx="116.8" cy="358.9" r="0.84" fill="#5213c8"/><circle cx="121.1" cy="364" r="0.86" fill="#3e10bc"/><circle cx="130.8" cy="366.8" r="0.74" fill="#2f0ead"/><circle cx="142.8" cy="368.4" r="0.72" fill="#a89ae8" opacity="0.45"/><circle cx="121.1" cy="356" r="0.95" fill="#5514c9"/><circle cx="133.4" cy="356.4" r="0.85" fill="#340eb2"/><circle cx="140.9" cy="359.6" r="0.72" fill="#a89ae8" opacity="0.45"/><circle cx="124.4" cy="354.5" r="1.03" fill="#5314c9"/><circle cx="149.3" cy="365.4" r="0.6" fill="#a89ae8" opacity="0.45"/><circle cx="124" cy="377" r="0.87" fill="#3b0fb9"/><g transform="translate(110.9,389) scale(0.45,0.45)"><path d="M0.1,46.1 C0.2,43.9 0.9,40.1 2,36.7 C3.1,33.3 4.7,28.9 6.8,25.5 C8.9,22.1 11.6,18.9 14.5,16.1 C17.4,13.3 20.6,10.8 24.1,8.6 C27.6,6.4 31.5,4.3 35.6,3 C39.8,1.7 44.9,1.2 49,0.8 C53.1,0.4 56.7,0.4 60.5,0.8 C64.3,1.2 68.5,1.8 72,3 C75.5,4.2 78.7,5.8 81.6,7.7 C84.5,9.6 87.1,11.8 89.3,14.3 C91.5,16.8 93.5,19.8 95,22.7 C96.5,25.6 97.8,29 98.5,32 C99.2,35 99.5,37.9 99.4,40.5 C99.3,43.1 98.8,45.7 97.9,47.9 C97,50.1 95.6,52 94,53.5 C92.4,55 90.7,56.1 88.3,56.9 C85.9,57.7 82.4,58 79.7,58.2 C77,58.4 73.9,57.9 72,58.2 C70.1,58.5 69,59 68.2,60.1 C67.4,61.2 67.7,63.4 67.2,64.8 C66.7,66.2 66.4,67.6 65.3,68.5 C64.2,69.4 62.2,70 60.5,70 C58.8,70 56.7,69.4 54.8,68.5 C52.9,67.6 51.2,66 49,64.8 C46.8,63.5 44.2,62.1 41.3,61 C38.4,59.9 35,59 31.8,58.2 C28.6,57.4 25.4,57 22.2,56.4 C19,55.8 15.5,55.1 12.6,54.5 C9.7,53.9 6.8,53.4 4.9,52.6 C3,51.8 1.9,50.9 1.1,49.8 C0.3,48.7 -0,48.3 0.1,46.1Z" fill="url(#bg)" stroke="#cfcfcf" stroke-width="0.6" vector-effect="non-scaling-stroke"/><g clip-path="url(#cmed)"><g filter="url(#sb)"><path d="M22,42 C26,22 50,12 72,14 C87,16 95,26 95,37" fill="none" stroke="#d4d4d4" stroke-width="3.2" stroke-linecap="round"/><path d="M28,42 C32,28 50,22 68,24 C80,26 86,32 84,38 C80,44 70,42 62,39 C50,35 40,39 33,45 C29,47 27,46 28,42Z" fill="none" stroke="#cacaca" stroke-width="1.4" stroke-linecap="round"/><path d="M16,18 C20,27 22,36 22,46" fill="none" stroke="#d0d0d0" stroke-width="2.4" stroke-linecap="round"/><path d="M3,48 C11,46 19,46 26,46" fill="none" stroke="#d2d2d2" stroke-width="2.2" stroke-linecap="round"/><path d="M28,57 C40,52 56,52 70,57" fill="none" stroke="#cccccc" stroke-width="3" stroke-linecap="round"/></g></g></g><circle cx="113.7" cy="409.1" r="1.19" fill="#2e0eac"/><circle cx="114" cy="406.5" r="1.06" fill="#2a0da8"/><circle cx="114.2" cy="404" r="1.15" fill="#2d0dab"/><circle cx="116" cy="401.6" r="1.17" fill="#2e0eac"/><circle cx="117.5" cy="399.4" r="1.18" fill="#2e0eac"/><circle cx="119.1" cy="397.4" r="1.18" fill="#2e0eac"/><circle cx="121.8" cy="396.1" r="1.1" fill="#2d0eac"/><circle cx="123.7" cy="394.5" r="0.88" fill="#350fb3"/><circle cx="125.7" cy="393.1" r="0.92" fill="#3f10bd"/><circle cx="128.4" cy="392.9" r="0.92" fill="#5113c8"/><circle cx="130.8" cy="392.6" r="1.1" fill="#741ccd"/><circle cx="133.2" cy="392.3" r="1.11" fill="#9128ca"/><circle cx="135.9" cy="391.2" r="1.34" fill="#b346b1"/><circle cx="138.1" cy="392.3" r="1.26" fill="#b144b2"/><circle cx="141.1" cy="391.8" r="1.2" fill="#af42b4"/><circle cx="143.1" cy="393.3" r="1.21" fill="#ac40b6"/><circle cx="145.2" cy="394.7" r="1.08" fill="#982ec5"/><circle cx="148" cy="395.7" r="1.09" fill="#992fc4"/><circle cx="149.6" cy="397.8" r="1.1" fill="#8721cf"/><circle cx="150.4" cy="400.2" r="0.92" fill="#5514c9"/><circle cx="151.7" cy="402.6" r="0.9" fill="#3c0fb9"/><circle cx="152.1" cy="405.1" r="0.94" fill="#350fb3"/><circle cx="153.1" cy="407.9" r="0.79" fill="#2e0eac"/><circle cx="151.6" cy="410.3" r="0.77" fill="#2b0da9"/><circle cx="149.9" cy="412.2" r="0.73" fill="#290da7"/><circle cx="147" cy="413.1" r="0.82" fill="#2c0daa"/><circle cx="145.1" cy="413.9" r="0.85" fill="#2d0dab"/><circle cx="125.8" cy="412.8" r="0.71" fill="#280da7"/><circle cx="122.8" cy="413" r="1.2" fill="#2f0ead"/><circle cx="120.3" cy="412.4" r="1.07" fill="#2a0da9"/><circle cx="117.2" cy="412.1" r="1.09" fill="#2b0da9"/><circle cx="114.3" cy="411.4" r="1.23" fill="#2f0eae"/><circle cx="115.4" cy="408.7" r="1.1" fill="#2b0daa"/><circle cx="118.2" cy="404.1" r="1.09" fill="#2b0da9"/><circle cx="121.2" cy="400.7" r="1.06" fill="#2a0da9"/><circle cx="124.5" cy="398.2" r="0.91" fill="#320eb0"/><circle cx="127.7" cy="396.2" r="0.93" fill="#3a0fb8"/><circle cx="131.3" cy="394.9" r="0.96" fill="#4a11c7"/><circle cx="135.1" cy="395.2" r="0.94" fill="#5c16ca"/><circle cx="139.3" cy="394.7" r="1.02" fill="#771dcd"/><circle cx="143.5" cy="396" r="0.85" fill="#5c16ca"/><circle cx="146.3" cy="399.2" r="0.81" fill="#3c10ba"/><circle cx="149" cy="402.9" r="0.89" fill="#310eaf"/><circle cx="150.2" cy="407.4" r="0.71" fill="#2a0da8"/><circle cx="148" cy="411.4" r="0.84" fill="#2c0dab"/><circle cx="120.6" cy="410.6" r="1.14" fill="#2d0dab"/><circle cx="116.4" cy="405.3" r="1.11" fill="#2c0daa"/><circle cx="115.5" cy="404.2" r="1.07" fill="#2a0da9"/><circle cx="120.2" cy="403.5" r="1.15" fill="#2d0dab"/><circle cx="121.4" cy="410.5" r="1.09" fill="#2b0da9"/><circle cx="118.8" cy="403.5" r="1.09" fill="#2b0da9"/><circle cx="117.9" cy="409" r="1.21" fill="#2f0ead"/><circle cx="116.5" cy="399.8" r="1.1" fill="#2b0daa"/><circle cx="114.9" cy="400.1" r="1.18" fill="#2e0eac"/><circle cx="126.7" cy="407.2" r="0.71" fill="#a89ae8" opacity="0.45"/><circle cx="145.1" cy="408.8" r="0.62" fill="#a89ae8" opacity="0.45"/><circle cx="128.5" cy="409.9" r="0.78" fill="#a89ae8" opacity="0.45"/><circle cx="133.6" cy="408" r="0.84" fill="#a89ae8" opacity="0.45"/><circle cx="135.2" cy="404.3" r="0.63" fill="#a89ae8" opacity="0.45"/><circle cx="132.3" cy="400.6" r="0.79" fill="#a89ae8" opacity="0.45"/><circle cx="137.7" cy="400.6" r="0.79" fill="#a89ae8" opacity="0.45"/><circle cx="126.4" cy="400.1" r="0.79" fill="#a89ae8" opacity="0.45"/><circle cx="134.5" cy="409.4" r="0.79" fill="#a89ae8" opacity="0.45"/><circle cx="139.9" cy="400.3" r="0.85" fill="#a89ae8" opacity="0.45"/><circle cx="126.1" cy="406.1" r="0.87" fill="#a89ae8" opacity="0.45"/><circle cx="144.4" cy="409.3" r="0.74" fill="#a89ae8" opacity="0.45"/><circle cx="139.7" cy="408.1" r="0.64" fill="#a89ae8" opacity="0.45"/><circle cx="145.2" cy="409.5" r="0.73" fill="#a89ae8" opacity="0.45"/><text x="130.3" y="432.8" font-size="11.3" font-weight="bold" text-anchor="middle">4.0 y</text><g transform="translate(161.4,351.7) scale(0.45,0.45)"><path d="M0.1,36.1 C0,32.5 0.4,28.8 1.5,25.3 C2.6,21.9 4.6,18.2 6.8,15.4 C9,12.6 11.9,10.3 14.8,8.2 C17.8,6.1 20.8,4.1 24.5,2.7 C28.2,1.3 33.1,0.5 36.9,0 C40.7,-0.5 44,-0.1 47.5,0 C51,0.1 54.7,0.3 58.2,0.9 C61.8,1.5 65.6,2.4 68.8,3.6 C72,4.8 74.8,6.4 77.6,8.2 C80.4,10 83.2,12.2 85.6,14.5 C88,16.8 90,19 91.8,21.7 C93.6,24.4 95,27.7 96.2,30.7 C97.4,33.7 98.3,36.7 98.9,39.7 C99.5,42.7 99.9,46 99.7,48.7 C99.5,51.4 99,54.1 98,55.9 C97,57.7 95.5,58.5 93.6,59.6 C91.7,60.7 89.5,61.4 86.5,62.3 C83.5,63.2 79.5,64.1 75.9,65 C72.4,65.9 68.8,67 65.2,67.7 C61.7,68.5 58.1,69 54.6,69.5 C51.1,70 47,70.4 44,70.4 C41,70.4 38.8,70.1 36.9,69.5 C35,68.9 33.6,68 32.5,66.8 C31.4,65.6 31.2,63.5 30.2,62.3 C29.2,61.1 28.1,60.3 26.3,59.6 C24.5,58.9 21.6,58.6 19.2,58.1 C16.8,57.6 14.4,57.6 12.2,56.8 C10,56 7.7,54.9 6,53.2 C4.3,51.6 2.9,49.8 1.9,46.9 C0.9,44 0.2,39.7 0.1,36.1Z" fill="url(#bg)" stroke="#cfcfcf" stroke-width="0.6" vector-effect="non-scaling-stroke"/><g clip-path="url(#clat)"><g filter="url(#sb)"><path d="M30,53 C38,45 46,37 54,31 C58,28 62,29 66,33 C70,37 74,39 81,41" fill="none" stroke="#d2d2d2" stroke-width="5" stroke-linecap="round"/><path d="M30,53 C38,45 46,37 54,31 C58,28 62,29 66,33 C70,37 74,39 81,41" fill="none" stroke="#b8b8b8" stroke-width="1.6" stroke-linecap="round"/><path d="M37,61 C47,53 57,47 67,45 C75,44 83,45 91,47" fill="none" stroke="#d6d6d6" stroke-width="3" stroke-linecap="round"/><path d="M11,35 C19,29 29,23 41,19" fill="none" stroke="#d8d8d8" stroke-width="2.6" stroke-linecap="round"/><path d="M52,3 C51,10 49,17 46,24" fill="none" stroke="#d6d6d6" stroke-width="2.4" stroke-linecap="round"/><path d="M63,5 C62,12 61,18 60,25" fill="none" stroke="#dadada" stroke-width="2.2" stroke-linecap="round"/><path d="M70,18 C78,20 86,24 93,30" fill="none" stroke="#dadada" stroke-width="2.2" stroke-linecap="round"/><path d="M38,69 C55,68 75,64 94,57" fill="none" stroke="#d2d2d2" stroke-width="3" stroke-linecap="round"/></g></g></g><circle cx="188.7" cy="374.3" r="0.84" fill="#a89ae8" opacity="0.45"/><circle cx="201.8" cy="374.3" r="0.88" fill="#a89ae8" opacity="0.45"/><circle cx="164.4" cy="366.6" r="0.96" fill="#4110be"/><circle cx="189.7" cy="378.8" r="0.63" fill="#a89ae8" opacity="0.45"/><circle cx="182.4" cy="360.4" r="0.83" fill="#2e0ead"/><circle cx="186.7" cy="353.9" r="0.78" fill="#2c0dab"/><circle cx="194.5" cy="358" r="0.88" fill="#2e0eac"/><circle cx="168.9" cy="370.8" r="0.77" fill="#350fb3"/><circle cx="171.8" cy="359.6" r="0.96" fill="#3d10ba"/><circle cx="198.9" cy="361.6" r="0.89" fill="#a89ae8" opacity="0.45"/><circle cx="185.3" cy="372.5" r="0.75" fill="#2a0da9"/><circle cx="175.4" cy="363.7" r="0.76" fill="#2f0eae"/><circle cx="175.5" cy="370.4" r="0.72" fill="#2e0eac"/><circle cx="190.9" cy="363" r="0.69" fill="#a89ae8" opacity="0.45"/><circle cx="196.7" cy="367" r="0.69" fill="#a89ae8" opacity="0.45"/><circle cx="195.4" cy="363.8" r="0.77" fill="#a89ae8" opacity="0.45"/><circle cx="171.2" cy="374.7" r="0.94" fill="#390fb7"/><circle cx="193.8" cy="375.9" r="0.86" fill="#a89ae8" opacity="0.45"/><circle cx="166.9" cy="363.1" r="0.88" fill="#3b0fb9"/><circle cx="201" cy="368.8" r="0.69" fill="#a89ae8" opacity="0.45"/><circle cx="176.1" cy="358.5" r="0.75" fill="#320eb0"/><circle cx="185" cy="364.9" r="0.76" fill="#2b0da9"/><circle cx="193.1" cy="380.2" r="0.79" fill="#a89ae8" opacity="0.45"/><circle cx="181.7" cy="381.6" r="0.9" fill="#300eaf"/><circle cx="179.7" cy="357.6" r="0.81" fill="#320eb0"/><circle cx="188.8" cy="367.5" r="0.7" fill="#a89ae8" opacity="0.45"/><circle cx="178" cy="375.6" r="0.89" fill="#320eb0"/><circle cx="191.6" cy="372.2" r="0.83" fill="#a89ae8" opacity="0.45"/><circle cx="174.7" cy="367.1" r="0.89" fill="#340eb2"/><circle cx="196.6" cy="371.7" r="0.84" fill="#a89ae8" opacity="0.45"/><circle cx="184.4" cy="368.4" r="0.75" fill="#2a0da9"/><circle cx="180.4" cy="371" r="0.88" fill="#310eaf"/><circle cx="167.9" cy="376.9" r="0.82" fill="#380fb6"/><circle cx="164.7" cy="370.7" r="0.77" fill="#3a0fb8"/><circle cx="188.4" cy="357.5" r="0.85" fill="#2d0eac"/><circle cx="175.1" cy="380.8" r="0.81" fill="#310eaf"/><circle cx="187.6" cy="360.8" r="0.89" fill="#a89ae8" opacity="0.45"/><circle cx="169" cy="366.9" r="0.86" fill="#380fb6"/><circle cx="191.9" cy="354.9" r="0.91" fill="#2e0ead"/><circle cx="180.9" cy="377.4" r="0.83" fill="#2e0ead"/><circle cx="178.3" cy="379.8" r="0.87" fill="#310eaf"/><circle cx="203" cy="363.7" r="0.69" fill="#a89ae8" opacity="0.45"/><circle cx="185.6" cy="381.3" r="0.82" fill="#2c0dab"/><circle cx="197.6" cy="377.4" r="0.79" fill="#a89ae8" opacity="0.45"/><circle cx="178.6" cy="353.8" r="0.88" fill="#390fb7"/><circle cx="179.1" cy="362.4" r="0.72" fill="#2c0daa"/><circle cx="185.2" cy="375.9" r="0.79" fill="#2b0daa"/><circle cx="174.4" cy="373.6" r="0.74" fill="#2f0eae"/><circle cx="167.3" cy="358.9" r="0.8" fill="#3f10bd"/><circle cx="171.6" cy="364" r="0.83" fill="#350fb3"/><circle cx="181.3" cy="366.8" r="0.73" fill="#2b0da9"/><circle cx="193.3" cy="368.4" r="0.72" fill="#a89ae8" opacity="0.45"/><circle cx="171.6" cy="356" r="0.88" fill="#4110be"/><circle cx="183.9" cy="356.4" r="0.83" fill="#2f0ead"/><circle cx="191.4" cy="359.6" r="0.72" fill="#a89ae8" opacity="0.45"/><circle cx="174.9" cy="354.5" r="0.98" fill="#4110bf"/><circle cx="199.8" cy="365.4" r="0.6" fill="#a89ae8" opacity="0.45"/><circle cx="174.5" cy="377" r="0.85" fill="#330eb1"/><g transform="translate(161.4,389) scale(0.45,0.45)"><path d="M0.1,46.1 C0.2,43.9 0.9,40.1 2,36.7 C3.1,33.3 4.7,28.9 6.8,25.5 C8.9,22.1 11.6,18.9 14.5,16.1 C17.4,13.3 20.6,10.8 24.1,8.6 C27.6,6.4 31.5,4.3 35.6,3 C39.8,1.7 44.9,1.2 49,0.8 C53.1,0.4 56.7,0.4 60.5,0.8 C64.3,1.2 68.5,1.8 72,3 C75.5,4.2 78.7,5.8 81.6,7.7 C84.5,9.6 87.1,11.8 89.3,14.3 C91.5,16.8 93.5,19.8 95,22.7 C96.5,25.6 97.8,29 98.5,32 C99.2,35 99.5,37.9 99.4,40.5 C99.3,43.1 98.8,45.7 97.9,47.9 C97,50.1 95.6,52 94,53.5 C92.4,55 90.7,56.1 88.3,56.9 C85.9,57.7 82.4,58 79.7,58.2 C77,58.4 73.9,57.9 72,58.2 C70.1,58.5 69,59 68.2,60.1 C67.4,61.2 67.7,63.4 67.2,64.8 C66.7,66.2 66.4,67.6 65.3,68.5 C64.2,69.4 62.2,70 60.5,70 C58.8,70 56.7,69.4 54.8,68.5 C52.9,67.6 51.2,66 49,64.8 C46.8,63.5 44.2,62.1 41.3,61 C38.4,59.9 35,59 31.8,58.2 C28.6,57.4 25.4,57 22.2,56.4 C19,55.8 15.5,55.1 12.6,54.5 C9.7,53.9 6.8,53.4 4.9,52.6 C3,51.8 1.9,50.9 1.1,49.8 C0.3,48.7 -0,48.3 0.1,46.1Z" fill="url(#bg)" stroke="#cfcfcf" stroke-width="0.6" vector-effect="non-scaling-stroke"/><g clip-path="url(#cmed)"><g filter="url(#sb)"><path d="M22,42 C26,22 50,12 72,14 C87,16 95,26 95,37" fill="none" stroke="#d4d4d4" stroke-width="3.2" stroke-linecap="round"/><path d="M28,42 C32,28 50,22 68,24 C80,26 86,32 84,38 C80,44 70,42 62,39 C50,35 40,39 33,45 C29,47 27,46 28,42Z" fill="none" stroke="#cacaca" stroke-width="1.4" stroke-linecap="round"/><path d="M16,18 C20,27 22,36 22,46" fill="none" stroke="#d0d0d0" stroke-width="2.4" stroke-linecap="round"/><path d="M3,48 C11,46 19,46 26,46" fill="none" stroke="#d2d2d2" stroke-width="2.2" stroke-linecap="round"/><path d="M28,57 C40,52 56,52 70,57" fill="none" stroke="#cccccc" stroke-width="3" stroke-linecap="round"/></g></g></g><circle cx="164.2" cy="409.1" r="1.19" fill="#2e0eac"/><circle cx="164.5" cy="406.5" r="1.06" fill="#290da8"/><circle cx="164.7" cy="404" r="1.15" fill="#2c0dab"/><circle cx="166.5" cy="401.6" r="1.17" fill="#2d0dab"/><circle cx="168" cy="399.4" r="1.17" fill="#2d0eac"/><circle cx="169.6" cy="397.4" r="1.18" fill="#2d0eac"/><circle cx="172.3" cy="396.1" r="1.1" fill="#2c0daa"/><circle cx="174.2" cy="394.5" r="0.87" fill="#310eaf"/><circle cx="176.2" cy="393.1" r="0.88" fill="#370fb5"/><circle cx="178.9" cy="392.9" r="0.87" fill="#4210bf"/><circle cx="181.3" cy="392.6" r="1.03" fill="#5a15c9"/><circle cx="183.7" cy="392.3" r="1.03" fill="#741ccd"/><circle cx="186.4" cy="391.2" r="1.23" fill="#982ec5"/><circle cx="188.6" cy="392.3" r="1.15" fill="#952cc7"/><circle cx="191.6" cy="391.8" r="1.1" fill="#932ac8"/><circle cx="193.6" cy="393.3" r="1.11" fill="#9128ca"/><circle cx="195.7" cy="394.7" r="1.01" fill="#7c1ece"/><circle cx="198.5" cy="395.7" r="1.03" fill="#7e1fce"/><circle cx="200.1" cy="397.8" r="1.04" fill="#6a19cb"/><circle cx="200.9" cy="400.2" r="0.88" fill="#4411c1"/><circle cx="202.2" cy="402.6" r="0.88" fill="#350fb3"/><circle cx="202.6" cy="405.1" r="0.93" fill="#320eb0"/><circle cx="203.6" cy="407.9" r="0.79" fill="#2c0daa"/><circle cx="202.1" cy="410.3" r="0.77" fill="#2a0da9"/><circle cx="200.4" cy="412.2" r="0.72" fill="#280da7"/><circle cx="197.5" cy="413.1" r="0.82" fill="#2b0daa"/><circle cx="195.6" cy="413.9" r="0.85" fill="#2c0dab"/><circle cx="176.3" cy="412.8" r="0.71" fill="#280da6"/><circle cx="173.3" cy="413" r="1.2" fill="#2e0eac"/><circle cx="170.8" cy="412.4" r="1.07" fill="#2a0da8"/><circle cx="167.7" cy="412.1" r="1.09" fill="#2a0da9"/><circle cx="164.8" cy="411.4" r="1.22" fill="#2f0ead"/><circle cx="165.9" cy="408.7" r="1.1" fill="#2b0da9"/><circle cx="168.7" cy="404.1" r="1.09" fill="#2a0da9"/><circle cx="171.7" cy="400.7" r="1.06" fill="#2a0da8"/><circle cx="175" cy="398.2" r="0.9" fill="#300eae"/><circle cx="178.2" cy="396.2" r="0.92" fill="#340eb2"/><circle cx="181.8" cy="394.9" r="0.93" fill="#3f10bd"/><circle cx="185.6" cy="395.2" r="0.9" fill="#4811c5"/><circle cx="189.8" cy="394.7" r="0.97" fill="#5c16ca"/><circle cx="194" cy="396" r="0.81" fill="#4711c4"/><circle cx="196.8" cy="399.2" r="0.79" fill="#340eb2"/><circle cx="199.5" cy="402.9" r="0.88" fill="#2f0ead"/><circle cx="200.7" cy="407.4" r="0.71" fill="#280da7"/><circle cx="198.5" cy="411.4" r="0.83" fill="#2c0daa"/><circle cx="171.1" cy="410.6" r="1.14" fill="#2c0daa"/><circle cx="166.9" cy="405.3" r="1.11" fill="#2b0daa"/><circle cx="166" cy="404.2" r="1.07" fill="#2a0da8"/><circle cx="170.7" cy="403.5" r="1.15" fill="#2c0dab"/><circle cx="171.9" cy="410.5" r="1.09" fill="#2a0da9"/><circle cx="169.3" cy="403.5" r="1.09" fill="#2a0da9"/><circle cx="168.4" cy="409" r="1.21" fill="#2e0ead"/><circle cx="167" cy="399.8" r="1.1" fill="#2b0da9"/><circle cx="165.4" cy="400.1" r="1.17" fill="#2d0eac"/><circle cx="177.2" cy="407.2" r="0.71" fill="#a89ae8" opacity="0.45"/><circle cx="195.6" cy="408.8" r="0.62" fill="#a89ae8" opacity="0.45"/><circle cx="179" cy="409.9" r="0.78" fill="#a89ae8" opacity="0.45"/><circle cx="184.1" cy="408" r="0.84" fill="#a89ae8" opacity="0.45"/><circle cx="185.7" cy="404.3" r="0.63" fill="#a89ae8" opacity="0.45"/><circle cx="182.8" cy="400.6" r="0.79" fill="#a89ae8" opacity="0.45"/><circle cx="188.2" cy="400.6" r="0.79" fill="#a89ae8" opacity="0.45"/><circle cx="176.9" cy="400.1" r="0.79" fill="#a89ae8" opacity="0.45"/><circle cx="185" cy="409.4" r="0.79" fill="#a89ae8" opacity="0.45"/><circle cx="190.4" cy="400.3" r="0.85" fill="#a89ae8" opacity="0.45"/><circle cx="176.6" cy="406.1" r="0.87" fill="#a89ae8" opacity="0.45"/><circle cx="194.9" cy="409.3" r="0.74" fill="#a89ae8" opacity="0.45"/><circle cx="190.2" cy="408.1" r="0.64" fill="#a89ae8" opacity="0.45"/><circle cx="195.7" cy="409.5" r="0.73" fill="#a89ae8" opacity="0.45"/><text x="180.5" y="432.8" font-size="11.3" font-weight="bold" text-anchor="middle">5.0 y</text><g transform="translate(211.9,351.7) scale(0.45,0.45)"><path d="M0.1,36.1 C0,32.5 0.4,28.8 1.5,25.3 C2.6,21.9 4.6,18.2 6.8,15.4 C9,12.6 11.9,10.3 14.8,8.2 C17.8,6.1 20.8,4.1 24.5,2.7 C28.2,1.3 33.1,0.5 36.9,0 C40.7,-0.5 44,-0.1 47.5,0 C51,0.1 54.7,0.3 58.2,0.9 C61.8,1.5 65.6,2.4 68.8,3.6 C72,4.8 74.8,6.4 77.6,8.2 C80.4,10 83.2,12.2 85.6,14.5 C88,16.8 90,19 91.8,21.7 C93.6,24.4 95,27.7 96.2,30.7 C97.4,33.7 98.3,36.7 98.9,39.7 C99.5,42.7 99.9,46 99.7,48.7 C99.5,51.4 99,54.1 98,55.9 C97,57.7 95.5,58.5 93.6,59.6 C91.7,60.7 89.5,61.4 86.5,62.3 C83.5,63.2 79.5,64.1 75.9,65 C72.4,65.9 68.8,67 65.2,67.7 C61.7,68.5 58.1,69 54.6,69.5 C51.1,70 47,70.4 44,70.4 C41,70.4 38.8,70.1 36.9,69.5 C35,68.9 33.6,68 32.5,66.8 C31.4,65.6 31.2,63.5 30.2,62.3 C29.2,61.1 28.1,60.3 26.3,59.6 C24.5,58.9 21.6,58.6 19.2,58.1 C16.8,57.6 14.4,57.6 12.2,56.8 C10,56 7.7,54.9 6,53.2 C4.3,51.6 2.9,49.8 1.9,46.9 C0.9,44 0.2,39.7 0.1,36.1Z" fill="url(#bg)" stroke="#cfcfcf" stroke-width="0.6" vector-effect="non-scaling-stroke"/><g clip-path="url(#clat)"><g filter="url(#sb)"><path d="M30,53 C38,45 46,37 54,31 C58,28 62,29 66,33 C70,37 74,39 81,41" fill="none" stroke="#d2d2d2" stroke-width="5" stroke-linecap="round"/><path d="M30,53 C38,45 46,37 54,31 C58,28 62,29 66,33 C70,37 74,39 81,41" fill="none" stroke="#b8b8b8" stroke-width="1.6" stroke-linecap="round"/><path d="M37,61 C47,53 57,47 67,45 C75,44 83,45 91,47" fill="none" stroke="#d6d6d6" stroke-width="3" stroke-linecap="round"/><path d="M11,35 C19,29 29,23 41,19" fill="none" stroke="#d8d8d8" stroke-width="2.6" stroke-linecap="round"/><path d="M52,3 C51,10 49,17 46,24" fill="none" stroke="#d6d6d6" stroke-width="2.4" stroke-linecap="round"/><path d="M63,5 C62,12 61,18 60,25" fill="none" stroke="#dadada" stroke-width="2.2" stroke-linecap="round"/><path d="M70,18 C78,20 86,24 93,30" fill="none" stroke="#dadada" stroke-width="2.2" stroke-linecap="round"/><path d="M38,69 C55,68 75,64 94,57" fill="none" stroke="#d2d2d2" stroke-width="3" stroke-linecap="round"/></g></g></g><circle cx="239.2" cy="374.3" r="0.84" fill="#a89ae8" opacity="0.45"/><circle cx="252.3" cy="374.3" r="0.88" fill="#a89ae8" opacity="0.45"/><circle cx="214.9" cy="366.6" r="0.94" fill="#390fb7"/><circle cx="240.2" cy="378.8" r="0.63" fill="#a89ae8" opacity="0.45"/><circle cx="232.9" cy="360.4" r="0.83" fill="#2d0dab"/><circle cx="237.2" cy="353.9" r="0.77" fill="#2b0da9"/><circle cx="245" cy="358" r="0.88" fill="#2d0eac"/><circle cx="219.4" cy="370.8" r="0.75" fill="#2f0eae"/><circle cx="222.3" cy="359.6" r="0.94" fill="#360fb4"/><circle cx="249.4" cy="361.6" r="0.89" fill="#a89ae8" opacity="0.45"/><circle cx="235.8" cy="372.5" r="0.75" fill="#290da8"/><circle cx="225.9" cy="363.7" r="0.75" fill="#2c0daa"/><circle cx="226" cy="370.4" r="0.71" fill="#2b0da9"/><circle cx="241.4" cy="363" r="0.69" fill="#a89ae8" opacity="0.45"/><circle cx="247.2" cy="367" r="0.69" fill="#a89ae8" opacity="0.45"/><circle cx="245.9" cy="363.8" r="0.77" fill="#a89ae8" opacity="0.45"/><circle cx="221.7" cy="374.7" r="0.92" fill="#340eb2"/><circle cx="244.3" cy="375.9" r="0.86" fill="#a89ae8" opacity="0.45"/><circle cx="217.4" cy="363.1" r="0.86" fill="#340eb2"/><circle cx="251.5" cy="368.8" r="0.69" fill="#a89ae8" opacity="0.45"/><circle cx="226.6" cy="358.5" r="0.74" fill="#2d0eac"/><circle cx="235.5" cy="364.9" r="0.76" fill="#2a0da8"/><circle cx="243.6" cy="380.2" r="0.79" fill="#a89ae8" opacity="0.45"/><circle cx="232.2" cy="381.6" r="0.89" fill="#2f0ead"/><circle cx="230.2" cy="357.6" r="0.8" fill="#2e0eac"/><circle cx="239.3" cy="367.5" r="0.7" fill="#a89ae8" opacity="0.45"/><circle cx="228.5" cy="375.6" r="0.88" fill="#2f0eae"/><circle cx="242.1" cy="372.2" r="0.83" fill="#a89ae8" opacity="0.45"/><circle cx="225.2" cy="367.1" r="0.88" fill="#310eaf"/><circle cx="247.1" cy="371.7" r="0.84" fill="#a89ae8" opacity="0.45"/><circle cx="234.9" cy="368.4" r="0.74" fill="#290da8"/><circle cx="230.9" cy="371" r="0.88" fill="#2f0ead"/><circle cx="218.4" cy="376.9" r="0.81" fill="#320eb0"/><circle cx="215.2" cy="370.7" r="0.75" fill="#320eb0"/><circle cx="238.9" cy="357.5" r="0.84" fill="#2c0dab"/><circle cx="225.6" cy="380.8" r="0.8" fill="#2e0eac"/><circle cx="238.1" cy="360.8" r="0.89" fill="#a89ae8" opacity="0.45"/><circle cx="219.5" cy="366.9" r="0.84" fill="#320eb0"/><circle cx="242.4" cy="354.9" r="0.91" fill="#2e0eac"/><circle cx="231.4" cy="377.4" r="0.82" fill="#2d0dab"/><circle cx="228.8" cy="379.8" r="0.86" fill="#2f0ead"/><circle cx="253.5" cy="363.7" r="0.69" fill="#a89ae8" opacity="0.45"/><circle cx="236.1" cy="381.3" r="0.82" fill="#2c0daa"/><circle cx="248.1" cy="377.4" r="0.79" fill="#a89ae8" opacity="0.45"/><circle cx="229.1" cy="353.8" r="0.86" fill="#330eb1"/><circle cx="229.6" cy="362.4" r="0.71" fill="#290da8"/><circle cx="235.7" cy="375.9" r="0.79" fill="#2b0da9"/><circle cx="224.9" cy="373.6" r="0.73" fill="#2c0daa"/><circle cx="217.8" cy="358.9" r="0.77" fill="#360fb4"/><circle cx="222.1" cy="364" r="0.82" fill="#300eae"/><circle cx="231.8" cy="366.8" r="0.73" fill="#290da8"/><circle cx="243.8" cy="368.4" r="0.72" fill="#a89ae8" opacity="0.45"/><circle cx="222.1" cy="356" r="0.85" fill="#370fb5"/><circle cx="234.4" cy="356.4" r="0.82" fill="#2c0dab"/><circle cx="241.9" cy="359.6" r="0.72" fill="#a89ae8" opacity="0.45"/><circle cx="225.4" cy="354.5" r="0.94" fill="#390fb6"/><circle cx="250.3" cy="365.4" r="0.6" fill="#a89ae8" opacity="0.45"/><circle cx="225" cy="377" r="0.84" fill="#2f0eae"/><g transform="translate(211.9,389) scale(0.45,0.45)"><path d="M0.1,46.1 C0.2,43.9 0.9,40.1 2,36.7 C3.1,33.3 4.7,28.9 6.8,25.5 C8.9,22.1 11.6,18.9 14.5,16.1 C17.4,13.3 20.6,10.8 24.1,8.6 C27.6,6.4 31.5,4.3 35.6,3 C39.8,1.7 44.9,1.2 49,0.8 C53.1,0.4 56.7,0.4 60.5,0.8 C64.3,1.2 68.5,1.8 72,3 C75.5,4.2 78.7,5.8 81.6,7.7 C84.5,9.6 87.1,11.8 89.3,14.3 C91.5,16.8 93.5,19.8 95,22.7 C96.5,25.6 97.8,29 98.5,32 C99.2,35 99.5,37.9 99.4,40.5 C99.3,43.1 98.8,45.7 97.9,47.9 C97,50.1 95.6,52 94,53.5 C92.4,55 90.7,56.1 88.3,56.9 C85.9,57.7 82.4,58 79.7,58.2 C77,58.4 73.9,57.9 72,58.2 C70.1,58.5 69,59 68.2,60.1 C67.4,61.2 67.7,63.4 67.2,64.8 C66.7,66.2 66.4,67.6 65.3,68.5 C64.2,69.4 62.2,70 60.5,70 C58.8,70 56.7,69.4 54.8,68.5 C52.9,67.6 51.2,66 49,64.8 C46.8,63.5 44.2,62.1 41.3,61 C38.4,59.9 35,59 31.8,58.2 C28.6,57.4 25.4,57 22.2,56.4 C19,55.8 15.5,55.1 12.6,54.5 C9.7,53.9 6.8,53.4 4.9,52.6 C3,51.8 1.9,50.9 1.1,49.8 C0.3,48.7 -0,48.3 0.1,46.1Z" fill="url(#bg)" stroke="#cfcfcf" stroke-width="0.6" vector-effect="non-scaling-stroke"/><g clip-path="url(#cmed)"><g filter="url(#sb)"><path d="M22,42 C26,22 50,12 72,14 C87,16 95,26 95,37" fill="none" stroke="#d4d4d4" stroke-width="3.2" stroke-linecap="round"/><path d="M28,42 C32,28 50,22 68,24 C80,26 86,32 84,38 C80,44 70,42 62,39 C50,35 40,39 33,45 C29,47 27,46 28,42Z" fill="none" stroke="#cacaca" stroke-width="1.4" stroke-linecap="round"/><path d="M16,18 C20,27 22,36 22,46" fill="none" stroke="#d0d0d0" stroke-width="2.4" stroke-linecap="round"/><path d="M3,48 C11,46 19,46 26,46" fill="none" stroke="#d2d2d2" stroke-width="2.2" stroke-linecap="round"/><path d="M28,57 C40,52 56,52 70,57" fill="none" stroke="#cccccc" stroke-width="3" stroke-linecap="round"/></g></g></g><circle cx="214.7" cy="409.1" r="1.18" fill="#2d0eac"/><circle cx="215" cy="406.5" r="1.06" fill="#290da8"/><circle cx="215.2" cy="404" r="1.15" fill="#2c0dab"/><circle cx="217" cy="401.6" r="1.17" fill="#2d0dab"/><circle cx="218.5" cy="399.4" r="1.17" fill="#2d0dab"/><circle cx="220.1" cy="397.4" r="1.18" fill="#2d0eac"/><circle cx="222.8" cy="396.1" r="1.1" fill="#2b0da9"/><circle cx="224.7" cy="394.5" r="0.86" fill="#2e0ead"/><circle cx="226.7" cy="393.1" r="0.87" fill="#320eb0"/><circle cx="229.4" cy="392.9" r="0.83" fill="#390fb7"/><circle cx="231.8" cy="392.6" r="0.98" fill="#4911c6"/><circle cx="234.2" cy="392.3" r="0.96" fill="#5b16ca"/><circle cx="236.9" cy="391.2" r="1.15" fill="#801fce"/><circle cx="239.1" cy="392.3" r="1.07" fill="#7c1ece"/><circle cx="242.1" cy="391.8" r="1.01" fill="#791dcd"/><circle cx="244.1" cy="393.3" r="1.03" fill="#771dcd"/><circle cx="246.2" cy="394.7" r="0.96" fill="#6318cb"/><circle cx="249" cy="395.7" r="0.98" fill="#6518cb"/><circle cx="250.6" cy="397.8" r="1" fill="#5514c9"/><circle cx="251.4" cy="400.2" r="0.86" fill="#3b0fb9"/><circle cx="252.7" cy="402.6" r="0.87" fill="#310eaf"/><circle cx="253.1" cy="405.1" r="0.92" fill="#300eae"/><circle cx="254.1" cy="407.9" r="0.79" fill="#2b0da9"/><circle cx="252.6" cy="410.3" r="0.77" fill="#2a0da8"/><circle cx="250.9" cy="412.2" r="0.72" fill="#280da7"/><circle cx="248" cy="413.1" r="0.82" fill="#2b0daa"/><circle cx="246.1" cy="413.9" r="0.85" fill="#2c0dab"/><circle cx="226.8" cy="412.8" r="0.71" fill="#280da6"/><circle cx="223.8" cy="413" r="1.2" fill="#2e0eac"/><circle cx="221.3" cy="412.4" r="1.07" fill="#2a0da8"/><circle cx="218.2" cy="412.1" r="1.09" fill="#2a0da9"/><circle cx="215.3" cy="411.4" r="1.22" fill="#2f0ead"/><circle cx="216.4" cy="408.7" r="1.1" fill="#2b0da9"/><circle cx="219.2" cy="404.1" r="1.09" fill="#2a0da9"/><circle cx="222.2" cy="400.7" r="1.06" fill="#290da8"/><circle cx="225.5" cy="398.2" r="0.9" fill="#2f0ead"/><circle cx="228.7" cy="396.2" r="0.91" fill="#310eb0"/><circle cx="232.3" cy="394.9" r="0.92" fill="#380fb6"/><circle cx="236.1" cy="395.2" r="0.87" fill="#3e10bc"/><circle cx="240.3" cy="394.7" r="0.94" fill="#4a11c7"/><circle cx="244.5" cy="396" r="0.78" fill="#3d10ba"/><circle cx="247.3" cy="399.2" r="0.78" fill="#300eae"/><circle cx="250" cy="402.9" r="0.88" fill="#2e0eac"/><circle cx="251.2" cy="407.4" r="0.71" fill="#280da6"/><circle cx="249" cy="411.4" r="0.83" fill="#2c0daa"/><circle cx="221.6" cy="410.6" r="1.14" fill="#2c0daa"/><circle cx="217.4" cy="405.3" r="1.11" fill="#2b0da9"/><circle cx="216.5" cy="404.2" r="1.07" fill="#2a0da8"/><circle cx="221.2" cy="403.5" r="1.15" fill="#2c0dab"/><circle cx="222.4" cy="410.5" r="1.09" fill="#2a0da9"/><circle cx="219.8" cy="403.5" r="1.09" fill="#2a0da9"/><circle cx="218.9" cy="409" r="1.21" fill="#2e0ead"/><circle cx="217.5" cy="399.8" r="1.1" fill="#2b0da9"/><circle cx="215.9" cy="400.1" r="1.17" fill="#2d0dab"/><circle cx="227.7" cy="407.2" r="0.71" fill="#a89ae8" opacity="0.45"/><circle cx="246.1" cy="408.8" r="0.62" fill="#a89ae8" opacity="0.45"/><circle cx="229.5" cy="409.9" r="0.78" fill="#a89ae8" opacity="0.45"/><circle cx="234.6" cy="408" r="0.84" fill="#a89ae8" opacity="0.45"/><circle cx="236.2" cy="404.3" r="0.63" fill="#a89ae8" opacity="0.45"/><circle cx="233.3" cy="400.6" r="0.79" fill="#a89ae8" opacity="0.45"/><circle cx="238.7" cy="400.6" r="0.79" fill="#a89ae8" opacity="0.45"/><circle cx="227.4" cy="400.1" r="0.79" fill="#a89ae8" opacity="0.45"/><circle cx="235.5" cy="409.4" r="0.79" fill="#a89ae8" opacity="0.45"/><circle cx="240.9" cy="400.3" r="0.85" fill="#a89ae8" opacity="0.45"/><circle cx="227.1" cy="406.1" r="0.87" fill="#a89ae8" opacity="0.45"/><circle cx="245.4" cy="409.3" r="0.74" fill="#a89ae8" opacity="0.45"/><circle cx="240.7" cy="408.1" r="0.64" fill="#a89ae8" opacity="0.45"/><circle cx="246.2" cy="409.5" r="0.73" fill="#a89ae8" opacity="0.45"/><text x="230.8" y="432.8" font-size="11.3" font-weight="bold" text-anchor="middle">6.0 y</text><g transform="translate(262.4,351.7) scale(0.45,0.45)"><path d="M0.1,36.1 C0,32.5 0.4,28.8 1.5,25.3 C2.6,21.9 4.6,18.2 6.8,15.4 C9,12.6 11.9,10.3 14.8,8.2 C17.8,6.1 20.8,4.1 24.5,2.7 C28.2,1.3 33.1,0.5 36.9,0 C40.7,-0.5 44,-0.1 47.5,0 C51,0.1 54.7,0.3 58.2,0.9 C61.8,1.5 65.6,2.4 68.8,3.6 C72,4.8 74.8,6.4 77.6,8.2 C80.4,10 83.2,12.2 85.6,14.5 C88,16.8 90,19 91.8,21.7 C93.6,24.4 95,27.7 96.2,30.7 C97.4,33.7 98.3,36.7 98.9,39.7 C99.5,42.7 99.9,46 99.7,48.7 C99.5,51.4 99,54.1 98,55.9 C97,57.7 95.5,58.5 93.6,59.6 C91.7,60.7 89.5,61.4 86.5,62.3 C83.5,63.2 79.5,64.1 75.9,65 C72.4,65.9 68.8,67 65.2,67.7 C61.7,68.5 58.1,69 54.6,69.5 C51.1,70 47,70.4 44,70.4 C41,70.4 38.8,70.1 36.9,69.5 C35,68.9 33.6,68 32.5,66.8 C31.4,65.6 31.2,63.5 30.2,62.3 C29.2,61.1 28.1,60.3 26.3,59.6 C24.5,58.9 21.6,58.6 19.2,58.1 C16.8,57.6 14.4,57.6 12.2,56.8 C10,56 7.7,54.9 6,53.2 C4.3,51.6 2.9,49.8 1.9,46.9 C0.9,44 0.2,39.7 0.1,36.1Z" fill="url(#bg)" stroke="#cfcfcf" stroke-width="0.6" vector-effect="non-scaling-stroke"/><g clip-path="url(#clat)"><g filter="url(#sb)"><path d="M30,53 C38,45 46,37 54,31 C58,28 62,29 66,33 C70,37 74,39 81,41" fill="none" stroke="#d2d2d2" stroke-width="5" stroke-linecap="round"/><path d="M30,53 C38,45 46,37 54,31 C58,28 62,29 66,33 C70,37 74,39 81,41" fill="none" stroke="#b8b8b8" stroke-width="1.6" stroke-linecap="round"/><path d="M37,61 C47,53 57,47 67,45 C75,44 83,45 91,47" fill="none" stroke="#d6d6d6" stroke-width="3" stroke-linecap="round"/><path d="M11,35 C19,29 29,23 41,19" fill="none" stroke="#d8d8d8" stroke-width="2.6" stroke-linecap="round"/><path d="M52,3 C51,10 49,17 46,24" fill="none" stroke="#d6d6d6" stroke-width="2.4" stroke-linecap="round"/><path d="M63,5 C62,12 61,18 60,25" fill="none" stroke="#dadada" stroke-width="2.2" stroke-linecap="round"/><path d="M70,18 C78,20 86,24 93,30" fill="none" stroke="#dadada" stroke-width="2.2" stroke-linecap="round"/><path d="M38,69 C55,68 75,64 94,57" fill="none" stroke="#d2d2d2" stroke-width="3" stroke-linecap="round"/></g></g></g><circle cx="289.7" cy="374.3" r="0.84" fill="#a89ae8" opacity="0.45"/><circle cx="302.8" cy="374.3" r="0.88" fill="#a89ae8" opacity="0.45"/><circle cx="265.4" cy="366.6" r="0.92" fill="#320eb0"/><circle cx="290.7" cy="378.8" r="0.63" fill="#a89ae8" opacity="0.45"/><circle cx="283.4" cy="360.4" r="0.82" fill="#2c0daa"/><circle cx="287.7" cy="353.9" r="0.76" fill="#290da8"/><circle cx="295.5" cy="358" r="0.88" fill="#2d0dab"/><circle cx="269.9" cy="370.8" r="0.74" fill="#2a0da9"/><circle cx="272.8" cy="359.6" r="0.93" fill="#310eaf"/><circle cx="299.9" cy="361.6" r="0.89" fill="#a89ae8" opacity="0.45"/><circle cx="286.3" cy="372.5" r="0.75" fill="#290da7"/><circle cx="276.4" cy="363.7" r="0.74" fill="#290da8"/><circle cx="276.5" cy="370.4" r="0.71" fill="#280da7"/><circle cx="291.9" cy="363" r="0.69" fill="#a89ae8" opacity="0.45"/><circle cx="297.7" cy="367" r="0.69" fill="#a89ae8" opacity="0.45"/><circle cx="296.4" cy="363.8" r="0.77" fill="#a89ae8" opacity="0.45"/><circle cx="272.2" cy="374.7" r="0.91" fill="#300eae"/><circle cx="294.8" cy="375.9" r="0.86" fill="#a89ae8" opacity="0.45"/><circle cx="267.9" cy="363.1" r="0.84" fill="#2e0ead"/><circle cx="302" cy="368.8" r="0.69" fill="#a89ae8" opacity="0.45"/><circle cx="277.1" cy="358.5" r="0.72" fill="#290da8"/><circle cx="286" cy="364.9" r="0.76" fill="#290da8"/><circle cx="294.1" cy="380.2" r="0.79" fill="#a89ae8" opacity="0.45"/><circle cx="282.7" cy="381.6" r="0.89" fill="#2e0eac"/><circle cx="280.7" cy="357.6" r="0.79" fill="#2b0da9"/><circle cx="289.8" cy="367.5" r="0.7" fill="#a89ae8" opacity="0.45"/><circle cx="279" cy="375.6" r="0.88" fill="#2d0eac"/><circle cx="292.6" cy="372.2" r="0.83" fill="#a89ae8" opacity="0.45"/><circle cx="275.7" cy="367.1" r="0.88" fill="#2e0eac"/><circle cx="297.6" cy="371.7" r="0.84" fill="#a89ae8" opacity="0.45"/><circle cx="285.4" cy="368.4" r="0.74" fill="#290da7"/><circle cx="281.4" cy="371" r="0.87" fill="#2d0eac"/><circle cx="268.9" cy="376.9" r="0.79" fill="#2c0dab"/><circle cx="265.7" cy="370.7" r="0.73" fill="#2b0daa"/><circle cx="289.4" cy="357.5" r="0.84" fill="#2c0daa"/><circle cx="276.1" cy="380.8" r="0.79" fill="#2b0da9"/><circle cx="288.6" cy="360.8" r="0.89" fill="#a89ae8" opacity="0.45"/><circle cx="270" cy="366.9" r="0.83" fill="#2d0eac"/><circle cx="292.9" cy="354.9" r="0.91" fill="#2e0eac"/><circle cx="281.9" cy="377.4" r="0.82" fill="#2b0daa"/><circle cx="279.3" cy="379.8" r="0.86" fill="#2d0dab"/><circle cx="304" cy="363.7" r="0.69" fill="#a89ae8" opacity="0.45"/><circle cx="286.6" cy="381.3" r="0.82" fill="#2b0daa"/><circle cx="298.6" cy="377.4" r="0.79" fill="#a89ae8" opacity="0.45"/><circle cx="279.6" cy="353.8" r="0.84" fill="#2d0eac"/><circle cx="280.1" cy="362.4" r="0.71" fill="#280da6"/><circle cx="286.2" cy="375.9" r="0.78" fill="#2a0da9"/><circle cx="275.4" cy="373.6" r="0.72" fill="#290da7"/><circle cx="268.3" cy="358.9" r="0.75" fill="#2d0dab"/><circle cx="272.6" cy="364" r="0.81" fill="#2c0daa"/><circle cx="282.3" cy="366.8" r="0.72" fill="#280da7"/><circle cx="294.3" cy="368.4" r="0.72" fill="#a89ae8" opacity="0.45"/><circle cx="272.6" cy="356" r="0.81" fill="#2e0ead"/><circle cx="284.9" cy="356.4" r="0.81" fill="#2b0da9"/><circle cx="292.4" cy="359.6" r="0.72" fill="#a89ae8" opacity="0.45"/><circle cx="275.9" cy="354.5" r="0.91" fill="#310eaf"/><circle cx="300.8" cy="365.4" r="0.6" fill="#a89ae8" opacity="0.45"/><circle cx="275.5" cy="377" r="0.84" fill="#2d0dab"/><g transform="translate(262.4,389) scale(0.45,0.45)"><path d="M0.1,46.1 C0.2,43.9 0.9,40.1 2,36.7 C3.1,33.3 4.7,28.9 6.8,25.5 C8.9,22.1 11.6,18.9 14.5,16.1 C17.4,13.3 20.6,10.8 24.1,8.6 C27.6,6.4 31.5,4.3 35.6,3 C39.8,1.7 44.9,1.2 49,0.8 C53.1,0.4 56.7,0.4 60.5,0.8 C64.3,1.2 68.5,1.8 72,3 C75.5,4.2 78.7,5.8 81.6,7.7 C84.5,9.6 87.1,11.8 89.3,14.3 C91.5,16.8 93.5,19.8 95,22.7 C96.5,25.6 97.8,29 98.5,32 C99.2,35 99.5,37.9 99.4,40.5 C99.3,43.1 98.8,45.7 97.9,47.9 C97,50.1 95.6,52 94,53.5 C92.4,55 90.7,56.1 88.3,56.9 C85.9,57.7 82.4,58 79.7,58.2 C77,58.4 73.9,57.9 72,58.2 C70.1,58.5 69,59 68.2,60.1 C67.4,61.2 67.7,63.4 67.2,64.8 C66.7,66.2 66.4,67.6 65.3,68.5 C64.2,69.4 62.2,70 60.5,70 C58.8,70 56.7,69.4 54.8,68.5 C52.9,67.6 51.2,66 49,64.8 C46.8,63.5 44.2,62.1 41.3,61 C38.4,59.9 35,59 31.8,58.2 C28.6,57.4 25.4,57 22.2,56.4 C19,55.8 15.5,55.1 12.6,54.5 C9.7,53.9 6.8,53.4 4.9,52.6 C3,51.8 1.9,50.9 1.1,49.8 C0.3,48.7 -0,48.3 0.1,46.1Z" fill="url(#bg)" stroke="#cfcfcf" stroke-width="0.6" vector-effect="non-scaling-stroke"/><g clip-path="url(#cmed)"><g filter="url(#sb)"><path d="M22,42 C26,22 50,12 72,14 C87,16 95,26 95,37" fill="none" stroke="#d4d4d4" stroke-width="3.2" stroke-linecap="round"/><path d="M28,42 C32,28 50,22 68,24 C80,26 86,32 84,38 C80,44 70,42 62,39 C50,35 40,39 33,45 C29,47 27,46 28,42Z" fill="none" stroke="#cacaca" stroke-width="1.4" stroke-linecap="round"/><path d="M16,18 C20,27 22,36 22,46" fill="none" stroke="#d0d0d0" stroke-width="2.4" stroke-linecap="round"/><path d="M3,48 C11,46 19,46 26,46" fill="none" stroke="#d2d2d2" stroke-width="2.2" stroke-linecap="round"/><path d="M28,57 C40,52 56,52 70,57" fill="none" stroke="#cccccc" stroke-width="3" stroke-linecap="round"/></g></g></g><circle cx="265.2" cy="409.1" r="1.18" fill="#2d0eac"/><circle cx="265.5" cy="406.5" r="1.06" fill="#290da8"/><circle cx="265.7" cy="404" r="1.15" fill="#2c0dab"/><circle cx="267.5" cy="401.6" r="1.17" fill="#2d0dab"/><circle cx="269" cy="399.4" r="1.17" fill="#2d0dab"/><circle cx="270.6" cy="397.4" r="1.18" fill="#2d0eac"/><circle cx="273.3" cy="396.1" r="1.1" fill="#2a0da9"/><circle cx="275.2" cy="394.5" r="0.86" fill="#2d0dab"/><circle cx="277.2" cy="393.1" r="0.85" fill="#2e0eac"/><circle cx="279.9" cy="392.9" r="0.8" fill="#300eae"/><circle cx="282.3" cy="392.6" r="0.92" fill="#3a0fb8"/><circle cx="284.7" cy="392.3" r="0.88" fill="#4110bf"/><circle cx="287.4" cy="391.2" r="1.04" fill="#5715c9"/><circle cx="289.6" cy="392.3" r="0.96" fill="#5314c9"/><circle cx="292.6" cy="391.8" r="0.91" fill="#5113c8"/><circle cx="294.6" cy="393.3" r="0.92" fill="#4f13c8"/><circle cx="296.7" cy="394.7" r="0.9" fill="#4511c3"/><circle cx="299.5" cy="395.7" r="0.92" fill="#4611c3"/><circle cx="301.1" cy="397.8" r="0.96" fill="#4010bd"/><circle cx="301.9" cy="400.2" r="0.84" fill="#320eb0"/><circle cx="303.2" cy="402.6" r="0.86" fill="#2e0eac"/><circle cx="303.6" cy="405.1" r="0.92" fill="#2f0ead"/><circle cx="304.6" cy="407.9" r="0.78" fill="#2a0da9"/><circle cx="303.1" cy="410.3" r="0.77" fill="#2a0da8"/><circle cx="301.4" cy="412.2" r="0.72" fill="#280da7"/><circle cx="298.5" cy="413.1" r="0.82" fill="#2b0daa"/><circle cx="296.6" cy="413.9" r="0.85" fill="#2c0dab"/><circle cx="277.3" cy="412.8" r="0.71" fill="#270da6"/><circle cx="274.3" cy="413" r="1.2" fill="#2e0eac"/><circle cx="271.8" cy="412.4" r="1.07" fill="#2a0da8"/><circle cx="268.7" cy="412.1" r="1.09" fill="#2a0da9"/><circle cx="265.8" cy="411.4" r="1.22" fill="#2f0ead"/><circle cx="266.9" cy="408.7" r="1.1" fill="#2a0da9"/><circle cx="269.7" cy="404.1" r="1.09" fill="#2a0da9"/><circle cx="272.7" cy="400.7" r="1.06" fill="#290da8"/><circle cx="276" cy="398.2" r="0.9" fill="#2e0eac"/><circle cx="279.2" cy="396.2" r="0.9" fill="#2f0ead"/><circle cx="282.8" cy="394.9" r="0.9" fill="#320eb0"/><circle cx="286.6" cy="395.2" r="0.84" fill="#330eb1"/><circle cx="290.8" cy="394.7" r="0.9" fill="#3a0fb8"/><circle cx="295" cy="396" r="0.75" fill="#310eaf"/><circle cx="297.8" cy="399.2" r="0.77" fill="#2b0daa"/><circle cx="300.5" cy="402.9" r="0.88" fill="#2d0eac"/><circle cx="301.7" cy="407.4" r="0.71" fill="#280da6"/><circle cx="299.5" cy="411.4" r="0.83" fill="#2c0daa"/><circle cx="272.1" cy="410.6" r="1.14" fill="#2c0daa"/><circle cx="267.9" cy="405.3" r="1.11" fill="#2b0da9"/><circle cx="267" cy="404.2" r="1.07" fill="#2a0da8"/><circle cx="271.7" cy="403.5" r="1.15" fill="#2c0dab"/><circle cx="272.9" cy="410.5" r="1.09" fill="#2a0da9"/><circle cx="270.3" cy="403.5" r="1.09" fill="#2a0da9"/><circle cx="269.4" cy="409" r="1.21" fill="#2e0eac"/><circle cx="268" cy="399.8" r="1.1" fill="#2b0da9"/><circle cx="266.4" cy="400.1" r="1.17" fill="#2d0dab"/><circle cx="278.2" cy="407.2" r="0.71" fill="#a89ae8" opacity="0.45"/><circle cx="296.6" cy="408.8" r="0.62" fill="#a89ae8" opacity="0.45"/><circle cx="280" cy="409.9" r="0.78" fill="#a89ae8" opacity="0.45"/><circle cx="285.1" cy="408" r="0.84" fill="#a89ae8" opacity="0.45"/><circle cx="286.7" cy="404.3" r="0.63" fill="#a89ae8" opacity="0.45"/><circle cx="283.8" cy="400.6" r="0.79" fill="#a89ae8" opacity="0.45"/><circle cx="289.2" cy="400.6" r="0.79" fill="#a89ae8" opacity="0.45"/><circle cx="277.9" cy="400.1" r="0.79" fill="#a89ae8" opacity="0.45"/><circle cx="286" cy="409.4" r="0.79" fill="#a89ae8" opacity="0.45"/><circle cx="291.4" cy="400.3" r="0.85" fill="#a89ae8" opacity="0.45"/><circle cx="277.6" cy="406.1" r="0.87" fill="#a89ae8" opacity="0.45"/><circle cx="295.9" cy="409.3" r="0.74" fill="#a89ae8" opacity="0.45"/><circle cx="291.2" cy="408.1" r="0.64" fill="#a89ae8" opacity="0.45"/><circle cx="296.7" cy="409.5" r="0.73" fill="#a89ae8" opacity="0.45"/><text x="281" y="432.8" font-size="11.3" font-weight="bold" text-anchor="middle">8.0 y</text><text x="85.8" y="451.8" font-size="9.6" font-weight="bold" textLength="13.4" lengthAdjust="spacingAndGlyphs">0.1</text><circle cx="108" cy="447.8" r="5.1" fill="#1f0c9e"/><circle cx="119.2" cy="447.8" r="5.1" fill="#4b12c8"/><circle cx="130.5" cy="447.8" r="5.1" fill="#8a22d0"/><circle cx="141.8" cy="447.8" r="5.1" fill="#b548b0"/><circle cx="153" cy="447.8" r="5.1" fill="#e06272"/><circle cx="164.2" cy="447.8" r="5.1" fill="#f08250"/><circle cx="175.5" cy="447.8" r="5.1" fill="#f4aa40"/><circle cx="186.8" cy="447.8" r="5.1" fill="#e8d24a"/><circle cx="198" cy="447.8" r="5.1" fill="#e6f040"/><text x="207.3" y="451.8" font-size="9.6" font-weight="bold" textLength="10.5" lengthAdjust="spacingAndGlyphs">12</text><text x="316.5" y="243.7" font-size="20.5" font-weight="bold" textLength="14" lengthAdjust="spacingAndGlyphs">D</text><text x="356" y="242.8" font-size="12.6" font-weight="bold" textLength="293" lengthAdjust="spacingAndGlyphs">Rates of change in nodal efficiency at class level</text><text x="345.1" y="260.4" font-size="10.2" font-weight="bold" textLength="133.9" lengthAdjust="spacingAndGlyphs">Critical phases (white lines)</text><rect x="354.6" y="269.1" width="111.2" height="161.5" fill="#5a16c4"/><rect x="354.6" y="269.1" width="111.2" height="1.13" fill="url(#gPS0)"/><rect x="354.6" y="269.93" width="111.2" height="1.13" fill="url(#gPS1)"/><rect x="354.6" y="270.77" width="111.2" height="1.13" fill="url(#gPS2)"/><rect x="354.6" y="271.6" width="111.2" height="11.5" fill="url(#rPS)"/><rect x="354.6" y="283.1" width="111.2" height="1.09" fill="url(#gPM0)"/><rect x="354.6" y="283.89" width="111.2" height="1.09" fill="url(#gPM1)"/><rect x="354.6" y="284.68" width="111.2" height="1.09" fill="url(#gPM2)"/><rect x="354.6" y="285.46" width="111.2" height="1.09" fill="url(#gPM3)"/><rect x="354.6" y="286.25" width="111.2" height="1.09" fill="url(#gPM4)"/><rect x="354.6" y="287.04" width="111.2" height="1.09" fill="url(#gPM5)"/><rect x="354.6" y="287.82" width="111.2" height="1.09" fill="url(#gPM6)"/><rect x="354.6" y="288.61" width="111.2" height="1.09" fill="url(#gPM7)"/><rect x="354.6" y="289.4" width="111.2" height="12.9" fill="url(#rPM)"/><rect x="354.6" y="302.3" width="111.2" height="1.15" fill="url(#gPSS0)"/><rect x="354.6" y="303.15" width="111.2" height="1.15" fill="url(#gPSS1)"/><rect x="354.6" y="304.01" width="111.2" height="1.15" fill="url(#gPSS2)"/><rect x="354.6" y="304.86" width="111.2" height="1.15" fill="url(#gPSS3)"/><rect x="354.6" y="305.72" width="111.2" height="1.15" fill="url(#gPSS4)"/><rect x="354.6" y="306.57" width="111.2" height="1.15" fill="url(#gPSS5)"/><rect x="354.6" y="307.42" width="111.2" height="1.15" fill="url(#gPSS6)"/><rect x="354.6" y="308.28" width="111.2" height="1.15" fill="url(#gPSS7)"/><rect x="354.6" y="309.13" width="111.2" height="1.15" fill="url(#gPSS8)"/><rect x="354.6" y="309.98" width="111.2" height="1.15" fill="url(#gPSS9)"/><rect x="354.6" y="310.84" width="111.2" height="1.15" fill="url(#gPSS10)"/><rect x="354.6" y="311.69" width="111.2" height="1.15" fill="url(#gPSS11)"/><rect x="354.6" y="312.55" width="111.2" height="1.15" fill="url(#gPSS12)"/><rect x="354.6" y="313.4" width="111.2" height="14.4" fill="url(#rPSS)"/><rect x="354.6" y="327.8" width="111.2" height="1.1" fill="url(#gLIM0)"/><rect x="354.6" y="328.6" width="111.2" height="9" fill="url(#rLIM)"/><rect x="354.6" y="337.6" width="111.2" height="1.13" fill="url(#gAC10)"/><rect x="354.6" y="338.43" width="111.2" height="1.13" fill="url(#gAC11)"/><rect x="354.6" y="339.26" width="111.2" height="1.13" fill="url(#gAC12)"/><rect x="354.6" y="340.1" width="111.2" height="1.13" fill="url(#gAC13)"/><rect x="354.6" y="340.93" width="111.2" height="1.13" fill="url(#gAC14)"/><rect x="354.6" y="341.76" width="111.2" height="1.13" fill="url(#gAC15)"/><rect x="354.6" y="342.59" width="111.2" height="1.13" fill="url(#gAC16)"/><rect x="354.6" y="343.42" width="111.2" height="1.13" fill="url(#gAC17)"/><rect x="354.6" y="344.25" width="111.2" height="1.13" fill="url(#gAC18)"/><rect x="354.6" y="345.09" width="111.2" height="1.13" fill="url(#gAC19)"/><rect x="354.6" y="345.92" width="111.2" height="1.13" fill="url(#gAC110)"/><rect x="354.6" y="346.75" width="111.2" height="1.13" fill="url(#gAC111)"/><rect x="354.6" y="347.58" width="111.2" height="1.13" fill="url(#gAC112)"/><rect x="354.6" y="348.41" width="111.2" height="1.13" fill="url(#gAC113)"/><rect x="354.6" y="349.25" width="111.2" height="1.13" fill="url(#gAC114)"/><rect x="354.6" y="350.08" width="111.2" height="1.13" fill="url(#gAC115)"/><rect x="354.6" y="350.91" width="111.2" height="1.13" fill="url(#gAC116)"/><rect x="354.6" y="351.74" width="111.2" height="1.13" fill="url(#gAC117)"/><rect x="354.6" y="352.57" width="111.2" height="1.13" fill="url(#gAC118)"/><rect x="354.6" y="353.4" width="111.2" height="1.13" fill="url(#gAC119)"/><rect x="354.6" y="354.24" width="111.2" height="1.13" fill="url(#gAC120)"/><rect x="354.6" y="355.07" width="111.2" height="1.13" fill="url(#gAC121)"/><rect x="354.6" y="355.9" width="111.2" height="1.13" fill="url(#gAC122)"/><rect x="354.6" y="356.73" width="111.2" height="1.13" fill="url(#gAC123)"/><rect x="354.6" y="357.56" width="111.2" height="1.13" fill="url(#gAC124)"/><rect x="354.6" y="358.4" width="111.2" height="1.13" fill="url(#gAC125)"/><rect x="354.6" y="359.23" width="111.2" height="1.13" fill="url(#gAC126)"/><rect x="354.6" y="360.06" width="111.2" height="1.13" fill="url(#gAC127)"/><rect x="354.6" y="360.89" width="111.2" height="1.13" fill="url(#gAC128)"/><rect x="354.6" y="361.72" width="111.2" height="1.13" fill="url(#gAC129)"/><rect x="354.6" y="362.55" width="111.2" height="1.13" fill="url(#gAC130)"/><rect x="354.6" y="363.39" width="111.2" height="1.13" fill="url(#gAC131)"/><rect x="354.6" y="364.22" width="111.2" height="1.13" fill="url(#gAC132)"/><rect x="354.6" y="365.05" width="111.2" height="1.13" fill="url(#gAC133)"/><rect x="354.6" y="365.88" width="111.2" height="1.13" fill="url(#gAC134)"/><rect x="354.6" y="366.71" width="111.2" height="1.13" fill="url(#gAC135)"/><rect x="354.6" y="367.55" width="111.2" height="1.13" fill="url(#gAC136)"/><rect x="354.6" y="368.38" width="111.2" height="1.13" fill="url(#gAC137)"/><rect x="354.6" y="369.21" width="111.2" height="1.13" fill="url(#gAC138)"/><rect x="354.6" y="370.04" width="111.2" height="1.13" fill="url(#gAC139)"/><rect x="354.6" y="370.87" width="111.2" height="1.13" fill="url(#gAC140)"/><rect x="354.6" y="371.7" width="111.2" height="1.13" fill="url(#gAC141)"/><rect x="354.6" y="372.54" width="111.2" height="1.13" fill="url(#gAC142)"/><rect x="354.6" y="373.37" width="111.2" height="1.13" fill="url(#gAC143)"/><rect x="354.6" y="374.2" width="111.2" height="26" fill="url(#rAC1)"/><rect x="354.6" y="400.2" width="111.2" height="1.14" fill="url(#gAC20)"/><rect x="354.6" y="401.04" width="111.2" height="1.14" fill="url(#gAC21)"/><rect x="354.6" y="401.88" width="111.2" height="1.14" fill="url(#gAC22)"/><rect x="354.6" y="402.73" width="111.2" height="1.14" fill="url(#gAC23)"/><rect x="354.6" y="403.57" width="111.2" height="1.14" fill="url(#gAC24)"/><rect x="354.6" y="404.41" width="111.2" height="1.14" fill="url(#gAC25)"/><rect x="354.6" y="405.25" width="111.2" height="1.14" fill="url(#gAC26)"/><rect x="354.6" y="406.09" width="111.2" height="1.14" fill="url(#gAC27)"/><rect x="354.6" y="406.94" width="111.2" height="1.14" fill="url(#gAC28)"/><rect x="354.6" y="407.78" width="111.2" height="1.14" fill="url(#gAC29)"/><rect x="354.6" y="408.62" width="111.2" height="1.14" fill="url(#gAC210)"/><rect x="354.6" y="409.46" width="111.2" height="1.14" fill="url(#gAC211)"/><rect x="354.6" y="410.31" width="111.2" height="1.14" fill="url(#gAC212)"/><rect x="354.6" y="411.15" width="111.2" height="1.14" fill="url(#gAC213)"/><rect x="354.6" y="411.99" width="111.2" height="1.14" fill="url(#gAC214)"/><rect x="354.6" y="412.83" width="111.2" height="1.14" fill="url(#gAC215)"/><rect x="354.6" y="413.67" width="111.2" height="1.14" fill="url(#gAC216)"/><rect x="354.6" y="414.52" width="111.2" height="1.14" fill="url(#gAC217)"/><rect x="354.6" y="415.36" width="111.2" height="1.14" fill="url(#gAC218)"/><rect x="354.6" y="416.2" width="111.2" height="10.8" fill="url(#rAC2)"/><rect x="354.6" y="427" width="111.2" height="1.2" fill="url(#gINS0)"/><rect x="354.6" y="427.9" width="111.2" height="2.7" fill="url(#rINS)"/><rect x="397" y="269" width="35.44" height="1.13" fill="#ffffff"/><rect x="405.05" y="269.83" width="15.61" height="1.13" fill="#ffffff"/><rect x="405.85" y="270.67" width="26.27" height="1.13" fill="#ffffff"/><path d="M432.12,271.8 H454.7 V282.5 H372.67" fill="none" stroke="#f8f4ff" stroke-width="1"/><rect x="372.67" y="283" width="27.8" height="1.09" fill="#ffffff"/><rect x="400.95" y="283.79" width="5.89" height="1.09" fill="#ffffff"/><rect x="401.31" y="284.57" width="7.07" height="1.09" fill="#ffffff"/><rect x="403.47" y="285.36" width="8.9" height="1.09" fill="#ffffff"/><rect x="403.53" y="286.15" width="13.15" height="1.09" fill="#ffffff"/><rect x="407.13" y="286.94" width="11.21" height="1.09" fill="#ffffff"/><rect x="406.17" y="287.72" width="14.54" height="1.09" fill="#ffffff"/><rect x="408.33" y="288.51" width="15.24" height="1.09" fill="#ffffff"/><path d="M423.57,289.6 H454.7 V301.7 H378.23" fill="none" stroke="#f8f4ff" stroke-width="1"/><rect x="378.23" y="302.2" width="18.07" height="1.15" fill="#ffffff"/><rect x="384.3" y="303.05" width="9.37" height="1.15" fill="#ffffff"/><rect x="385.26" y="303.91" width="5.35" height="1.15" fill="#ffffff"/><rect x="388.97" y="304.76" width="16.98" height="1.15" fill="#ffffff"/><rect x="394.03" y="305.62" width="10.42" height="1.15" fill="#ffffff"/><rect x="396.57" y="306.47" width="10.31" height="1.15" fill="#ffffff"/><rect x="397.2" y="307.32" width="4.87" height="1.15" fill="#ffffff"/><rect x="399.6" y="308.18" width="5.96" height="1.15" fill="#ffffff"/><rect x="404.2" y="309.03" width="10.42" height="1.15" fill="#ffffff"/><rect x="410.67" y="309.88" width="7.82" height="1.15" fill="#ffffff"/><rect x="412.77" y="310.74" width="10.3" height="1.15" fill="#ffffff"/><rect x="413.07" y="311.59" width="7.88" height="1.15" fill="#ffffff"/><rect x="419.67" y="312.45" width="4.87" height="1.15" fill="#ffffff"/><path d="M424.54,313.6 H454.7 V327.2 H376.84" fill="none" stroke="#f8f4ff" stroke-width="1"/><rect x="376.84" y="327.7" width="77.84" height="1.1" fill="#ffffff"/><path d="M454.68,328.8 H454.7 V337 H370.59" fill="none" stroke="#f8f4ff" stroke-width="1"/><rect x="370.59" y="337.5" width="42.39" height="1.13" fill="#ffffff"/><rect x="374.98" y="338.33" width="14" height="1.13" fill="#ffffff"/><rect x="378.29" y="339.16" width="7.35" height="1.13" fill="#ffffff"/><rect x="375.25" y="340" width="38.07" height="1.13" fill="#ffffff"/><rect x="375.9" y="340.83" width="38.24" height="1.13" fill="#ffffff"/><rect x="376.07" y="341.66" width="33.55" height="1.13" fill="#ffffff"/><rect x="387.85" y="342.49" width="18.3" height="1.13" fill="#ffffff"/><rect x="385.17" y="343.32" width="13.49" height="1.13" fill="#ffffff"/><rect x="389.28" y="344.15" width="22.39" height="1.13" fill="#ffffff"/><rect x="385.07" y="344.99" width="20.58" height="1.13" fill="#ffffff"/><rect x="380.55" y="345.82" width="12.41" height="1.13" fill="#ffffff"/><rect x="381.12" y="346.65" width="29.42" height="1.13" fill="#ffffff"/><rect x="384.76" y="347.48" width="30.1" height="1.13" fill="#ffffff"/><rect x="389.78" y="348.31" width="14.48" height="1.13" fill="#ffffff"/><rect x="391.53" y="349.15" width="35.13" height="1.13" fill="#ffffff"/><rect x="386.83" y="349.98" width="20.53" height="1.13" fill="#ffffff"/><rect x="392.31" y="350.81" width="23.03" height="1.13" fill="#ffffff"/><rect x="392.68" y="351.64" width="18.04" height="1.13" fill="#ffffff"/><rect x="388.7" y="352.47" width="21.62" height="1.13" fill="#ffffff"/><rect x="385.17" y="353.3" width="7.39" height="1.13" fill="#ffffff"/><rect x="393.79" y="354.14" width="32.65" height="1.13" fill="#ffffff"/><rect x="385.53" y="354.97" width="8.57" height="1.13" fill="#ffffff"/><rect x="384.65" y="355.8" width="32.75" height="1.13" fill="#ffffff"/><rect x="390.31" y="356.63" width="20.17" height="1.13" fill="#ffffff"/><rect x="391.12" y="357.46" width="17.71" height="1.13" fill="#ffffff"/><rect x="394.47" y="358.3" width="21.1" height="1.13" fill="#ffffff"/><rect x="389.13" y="359.13" width="22.75" height="1.13" fill="#ffffff"/><rect x="393.63" y="359.96" width="5.92" height="1.13" fill="#ffffff"/><rect x="387.56" y="360.79" width="22.21" height="1.13" fill="#ffffff"/><rect x="392.58" y="361.62" width="5.95" height="1.13" fill="#ffffff"/><rect x="388.63" y="362.45" width="13.84" height="1.13" fill="#ffffff"/><rect x="389.61" y="363.29" width="29.07" height="1.13" fill="#ffffff"/><rect x="399.11" y="364.12" width="8.98" height="1.13" fill="#ffffff"/><rect x="395.86" y="364.95" width="15.44" height="1.13" fill="#ffffff"/><rect x="395.14" y="365.78" width="24" height="1.13" fill="#ffffff"/><rect x="390.87" y="366.61" width="25.49" height="1.13" fill="#ffffff"/><rect x="396.34" y="367.45" width="6.6" height="1.13" fill="#ffffff"/><rect x="395.94" y="368.28" width="15.52" height="1.13" fill="#ffffff"/><rect x="398.09" y="369.11" width="15.16" height="1.13" fill="#ffffff"/><rect x="396.12" y="369.94" width="14.57" height="1.13" fill="#ffffff"/><rect x="403.25" y="370.77" width="12.02" height="1.13" fill="#ffffff"/><rect x="393.72" y="371.6" width="19.69" height="1.13" fill="#ffffff"/><rect x="402.03" y="372.44" width="14.95" height="1.13" fill="#ffffff"/><rect x="402.95" y="373.27" width="13.17" height="1.13" fill="#ffffff"/><path d="M416.12,374.4 H454.7 V399.6 H371.98" fill="none" stroke="#f8f4ff" stroke-width="1"/><rect x="371.98" y="400.1" width="15.99" height="1.14" fill="#ffffff"/><rect x="374.54" y="400.94" width="10.84" height="1.14" fill="#ffffff"/><rect x="376.01" y="401.78" width="7.38" height="1.14" fill="#ffffff"/><rect x="379.73" y="402.63" width="8.35" height="1.14" fill="#ffffff"/><rect x="377.78" y="403.47" width="11.37" height="1.14" fill="#ffffff"/><rect x="379.12" y="404.31" width="11.6" height="1.14" fill="#ffffff"/><rect x="382.63" y="405.15" width="10.87" height="1.14" fill="#ffffff"/><rect x="385.63" y="405.99" width="9.37" height="1.14" fill="#ffffff"/><rect x="387.21" y="406.84" width="9.35" height="1.14" fill="#ffffff"/><rect x="387.91" y="407.68" width="6.94" height="1.14" fill="#ffffff"/><rect x="386.99" y="408.52" width="7.12" height="1.14" fill="#ffffff"/><rect x="388.89" y="409.36" width="18.13" height="1.14" fill="#ffffff"/><rect x="392.81" y="410.21" width="6.27" height="1.14" fill="#ffffff"/><rect x="394.56" y="411.05" width="12.38" height="1.14" fill="#ffffff"/><rect x="394.67" y="411.89" width="13.18" height="1.14" fill="#ffffff"/><rect x="399.4" y="412.73" width="11.99" height="1.14" fill="#ffffff"/><rect x="401.35" y="413.57" width="12.03" height="1.14" fill="#ffffff"/><rect x="401.23" y="414.42" width="11.03" height="1.14" fill="#ffffff"/><rect x="399.58" y="415.26" width="8.27" height="1.14" fill="#ffffff"/><path d="M407.85,416.4 H454.7 V426.4 H383.79" fill="none" stroke="#f8f4ff" stroke-width="1"/><rect x="383.79" y="426.9" width="70.89" height="1.2" fill="#ffffff"/><path d="M454.68,428.1 H454.7 V430 H354.6" fill="none" stroke="#f8f4ff" stroke-width="1"/><path d="M352.5,269.5 H350.4 V430.4 H352.5" fill="none" stroke="#111" stroke-width="0.9"/><line x1="350.4" y1="283.1" x2="352.5" y2="283.1" stroke="#111" stroke-width="0.9"/><line x1="350.4" y1="302.3" x2="352.5" y2="302.3" stroke="#111" stroke-width="0.9"/><line x1="350.4" y1="327.8" x2="352.5" y2="327.8" stroke="#111" stroke-width="0.9"/><line x1="350.4" y1="337.6" x2="352.5" y2="337.6" stroke="#111" stroke-width="0.9"/><line x1="350.4" y1="400.2" x2="352.5" y2="400.2" stroke="#111" stroke-width="0.9"/><line x1="350.4" y1="427" x2="352.5" y2="427" stroke="#111" stroke-width="0.9"/><text x="346.7" y="280.6" font-size="10.6" font-weight="bold" text-anchor="end">PS</text><text x="346.7" y="297.3" font-size="10.6" font-weight="bold" text-anchor="end">PM</text><text x="346.7" y="316.6" font-size="10.6" font-weight="bold" text-anchor="end">PSS</text><text x="346.7" y="336.3" font-size="10.6" font-weight="bold" text-anchor="end">LIM</text><text x="346.7" y="370.6" font-size="10.6" font-weight="bold" text-anchor="end">AC1</text><text x="346.7" y="415.5" font-size="10.6" font-weight="bold" text-anchor="end">AC2</text><text x="346.7" y="433" font-size="10.6" font-weight="bold" text-anchor="end">INS</text><text x="354.2" y="441.5" font-size="11" font-weight="bold" text-anchor="middle">0</text><text x="382" y="441.5" font-size="11" font-weight="bold" text-anchor="middle">2</text><text x="413" y="441.5" font-size="11" font-weight="bold" text-anchor="middle">4</text><text x="440.4" y="441.5" font-size="11" font-weight="bold" text-anchor="middle">6</text><text x="464.4" y="441.5" font-size="11" font-weight="bold" text-anchor="middle">8</text><text x="407.7" y="453.5" font-size="11.5" font-weight="bold" text-anchor="middle" textLength="22.5" lengthAdjust="spacingAndGlyphs">Age</text><rect x="468.6" y="269" width="6.8" height="161.7" fill="url(#cbd)" stroke="#aaa" stroke-width="0.4"/><text x="476.7" y="275.4" font-size="9" font-weight="bold">12</text><text x="476.7" y="314.8" font-size="9" font-weight="bold">9.0</text><text x="476.7" y="353.7" font-size="9" font-weight="bold">6.0</text><text x="476.7" y="393.1" font-size="9" font-weight="bold">3.0</text><text x="476.7" y="430.9" font-size="9" font-weight="bold">0</text><line x1="473.8" y1="417.22" x2="475.4" y2="417.22" stroke="#444" stroke-width="0.4"/><line x1="473.8" y1="403.75" x2="475.4" y2="403.75" stroke="#444" stroke-width="0.4"/><line x1="473.8" y1="390.27" x2="475.4" y2="390.27" stroke="#444" stroke-width="0.4"/><line x1="473.8" y1="376.8" x2="475.4" y2="376.8" stroke="#444" stroke-width="0.4"/><line x1="473.8" y1="363.32" x2="475.4" y2="363.32" stroke="#444" stroke-width="0.4"/><line x1="473.8" y1="349.85" x2="475.4" y2="349.85" stroke="#444" stroke-width="0.4"/><line x1="473.8" y1="336.38" x2="475.4" y2="336.38" stroke="#444" stroke-width="0.4"/><line x1="473.8" y1="322.9" x2="475.4" y2="322.9" stroke="#444" stroke-width="0.4"/><line x1="473.8" y1="309.43" x2="475.4" y2="309.43" stroke="#444" stroke-width="0.4"/><line x1="473.8" y1="295.95" x2="475.4" y2="295.95" stroke="#444" stroke-width="0.4"/><line x1="473.8" y1="282.48" x2="475.4" y2="282.48" stroke="#444" stroke-width="0.4"/><text x="530.2" y="260.9" font-size="10.2" font-weight="bold" textLength="140.2" lengthAdjust="spacingAndGlyphs">Mean rates of critical phases</text><rect x="540" y="276.4" width="10.5" height="3.9" fill="#6cc3ea"/><text x="552.7" y="281.4" font-size="9" font-weight="bold" textLength="33.3" lengthAdjust="spacingAndGlyphs">Primary</text><rect x="604.6" y="276.4" width="12.4" height="3.9" fill="#e8c040"/><text x="619.3" y="281.4" font-size="9" font-weight="bold" textLength="51" lengthAdjust="spacingAndGlyphs">Association</text><text x="525.7" y="281.4" font-size="10.5" font-weight="bold" text-anchor="end">6.0</text><text x="526.2" y="353.5" font-size="10.5" font-weight="bold" text-anchor="end">0.3</text><path d="M532,284.2 H530 V349 H532" fill="none" stroke="#222" stroke-width="1.2"/><line x1="530" y1="297.7" x2="531.8" y2="297.7" stroke="#222" stroke-width="0.8"/><line x1="530" y1="311.3" x2="531.8" y2="311.3" stroke="#222" stroke-width="0.8"/><line x1="530" y1="324.4" x2="531.8" y2="324.4" stroke="#222" stroke-width="0.8"/><line x1="530" y1="337.4" x2="531.8" y2="337.4" stroke="#222" stroke-width="0.8"/><path d="M540.6,331.9 L540,334 L539.6,336 L539,338.5 L537.3,340.5 L535.2,342.5 L534.9,343.8 L537.3,345 L540.8,345.3 L540.8,345.3 L544.3,345 L546.7,343.8 L546.4,342.5 L544.3,340.5 L542.6,338.5 L542,336 L541.6,334 L541,331.9Z" fill="#66c2ee" stroke="#8fd2f2" stroke-width="0.5"/><line x1="540.8" y1="331.9" x2="540.8" y2="345" stroke="#9aa8b0" stroke-width="0.35"/><path d="M561.35,308.9 L561.25,320 L560.7,326 L560,330 L559.6,334 L559.2,337.8 L557,340.5 L555.3,342.5 L555.7,344 L558.5,345 L561.5,345.3 L561.5,345.3 L564.5,345 L567.3,344 L567.7,342.5 L566,340.5 L563.8,337.8 L563.4,334 L563,330 L562.3,326 L561.75,320 L561.65,308.9Z" fill="#66c2ee" stroke="#8fd2f2" stroke-width="0.5"/><line x1="561.5" y1="308.9" x2="561.5" y2="345" stroke="#9aa8b0" stroke-width="0.35"/><path d="M581.65,289.9 L581.5,305 L581.2,316.8 L580.6,322 L579.6,328 L578.8,332.6 L577.2,337 L575.8,340.4 L575.2,343 L575.6,344.6 L581.8,345.3 L581.8,345.3 L588,344.6 L588.4,343 L587.8,340.4 L586.4,337 L584.8,332.6 L584,328 L583,322 L582.4,316.8 L582.1,305 L581.95,289.9Z" fill="#66c2ee" stroke="#8fd2f2" stroke-width="0.5"/><line x1="581.8" y1="289.9" x2="581.8" y2="345" stroke="#9aa8b0" stroke-width="0.35"/><path d="M602,341 L599.3,342.6 L596.4,343.6 L597.3,344.5 L602.3,345.2 L602.3,345.2 L607.3,344.5 L608.2,343.6 L605.3,342.6 L602.6,341Z" fill="#66c2ee" stroke="#8fd2f2" stroke-width="0.5"/><line x1="602.3" y1="341" x2="602.3" y2="345" stroke="#9aa8b0" stroke-width="0.35"/><line x1="602.3" y1="328" x2="602.3" y2="341" stroke="#a8c8dc" stroke-width="0.7" stroke-dasharray="1,1.6"/><path d="M622.2,310.1 L622,316 L621.5,322.3 L620.2,326 L617.3,331.3 L616.6,335 L616.2,338 L616.2,341.5 L616.9,344.5 L619.2,346.3 L622.4,346.8 L622.4,346.8 L625.6,346.3 L627.9,344.5 L628.6,341.5 L628.6,338 L628.2,335 L627.5,331.3 L624.6,326 L623.3,322.3 L622.8,316 L622.6,310.1Z" fill="#f5f0b4" stroke="#d8cc78" stroke-width="0.5"/><line x1="622.4" y1="313.1" x2="622.4" y2="345.8" stroke="#8a8a80" stroke-width="0.5" stroke-dasharray="1.2,1"/><path d="M641.7,319.1 L641.3,321 L639.9,326 L638.5,331 L637.5,335 L636.7,339 L636.5,343 L637.5,345.6 L639.7,346.6 L642.7,346.8 L642.7,346.8 L645.7,346.6 L647.9,345.6 L648.9,343 L648.7,339 L647.9,335 L646.9,331 L645.5,326 L644.1,321 L643.7,319.1Z" fill="#f5f0b4" stroke="#d8cc78" stroke-width="0.5"/><line x1="642.7" y1="322.1" x2="642.7" y2="345.8" stroke="#8a8a80" stroke-width="0.5" stroke-dasharray="1.2,1"/><path d="M659.9,322.3 L658.6,323 L657.7,325 L657.1,328 L656.8,331.3 L656.9,335 L657.3,339 L657.8,342 L658.7,344 L660.6,344.7 L663.1,344.8 L663.1,344.8 L665.6,344.7 L667.5,344 L668.4,342 L668.9,339 L669.3,335 L669.4,331.3 L669.1,328 L668.5,325 L667.6,323 L666.3,322.3Z" fill="#f5f0b4" stroke="#d8cc78" stroke-width="0.5"/><line x1="663.1" y1="325.3" x2="663.1" y2="343.8" stroke="#8a8a80" stroke-width="0.5" stroke-dasharray="1.2,1"/><line x1="537.5" y1="341.8" x2="544.1" y2="341.8" stroke="#ee3a3a" stroke-width="1"/><line x1="558.3" y1="339.8" x2="564.7" y2="339.8" stroke="#ee3a3a" stroke-width="1"/><line x1="577.8" y1="338.2" x2="585.8" y2="338.2" stroke="#ee3a3a" stroke-width="1"/><line x1="600.3" y1="342.4" x2="604.3" y2="342.4" stroke="#ee3a3a" stroke-width="1"/><line x1="617.2" y1="337" x2="627.6" y2="337" stroke="#f05a30" stroke-width="1.2"/><line x1="637.3" y1="337.3" x2="648.1" y2="337.3" stroke="#f05a30" stroke-width="1.2"/><line x1="657.1" y1="334.9" x2="669.1" y2="334.9" stroke="#f05a30" stroke-width="1.2"/><circle cx="540.8" cy="348.9" r="0.55" fill="#222"/><circle cx="561.5" cy="348.9" r="0.55" fill="#222"/><circle cx="581.8" cy="348.9" r="0.55" fill="#222"/><circle cx="602.3" cy="348.9" r="0.55" fill="#222"/><circle cx="622.4" cy="348.9" r="0.55" fill="#222"/><circle cx="642.7" cy="348.9" r="0.55" fill="#222"/><circle cx="663.1" cy="348.9" r="0.55" fill="#222"/><text x="540.8" y="359.4" font-size="8.7" font-weight="bold" text-anchor="middle">PS</text><text x="561.5" y="359.4" font-size="8.7" font-weight="bold" text-anchor="middle">PM</text><text x="581.8" y="359.4" font-size="8.7" font-weight="bold" text-anchor="middle">PSS</text><text x="602.3" y="359.4" font-size="8.7" font-weight="bold" text-anchor="middle">LIM</text><text x="622.4" y="359.4" font-size="8.7" font-weight="bold" text-anchor="middle">AC1</text><text x="642.7" y="359.4" font-size="8.7" font-weight="bold" text-anchor="middle">AC2</text><text x="663.1" y="359.4" font-size="8.7" font-weight="bold" text-anchor="middle">INS</text><text x="530.4" y="371.9" font-size="8.6" font-weight="bold" text-anchor="end">PS</text><text x="530.4" y="384.1" font-size="8.6" font-weight="bold" text-anchor="end">PM</text><text x="530.4" y="396.3" font-size="8.6" font-weight="bold" text-anchor="end">PSS</text><text x="530.4" y="408.6" font-size="8.6" font-weight="bold" text-anchor="end">LIM</text><text x="530.4" y="420.8" font-size="8.6" font-weight="bold" text-anchor="end">AC1</text><text x="530.4" y="433.1" font-size="8.6" font-weight="bold" text-anchor="end">AC2</text><text x="530.4" y="445.3" font-size="8.6" font-weight="bold" text-anchor="end">INS</text><circle cx="542.3" cy="369.5" r="4.5" fill="#fff" stroke="#d8d8d8" stroke-width="0.6"/><circle cx="542.3" cy="381.7" r="4.8" fill="#e2e2e2"/><circle cx="561.9" cy="381.7" r="4.5" fill="#fff" stroke="#d8d8d8" stroke-width="0.6"/><circle cx="542.3" cy="393.9" r="4.8" fill="#e2e2e2"/><circle cx="561.9" cy="393.9" r="4.8" fill="#e2e2e2"/><circle cx="581.5" cy="393.9" r="4.5" fill="#fff" stroke="#d8d8d8" stroke-width="0.6"/><circle cx="542.3" cy="406.1" r="4.8" fill="#e2e2e2"/><circle cx="561.9" cy="406.1" r="4.8" fill="#e03464"/><circle cx="581.5" cy="406.1" r="4.8" fill="#f07832"/><circle cx="601.1" cy="406.1" r="4.5" fill="#fff" stroke="#d8d8d8" stroke-width="0.6"/><circle cx="542.3" cy="418.4" r="4.8" fill="#961c5c"/><circle cx="561.9" cy="418.4" r="4.8" fill="#f07e32"/><circle cx="581.5" cy="418.4" r="4.8" fill="#f07e32"/><circle cx="601.1" cy="418.4" r="4.8" fill="#8b1a50"/><circle cx="620.8" cy="418.4" r="4.5" fill="#fff" stroke="#d8d8d8" stroke-width="0.6"/><circle cx="542.3" cy="430.6" r="4.8" fill="#f08a3a"/><circle cx="561.9" cy="430.6" r="4.8" fill="#e2e2e2"/><circle cx="581.5" cy="430.6" r="4.8" fill="#e2e2e2"/><circle cx="601.1" cy="430.6" r="4.8" fill="#f07030"/><circle cx="620.8" cy="430.6" r="4.8" fill="#e2e2e2"/><circle cx="640.4" cy="430.6" r="4.5" fill="#fff" stroke="#d8d8d8" stroke-width="0.6"/><circle cx="542.3" cy="442.8" r="4.8" fill="#f24a2e"/><circle cx="561.9" cy="442.8" r="4.8" fill="#e2e2e2"/><circle cx="581.5" cy="442.8" r="4.8" fill="#e2e2e2"/><circle cx="601.1" cy="442.8" r="4.8" fill="#f03232"/><circle cx="620.8" cy="442.8" r="4.8" fill="#e2e2e2"/><circle cx="640.4" cy="442.8" r="4.8" fill="#e2e2e2"/><circle cx="660.1" cy="442.8" r="4.5" fill="#fff" stroke="#d8d8d8" stroke-width="0.6"/><text x="613" y="378.4" font-size="9.8" font-weight="bold" textLength="34.5" lengthAdjust="spacingAndGlyphs">P value</text><rect x="634.2" y="383.9" width="4.5" height="29.2" fill="url(#pv)" stroke="#cfcfcf" stroke-width="0.4"/><text x="640.9" y="390" font-size="8.2" font-weight="bold">10<tspan dy="-3.4" font-size="5.8">-6</tspan></text><text x="640.9" y="414.1" font-size="8.2" font-weight="bold">10<tspan dy="-3.4" font-size="5.8">-2</tspan></text><text x="0.2" y="472.9" font-size="21.3" font-weight="bold" textLength="13" lengthAdjust="spacingAndGlyphs">E</text><text x="162.7" y="479.8" font-size="12.6" font-weight="bold" textLength="368.7" lengthAdjust="spacingAndGlyphs">Prediction for nodal efficiency at 8 y by nodal rates of change</text><text x="60.4" y="502" font-size="11.8" font-weight="bold" textLength="148.6" lengthAdjust="spacingAndGlyphs">Two-fold cross validations</text><text x="411.7" y="502.2" font-size="11.8" font-weight="bold" textLength="179.5" lengthAdjust="spacingAndGlyphs">Leave-one-out cross validations</text><path d="M40.5,515 V627.5 H95.2" fill="none" stroke="#333" stroke-width="0.9"/><line x1="40.5" y1="515.7" x2="42" y2="515.7" stroke="#333" stroke-width="0.6"/><line x1="40.5" y1="537.75" x2="42" y2="537.75" stroke="#333" stroke-width="0.6"/><line x1="40.5" y1="559.8" x2="42" y2="559.8" stroke="#333" stroke-width="0.6"/><line x1="40.5" y1="581.85" x2="42" y2="581.85" stroke="#333" stroke-width="0.6"/><line x1="40.5" y1="603.9" x2="42" y2="603.9" stroke="#333" stroke-width="0.6"/><line x1="40.5" y1="625.95" x2="42" y2="625.95" stroke="#333" stroke-width="0.6"/><text x="38.3" y="518.8" font-size="8.9" font-weight="bold" text-anchor="end" fill="#222">0.6</text><text x="38.3" y="562.9" font-size="8.9" font-weight="bold" text-anchor="end" fill="#222">0.2</text><text x="38.3" y="607" font-size="8.9" font-weight="bold" text-anchor="end" fill="#222">-0.2</text><line x1="50.7" y1="627.5" x2="50.7" y2="626.3" stroke="#333" stroke-width="0.6"/><line x1="84.6" y1="627.5" x2="84.6" y2="626.3" stroke="#333" stroke-width="0.6"/><text x="21.4" y="614.5" font-size="10.8" textLength="92.8" lengthAdjust="spacingAndGlyphs" transform="rotate(-90 21.4 614.5)" style="stroke:#111;stroke-width:0.25">Prediction accuracy</text><path d="M50.3,524 C50.1,524.7 49.9,526.3 49.3,528 C48.7,529.7 47.6,532 46.5,534 C45.4,536 43.5,538.1 42.5,540 C41.5,541.9 40.7,543.8 40.7,545.5 C40.7,547.2 41.4,548.2 42.3,550 C43.2,551.8 45.2,553.8 46.3,556 C47.4,558.2 48.3,560.7 48.9,563 C49.5,565.3 49.6,567.8 49.8,570 C50,572.2 50.1,575.3 50.3,576.4 C50.4,577.5 50.6,577.5 50.7,576.4 C50.9,575.3 51,572.2 51.2,570 C51.4,567.8 51.5,565.3 52.1,563 C52.7,560.7 53.6,558.2 54.7,556 C55.8,553.8 57.8,551.8 58.7,550 C59.6,548.2 60.3,547.2 60.3,545.5 C60.3,543.8 59.5,541.9 58.5,540 C57.5,538.1 55.6,536 54.5,534 C53.4,532 52.3,529.7 51.7,528 C51.1,526.3 50.9,524.7 50.7,524 C50.5,523.3 50.5,523.3 50.3,524Z" fill="#f3efac" stroke="#d6cb74" stroke-width="0.5"/><path d="M84.3,533.6 C84.1,534.7 84.1,537.6 83.7,540 C83.3,542.4 83,545.3 82,548 C81,550.7 79.2,553.7 78,556 C76.8,558.3 75.5,560.3 74.9,562 C74.3,563.7 74.1,564.5 74.3,566 C74.5,567.5 75.4,569 76.3,571 C77.2,573 78.7,575.5 79.7,578 C80.7,580.5 81.5,583 82.1,586 C82.7,589 83.2,592.7 83.5,596 C83.8,599.3 83.9,601.9 84,606 C84.1,610.1 84.2,618.1 84.3,620.5 C84.4,622.9 84.6,622.9 84.7,620.5 C84.8,618.1 84.9,610.1 85,606 C85.1,601.9 85.2,599.3 85.5,596 C85.8,592.7 86.3,589 86.9,586 C87.5,583 88.3,580.5 89.3,578 C90.3,575.5 91.8,573 92.7,571 C93.6,569 94.5,567.5 94.7,566 C94.9,564.5 94.7,563.7 94.1,562 C93.5,560.3 92.2,558.3 91,556 C89.8,553.7 88,550.7 87,548 C86,545.3 85.7,542.4 85.3,540 C84.9,537.6 84.9,534.7 84.7,533.6 C84.5,532.5 84.5,532.5 84.3,533.6Z" fill="#63c0ee" stroke="#5ab6e4" stroke-width="0.5"/><line x1="50.5" y1="537" x2="50.5" y2="556" stroke="#777" stroke-width="0.9"/><line x1="84.5" y1="556" x2="84.5" y2="575" stroke="#777" stroke-width="0.9"/><line x1="41.5" y1="546.2" x2="60" y2="546.2" stroke="#f0503a" stroke-width="1.3"/><line x1="74.8" y1="566.4" x2="94.2" y2="566.4" stroke="#e8506a" stroke-width="1.3"/><circle cx="50.5" cy="546.2" r="0.9" fill="#fff"/><circle cx="84.5" cy="566.4" r="0.9" fill="#fff"/><text x="52.6" y="632.6" font-size="10.2" font-weight="bold" text-anchor="end" textLength="56.6" lengthAdjust="spacingAndGlyphs" transform="rotate(-30.6 52.6 632.6)">Association</text><text x="86.7" y="632.6" font-size="10.2" font-weight="bold" text-anchor="end" textLength="37.5" lengthAdjust="spacingAndGlyphs" transform="rotate(-30.6 86.7 632.6)">Primary</text><rect x="147.9" y="633.83" width="4.72" height="0.47" fill="#8d9cb1" stroke="#5d6b80" stroke-width="0.45"/><rect x="152.62" y="633.83" width="4.72" height="0.47" fill="#8d9cb1" stroke="#5d6b80" stroke-width="0.45"/><rect x="157.34" y="633.83" width="4.72" height="0.47" fill="#8d9cb1" stroke="#5d6b80" stroke-width="0.45"/><rect x="162.06" y="634.06" width="4.72" height="0.24" fill="#8d9cb1" stroke="#5d6b80" stroke-width="0.45"/><rect x="166.78" y="633.59" width="4.72" height="0.71" fill="#8d9cb1" stroke="#5d6b80" stroke-width="0.45"/><rect x="171.5" y="633.35" width="4.72" height="0.95" fill="#8d9cb1" stroke="#5d6b80" stroke-width="0.45"/><rect x="176.22" y="632.41" width="4.72" height="1.89" fill="#8d9cb1" stroke="#5d6b80" stroke-width="0.45"/><rect x="180.94" y="630.14" width="4.72" height="4.16" fill="#8d9cb1" stroke="#5d6b80" stroke-width="0.45"/><rect x="185.66" y="627.3" width="4.72" height="7" fill="#8d9cb1" stroke="#5d6b80" stroke-width="0.45"/><rect x="190.38" y="624.51" width="4.72" height="9.79" fill="#8d9cb1" stroke="#5d6b80" stroke-width="0.45"/><rect x="195.1" y="615.06" width="4.72" height="19.24" fill="#8d9cb1" stroke="#5d6b80" stroke-width="0.45"/><rect x="199.82" y="604.14" width="4.72" height="30.16" fill="#8d9cb1" stroke="#5d6b80" stroke-width="0.45"/><rect x="204.54" y="584.33" width="4.72" height="49.97" fill="#8d9cb1" stroke="#5d6b80" stroke-width="0.45"/><rect x="209.26" y="563.19" width="4.72" height="71.11" fill="#8d9cb1" stroke="#5d6b80" stroke-width="0.45"/><rect x="213.98" y="538.65" width="4.72" height="95.65" fill="#8d9cb1" stroke="#5d6b80" stroke-width="0.45"/><rect x="218.7" y="536.76" width="4.72" height="97.54" fill="#8d9cb1" stroke="#5d6b80" stroke-width="0.45"/><rect x="223.42" y="525.46" width="4.72" height="108.84" fill="#8d9cb1" stroke="#5d6b80" stroke-width="0.45"/><rect x="228.14" y="533.92" width="4.72" height="100.38" fill="#8d9cb1" stroke="#5d6b80" stroke-width="0.45"/><rect x="232.86" y="543.38" width="4.72" height="90.92" fill="#8d9cb1" stroke="#5d6b80" stroke-width="0.45"/><rect x="237.58" y="545.79" width="4.72" height="88.51" fill="#8d9cb1" stroke="#5d6b80" stroke-width="0.45"/><rect x="242.3" y="570.14" width="4.72" height="64.16" fill="#8d9cb1" stroke="#5d6b80" stroke-width="0.45"/><rect x="247.02" y="590.14" width="4.72" height="44.16" fill="#8d9cb1" stroke="#5d6b80" stroke-width="0.45"/><rect x="251.74" y="604.14" width="4.72" height="30.16" fill="#8d9cb1" stroke="#5d6b80" stroke-width="0.45"/><rect x="256.46" y="615.62" width="4.72" height="18.68" fill="#8d9cb1" stroke="#5d6b80" stroke-width="0.45"/><rect x="261.18" y="628.25" width="4.72" height="6.05" fill="#8d9cb1" stroke="#5d6b80" stroke-width="0.45"/><rect x="265.9" y="631.08" width="4.72" height="3.22" fill="#8d9cb1" stroke="#5d6b80" stroke-width="0.45"/><rect x="270.62" y="632.41" width="4.72" height="1.89" fill="#8d9cb1" stroke="#5d6b80" stroke-width="0.45"/><rect x="146.8" y="516" width="135.3" height="118.3" fill="none" stroke="#666" stroke-width="0.8"/><line x1="146.8" y1="634.3" x2="148.2" y2="634.3" stroke="#555" stroke-width="0.5"/><line x1="282.1" y1="634.3" x2="280.7" y2="634.3" stroke="#555" stroke-width="0.5"/><text x="142.8" y="637.6" font-size="9.2" font-weight="bold" text-anchor="end" fill="#222">0</text><line x1="146.8" y1="610.66" x2="148.2" y2="610.66" stroke="#555" stroke-width="0.5"/><line x1="282.1" y1="610.66" x2="280.7" y2="610.66" stroke="#555" stroke-width="0.5"/><text x="142.8" y="613.96" font-size="9.2" font-weight="bold" text-anchor="end" fill="#222">50</text><line x1="146.8" y1="587.02" x2="148.2" y2="587.02" stroke="#555" stroke-width="0.5"/><line x1="282.1" y1="587.02" x2="280.7" y2="587.02" stroke="#555" stroke-width="0.5"/><text x="142.8" y="590.32" font-size="9.2" font-weight="bold" text-anchor="end" fill="#222">100</text><line x1="146.8" y1="563.38" x2="148.2" y2="563.38" stroke="#555" stroke-width="0.5"/><line x1="282.1" y1="563.38" x2="280.7" y2="563.38" stroke="#555" stroke-width="0.5"/><text x="142.8" y="566.68" font-size="9.2" font-weight="bold" text-anchor="end" fill="#222">150</text><line x1="146.8" y1="539.74" x2="148.2" y2="539.74" stroke="#555" stroke-width="0.5"/><line x1="282.1" y1="539.74" x2="280.7" y2="539.74" stroke="#555" stroke-width="0.5"/><text x="142.8" y="543.04" font-size="9.2" font-weight="bold" text-anchor="end" fill="#222">200</text><line x1="146.8" y1="516.1" x2="148.2" y2="516.1" stroke="#555" stroke-width="0.5"/><line x1="282.1" y1="516.1" x2="280.7" y2="516.1" stroke="#555" stroke-width="0.5"/><text x="142.8" y="519.4" font-size="9.2" font-weight="bold" text-anchor="end" fill="#222">250</text><line x1="147.9" y1="634.3" x2="147.9" y2="632.9" stroke="#555" stroke-width="0.5"/><line x1="147.9" y1="516" x2="147.9" y2="517.4" stroke="#555" stroke-width="0.5"/><text x="147.9" y="644.8" font-size="9.2" font-weight="bold" text-anchor="middle" fill="#222">0</text><line x1="195.1" y1="634.3" x2="195.1" y2="632.9" stroke="#555" stroke-width="0.5"/><line x1="195.1" y1="516" x2="195.1" y2="517.4" stroke="#555" stroke-width="0.5"/><text x="195.1" y="644.8" font-size="9.2" font-weight="bold" text-anchor="middle" fill="#222">0.2</text><line x1="242.3" y1="634.3" x2="242.3" y2="632.9" stroke="#555" stroke-width="0.5"/><line x1="242.3" y1="516" x2="242.3" y2="517.4" stroke="#555" stroke-width="0.5"/><text x="242.3" y="644.8" font-size="9.2" font-weight="bold" text-anchor="middle" fill="#222">0.4</text><text x="150.7" y="530" font-size="11.1" font-weight="bold" textLength="63.1" lengthAdjust="spacingAndGlyphs">Association</text><text x="162.5" y="658.7" font-size="10.8" font-weight="bold" fill="#222" textLength="102.5" lengthAdjust="spacingAndGlyphs">Prediction accuracy</text><text x="123.6" y="633.7" font-size="11.1" font-weight="bold" fill="#222" textLength="119.5" lengthAdjust="spacingAndGlyphs" transform="rotate(-90 123.6 633.7)">Counts in random CVs</text><circle cx="383.9" cy="594.7" r="1.35" fill="#0a0a0a"/><circle cx="412.7" cy="599.2" r="1.35" fill="#0a0a0a"/><circle cx="405.4" cy="594.6" r="1.35" fill="#0a0a0a"/><circle cx="406.6" cy="595.6" r="1.35" fill="#0a0a0a"/><circle cx="417.8" cy="586.4" r="1.35" fill="#0a0a0a"/><circle cx="435.1" cy="592.4" r="1.35" fill="#0a0a0a"/><circle cx="390.1" cy="593.5" r="1.35" fill="#0a0a0a"/><circle cx="398.3" cy="604.4" r="1.35" fill="#0a0a0a"/><circle cx="438.7" cy="584" r="1.35" fill="#0a0a0a"/><circle cx="397.5" cy="600.5" r="1.35" fill="#0a0a0a"/><circle cx="412.7" cy="593.8" r="1.35" fill="#0a0a0a"/><circle cx="413.8" cy="596.1" r="1.35" fill="#0a0a0a"/><circle cx="367.7" cy="617" r="1.35" fill="#0a0a0a"/><circle cx="423.8" cy="591.7" r="1.35" fill="#0a0a0a"/><circle cx="361" cy="601.5" r="1.35" fill="#0a0a0a"/><circle cx="410.4" cy="589.9" r="1.35" fill="#0a0a0a"/><circle cx="404.8" cy="594.1" r="1.35" fill="#0a0a0a"/><circle cx="387.9" cy="612.7" r="1.35" fill="#0a0a0a"/><circle cx="399.6" cy="596.7" r="1.35" fill="#0a0a0a"/><circle cx="397.3" cy="610.8" r="1.35" fill="#0a0a0a"/><circle cx="394.6" cy="604.3" r="1.35" fill="#0a0a0a"/><circle cx="418.2" cy="604.4" r="1.35" fill="#0a0a0a"/><circle cx="383.8" cy="605.6" r="1.35" fill="#0a0a0a"/><circle cx="407" cy="587.4" r="1.35" fill="#0a0a0a"/><circle cx="412.9" cy="607.1" r="1.35" fill="#0a0a0a"/><circle cx="383.9" cy="587.9" r="1.35" fill="#0a0a0a"/><circle cx="407.8" cy="598.2" r="1.35" fill="#0a0a0a"/><circle cx="412.4" cy="590.6" r="1.35" fill="#0a0a0a"/><circle cx="437.7" cy="589.9" r="1.35" fill="#0a0a0a"/><circle cx="389.7" cy="607.3" r="1.35" fill="#0a0a0a"/><circle cx="423.3" cy="593.8" r="1.35" fill="#0a0a0a"/><circle cx="407.7" cy="592.4" r="1.35" fill="#0a0a0a"/><circle cx="384.4" cy="587.1" r="1.35" fill="#0a0a0a"/><circle cx="399.3" cy="599.4" r="1.35" fill="#0a0a0a"/><circle cx="399" cy="596.6" r="1.35" fill="#0a0a0a"/><circle cx="397.4" cy="600.8" r="1.35" fill="#0a0a0a"/><circle cx="416.9" cy="584.2" r="1.35" fill="#0a0a0a"/><circle cx="418.8" cy="603.9" r="1.35" fill="#0a0a0a"/><circle cx="397" cy="586.8" r="1.35" fill="#0a0a0a"/><circle cx="404.4" cy="595.8" r="1.35" fill="#0a0a0a"/><circle cx="400.2" cy="585.3" r="1.35" fill="#0a0a0a"/><circle cx="395.6" cy="602" r="1.35" fill="#0a0a0a"/><circle cx="424.8" cy="606.1" r="1.35" fill="#0a0a0a"/><circle cx="395.4" cy="578" r="1.35" fill="#0a0a0a"/><circle cx="404.1" cy="593.8" r="1.35" fill="#0a0a0a"/><circle cx="365.2" cy="604.6" r="1.35" fill="#0a0a0a"/><circle cx="384.5" cy="606" r="1.35" fill="#0a0a0a"/><circle cx="388.5" cy="598.9" r="1.35" fill="#0a0a0a"/><circle cx="398.5" cy="589.9" r="1.35" fill="#0a0a0a"/><circle cx="359.4" cy="610" r="1.35" fill="#0a0a0a"/><circle cx="418.2" cy="591.7" r="1.35" fill="#0a0a0a"/><circle cx="431.9" cy="596.2" r="1.35" fill="#0a0a0a"/><circle cx="423.8" cy="589.5" r="1.35" fill="#0a0a0a"/><circle cx="379.2" cy="615.4" r="1.35" fill="#0a0a0a"/><circle cx="441.6" cy="581.7" r="1.35" fill="#0a0a0a"/><circle cx="406.8" cy="602.8" r="1.35" fill="#0a0a0a"/><circle cx="368.5" cy="605.9" r="1.35" fill="#0a0a0a"/><circle cx="406" cy="583.9" r="1.35" fill="#0a0a0a"/><circle cx="397.5" cy="599.1" r="1.35" fill="#0a0a0a"/><circle cx="401.9" cy="588.9" r="1.35" fill="#0a0a0a"/><circle cx="435.1" cy="576.7" r="1.35" fill="#0a0a0a"/><circle cx="404.7" cy="590.8" r="1.35" fill="#0a0a0a"/><circle cx="384.8" cy="605.7" r="1.35" fill="#0a0a0a"/><circle cx="397.3" cy="591.4" r="1.35" fill="#0a0a0a"/><circle cx="361.3" cy="603.6" r="1.35" fill="#0a0a0a"/><circle cx="443.1" cy="581.7" r="1.35" fill="#0a0a0a"/><circle cx="432.5" cy="596.6" r="1.35" fill="#0a0a0a"/><circle cx="411" cy="603.1" r="1.35" fill="#0a0a0a"/><circle cx="436.4" cy="594.4" r="1.35" fill="#0a0a0a"/><circle cx="396.3" cy="606.2" r="1.35" fill="#0a0a0a"/><circle cx="410.3" cy="583.6" r="1.35" fill="#0a0a0a"/><circle cx="404.5" cy="597.5" r="1.35" fill="#0a0a0a"/><circle cx="395.5" cy="589" r="1.35" fill="#0a0a0a"/><circle cx="407.2" cy="592.1" r="1.35" fill="#0a0a0a"/><circle cx="406" cy="595.1" r="1.35" fill="#0a0a0a"/><circle cx="419" cy="588.7" r="1.35" fill="#0a0a0a"/><circle cx="376.4" cy="601.6" r="1.35" fill="#0a0a0a"/><circle cx="401" cy="593.4" r="1.35" fill="#0a0a0a"/><circle cx="429.2" cy="598" r="1.35" fill="#0a0a0a"/><circle cx="391.6" cy="610" r="1.35" fill="#0a0a0a"/><circle cx="393.1" cy="588.9" r="1.35" fill="#0a0a0a"/><circle cx="392.6" cy="588.1" r="1.35" fill="#0a0a0a"/><circle cx="406.2" cy="597.8" r="1.35" fill="#0a0a0a"/><circle cx="407.5" cy="600.1" r="1.35" fill="#0a0a0a"/><circle cx="412.5" cy="595" r="1.35" fill="#0a0a0a"/><circle cx="368.5" cy="608.9" r="1.35" fill="#0a0a0a"/><circle cx="415" cy="597.1" r="1.35" fill="#0a0a0a"/><circle cx="362.1" cy="595.6" r="1.35" fill="#0a0a0a"/><circle cx="432.9" cy="601.7" r="1.35" fill="#0a0a0a"/><circle cx="404.9" cy="590.2" r="1.35" fill="#0a0a0a"/><circle cx="413.9" cy="590" r="1.35" fill="#0a0a0a"/><circle cx="375.5" cy="593.5" r="1.35" fill="#0a0a0a"/><circle cx="398.2" cy="602" r="1.35" fill="#0a0a0a"/><circle cx="414.1" cy="587.1" r="1.35" fill="#0a0a0a"/><circle cx="422" cy="599.6" r="1.35" fill="#0a0a0a"/><circle cx="412" cy="607.4" r="1.35" fill="#0a0a0a"/><circle cx="421.4" cy="600.4" r="1.35" fill="#0a0a0a"/><circle cx="388.9" cy="593.1" r="1.35" fill="#0a0a0a"/><circle cx="409.8" cy="602" r="1.35" fill="#0a0a0a"/><circle cx="417.8" cy="580.1" r="1.35" fill="#0a0a0a"/><circle cx="376.5" cy="600" r="1.35" fill="#0a0a0a"/><circle cx="407.3" cy="594.1" r="1.35" fill="#0a0a0a"/><circle cx="408" cy="587.7" r="1.35" fill="#0a0a0a"/><circle cx="420.2" cy="592.7" r="1.35" fill="#0a0a0a"/><circle cx="424.6" cy="596.4" r="1.35" fill="#0a0a0a"/><circle cx="440.3" cy="590.2" r="1.35" fill="#0a0a0a"/><circle cx="400.8" cy="592.6" r="1.35" fill="#0a0a0a"/><circle cx="385.7" cy="609" r="1.35" fill="#0a0a0a"/><circle cx="390.7" cy="587.7" r="1.35" fill="#0a0a0a"/><circle cx="417.5" cy="599.7" r="1.35" fill="#0a0a0a"/><circle cx="402.6" cy="597" r="1.35" fill="#0a0a0a"/><circle cx="390.9" cy="602.7" r="1.35" fill="#0a0a0a"/><circle cx="385.5" cy="611.1" r="1.35" fill="#0a0a0a"/><circle cx="388.9" cy="589.3" r="1.35" fill="#0a0a0a"/><circle cx="416" cy="596.5" r="1.35" fill="#0a0a0a"/><circle cx="411.3" cy="604.4" r="1.35" fill="#0a0a0a"/><circle cx="411.9" cy="596.6" r="1.35" fill="#0a0a0a"/><circle cx="395.9" cy="594.9" r="1.35" fill="#0a0a0a"/><circle cx="402.3" cy="580.1" r="1.35" fill="#0a0a0a"/><circle cx="386.4" cy="601.2" r="1.35" fill="#0a0a0a"/><circle cx="411" cy="596.2" r="1.35" fill="#0a0a0a"/><circle cx="438.3" cy="589.4" r="1.35" fill="#0a0a0a"/><circle cx="369.7" cy="608" r="1.35" fill="#0a0a0a"/><circle cx="357.1" cy="604.3" r="1.35" fill="#0a0a0a"/><circle cx="397.7" cy="592.8" r="1.35" fill="#0a0a0a"/><circle cx="422.9" cy="600.3" r="1.35" fill="#0a0a0a"/><circle cx="407.5" cy="596" r="1.35" fill="#0a0a0a"/><circle cx="436.6" cy="590" r="1.35" fill="#0a0a0a"/><circle cx="398.4" cy="600.8" r="1.35" fill="#0a0a0a"/><circle cx="414.6" cy="608.4" r="1.35" fill="#0a0a0a"/><circle cx="387" cy="607.4" r="1.35" fill="#0a0a0a"/><circle cx="376.8" cy="596.4" r="1.35" fill="#0a0a0a"/><circle cx="370" cy="590.7" r="1.35" fill="#0a0a0a"/><circle cx="379.8" cy="607.4" r="1.35" fill="#0a0a0a"/><circle cx="455.3" cy="598.5" r="1.35" fill="#0a0a0a"/><circle cx="395.2" cy="599.1" r="1.35" fill="#0a0a0a"/><circle cx="360.9" cy="606.9" r="1.35" fill="#0a0a0a"/><circle cx="408.7" cy="590" r="1.35" fill="#0a0a0a"/><circle cx="402.4" cy="591.3" r="1.35" fill="#0a0a0a"/><circle cx="414" cy="604.3" r="1.35" fill="#0a0a0a"/><circle cx="425.1" cy="588.3" r="1.35" fill="#0a0a0a"/><circle cx="403.2" cy="598.7" r="1.35" fill="#0a0a0a"/><circle cx="405.8" cy="595.2" r="1.35" fill="#0a0a0a"/><circle cx="398" cy="605.5" r="1.35" fill="#0a0a0a"/><circle cx="419.6" cy="593.6" r="1.35" fill="#0a0a0a"/><circle cx="413.8" cy="585.4" r="1.35" fill="#0a0a0a"/><circle cx="386.1" cy="596.1" r="1.35" fill="#0a0a0a"/><circle cx="402" cy="595.1" r="1.35" fill="#0a0a0a"/><circle cx="391.7" cy="588.7" r="1.35" fill="#0a0a0a"/><circle cx="379" cy="603.5" r="1.35" fill="#0a0a0a"/><circle cx="407.8" cy="594.2" r="1.35" fill="#0a0a0a"/><circle cx="407.2" cy="609" r="1.35" fill="#0a0a0a"/><circle cx="377" cy="617" r="1.35" fill="#0a0a0a"/><circle cx="393.5" cy="586.3" r="1.35" fill="#0a0a0a"/><circle cx="398.3" cy="587.2" r="1.35" fill="#0a0a0a"/><circle cx="422.9" cy="598.5" r="1.35" fill="#0a0a0a"/><circle cx="360.7" cy="617" r="1.35" fill="#0a0a0a"/><circle cx="390.1" cy="598.8" r="1.35" fill="#0a0a0a"/><circle cx="433.1" cy="595.3" r="1.35" fill="#0a0a0a"/><circle cx="397.4" cy="592.2" r="1.35" fill="#0a0a0a"/><circle cx="413" cy="594.8" r="1.35" fill="#0a0a0a"/><circle cx="429.8" cy="593.8" r="1.35" fill="#0a0a0a"/><circle cx="407.3" cy="602.1" r="1.35" fill="#0a0a0a"/><circle cx="421.4" cy="604.5" r="1.35" fill="#0a0a0a"/><circle cx="420.8" cy="600.5" r="1.35" fill="#0a0a0a"/><circle cx="427" cy="598.1" r="1.35" fill="#0a0a0a"/><circle cx="431.4" cy="578.3" r="1.35" fill="#0a0a0a"/><circle cx="390.5" cy="581.7" r="1.35" fill="#0a0a0a"/><circle cx="385.6" cy="602.4" r="1.35" fill="#0a0a0a"/><circle cx="385.7" cy="600.8" r="1.35" fill="#0a0a0a"/><circle cx="410" cy="594.6" r="1.35" fill="#0a0a0a"/><circle cx="441.6" cy="581.6" r="1.35" fill="#0a0a0a"/><circle cx="402.2" cy="595.7" r="1.35" fill="#0a0a0a"/><circle cx="381.9" cy="593.8" r="1.35" fill="#0a0a0a"/><circle cx="375.5" cy="615" r="1.35" fill="#0a0a0a"/><circle cx="375.7" cy="585.4" r="1.35" fill="#0a0a0a"/><circle cx="416.3" cy="594.4" r="1.35" fill="#0a0a0a"/><circle cx="376.2" cy="600.8" r="1.35" fill="#0a0a0a"/><circle cx="374.5" cy="594.8" r="1.35" fill="#0a0a0a"/><circle cx="404.5" cy="596.7" r="1.35" fill="#0a0a0a"/><circle cx="382.8" cy="593" r="1.35" fill="#0a0a0a"/><circle cx="404" cy="591.6" r="1.35" fill="#0a0a0a"/><circle cx="391" cy="606" r="1.35" fill="#0a0a0a"/><circle cx="453.3" cy="590" r="1.35" fill="#0a0a0a"/><circle cx="402.9" cy="595" r="1.35" fill="#0a0a0a"/><circle cx="413.9" cy="587.4" r="1.35" fill="#0a0a0a"/><circle cx="386" cy="595.9" r="1.35" fill="#0a0a0a"/><circle cx="419" cy="590.8" r="1.35" fill="#0a0a0a"/><circle cx="376.6" cy="594.2" r="1.35" fill="#0a0a0a"/><circle cx="425.7" cy="585.5" r="1.35" fill="#0a0a0a"/><circle cx="379.8" cy="591.3" r="1.35" fill="#0a0a0a"/><circle cx="399.2" cy="602.4" r="1.35" fill="#0a0a0a"/><circle cx="399.5" cy="605" r="1.35" fill="#0a0a0a"/><circle cx="406.7" cy="597.8" r="1.35" fill="#0a0a0a"/><circle cx="395.4" cy="589.3" r="1.35" fill="#0a0a0a"/><circle cx="399.3" cy="589.9" r="1.35" fill="#0a0a0a"/><circle cx="391.7" cy="601.6" r="1.35" fill="#0a0a0a"/><circle cx="415" cy="600.1" r="1.35" fill="#0a0a0a"/><circle cx="386.4" cy="617" r="1.35" fill="#0a0a0a"/><circle cx="437.5" cy="581.5" r="1.35" fill="#0a0a0a"/><circle cx="414.5" cy="587.1" r="1.35" fill="#0a0a0a"/><circle cx="438.1" cy="578.5" r="1.35" fill="#0a0a0a"/><circle cx="395.9" cy="589.2" r="1.35" fill="#0a0a0a"/><circle cx="415.7" cy="595.6" r="1.35" fill="#0a0a0a"/><circle cx="431.6" cy="586.3" r="1.35" fill="#0a0a0a"/><circle cx="414.6" cy="593.8" r="1.35" fill="#0a0a0a"/><circle cx="404.6" cy="595.5" r="1.35" fill="#0a0a0a"/><circle cx="401" cy="595" r="1.35" fill="#0a0a0a"/><circle cx="426.2" cy="597.1" r="1.35" fill="#0a0a0a"/><circle cx="437" cy="588.6" r="1.35" fill="#0a0a0a"/><circle cx="407.7" cy="579.6" r="1.35" fill="#0a0a0a"/><circle cx="414.5" cy="594.1" r="1.35" fill="#0a0a0a"/><circle cx="379.2" cy="590.1" r="1.35" fill="#0a0a0a"/><circle cx="451.5" cy="597.3" r="1.35" fill="#0a0a0a"/><circle cx="409.9" cy="588.3" r="1.35" fill="#0a0a0a"/><circle cx="426.6" cy="604.8" r="1.35" fill="#0a0a0a"/><circle cx="412.3" cy="596.6" r="1.35" fill="#0a0a0a"/><circle cx="424.2" cy="591.4" r="1.35" fill="#0a0a0a"/><circle cx="421.4" cy="604.1" r="1.35" fill="#0a0a0a"/><circle cx="378.8" cy="594.8" r="1.35" fill="#0a0a0a"/><circle cx="369.4" cy="597.4" r="1.35" fill="#0a0a0a"/><circle cx="396.9" cy="584.9" r="1.35" fill="#0a0a0a"/><circle cx="419.9" cy="585.3" r="1.35" fill="#0a0a0a"/><circle cx="397.8" cy="591.1" r="1.35" fill="#0a0a0a"/><circle cx="404.2" cy="594.7" r="1.35" fill="#0a0a0a"/><circle cx="429.2" cy="585.8" r="1.35" fill="#0a0a0a"/><circle cx="390" cy="609.4" r="1.35" fill="#0a0a0a"/><circle cx="380.6" cy="596.3" r="1.35" fill="#0a0a0a"/><circle cx="420.5" cy="616.5" r="1.35" fill="#0a0a0a"/><circle cx="379.2" cy="592.5" r="1.35" fill="#0a0a0a"/><circle cx="382.4" cy="546.8" r="1.35" fill="#0a0a0a"/><circle cx="402.2" cy="548.6" r="1.35" fill="#0a0a0a"/><circle cx="394.8" cy="555.3" r="1.35" fill="#0a0a0a"/><circle cx="415.8" cy="554.3" r="1.35" fill="#0a0a0a"/><circle cx="384.9" cy="619.9" r="1.35" fill="#0a0a0a"/><circle cx="409.6" cy="613.2" r="1.35" fill="#0a0a0a"/><circle cx="347.7" cy="580" r="1.35" fill="#0a0a0a"/><circle cx="346.5" cy="599" r="1.35" fill="#0a0a0a"/><circle cx="455.4" cy="565.8" r="1.35" fill="#0a0a0a"/><circle cx="450.5" cy="562.9" r="1.35" fill="#0a0a0a"/><circle cx="448" cy="569.5" r="1.35" fill="#0a0a0a"/><circle cx="431.9" cy="571.4" r="1.35" fill="#0a0a0a"/><line x1="346" y1="600.9" x2="458.2" y2="584.3" stroke="#e8301c" stroke-width="2"/><path d="M334.7,527.3 V630.6 H465.5" fill="none" stroke="#333" stroke-width="0.9"/><line x1="334.7" y1="546.75" x2="336" y2="546.75" stroke="#333" stroke-width="0.6"/><text x="329.6" y="550.05" font-size="9.2" font-weight="bold" text-anchor="end" fill="#222">28.4</text><line x1="334.7" y1="583.8" x2="336" y2="583.8" stroke="#333" stroke-width="0.6"/><text x="329.6" y="587.1" font-size="9.2" font-weight="bold" text-anchor="end" fill="#222">24.5</text><line x1="334.7" y1="619.9" x2="336" y2="619.9" stroke="#333" stroke-width="0.6"/><text x="329.6" y="623.2" font-size="9.2" font-weight="bold" text-anchor="end" fill="#222">20.7</text><line x1="346.5" y1="630.6" x2="346.5" y2="629.3" stroke="#333" stroke-width="0.6"/><text x="346.5" y="644.8" font-size="9.2" font-weight="bold" text-anchor="middle" fill="#222">18.7</text><line x1="402.21" y1="630.6" x2="402.21" y2="629.3" stroke="#333" stroke-width="0.6"/><text x="402.21" y="644.8" font-size="9.2" font-weight="bold" text-anchor="middle" fill="#222">23.2</text><line x1="457.92" y1="630.6" x2="457.92" y2="629.3" stroke="#333" stroke-width="0.6"/><text x="457.92" y="644.8" font-size="9.2" font-weight="bold" text-anchor="middle" fill="#222">27.7</text><text x="341.2" y="537" font-size="9.6" font-weight="bold" fill="#111" xml:space="preserve">r = 0.35; p<tspan dy="2.4" font-size="6.2">perm</tspan><tspan dy="-2.4"> = 0.0005</tspan></text><text x="406.9" y="624.5" font-size="10.9" font-weight="bold" textLength="61.8" lengthAdjust="spacingAndGlyphs">Association</text><text x="338.6" y="658.7" font-size="11.3" font-weight="bold" fill="#222" textLength="123.5" lengthAdjust="spacingAndGlyphs">Actual nodal efficiency</text><text x="308.4" y="656" font-size="11" font-weight="bold" fill="#222" textLength="136.5" lengthAdjust="spacingAndGlyphs" transform="rotate(-90 308.4 656)">Predicted nodal efficiency</text><text x="517.4" y="522.4" font-size="11.7" font-weight="bold" textLength="152.6" lengthAdjust="spacingAndGlyphs">Cumulative feature weights</text><text x="572.2" y="534.9" font-size="11.7" font-weight="bold" textLength="45.5" lengthAdjust="spacingAndGlyphs">per year</text><text x="617.1" y="545.4" font-size="10.6" font-weight="bold" fill="#c43a28" textLength="67" lengthAdjust="spacingAndGlyphs">92.3% of max</text><rect x="533.2" y="632.5" width="6.2" height="2.8" fill="#c0300e"/><rect x="541.3" y="594.7" width="6.2" height="40.6" fill="#c0300e"/><rect x="548.9" y="591.6" width="6.2" height="43.7" fill="#c0300e"/><rect x="556.7" y="594.5" width="6.2" height="40.8" fill="#c0300e"/><rect x="564.2" y="581.4" width="6.2" height="53.9" fill="#c0300e"/><rect x="572" y="574" width="6.2" height="61.3" fill="#c0300e"/><rect x="579.8" y="567.1" width="6.2" height="68.2" fill="#c0300e"/><rect x="587.3" y="562" width="6.2" height="73.3" fill="#6b7686"/><rect x="595.1" y="558.9" width="6.2" height="76.4" fill="#6b7686"/><rect x="603.1" y="557.9" width="6.2" height="77.4" fill="#6b7686"/><rect x="610.8" y="556.9" width="6.2" height="78.4" fill="#6b7686"/><rect x="618.6" y="554.8" width="6.2" height="80.5" fill="#6b7686"/><rect x="626.4" y="552.2" width="6.2" height="83.1" fill="#6b7686"/><rect x="634.3" y="552.2" width="6.2" height="83.1" fill="#6b7686"/><rect x="641.9" y="552.2" width="6.2" height="83.1" fill="#6b7686"/><rect x="649.7" y="552.2" width="6.2" height="83.1" fill="#6b7686"/><line x1="585.9" y1="567.5" x2="661.5" y2="567.5" stroke="#e02020" stroke-width="1" stroke-dasharray="1.2,0.8"/><rect x="527.5" y="552.2" width="134" height="83.1" fill="none" stroke="#333" stroke-width="0.9"/><line x1="527.5" y1="555.3" x2="529" y2="555.3" stroke="#333" stroke-width="0.6"/><line x1="661.5" y1="555.3" x2="660" y2="555.3" stroke="#333" stroke-width="0.6"/><line x1="527.5" y1="609.8" x2="529" y2="609.8" stroke="#333" stroke-width="0.6"/><line x1="661.5" y1="609.8" x2="660" y2="609.8" stroke="#333" stroke-width="0.6"/><text x="522.8" y="558.9" font-size="11" font-weight="bold" text-anchor="end">0.3</text><text x="522.8" y="613.4" font-size="11" font-weight="bold" text-anchor="end">0.1</text><line x1="535.2" y1="635.3" x2="535.2" y2="633.8" stroke="#333" stroke-width="0.6"/><line x1="535.2" y1="552.2" x2="535.2" y2="553.7" stroke="#333" stroke-width="0.6"/><text x="535.2" y="647.2" font-size="11" font-weight="bold" text-anchor="middle">0</text><line x1="550.5" y1="635.3" x2="550.5" y2="633.8" stroke="#333" stroke-width="0.6"/><line x1="550.5" y1="552.2" x2="550.5" y2="553.7" stroke="#333" stroke-width="0.6"/><text x="550.5" y="647.2" font-size="11" font-weight="bold" text-anchor="middle">1</text><line x1="566.5" y1="635.3" x2="566.5" y2="633.8" stroke="#333" stroke-width="0.6"/><line x1="566.5" y1="552.2" x2="566.5" y2="553.7" stroke="#333" stroke-width="0.6"/><text x="566.5" y="647.2" font-size="11" font-weight="bold" text-anchor="middle">2</text><line x1="582.6" y1="635.3" x2="582.6" y2="633.8" stroke="#333" stroke-width="0.6"/><line x1="582.6" y1="552.2" x2="582.6" y2="553.7" stroke="#333" stroke-width="0.6"/><text x="582.6" y="647.2" font-size="11" font-weight="bold" text-anchor="middle">3</text><line x1="598.6" y1="635.3" x2="598.6" y2="633.8" stroke="#333" stroke-width="0.6"/><line x1="598.6" y1="552.2" x2="598.6" y2="553.7" stroke="#333" stroke-width="0.6"/><text x="598.6" y="647.2" font-size="11" font-weight="bold" text-anchor="middle">4</text><line x1="614.5" y1="635.3" x2="614.5" y2="633.8" stroke="#333" stroke-width="0.6"/><line x1="614.5" y1="552.2" x2="614.5" y2="553.7" stroke="#333" stroke-width="0.6"/><text x="614.5" y="647.2" font-size="11" font-weight="bold" text-anchor="middle">5</text><line x1="630.7" y1="635.3" x2="630.7" y2="633.8" stroke="#333" stroke-width="0.6"/><line x1="630.7" y1="552.2" x2="630.7" y2="553.7" stroke="#333" stroke-width="0.6"/><text x="630.7" y="647.2" font-size="11" font-weight="bold" text-anchor="middle">6</text><line x1="646.6" y1="635.3" x2="646.6" y2="633.8" stroke="#333" stroke-width="0.6"/><line x1="646.6" y1="552.2" x2="646.6" y2="553.7" stroke="#333" stroke-width="0.6"/><text x="646.6" y="647.2" font-size="11" font-weight="bold" text-anchor="middle">7</text><text x="595.2" y="658.2" font-size="11.3" font-weight="bold" text-anchor="middle">Age</text><text x="498.6" y="650.2" font-size="12.4" font-weight="bold" textLength="119.8" lengthAdjust="spacingAndGlyphs" transform="rotate(-90 498.6 650.2)">Prediction accuracy</text></svg></body></html>
